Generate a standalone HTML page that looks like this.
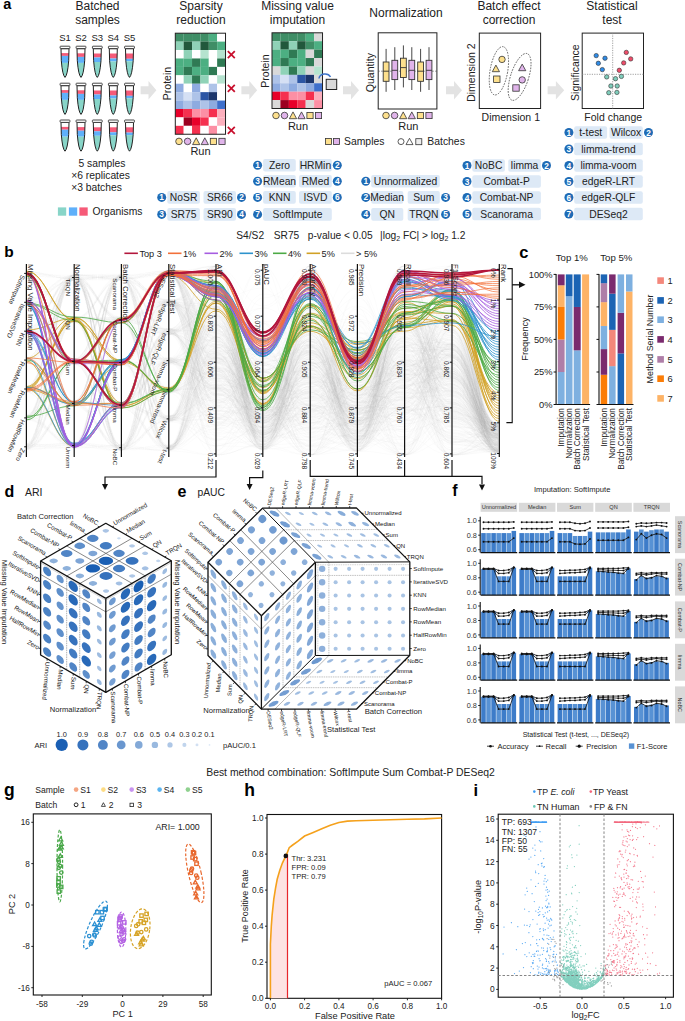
<!DOCTYPE html>
<html><head><meta charset="utf-8"><style>
html,body{margin:0;padding:0;background:#fff;width:685px;height:1021px;overflow:hidden}
svg{display:block}
text{font-family:"Liberation Sans",sans-serif}
</style></head><body>
<svg width="685" height="1021" viewBox="0 0 685 1021">
<text x="3.2" y="9.2" font-size="14.5" text-anchor="start" font-weight="bold" fill="#000" >a</text>
<text x="97.5" y="9.6" font-size="12" text-anchor="middle" font-weight="normal" fill="#222" >Batched</text>
<text x="97.5" y="23.6" font-size="12" text-anchor="middle" font-weight="normal" fill="#222" >samples</text>
<text x="201.0" y="9.6" font-size="12" text-anchor="middle" font-weight="normal" fill="#222" >Sparsity</text>
<text x="201.0" y="23.6" font-size="12" text-anchor="middle" font-weight="normal" fill="#222" >reduction</text>
<text x="297.5" y="9.6" font-size="12" text-anchor="middle" font-weight="normal" fill="#222" >Missing value</text>
<text x="297.5" y="23.6" font-size="12" text-anchor="middle" font-weight="normal" fill="#222" >imputation</text>
<text x="509.0" y="9.6" font-size="12" text-anchor="middle" font-weight="normal" fill="#222" >Batch effect</text>
<text x="509.0" y="23.6" font-size="12" text-anchor="middle" font-weight="normal" fill="#222" >correction</text>
<text x="612.0" y="9.6" font-size="12" text-anchor="middle" font-weight="normal" fill="#222" >Statistical</text>
<text x="612.0" y="23.6" font-size="12" text-anchor="middle" font-weight="normal" fill="#222" >test</text>
<text x="406.0" y="17.0" font-size="12" text-anchor="middle" font-weight="normal" fill="#222" >Normalization</text>
<text x="65.0" y="41.0" font-size="9.5" text-anchor="middle" font-weight="normal" fill="#222" >S1</text>
<text x="81.0" y="41.0" font-size="9.5" text-anchor="middle" font-weight="normal" fill="#222" >S2</text>
<text x="97.3" y="41.0" font-size="9.5" text-anchor="middle" font-weight="normal" fill="#222" >S3</text>
<text x="113.3" y="41.0" font-size="9.5" text-anchor="middle" font-weight="normal" fill="#222" >S4</text>
<text x="129.5" y="41.0" font-size="9.5" text-anchor="middle" font-weight="normal" fill="#222" >S5</text>
<clipPath id="tc00"><path d="M61.0,48.7 L61.3,60.7 Q62.5,75.4 65.0,77.4 Q67.5,75.4 68.7,60.7 L69.0,48.7 Z"/></clipPath>
<g clip-path="url(#tc00)"><rect x="60" y="53.1" width="10" height="2.8" fill="#f65a78"/><rect x="60" y="55.9" width="10" height="7.0" fill="#5fb0fa"/><rect x="60" y="62.9" width="10" height="20" fill="#88d5c8"/></g>
<path d="M61.0,48.7 L61.3,60.7 Q62.5,75.4 65.0,77.4 Q67.5,75.4 68.7,60.7 L69.0,48.7 Z" fill="none" stroke="#222" stroke-width="1"/>
<rect x="60.1" y="46.2" width="9.8" height="2.4" rx="0.6" fill="#fff" stroke="#333" stroke-width="0.9"/>
<clipPath id="tc01"><path d="M77.0,48.7 L77.3,60.7 Q78.5,75.4 81.0,77.4 Q83.5,75.4 84.7,60.7 L85.0,48.7 Z"/></clipPath>
<g clip-path="url(#tc01)"><rect x="76" y="53.3" width="10" height="3.6" fill="#f65a78"/><rect x="76" y="56.9" width="10" height="6.0" fill="#5fb0fa"/><rect x="76" y="62.9" width="10" height="20" fill="#88d5c8"/></g>
<path d="M77.0,48.7 L77.3,60.7 Q78.5,75.4 81.0,77.4 Q83.5,75.4 84.7,60.7 L85.0,48.7 Z" fill="none" stroke="#222" stroke-width="1"/>
<rect x="76.1" y="46.2" width="9.8" height="2.4" rx="0.6" fill="#fff" stroke="#333" stroke-width="0.9"/>
<clipPath id="tc02"><path d="M93.3,48.7 L93.6,60.7 Q94.8,75.4 97.3,77.4 Q99.8,75.4 101.0,60.7 L101.3,48.7 Z"/></clipPath>
<g clip-path="url(#tc02)"><rect x="92.3" y="53.5" width="10" height="4.0" fill="#f65a78"/><rect x="92.3" y="57.5" width="10" height="4.5" fill="#5fb0fa"/><rect x="92.3" y="62.0" width="10" height="20" fill="#88d5c8"/></g>
<path d="M93.3,48.7 L93.6,60.7 Q94.8,75.4 97.3,77.4 Q99.8,75.4 101.0,60.7 L101.3,48.7 Z" fill="none" stroke="#222" stroke-width="1"/>
<rect x="92.4" y="46.2" width="9.8" height="2.4" rx="0.6" fill="#fff" stroke="#333" stroke-width="0.9"/>
<clipPath id="tc03"><path d="M109.3,48.7 L109.6,60.7 Q110.8,75.4 113.3,77.4 Q115.8,75.4 117.0,60.7 L117.3,48.7 Z"/></clipPath>
<g clip-path="url(#tc03)"><rect x="108.3" y="53.5" width="10" height="5.0" fill="#f65a78"/><rect x="108.3" y="58.5" width="10" height="3.0" fill="#5fb0fa"/><rect x="108.3" y="61.5" width="10" height="20" fill="#88d5c8"/></g>
<path d="M109.3,48.7 L109.6,60.7 Q110.8,75.4 113.3,77.4 Q115.8,75.4 117.0,60.7 L117.3,48.7 Z" fill="none" stroke="#222" stroke-width="1"/>
<rect x="108.4" y="46.2" width="9.8" height="2.4" rx="0.6" fill="#fff" stroke="#333" stroke-width="0.9"/>
<clipPath id="tc04"><path d="M125.5,48.7 L125.8,60.7 Q127.0,75.4 129.5,77.4 Q132.0,75.4 133.2,60.7 L133.5,48.7 Z"/></clipPath>
<g clip-path="url(#tc04)"><rect x="124.5" y="53.5" width="10" height="5.3" fill="#f65a78"/><rect x="124.5" y="58.8" width="10" height="2.5" fill="#5fb0fa"/><rect x="124.5" y="61.3" width="10" height="20" fill="#88d5c8"/></g>
<path d="M125.5,48.7 L125.8,60.7 Q127.0,75.4 129.5,77.4 Q132.0,75.4 133.2,60.7 L133.5,48.7 Z" fill="none" stroke="#222" stroke-width="1"/>
<rect x="124.6" y="46.2" width="9.8" height="2.4" rx="0.6" fill="#fff" stroke="#333" stroke-width="0.9"/>
<clipPath id="tc10"><path d="M61.0,85.7 L61.3,97.7 Q62.5,112.4 65.0,114.4 Q67.5,112.4 68.7,97.7 L69.0,85.7 Z"/></clipPath>
<g clip-path="url(#tc10)"><rect x="60" y="90.1" width="10" height="2.8" fill="#f65a78"/><rect x="60" y="92.9" width="10" height="7.0" fill="#5fb0fa"/><rect x="60" y="99.9" width="10" height="20" fill="#88d5c8"/></g>
<path d="M61.0,85.7 L61.3,97.7 Q62.5,112.4 65.0,114.4 Q67.5,112.4 68.7,97.7 L69.0,85.7 Z" fill="none" stroke="#222" stroke-width="1"/>
<rect x="60.1" y="83.2" width="9.8" height="2.4" rx="0.6" fill="#fff" stroke="#333" stroke-width="0.9"/>
<clipPath id="tc11"><path d="M77.0,85.7 L77.3,97.7 Q78.5,112.4 81.0,114.4 Q83.5,112.4 84.7,97.7 L85.0,85.7 Z"/></clipPath>
<g clip-path="url(#tc11)"><rect x="76" y="90.3" width="10" height="3.6" fill="#f65a78"/><rect x="76" y="93.9" width="10" height="6.0" fill="#5fb0fa"/><rect x="76" y="99.9" width="10" height="20" fill="#88d5c8"/></g>
<path d="M77.0,85.7 L77.3,97.7 Q78.5,112.4 81.0,114.4 Q83.5,112.4 84.7,97.7 L85.0,85.7 Z" fill="none" stroke="#222" stroke-width="1"/>
<rect x="76.1" y="83.2" width="9.8" height="2.4" rx="0.6" fill="#fff" stroke="#333" stroke-width="0.9"/>
<clipPath id="tc12"><path d="M93.3,85.7 L93.6,97.7 Q94.8,112.4 97.3,114.4 Q99.8,112.4 101.0,97.7 L101.3,85.7 Z"/></clipPath>
<g clip-path="url(#tc12)"><rect x="92.3" y="90.5" width="10" height="4.0" fill="#f65a78"/><rect x="92.3" y="94.5" width="10" height="4.5" fill="#5fb0fa"/><rect x="92.3" y="99.0" width="10" height="20" fill="#88d5c8"/></g>
<path d="M93.3,85.7 L93.6,97.7 Q94.8,112.4 97.3,114.4 Q99.8,112.4 101.0,97.7 L101.3,85.7 Z" fill="none" stroke="#222" stroke-width="1"/>
<rect x="92.4" y="83.2" width="9.8" height="2.4" rx="0.6" fill="#fff" stroke="#333" stroke-width="0.9"/>
<clipPath id="tc13"><path d="M109.3,85.7 L109.6,97.7 Q110.8,112.4 113.3,114.4 Q115.8,112.4 117.0,97.7 L117.3,85.7 Z"/></clipPath>
<g clip-path="url(#tc13)"><rect x="108.3" y="90.5" width="10" height="5.0" fill="#f65a78"/><rect x="108.3" y="95.5" width="10" height="3.0" fill="#5fb0fa"/><rect x="108.3" y="98.5" width="10" height="20" fill="#88d5c8"/></g>
<path d="M109.3,85.7 L109.6,97.7 Q110.8,112.4 113.3,114.4 Q115.8,112.4 117.0,97.7 L117.3,85.7 Z" fill="none" stroke="#222" stroke-width="1"/>
<rect x="108.4" y="83.2" width="9.8" height="2.4" rx="0.6" fill="#fff" stroke="#333" stroke-width="0.9"/>
<clipPath id="tc14"><path d="M125.5,85.7 L125.8,97.7 Q127.0,112.4 129.5,114.4 Q132.0,112.4 133.2,97.7 L133.5,85.7 Z"/></clipPath>
<g clip-path="url(#tc14)"><rect x="124.5" y="90.5" width="10" height="5.3" fill="#f65a78"/><rect x="124.5" y="95.8" width="10" height="2.5" fill="#5fb0fa"/><rect x="124.5" y="98.3" width="10" height="20" fill="#88d5c8"/></g>
<path d="M125.5,85.7 L125.8,97.7 Q127.0,112.4 129.5,114.4 Q132.0,112.4 133.2,97.7 L133.5,85.7 Z" fill="none" stroke="#222" stroke-width="1"/>
<rect x="124.6" y="83.2" width="9.8" height="2.4" rx="0.6" fill="#fff" stroke="#333" stroke-width="0.9"/>
<clipPath id="tc20"><path d="M61.0,122.5 L61.3,134.5 Q62.5,149.2 65.0,151.2 Q67.5,149.2 68.7,134.5 L69.0,122.5 Z"/></clipPath>
<g clip-path="url(#tc20)"><rect x="60" y="126.9" width="10" height="2.8" fill="#f65a78"/><rect x="60" y="129.7" width="10" height="7.0" fill="#5fb0fa"/><rect x="60" y="136.7" width="10" height="20" fill="#88d5c8"/></g>
<path d="M61.0,122.5 L61.3,134.5 Q62.5,149.2 65.0,151.2 Q67.5,149.2 68.7,134.5 L69.0,122.5 Z" fill="none" stroke="#222" stroke-width="1"/>
<rect x="60.1" y="120.0" width="9.8" height="2.4" rx="0.6" fill="#fff" stroke="#333" stroke-width="0.9"/>
<clipPath id="tc21"><path d="M77.0,122.5 L77.3,134.5 Q78.5,149.2 81.0,151.2 Q83.5,149.2 84.7,134.5 L85.0,122.5 Z"/></clipPath>
<g clip-path="url(#tc21)"><rect x="76" y="127.1" width="10" height="3.6" fill="#f65a78"/><rect x="76" y="130.7" width="10" height="6.0" fill="#5fb0fa"/><rect x="76" y="136.7" width="10" height="20" fill="#88d5c8"/></g>
<path d="M77.0,122.5 L77.3,134.5 Q78.5,149.2 81.0,151.2 Q83.5,149.2 84.7,134.5 L85.0,122.5 Z" fill="none" stroke="#222" stroke-width="1"/>
<rect x="76.1" y="120.0" width="9.8" height="2.4" rx="0.6" fill="#fff" stroke="#333" stroke-width="0.9"/>
<clipPath id="tc22"><path d="M93.3,122.5 L93.6,134.5 Q94.8,149.2 97.3,151.2 Q99.8,149.2 101.0,134.5 L101.3,122.5 Z"/></clipPath>
<g clip-path="url(#tc22)"><rect x="92.3" y="127.3" width="10" height="4.0" fill="#f65a78"/><rect x="92.3" y="131.3" width="10" height="4.5" fill="#5fb0fa"/><rect x="92.3" y="135.8" width="10" height="20" fill="#88d5c8"/></g>
<path d="M93.3,122.5 L93.6,134.5 Q94.8,149.2 97.3,151.2 Q99.8,149.2 101.0,134.5 L101.3,122.5 Z" fill="none" stroke="#222" stroke-width="1"/>
<rect x="92.4" y="120.0" width="9.8" height="2.4" rx="0.6" fill="#fff" stroke="#333" stroke-width="0.9"/>
<clipPath id="tc23"><path d="M109.3,122.5 L109.6,134.5 Q110.8,149.2 113.3,151.2 Q115.8,149.2 117.0,134.5 L117.3,122.5 Z"/></clipPath>
<g clip-path="url(#tc23)"><rect x="108.3" y="127.3" width="10" height="5.0" fill="#f65a78"/><rect x="108.3" y="132.3" width="10" height="3.0" fill="#5fb0fa"/><rect x="108.3" y="135.3" width="10" height="20" fill="#88d5c8"/></g>
<path d="M109.3,122.5 L109.6,134.5 Q110.8,149.2 113.3,151.2 Q115.8,149.2 117.0,134.5 L117.3,122.5 Z" fill="none" stroke="#222" stroke-width="1"/>
<rect x="108.4" y="120.0" width="9.8" height="2.4" rx="0.6" fill="#fff" stroke="#333" stroke-width="0.9"/>
<clipPath id="tc24"><path d="M125.5,122.5 L125.8,134.5 Q127.0,149.2 129.5,151.2 Q132.0,149.2 133.2,134.5 L133.5,122.5 Z"/></clipPath>
<g clip-path="url(#tc24)"><rect x="124.5" y="127.3" width="10" height="5.3" fill="#f65a78"/><rect x="124.5" y="132.6" width="10" height="2.5" fill="#5fb0fa"/><rect x="124.5" y="135.1" width="10" height="20" fill="#88d5c8"/></g>
<path d="M125.5,122.5 L125.8,134.5 Q127.0,149.2 129.5,151.2 Q132.0,149.2 133.2,134.5 L133.5,122.5 Z" fill="none" stroke="#222" stroke-width="1"/>
<rect x="124.6" y="120.0" width="9.8" height="2.4" rx="0.6" fill="#fff" stroke="#333" stroke-width="0.9"/>
<text x="102.0" y="166.6" font-size="10.3" text-anchor="middle" font-weight="normal" fill="#222" >5 samples</text>
<text x="71.2" y="178.9" font-size="10.3" text-anchor="start" font-weight="normal" fill="#222" >×6 replicates</text>
<text x="71.2" y="191.2" font-size="10.3" text-anchor="start" font-weight="normal" fill="#222" >×3 batches</text>
<rect x="57.9" y="207.4" width="8.3" height="8.3" fill="#88d5c8"/>
<rect x="68.9" y="207.4" width="8.3" height="8.3" fill="#5fb0fa"/>
<rect x="79.4" y="207.4" width="8.3" height="8.3" fill="#f65a78"/>
<text x="92.6" y="215.3" font-size="10.3" text-anchor="start" font-weight="normal" fill="#222" >Organisms</text>
<path d="M140.6,86.2 L148.5,86.2 L148.5,81.0 L156.4,90.2 L148.5,99.5 L148.5,94.3 L140.6,94.3 Z" fill="#e3e3e3"/>
<path d="M241.4,86.2 L249.3,86.2 L249.3,81.0 L257.2,90.2 L249.3,99.5 L249.3,94.3 L241.4,94.3 Z" fill="#e3e3e3"/>
<path d="M343.0,86.2 L351.0,86.2 L351.0,81.0 L359.0,90.2 L351.0,99.5 L351.0,94.3 L343.0,94.3 Z" fill="#e3e3e3"/>
<path d="M446.0,86.2 L454.0,86.2 L454.0,81.0 L462.0,90.2 L454.0,99.5 L454.0,94.3 L446.0,94.3 Z" fill="#e3e3e3"/>
<path d="M547.6,86.2 L555.9,86.2 L555.9,81.0 L564.2,90.2 L555.9,99.5 L555.9,94.3 L547.6,94.3 Z" fill="#e3e3e3"/>
<rect x="175.30" y="33.20" width="8.42" height="8.47" fill="#3f8e66"/>
<rect x="183.67" y="33.20" width="8.42" height="8.47" fill="#3f8e66"/>
<rect x="192.04" y="33.20" width="8.42" height="8.47" fill="#3f8e66"/>
<rect x="200.41" y="33.20" width="8.42" height="8.47" fill="#3f8e66"/>
<rect x="208.78" y="33.20" width="8.42" height="8.47" fill="#4caf82"/>
<rect x="217.15" y="33.20" width="8.42" height="8.47" fill="#ffffff"/>
<rect x="175.30" y="41.62" width="8.42" height="8.47" fill="#8fd2b7"/>
<rect x="183.67" y="41.62" width="8.42" height="8.47" fill="#22583c"/>
<rect x="192.04" y="41.62" width="8.42" height="8.47" fill="#8fd2b7"/>
<rect x="200.41" y="41.62" width="8.42" height="8.47" fill="#22583c"/>
<rect x="208.78" y="41.62" width="8.42" height="8.47" fill="#3f8e66"/>
<rect x="217.15" y="41.62" width="8.42" height="8.47" fill="#4caf82"/>
<rect x="175.30" y="50.04" width="8.42" height="8.47" fill="#ffffff"/>
<rect x="183.67" y="50.04" width="8.42" height="8.47" fill="#8fd2b7"/>
<rect x="192.04" y="50.04" width="8.42" height="8.47" fill="#ffffff"/>
<rect x="200.41" y="50.04" width="8.42" height="8.47" fill="#b5e3cf"/>
<rect x="208.78" y="50.04" width="8.42" height="8.47" fill="#ffffff"/>
<rect x="217.15" y="50.04" width="8.42" height="8.47" fill="#b5e3cf"/>
<rect x="175.30" y="58.46" width="8.42" height="8.47" fill="#4caf82"/>
<rect x="183.67" y="58.46" width="8.42" height="8.47" fill="#4caf82"/>
<rect x="192.04" y="58.46" width="8.42" height="8.47" fill="#2f7a54"/>
<rect x="200.41" y="58.46" width="8.42" height="8.47" fill="#4caf82"/>
<rect x="208.78" y="58.46" width="8.42" height="8.47" fill="#ffffff"/>
<rect x="217.15" y="58.46" width="8.42" height="8.47" fill="#2f7a54"/>
<rect x="175.30" y="66.88" width="8.42" height="8.47" fill="#4caf82"/>
<rect x="183.67" y="66.88" width="8.42" height="8.47" fill="#2f7a54"/>
<rect x="192.04" y="66.88" width="8.42" height="8.47" fill="#4caf82"/>
<rect x="200.41" y="66.88" width="8.42" height="8.47" fill="#4caf82"/>
<rect x="208.78" y="66.88" width="8.42" height="8.47" fill="#2f7a54"/>
<rect x="217.15" y="66.88" width="8.42" height="8.47" fill="#ffffff"/>
<rect x="175.30" y="75.30" width="8.42" height="8.47" fill="#ffffff"/>
<rect x="183.67" y="75.30" width="8.42" height="8.47" fill="#8fd2b7"/>
<rect x="192.04" y="75.30" width="8.42" height="8.47" fill="#2f7a54"/>
<rect x="200.41" y="75.30" width="8.42" height="8.47" fill="#8fd2b7"/>
<rect x="208.78" y="75.30" width="8.42" height="8.47" fill="#ffffff"/>
<rect x="217.15" y="75.30" width="8.42" height="8.47" fill="#b5e3cf"/>
<rect x="175.30" y="83.72" width="8.42" height="8.47" fill="#8eabe0"/>
<rect x="183.67" y="83.72" width="8.42" height="8.47" fill="#ffffff"/>
<rect x="192.04" y="83.72" width="8.42" height="8.47" fill="#8eabe0"/>
<rect x="200.41" y="83.72" width="8.42" height="8.47" fill="#ffffff"/>
<rect x="208.78" y="83.72" width="8.42" height="8.47" fill="#aec3e8"/>
<rect x="217.15" y="83.72" width="8.42" height="8.47" fill="#ffffff"/>
<rect x="175.30" y="92.14" width="8.42" height="8.47" fill="#aec3e8"/>
<rect x="183.67" y="92.14" width="8.42" height="8.47" fill="#d5e0f4"/>
<rect x="192.04" y="92.14" width="8.42" height="8.47" fill="#aec3e8"/>
<rect x="200.41" y="92.14" width="8.42" height="8.47" fill="#2c56a4"/>
<rect x="208.78" y="92.14" width="8.42" height="8.47" fill="#1c366c"/>
<rect x="217.15" y="92.14" width="8.42" height="8.47" fill="#ffffff"/>
<rect x="175.30" y="100.56" width="8.42" height="8.47" fill="#8eabe0"/>
<rect x="183.67" y="100.56" width="8.42" height="8.47" fill="#aec3e8"/>
<rect x="192.04" y="100.56" width="8.42" height="8.47" fill="#8eabe0"/>
<rect x="200.41" y="100.56" width="8.42" height="8.47" fill="#aec3e8"/>
<rect x="208.78" y="100.56" width="8.42" height="8.47" fill="#8eabe0"/>
<rect x="217.15" y="100.56" width="8.42" height="8.47" fill="#3e6fcb"/>
<rect x="175.30" y="108.98" width="8.42" height="8.47" fill="#e8002a"/>
<rect x="183.67" y="108.98" width="8.42" height="8.47" fill="#f5304f"/>
<rect x="192.04" y="108.98" width="8.42" height="8.47" fill="#fc8fa4"/>
<rect x="200.41" y="108.98" width="8.42" height="8.47" fill="#fc8fa4"/>
<rect x="208.78" y="108.98" width="8.42" height="8.47" fill="#f5304f"/>
<rect x="217.15" y="108.98" width="8.42" height="8.47" fill="#fcafbd"/>
<rect x="175.30" y="117.40" width="8.42" height="8.47" fill="#ffffff"/>
<rect x="183.67" y="117.40" width="8.42" height="8.47" fill="#9c0020"/>
<rect x="192.04" y="117.40" width="8.42" height="8.47" fill="#e8002a"/>
<rect x="200.41" y="117.40" width="8.42" height="8.47" fill="#f5304f"/>
<rect x="208.78" y="117.40" width="8.42" height="8.47" fill="#ffffff"/>
<rect x="217.15" y="117.40" width="8.42" height="8.47" fill="#fcafbd"/>
<rect x="175.30" y="125.82" width="8.42" height="8.47" fill="#f5304f"/>
<rect x="183.67" y="125.82" width="8.42" height="8.47" fill="#ffffff"/>
<rect x="192.04" y="125.82" width="8.42" height="8.47" fill="#f5304f"/>
<rect x="200.41" y="125.82" width="8.42" height="8.47" fill="#ffffff"/>
<rect x="208.78" y="125.82" width="8.42" height="8.47" fill="#fc8fa4"/>
<rect x="217.15" y="125.82" width="8.42" height="8.47" fill="#ffffff"/>
<rect x="175.30" y="33.20" width="50.22" height="101.04" fill="none" stroke="#222" stroke-width="1"/>
<path d="M227.8,51.1 L234.8,58.1 M227.8,58.1 L234.8,51.1" stroke="#c8102e" stroke-width="1.8"/>
<path d="M227.8,84.8 L234.8,91.8 M227.8,91.8 L234.8,84.8" stroke="#c8102e" stroke-width="1.8"/>
<path d="M227.8,126.9 L234.8,133.9 M227.8,133.9 L234.8,126.9" stroke="#c8102e" stroke-width="1.8"/>
<text x="168.5" y="83.5" font-size="10.5" text-anchor="middle" font-weight="normal" fill="#222" transform="rotate(-90 168.5 83.5)" dominant-baseline="middle">Protein</text>
<rect x="272.00" y="32.80" width="8.47" height="8.46" fill="#3f8e66"/>
<rect x="280.42" y="32.80" width="8.47" height="8.46" fill="#3f8e66"/>
<rect x="288.84" y="32.80" width="8.47" height="8.46" fill="#3f8e66"/>
<rect x="297.26" y="32.80" width="8.47" height="8.46" fill="#3f8e66"/>
<rect x="305.68" y="32.80" width="8.47" height="8.46" fill="#4caf82"/>
<rect x="314.10" y="32.80" width="8.47" height="8.46" fill="#d9d9d9"/>
<rect x="272.00" y="41.21" width="8.47" height="8.46" fill="#8fd2b7"/>
<rect x="280.42" y="41.21" width="8.47" height="8.46" fill="#22583c"/>
<rect x="288.84" y="41.21" width="8.47" height="8.46" fill="#8fd2b7"/>
<rect x="297.26" y="41.21" width="8.47" height="8.46" fill="#22583c"/>
<rect x="305.68" y="41.21" width="8.47" height="8.46" fill="#3f8e66"/>
<rect x="314.10" y="41.21" width="8.47" height="8.46" fill="#4caf82"/>
<rect x="272.00" y="49.62" width="8.47" height="8.46" fill="#4caf82"/>
<rect x="280.42" y="49.62" width="8.47" height="8.46" fill="#4caf82"/>
<rect x="288.84" y="49.62" width="8.47" height="8.46" fill="#2f7a54"/>
<rect x="297.26" y="49.62" width="8.47" height="8.46" fill="#4caf82"/>
<rect x="305.68" y="49.62" width="8.47" height="8.46" fill="#d9d9d9"/>
<rect x="314.10" y="49.62" width="8.47" height="8.46" fill="#2f7a54"/>
<rect x="272.00" y="58.03" width="8.47" height="8.46" fill="#4caf82"/>
<rect x="280.42" y="58.03" width="8.47" height="8.46" fill="#2f7a54"/>
<rect x="288.84" y="58.03" width="8.47" height="8.46" fill="#4caf82"/>
<rect x="297.26" y="58.03" width="8.47" height="8.46" fill="#4caf82"/>
<rect x="305.68" y="58.03" width="8.47" height="8.46" fill="#2f7a54"/>
<rect x="314.10" y="58.03" width="8.47" height="8.46" fill="#d9d9d9"/>
<rect x="272.00" y="66.44" width="8.47" height="8.46" fill="#d9d9d9"/>
<rect x="280.42" y="66.44" width="8.47" height="8.46" fill="#8fd2b7"/>
<rect x="288.84" y="66.44" width="8.47" height="8.46" fill="#2f7a54"/>
<rect x="297.26" y="66.44" width="8.47" height="8.46" fill="#8fd2b7"/>
<rect x="305.68" y="66.44" width="8.47" height="8.46" fill="#d9d9d9"/>
<rect x="314.10" y="66.44" width="8.47" height="8.46" fill="#b5e3cf"/>
<rect x="272.00" y="74.85" width="8.47" height="8.46" fill="#aec3e8"/>
<rect x="280.42" y="74.85" width="8.47" height="8.46" fill="#d5e0f4"/>
<rect x="288.84" y="74.85" width="8.47" height="8.46" fill="#aec3e8"/>
<rect x="297.26" y="74.85" width="8.47" height="8.46" fill="#2c56a4"/>
<rect x="305.68" y="74.85" width="8.47" height="8.46" fill="#1c366c"/>
<rect x="314.10" y="74.85" width="8.47" height="8.46" fill="#d9d9d9"/>
<rect x="272.00" y="83.26" width="8.47" height="8.46" fill="#8eabe0"/>
<rect x="280.42" y="83.26" width="8.47" height="8.46" fill="#aec3e8"/>
<rect x="288.84" y="83.26" width="8.47" height="8.46" fill="#8eabe0"/>
<rect x="297.26" y="83.26" width="8.47" height="8.46" fill="#aec3e8"/>
<rect x="305.68" y="83.26" width="8.47" height="8.46" fill="#8eabe0"/>
<rect x="314.10" y="83.26" width="8.47" height="8.46" fill="#3e6fcb"/>
<rect x="272.00" y="91.67" width="8.47" height="8.46" fill="#e8002a"/>
<rect x="280.42" y="91.67" width="8.47" height="8.46" fill="#f5304f"/>
<rect x="288.84" y="91.67" width="8.47" height="8.46" fill="#fc8fa4"/>
<rect x="297.26" y="91.67" width="8.47" height="8.46" fill="#fc8fa4"/>
<rect x="305.68" y="91.67" width="8.47" height="8.46" fill="#f5304f"/>
<rect x="314.10" y="91.67" width="8.47" height="8.46" fill="#fcafbd"/>
<rect x="272.00" y="100.08" width="8.47" height="8.46" fill="#d9d9d9"/>
<rect x="280.42" y="100.08" width="8.47" height="8.46" fill="#9c0020"/>
<rect x="288.84" y="100.08" width="8.47" height="8.46" fill="#e8002a"/>
<rect x="297.26" y="100.08" width="8.47" height="8.46" fill="#f5304f"/>
<rect x="305.68" y="100.08" width="8.47" height="8.46" fill="#d9d9d9"/>
<rect x="314.10" y="100.08" width="8.47" height="8.46" fill="#fc8fa4"/>
<rect x="272.00" y="32.80" width="50.52" height="75.69" fill="none" stroke="#222" stroke-width="1"/>
<text x="266.0" y="71.0" font-size="10.5" text-anchor="middle" font-weight="normal" fill="#222" transform="rotate(-90 266 71)" dominant-baseline="middle">Protein</text>
<path d="M319,78.5 A6,5 0 0 1 330.5,77" fill="none" stroke="#3d73c9" stroke-width="1.5"/>
<rect x="326.2" y="79.3" width="10.5" height="10.2" fill="#d9d9d9" stroke="#222" stroke-width="1"/>
<circle cx="179.0" cy="141.4" r="3.3" fill="#fde08d" stroke="#333" stroke-width="0.8"/>
<circle cx="187.6" cy="141.4" r="3.3" fill="#e0b4ea" stroke="#333" stroke-width="0.8"/>
<path d="M196.2,137.8 L199.8,144.6 L192.6,144.6 Z" fill="#fde08d" stroke="#333" stroke-width="0.8"/>
<path d="M204.8,137.8 L208.4,144.6 L201.2,144.6 Z" fill="#e0b4ea" stroke="#333" stroke-width="0.8"/>
<rect x="210.3" y="138.3" width="6.2" height="6.2" fill="#fde08d" stroke="#333" stroke-width="0.8"/>
<rect x="218.9" y="138.3" width="6.2" height="6.2" fill="#e0b4ea" stroke="#333" stroke-width="0.8"/>
<text x="200.5" y="155.0" font-size="11" text-anchor="middle" font-weight="normal" fill="#222" >Run</text>
<circle cx="276.0" cy="115.5" r="3.3" fill="#fde08d" stroke="#333" stroke-width="0.8"/>
<circle cx="284.5" cy="115.5" r="3.3" fill="#e0b4ea" stroke="#333" stroke-width="0.8"/>
<path d="M293.0,111.9 L296.6,118.7 L289.4,118.7 Z" fill="#fde08d" stroke="#333" stroke-width="0.8"/>
<path d="M301.5,111.9 L305.1,118.7 L297.9,118.7 Z" fill="#e0b4ea" stroke="#333" stroke-width="0.8"/>
<rect x="306.9" y="112.4" width="6.2" height="6.2" fill="#fde08d" stroke="#333" stroke-width="0.8"/>
<rect x="315.4" y="112.4" width="6.2" height="6.2" fill="#e0b4ea" stroke="#333" stroke-width="0.8"/>
<text x="298.0" y="129.5" font-size="11" text-anchor="middle" font-weight="normal" fill="#222" >Run</text>
<rect x="378.2" y="32.8" width="58.7" height="76.2" fill="#fff" stroke="#222" stroke-width="1"/>
<line x1="378.2" y1="71.2" x2="436.9" y2="71.2" stroke="#555" stroke-width="0.7" stroke-dasharray="1.5,1.5"/>
<text x="371.2" y="72.6" font-size="10.5" text-anchor="middle" font-weight="normal" fill="#222" transform="rotate(-90 371.2 72.6)" dominant-baseline="middle">Quantity</text>
<line x1="386.1" y1="48.9" x2="386.1" y2="91.8" stroke="#333" stroke-width="0.9"/>
<rect x="383.2" y="62" width="5.8" height="19.3" fill="#fde08d" stroke="#333" stroke-width="0.9"/>
<line x1="383.2" y1="71.2" x2="389.0" y2="71.2" stroke="#333" stroke-width="0.9"/>
<line x1="394.8" y1="47.2" x2="394.8" y2="90" stroke="#333" stroke-width="0.9"/>
<rect x="391.9" y="60.3" width="5.8" height="19.3" fill="#e0b4ea" stroke="#333" stroke-width="0.9"/>
<line x1="391.9" y1="70.3" x2="397.7" y2="70.3" stroke="#333" stroke-width="0.9"/>
<line x1="403.4" y1="45.4" x2="403.4" y2="87.4" stroke="#333" stroke-width="0.9"/>
<rect x="400.5" y="58.2" width="5.8" height="19.3" fill="#fde08d" stroke="#333" stroke-width="0.9"/>
<line x1="400.5" y1="67.6" x2="406.3" y2="67.6" stroke="#333" stroke-width="0.9"/>
<line x1="411.8" y1="47.2" x2="411.8" y2="90" stroke="#333" stroke-width="0.9"/>
<rect x="408.9" y="60.3" width="5.8" height="19.3" fill="#e0b4ea" stroke="#333" stroke-width="0.9"/>
<line x1="408.9" y1="70.3" x2="414.7" y2="70.3" stroke="#333" stroke-width="0.9"/>
<line x1="420.6" y1="48.9" x2="420.6" y2="91.8" stroke="#333" stroke-width="0.9"/>
<rect x="417.7" y="62" width="5.8" height="19.3" fill="#fde08d" stroke="#333" stroke-width="0.9"/>
<line x1="417.7" y1="71.2" x2="423.5" y2="71.2" stroke="#333" stroke-width="0.9"/>
<line x1="429" y1="47.2" x2="429" y2="90" stroke="#333" stroke-width="0.9"/>
<rect x="426.1" y="60.3" width="5.8" height="19.3" fill="#e0b4ea" stroke="#333" stroke-width="0.9"/>
<line x1="426.1" y1="70.3" x2="431.9" y2="70.3" stroke="#333" stroke-width="0.9"/>
<circle cx="386.0" cy="115.5" r="3.3" fill="#fde08d" stroke="#333" stroke-width="0.8"/>
<circle cx="394.6" cy="115.5" r="3.3" fill="#e0b4ea" stroke="#333" stroke-width="0.8"/>
<path d="M403.2,111.9 L406.8,118.7 L399.6,118.7 Z" fill="#fde08d" stroke="#333" stroke-width="0.8"/>
<path d="M411.8,111.9 L415.4,118.7 L408.2,118.7 Z" fill="#e0b4ea" stroke="#333" stroke-width="0.8"/>
<rect x="417.3" y="112.4" width="6.2" height="6.2" fill="#fde08d" stroke="#333" stroke-width="0.8"/>
<rect x="425.9" y="112.4" width="6.2" height="6.2" fill="#e0b4ea" stroke="#333" stroke-width="0.8"/>
<text x="408.3" y="129.5" font-size="11" text-anchor="middle" font-weight="normal" fill="#222" >Run</text>
<rect x="325.5" y="138.5" width="6" height="6" fill="#fde08d" stroke="#333" stroke-width="0.8"/>
<rect x="333.5" y="138.5" width="6" height="6" fill="#e0b4ea" stroke="#333" stroke-width="0.8"/>
<text x="344.0" y="144.9" font-size="10.4" text-anchor="start" font-weight="normal" fill="#222" >Samples</text>
<circle cx="401" cy="141.6" r="3" fill="#fff" stroke="#333" stroke-width="0.8"/>
<path d="M409.5,138.3 L413,144.6 L406,144.6 Z" fill="#fff" stroke="#333" stroke-width="0.8"/>
<rect x="415.8" y="138.7" width="6" height="6" fill="#eee" stroke="#333" stroke-width="0.8"/>
<text x="427.3" y="144.9" font-size="10.4" text-anchor="start" font-weight="normal" fill="#222" >Batches</text>
<rect x="479.3" y="33.1" width="61.3" height="75.4" fill="#fff" stroke="#222" stroke-width="1"/>
<ellipse cx="498.9" cy="70.8" rx="8.8" ry="24.5" transform="rotate(10 498.9 70.8)" fill="none" stroke="#333" stroke-width="0.7" stroke-dasharray="1.6,1.2"/>
<ellipse cx="519.6" cy="76.9" rx="9" ry="24.5" transform="rotate(18 519.6 76.9)" fill="none" stroke="#333" stroke-width="0.7" stroke-dasharray="1.6,1.2"/>
<circle cx="502" cy="59.4" r="3.2" fill="#fde08d" stroke="#333" stroke-width="0.8"/>
<path d="M495.9,65.1 L499.5,71.7 L492.3,71.7 Z" fill="#fde08d" stroke="#333" stroke-width="0.8"/>
<rect x="493.6" y="76.0" width="6.4" height="6.4" fill="#fde08d" stroke="#333" stroke-width="0.8"/>
<path d="M522.2,64.1 L525.8,70.7 L518.6,70.7 Z" fill="#e0b4ea" stroke="#333" stroke-width="0.8"/>
<circle cx="522.2" cy="79.9" r="3.2" fill="#e0b4ea" stroke="#333" stroke-width="0.8"/>
<rect x="512.8" y="84.8" width="6.4" height="6.4" fill="#e0b4ea" stroke="#333" stroke-width="0.8"/>
<text x="472.6" y="72.6" font-size="10.5" text-anchor="middle" font-weight="normal" fill="#222" transform="rotate(-90 472.6 72.6)" dominant-baseline="middle">Dimension 2</text>
<text x="510.8" y="121.3" font-size="10.5" text-anchor="middle" font-weight="normal" fill="#222" >Dimension 1</text>
<rect x="582.2" y="33.1" width="61.3" height="75.4" fill="#fff" stroke="#222" stroke-width="1"/>
<line x1="612.7" y1="33.1" x2="612.7" y2="108.5" stroke="#888" stroke-width="0.8" stroke-dasharray="1.2,1.2"/>
<line x1="582.2" y1="74.3" x2="643.5" y2="74.3" stroke="#888" stroke-width="0.8" stroke-dasharray="1.2,1.2"/>
<circle cx="596.2" cy="55.6" r="2.2" fill="#2f8be6" stroke="#333" stroke-width="0.6"/>
<circle cx="605" cy="58.2" r="2.2" fill="#2f8be6" stroke="#333" stroke-width="0.6"/>
<circle cx="598.3" cy="63.3" r="2.2" fill="#2f8be6" stroke="#333" stroke-width="0.6"/>
<circle cx="602.3" cy="69.6" r="2.2" fill="#2f8be6" stroke="#333" stroke-width="0.6"/>
<circle cx="626.3" cy="52.4" r="2.2" fill="#ee4d6a" stroke="#333" stroke-width="0.6"/>
<circle cx="630.7" cy="58.9" r="2.2" fill="#ee4d6a" stroke="#333" stroke-width="0.6"/>
<circle cx="623.7" cy="62.9" r="2.2" fill="#ee4d6a" stroke="#333" stroke-width="0.6"/>
<circle cx="619.3" cy="70.3" r="2.2" fill="#ee4d6a" stroke="#333" stroke-width="0.6"/>
<circle cx="606.7" cy="76.9" r="2.2" fill="#7fcdbb" stroke="#333" stroke-width="0.6"/>
<circle cx="615.5" cy="78.7" r="2.2" fill="#7fcdbb" stroke="#333" stroke-width="0.6"/>
<circle cx="621.4" cy="76.4" r="2.2" fill="#7fcdbb" stroke="#333" stroke-width="0.6"/>
<circle cx="610.9" cy="86" r="2.2" fill="#7fcdbb" stroke="#333" stroke-width="0.6"/>
<circle cx="617.2" cy="86" r="2.2" fill="#7fcdbb" stroke="#333" stroke-width="0.6"/>
<circle cx="608.8" cy="92.7" r="2.2" fill="#7fcdbb" stroke="#333" stroke-width="0.6"/>
<circle cx="616.9" cy="92.4" r="2.2" fill="#7fcdbb" stroke="#333" stroke-width="0.6"/>
<text x="575.9" y="72.6" font-size="10.5" text-anchor="middle" font-weight="normal" fill="#222" transform="rotate(-90 575.9 72.6)" dominant-baseline="middle">Significance</text>
<text x="613.2" y="120.7" font-size="10.5" text-anchor="middle" font-weight="normal" fill="#222" >Fold change</text>
<circle cx="161.7" cy="197.4" r="4.5" fill="#1f6bb5"/>
<text x="161.7" y="200.4" font-size="8.4" font-weight="bold" text-anchor="middle" fill="#fff">1</text>
<rect x="167.3" y="191.1" width="32.6" height="12.6" rx="2" fill="#dde9f6"/>
<text x="183.6" y="201.1" font-size="10.3" text-anchor="middle" font-weight="normal" fill="#222" >NoSR</text>
<rect x="203.5" y="191.1" width="32.5" height="12.6" rx="2" fill="#dde9f6"/>
<text x="219.8" y="201.1" font-size="10.3" text-anchor="middle" font-weight="normal" fill="#222" >SR66</text>
<circle cx="241.5" cy="197.4" r="4.5" fill="#1f6bb5"/>
<text x="241.5" y="200.4" font-size="8.4" font-weight="bold" text-anchor="middle" fill="#fff">2</text>
<circle cx="161.7" cy="214.4" r="4.5" fill="#1f6bb5"/>
<text x="161.7" y="217.4" font-size="8.4" font-weight="bold" text-anchor="middle" fill="#fff">3</text>
<rect x="167.3" y="208.1" width="32.6" height="12.6" rx="2" fill="#dde9f6"/>
<text x="183.6" y="218.1" font-size="10.3" text-anchor="middle" font-weight="normal" fill="#222" >SR75</text>
<rect x="203.5" y="208.1" width="32.5" height="12.6" rx="2" fill="#dde9f6"/>
<text x="219.8" y="218.1" font-size="10.3" text-anchor="middle" font-weight="normal" fill="#222" >SR90</text>
<circle cx="241.5" cy="214.4" r="4.5" fill="#1f6bb5"/>
<text x="241.5" y="217.4" font-size="8.4" font-weight="bold" text-anchor="middle" fill="#fff">4</text>
<circle cx="257.6" cy="165.3" r="4.5" fill="#1f6bb5"/>
<text x="257.6" y="168.3" font-size="8.4" font-weight="bold" text-anchor="middle" fill="#fff">1</text>
<rect x="263.1" y="159.0" width="32.7" height="12.6" rx="2" fill="#dde9f6"/>
<text x="279.5" y="169.0" font-size="10.3" text-anchor="middle" font-weight="normal" fill="#222" >Zero</text>
<rect x="299.0" y="159.0" width="32.8" height="12.6" rx="2" fill="#dde9f6"/>
<text x="315.4" y="169.0" font-size="10.3" text-anchor="middle" font-weight="normal" fill="#222" >HRMin</text>
<circle cx="337.3" cy="165.3" r="4.5" fill="#1f6bb5"/>
<text x="337.3" y="168.3" font-size="8.4" font-weight="bold" text-anchor="middle" fill="#fff">2</text>
<circle cx="257.6" cy="181.2" r="4.5" fill="#1f6bb5"/>
<text x="257.6" y="184.2" font-size="8.4" font-weight="bold" text-anchor="middle" fill="#fff">3</text>
<rect x="263.1" y="174.9" width="32.7" height="12.6" rx="2" fill="#dde9f6"/>
<text x="279.5" y="184.9" font-size="10.3" text-anchor="middle" font-weight="normal" fill="#222" >RMean</text>
<rect x="299.0" y="174.9" width="32.8" height="12.6" rx="2" fill="#dde9f6"/>
<text x="315.4" y="184.9" font-size="10.3" text-anchor="middle" font-weight="normal" fill="#222" >RMed</text>
<circle cx="337.3" cy="181.2" r="4.5" fill="#1f6bb5"/>
<text x="337.3" y="184.2" font-size="8.4" font-weight="bold" text-anchor="middle" fill="#fff">4</text>
<circle cx="257.6" cy="197.4" r="4.5" fill="#1f6bb5"/>
<text x="257.6" y="200.4" font-size="8.4" font-weight="bold" text-anchor="middle" fill="#fff">5</text>
<rect x="263.1" y="191.1" width="32.7" height="12.6" rx="2" fill="#dde9f6"/>
<text x="279.5" y="201.1" font-size="10.3" text-anchor="middle" font-weight="normal" fill="#222" >KNN</text>
<rect x="299.0" y="191.1" width="32.8" height="12.6" rx="2" fill="#dde9f6"/>
<text x="315.4" y="201.1" font-size="10.3" text-anchor="middle" font-weight="normal" fill="#222" >ISVD</text>
<circle cx="337.3" cy="197.4" r="4.5" fill="#1f6bb5"/>
<text x="337.3" y="200.4" font-size="8.4" font-weight="bold" text-anchor="middle" fill="#fff">6</text>
<circle cx="257.6" cy="214.4" r="4.5" fill="#1f6bb5"/>
<text x="257.6" y="217.4" font-size="8.4" font-weight="bold" text-anchor="middle" fill="#fff">7</text>
<rect x="263.1" y="208.1" width="68.7" height="12.6" rx="2" fill="#dde9f6"/>
<text x="297.5" y="218.1" font-size="10.3" text-anchor="middle" font-weight="normal" fill="#222" >SoftImpute</text>
<circle cx="365.8" cy="181.2" r="4.5" fill="#1f6bb5"/>
<text x="365.8" y="184.2" font-size="8.4" font-weight="bold" text-anchor="middle" fill="#fff">1</text>
<rect x="371.2" y="174.9" width="68.6" height="12.6" rx="2" fill="#dde9f6"/>
<text x="405.5" y="184.9" font-size="10.3" text-anchor="middle" font-weight="normal" fill="#222" >Unnormalized</text>
<circle cx="365.8" cy="197.4" r="4.5" fill="#1f6bb5"/>
<text x="365.8" y="200.4" font-size="8.4" font-weight="bold" text-anchor="middle" fill="#fff">2</text>
<rect x="371.2" y="191.1" width="32.1" height="12.6" rx="2" fill="#dde9f6"/>
<text x="387.2" y="201.1" font-size="10.3" text-anchor="middle" font-weight="normal" fill="#222" >Median</text>
<rect x="407.7" y="191.1" width="32.1" height="12.6" rx="2" fill="#dde9f6"/>
<text x="423.8" y="201.1" font-size="10.3" text-anchor="middle" font-weight="normal" fill="#222" >Sum</text>
<circle cx="445.6" cy="197.4" r="4.5" fill="#1f6bb5"/>
<text x="445.6" y="200.4" font-size="8.4" font-weight="bold" text-anchor="middle" fill="#fff">3</text>
<circle cx="365.8" cy="214.4" r="4.5" fill="#1f6bb5"/>
<text x="365.8" y="217.4" font-size="8.4" font-weight="bold" text-anchor="middle" fill="#fff">4</text>
<rect x="371.2" y="208.1" width="32.1" height="12.6" rx="2" fill="#dde9f6"/>
<text x="387.2" y="218.1" font-size="10.3" text-anchor="middle" font-weight="normal" fill="#222" >QN</text>
<rect x="407.7" y="208.1" width="32.1" height="12.6" rx="2" fill="#dde9f6"/>
<text x="423.8" y="218.1" font-size="10.3" text-anchor="middle" font-weight="normal" fill="#222" >TRQN</text>
<circle cx="445.6" cy="214.4" r="4.5" fill="#1f6bb5"/>
<text x="445.6" y="217.4" font-size="8.4" font-weight="bold" text-anchor="middle" fill="#fff">5</text>
<circle cx="467.0" cy="165.5" r="4.5" fill="#1f6bb5"/>
<text x="467.0" y="168.5" font-size="8.4" font-weight="bold" text-anchor="middle" fill="#fff">1</text>
<rect x="472.3" y="159.2" width="32.6" height="12.6" rx="2" fill="#dde9f6"/>
<text x="488.6" y="169.2" font-size="10.3" text-anchor="middle" font-weight="normal" fill="#222" >NoBC</text>
<rect x="508.3" y="159.2" width="32.6" height="12.6" rx="2" fill="#dde9f6"/>
<text x="524.6" y="169.2" font-size="10.3" text-anchor="middle" font-weight="normal" fill="#222" >limma</text>
<circle cx="546.5" cy="165.5" r="4.5" fill="#1f6bb5"/>
<text x="546.5" y="168.5" font-size="8.4" font-weight="bold" text-anchor="middle" fill="#fff">2</text>
<circle cx="467.0" cy="181.5" r="4.5" fill="#1f6bb5"/>
<text x="467.0" y="184.5" font-size="8.4" font-weight="bold" text-anchor="middle" fill="#fff">3</text>
<rect x="472.3" y="175.2" width="68.6" height="12.6" rx="2" fill="#dde9f6"/>
<text x="506.6" y="185.2" font-size="10.3" text-anchor="middle" font-weight="normal" fill="#222" >Combat-P</text>
<circle cx="467.0" cy="197.5" r="4.5" fill="#1f6bb5"/>
<text x="467.0" y="200.5" font-size="8.4" font-weight="bold" text-anchor="middle" fill="#fff">4</text>
<rect x="472.3" y="191.2" width="68.6" height="12.6" rx="2" fill="#dde9f6"/>
<text x="506.6" y="201.2" font-size="10.3" text-anchor="middle" font-weight="normal" fill="#222" >Combat-NP</text>
<circle cx="467.0" cy="214.0" r="4.5" fill="#1f6bb5"/>
<text x="467.0" y="217.0" font-size="8.4" font-weight="bold" text-anchor="middle" fill="#fff">5</text>
<rect x="472.3" y="207.7" width="68.6" height="12.6" rx="2" fill="#dde9f6"/>
<text x="506.6" y="217.7" font-size="10.3" text-anchor="middle" font-weight="normal" fill="#222" >Scanorama</text>
<circle cx="568.9" cy="132.5" r="4.5" fill="#1f6bb5"/>
<text x="568.9" y="135.5" font-size="8.4" font-weight="bold" text-anchor="middle" fill="#fff">1</text>
<rect x="574.2" y="126.2" width="32.9" height="12.6" rx="2" fill="#dde9f6"/>
<text x="590.7" y="136.2" font-size="10.3" text-anchor="middle" font-weight="normal" fill="#222" >t-test</text>
<rect x="609.5" y="126.2" width="33.3" height="12.6" rx="2" fill="#dde9f6"/>
<text x="626.1" y="136.2" font-size="10.3" text-anchor="middle" font-weight="normal" fill="#222" >Wilcox</text>
<circle cx="648.5" cy="132.5" r="4.5" fill="#1f6bb5"/>
<text x="648.5" y="135.5" font-size="8.4" font-weight="bold" text-anchor="middle" fill="#fff">2</text>
<circle cx="568.9" cy="149.0" r="4.5" fill="#1f6bb5"/>
<text x="568.9" y="152.0" font-size="8.4" font-weight="bold" text-anchor="middle" fill="#fff">3</text>
<rect x="574.2" y="142.7" width="68.6" height="12.6" rx="2" fill="#dde9f6"/>
<text x="608.5" y="152.7" font-size="10.3" text-anchor="middle" font-weight="normal" fill="#222" >limma-trend</text>
<circle cx="568.9" cy="165.5" r="4.5" fill="#1f6bb5"/>
<text x="568.9" y="168.5" font-size="8.4" font-weight="bold" text-anchor="middle" fill="#fff">4</text>
<rect x="574.2" y="159.2" width="68.6" height="12.6" rx="2" fill="#dde9f6"/>
<text x="608.5" y="169.2" font-size="10.3" text-anchor="middle" font-weight="normal" fill="#222" >limma-voom</text>
<circle cx="568.9" cy="181.5" r="4.5" fill="#1f6bb5"/>
<text x="568.9" y="184.5" font-size="8.4" font-weight="bold" text-anchor="middle" fill="#fff">5</text>
<rect x="574.2" y="175.2" width="68.6" height="12.6" rx="2" fill="#dde9f6"/>
<text x="608.5" y="185.2" font-size="10.3" text-anchor="middle" font-weight="normal" fill="#222" >edgeR-LRT</text>
<circle cx="568.9" cy="197.5" r="4.5" fill="#1f6bb5"/>
<text x="568.9" y="200.5" font-size="8.4" font-weight="bold" text-anchor="middle" fill="#fff">6</text>
<rect x="574.2" y="191.2" width="68.6" height="12.6" rx="2" fill="#dde9f6"/>
<text x="608.5" y="201.2" font-size="10.3" text-anchor="middle" font-weight="normal" fill="#222" >edgeR-QLF</text>
<circle cx="568.9" cy="214.0" r="4.5" fill="#1f6bb5"/>
<text x="568.9" y="217.0" font-size="8.4" font-weight="bold" text-anchor="middle" fill="#fff">7</text>
<rect x="574.2" y="207.7" width="68.6" height="12.6" rx="2" fill="#dde9f6"/>
<text x="608.5" y="217.7" font-size="10.3" text-anchor="middle" font-weight="normal" fill="#222" >DESeq2</text><text x="4.2" y="257.0" font-size="15.5" text-anchor="start" font-weight="bold" fill="#000" >b</text>
<text x="236.3" y="239.3" font-size="10.2" fill="#222">S4/S2<tspan x="273.8">SR75</tspan><tspan x="307.8">p-value &lt; 0.05</tspan><tspan x="380">|log</tspan><tspan font-size="7" dy="2">2</tspan><tspan dy="-2"> FC| &gt; log</tspan><tspan font-size="7" dy="2">2</tspan><tspan dy="-2"> 1.2</tspan></text>
<line x1="124.4" y1="253.3" x2="137.9" y2="253.3" stroke="#b3173c" stroke-width="1.6"/>
<text x="139.4" y="256.5" font-size="9.2" text-anchor="start" font-weight="normal" fill="#222" >Top 3</text>
<line x1="168" y1="253.3" x2="181.5" y2="253.3" stroke="#f2703a" stroke-width="1.6"/>
<text x="183.0" y="256.5" font-size="9.2" text-anchor="start" font-weight="normal" fill="#222" >1%</text>
<line x1="204.5" y1="253.3" x2="218.0" y2="253.3" stroke="#a65de0" stroke-width="1.6"/>
<text x="219.5" y="256.5" font-size="9.2" text-anchor="start" font-weight="normal" fill="#222" >2%</text>
<line x1="239.5" y1="253.3" x2="253.0" y2="253.3" stroke="#2e93cc" stroke-width="1.6"/>
<text x="254.5" y="256.5" font-size="9.2" text-anchor="start" font-weight="normal" fill="#222" >3%</text>
<line x1="273" y1="253.3" x2="286.5" y2="253.3" stroke="#4caa45" stroke-width="1.6"/>
<text x="288.0" y="256.5" font-size="9.2" text-anchor="start" font-weight="normal" fill="#222" >4%</text>
<line x1="306.6" y1="253.3" x2="320.1" y2="253.3" stroke="#d1a126" stroke-width="1.6"/>
<text x="321.6" y="256.5" font-size="9.2" text-anchor="start" font-weight="normal" fill="#222" >5%</text>
<line x1="341" y1="253.3" x2="354.5" y2="253.3" stroke="#dcdcdc" stroke-width="1.6"/>
<text x="356.0" y="256.5" font-size="9.2" text-anchor="start" font-weight="normal" fill="#222" >&gt; 5%</text>
<path d="M26 334c20 0 28 70 48 70c20 0 27 -125 47 -125c20 0 27 -7 47 -7M26 447c20 0 28 -127 48 -127c20 0 27 130 47 130c20 0 27 -60 47 -60M26 391c20 0 28 -74 48 -74c20 0 27 132 47 132c20 0 27 -120 47 -120M26 359c20 0 28 -38 48 -38c20 0 27 -4 47 -4c20 0 27 15 47 15M26 305c20 0 28 96 48 96c20 0 27 -122 47 -122c20 0 27 113 47 113M26 331c20 0 28 -56 48 -56c20 0 27 88 47 88c20 0 27 58 47 58M26 272c20 0 28 87 48 87c20 0 27 -40 47 -40c20 0 27 129 47 129M26 332c20 0 28 74 48 74c20 0 27 -89 47 -89c20 0 27 -16 47 -16M26 388c20 0 28 -67 48 -67c20 0 27 129 47 129c20 0 27 -30 47 -30M26 273c20 0 28 128 48 128c20 0 27 -121 47 -121c20 0 27 79 47 79M26 445c20 0 28 -44 48 -44c20 0 27 -36 47 -36c20 0 27 24 47 24M26 333c20 0 28 72 48 72c20 0 27 -85 47 -85c20 0 27 -15 47 -15M26 420c20 0 28 25 48 25c20 0 27 -126 47 -126c20 0 27 -16 47 -16M26 446c20 0 28 -128 48 -128c20 0 27 86 47 86c20 0 27 -128 47 -128M26 334c20 0 28 25 48 25c20 0 27 -83 47 -83c20 0 27 25 47 25M26 448c20 0 28 -43 48 -43c20 0 27 -85 47 -85c20 0 27 -18 47 -18M26 300c20 0 28 17 48 17c20 0 27 133 47 133c20 0 27 -1 47 -1M26 450c20 0 28 -172 48 -172c20 0 27 42 47 42c20 0 27 126 47 126M26 445c20 0 28 -81 48 -81c20 0 27 86 47 86c20 0 27 -61 47 -61M26 275c20 0 28 43 48 43c20 0 27 88 47 88c20 0 27 -132 47 -132M26 328c20 0 28 -50 48 -50c20 0 27 167 47 167c20 0 27 -172 47 -172M26 303c20 0 28 61 48 61c20 0 27 -42 47 -42c20 0 27 -20 47 -20M26 445c20 0 28 -86 48 -86c20 0 27 -36 47 -36c20 0 27 -19 47 -19M26 359c20 0 28 -40 48 -40c20 0 27 -40 47 -40c20 0 27 -7 47 -7M26 445c20 0 28 -170 48 -170c20 0 27 85 47 85c20 0 27 86 47 86M26 389c20 0 28 -30 48 -30c20 0 27 -80 47 -80c20 0 27 23 47 23M26 445c20 0 28 -168 48 -168c20 0 27 170 47 170c20 0 27 -115 47 -115M26 417c20 0 28 -99 48 -99c20 0 27 131 47 131c20 0 27 -118 47 -118M26 358c20 0 28 46 48 46c20 0 27 46 47 46c20 0 27 -87 47 -87M26 334c20 0 28 -17 48 -17c20 0 27 45 47 45c20 0 27 -91 47 -91M26 301c20 0 28 -25 48 -25c20 0 27 89 47 89c20 0 27 24 47 24M26 416c20 0 28 31 48 31c20 0 27 -171 47 -171c20 0 27 -5 47 -5M26 303c20 0 28 142 48 142c20 0 27 -81 47 -81c20 0 27 -5 47 -5M26 447c20 0 28 0 48 0c20 0 27 3 47 3c20 0 27 -5 47 -5M26 417c20 0 28 -140 48 -140c20 0 27 128 47 128c20 0 27 11 47 11M26 274c20 0 28 5 48 5c20 0 27 125 47 125c20 0 27 -129 47 -129M26 417c20 0 28 -139 48 -139c20 0 27 39 47 39c20 0 27 -16 47 -16M26 275c20 0 28 127 48 127c20 0 27 44 47 44c20 0 27 -86 47 -86M26 447c20 0 28 -41 48 -41c20 0 27 -3 47 -3c20 0 27 -103 47 -103M26 275c20 0 28 44 48 44c20 0 27 85 47 85c20 0 27 -105 47 -105M26 272c20 0 28 92 48 92c20 0 27 -84 47 -84c20 0 27 24 47 24M26 362c20 0 28 -86 48 -86c20 0 27 3 47 3c20 0 27 53 47 53M26 275c20 0 28 131 48 131c20 0 27 42 47 42c20 0 27 -32 47 -32M26 387c20 0 28 16 48 16c20 0 27 -42 47 -42c20 0 27 59 47 59M26 272c20 0 28 132 48 132c20 0 27 4 47 4c20 0 27 40 47 40M26 387c20 0 28 -108 48 -108c20 0 27 125 47 125c20 0 27 15 47 15M26 420c20 0 28 -103 48 -103c20 0 27 2 47 2c20 0 27 100 47 100M26 363c20 0 28 38 48 38c20 0 27 7 47 7c20 0 27 40 47 40M26 448c20 0 28 -47 48 -47c20 0 27 -127 47 -127c20 0 27 27 47 27M26 271c20 0 28 91 48 91c20 0 27 84 47 84c20 0 27 -116 47 -116M26 360c20 0 28 84 48 84c20 0 27 -38 47 -38c20 0 27 -77 47 -77M26 357c20 0 28 6 48 6c20 0 27 1 47 1c20 0 27 -65 47 -65M26 358c20 0 28 1 48 1c20 0 27 89 47 89c20 0 27 -143 47 -143M26 387c20 0 28 -108 48 -108c20 0 27 40 47 40c20 0 27 102 47 102M26 272c20 0 28 134 48 134c20 0 27 -44 47 -44c20 0 27 -92 47 -92M26 446c20 0 28 -45 48 -45c20 0 27 2 47 2c20 0 27 -11 47 -11M26 273c20 0 28 128 48 128c20 0 27 -125 47 -125c20 0 27 140 47 140M26 330c20 0 28 118 48 118c20 0 27 -174 47 -174c20 0 27 26 47 26M26 358c20 0 28 5 48 5c20 0 27 -42 47 -42c20 0 27 13 47 13M26 415c20 0 28 31 48 31c20 0 27 -123 47 -123c20 0 27 -47 47 -47M26 360c20 0 28 -39 48 -39c20 0 27 -42 47 -42c20 0 27 51 47 51M26 387c20 0 28 -110 48 -110c20 0 27 43 47 43c20 0 27 -17 47 -17M26 328c20 0 28 32 48 32c20 0 27 -85 47 -85c20 0 27 174 47 174M26 274c20 0 28 171 48 171c20 0 27 -168 47 -168c20 0 27 23 47 23M26 329c20 0 28 30 48 30c20 0 27 -80 47 -80c20 0 27 111 47 111M26 331c20 0 28 32 48 32c20 0 27 45 47 45c20 0 27 -75 47 -75M26 358c20 0 28 -81 48 -81c20 0 27 42 47 42c20 0 27 127 47 127M26 358c20 0 28 90 48 90c20 0 27 -2 47 -2c20 0 27 -116 47 -116M26 304c20 0 28 -24 48 -24c20 0 27 124 47 124c20 0 27 -12 47 -12M26 361c20 0 28 -40 48 -40c20 0 27 -1 47 -1c20 0 27 -47 47 -47M26 391c20 0 28 -112 48 -112c20 0 27 81 47 81c20 0 27 30 47 30M26 389c20 0 28 -114 48 -114c20 0 27 130 47 130c20 0 27 -43 47 -43M26 275c20 0 28 171 48 171c20 0 27 -171 47 -171c20 0 27 25 47 25M26 299c20 0 28 -19 48 -19c20 0 27 -5 47 -5c20 0 27 84 47 84M26 329c20 0 28 115 48 115c20 0 27 -41 47 -41c20 0 27 -10 47 -10M26 421c20 0 28 -57 48 -57c20 0 27 -42 47 -42c20 0 27 7 47 7M26 272c20 0 28 174 48 174c20 0 27 -39 47 -39c20 0 27 -77 47 -77M26 272c20 0 28 172 48 172c20 0 27 6 47 6c20 0 27 -117 47 -117M26 358c20 0 28 -83 48 -83c20 0 27 3 47 3c20 0 27 51 47 51M26 299c20 0 28 22 48 22c20 0 27 82 47 82c20 0 27 14 47 14M26 390c20 0 28 14 48 14c20 0 27 45 47 45c20 0 27 -149 47 -149M26 389c20 0 28 -72 48 -72c20 0 27 3 47 3c20 0 27 99 47 99M26 447c20 0 28 -4 48 -4c20 0 27 -36 47 -36c20 0 27 -49 47 -49M26 421c20 0 28 -58 48 -58c20 0 27 0 47 0c20 0 27 56 47 56M26 271c20 0 28 51 48 51c20 0 27 1 47 1c20 0 27 98 47 98M26 450c20 0 28 -47 48 -47c20 0 27 46 47 46c20 0 27 -4 47 -4M26 300c20 0 28 -25 48 -25c20 0 27 175 47 175c20 0 27 -116 47 -116M26 447c20 0 28 -87 48 -87c20 0 27 90 47 90c20 0 27 -175 47 -175M26 448c20 0 28 -169 48 -169c20 0 27 83 47 83c20 0 27 -62 47 -62M26 419c20 0 28 -56 48 -56c20 0 27 85 47 85c20 0 27 -1 47 -1M26 387c20 0 28 -109 48 -109c20 0 27 83 47 83c20 0 27 -88 47 -88M26 361c20 0 28 83 48 83c20 0 27 -125 47 -125c20 0 27 -14 47 -14M26 274c20 0 28 85 48 85c20 0 27 48 47 48c20 0 27 9 47 9M26 416c20 0 28 -15 48 -15c20 0 27 48 47 48c20 0 27 0 47 0M26 360c20 0 28 2 48 2c20 0 27 -43 47 -43c20 0 27 102 47 102M26 304c20 0 28 142 48 142c20 0 27 -128 47 -128c20 0 27 -17 47 -17M26 333c20 0 28 69 48 69c20 0 27 -124 47 -124c20 0 27 -6 47 -6M26 331c20 0 28 -13 48 -13c20 0 27 84 47 84c20 0 27 -97 47 -97M26 448c20 0 28 0 48 0c20 0 27 -127 47 -127c20 0 27 39 47 39M26 446c20 0 28 -45 48 -45c20 0 27 4 47 4c20 0 27 17 47 17M26 387c20 0 28 -67 48 -67c20 0 27 -41 47 -41c20 0 27 82 47 82M26 305c20 0 28 14 48 14c20 0 27 -40 47 -40c20 0 27 110 47 110M26 332c20 0 28 -56 48 -56c20 0 27 132 47 132c20 0 27 -15 47 -15M26 302c20 0 28 145 48 145c20 0 27 -128 47 -128c20 0 27 102 47 102M26 449c20 0 28 -86 48 -86c20 0 27 2 47 2c20 0 27 52 47 52M26 415c20 0 28 -56 48 -56c20 0 27 6 47 6c20 0 27 -94 47 -94M26 305c20 0 28 55 48 55c20 0 27 -82 47 -82c20 0 27 169 47 169M26 392c20 0 28 -113 48 -113c20 0 27 170 47 170c20 0 27 -2 47 -2M26 359c20 0 28 -40 48 -40c20 0 27 126 47 126c20 0 27 -82 47 -82M26 418c20 0 28 -54 48 -54c20 0 27 -2 47 -2c20 0 27 54 47 54M26 273c20 0 28 132 48 132c20 0 27 -88 47 -88c20 0 27 101 47 101M26 331c20 0 28 71 48 71c20 0 27 -123 47 -123c20 0 27 52 47 52M26 272c20 0 28 91 48 91c20 0 27 -43 47 -43c20 0 27 96 47 96M26 272c20 0 28 132 48 132c20 0 27 -125 47 -125c20 0 27 111 47 111M26 361c20 0 28 -44 48 -44c20 0 27 5 47 5c20 0 27 40 47 40M26 329c20 0 28 -53 48 -53c20 0 27 129 47 129c20 0 27 -13 47 -13M26 358c20 0 28 46 48 46c20 0 27 -84 47 -84c20 0 27 41 47 41M26 444c20 0 28 -169 48 -169c20 0 27 1 47 1c20 0 27 112 47 112M26 272c20 0 28 175 48 175c20 0 27 -41 47 -41c20 0 27 -72 47 -72M26 333c20 0 28 -11 48 -11c20 0 27 84 47 84c20 0 27 -75 47 -75M26 420c20 0 28 -17 48 -17c20 0 27 5 47 5c20 0 27 42 47 42M26 421c20 0 28 -101 48 -101c20 0 27 43 47 43c20 0 27 -61 47 -61M26 358c20 0 28 -82 48 -82c20 0 27 46 47 46c20 0 27 129 47 129M26 389c20 0 28 13 48 13c20 0 27 -83 47 -83c20 0 27 -45 47 -45M26 446c20 0 28 -170 48 -170c20 0 27 172 47 172c20 0 27 -114 47 -114M26 332c20 0 28 29 48 29c20 0 27 89 47 89c20 0 27 -150 47 -150M26 330c20 0 28 113 48 113c20 0 27 -167 47 -167c20 0 27 174 47 174M26 447c20 0 28 -129 48 -129c20 0 27 -42 47 -42c20 0 27 26 47 26M26 447c20 0 28 -41 48 -41c20 0 27 -130 47 -130c20 0 27 112 47 112M26 416c20 0 28 -136 48 -136c20 0 27 80 47 80c20 0 27 32 47 32M26 301c20 0 28 -21 48 -21c20 0 27 83 47 83c20 0 27 -1 47 -1M26 305c20 0 28 -28 48 -28c20 0 27 45 47 45c20 0 27 -17 47 -17M26 362c20 0 28 -85 48 -85c20 0 27 84 47 84c20 0 27 -59 47 -59M26 445c20 0 28 -42 48 -42c20 0 27 -86 47 -86c20 0 27 75 47 75M26 274c20 0 28 46 48 46c20 0 27 40 47 40c20 0 27 86 47 86M26 275c20 0 28 84 48 84c20 0 27 -82 47 -82c20 0 27 112 47 112M26 301c20 0 28 16 48 16c20 0 27 3 47 3c20 0 27 -16 47 -16M26 390c20 0 28 -70 48 -70c20 0 27 -3 47 -3c20 0 27 103 47 103M26 358c20 0 28 48 48 48c20 0 27 -3 47 -3c20 0 27 15 47 15M26 392c20 0 28 51 48 51c20 0 27 -79 47 -79c20 0 27 86 47 86M26 418c20 0 28 25 48 25c20 0 27 3 47 3c20 0 27 -141 47 -141M26 419c20 0 28 -60 48 -60c20 0 27 90 47 90c20 0 27 -88 47 -88M26 391c20 0 28 -116 48 -116c20 0 27 132 47 132c20 0 27 -17 47 -17M26 361c20 0 28 87 48 87c20 0 27 -3 47 -3c20 0 27 -170 47 -170M26 446c20 0 28 -3 48 -3c20 0 27 3 47 3c20 0 27 -24 47 -24M26 390c20 0 28 -73 48 -73c20 0 27 90 47 90c20 0 27 -46 47 -46M26 332c20 0 28 -54 48 -54c20 0 27 82 47 82c20 0 27 -87 47 -87M26 391c20 0 28 -114 48 -114c20 0 27 173 47 173c20 0 27 -92 47 -92M26 447c20 0 28 -3 48 -3c20 0 27 -41 47 -41c20 0 27 15 47 15M26 388c20 0 28 57 48 57c20 0 27 -85 47 -85c20 0 27 -59 47 -59M26 391c20 0 28 13 48 13c20 0 27 43 47 43c20 0 27 -87 47 -87M26 303c20 0 28 143 48 143c20 0 27 -82 47 -82c20 0 27 23 47 23M26 362c20 0 28 -85 48 -85c20 0 27 171 47 171c20 0 27 -88 47 -88M26 418c20 0 28 -58 48 -58c20 0 27 45 47 45c20 0 27 -16 47 -16M26 302c20 0 28 102 48 102c20 0 27 -125 47 -125c20 0 27 51 47 51M26 272c20 0 28 130 48 130c20 0 27 47 47 47c20 0 27 -58 47 -58M26 363c20 0 28 -85 48 -85c20 0 27 -1 47 -1c20 0 27 112 47 112M26 388c20 0 28 59 48 59c20 0 27 -172 47 -172c20 0 27 56 47 56M26 391c20 0 28 13 48 13c20 0 27 42 47 42c20 0 27 -58 47 -58M26 415c20 0 28 -14 48 -14c20 0 27 -125 47 -125c20 0 27 143 47 143M26 388c20 0 28 58 48 58c20 0 27 -126 47 -126c20 0 27 41 47 41M26 361c20 0 28 -83 48 -83c20 0 27 169 47 169c20 0 27 -30 47 -30M26 388c20 0 28 -112 48 -112c20 0 27 130 47 130c20 0 27 -133 47 -133M26 447c20 0 28 -43 48 -43c20 0 27 4 47 4c20 0 27 -136 47 -136M26 300c20 0 28 19 48 19c20 0 27 -2 47 -2c20 0 27 14 47 14M26 332c20 0 28 70 48 70c20 0 27 -40 47 -40c20 0 27 -4 47 -4M26 303c20 0 28 103 48 103c20 0 27 -88 47 -88c20 0 27 12 47 12M26 416c20 0 28 -54 48 -54c20 0 27 44 47 44c20 0 27 -74 47 -74M26 420c20 0 28 -19 48 -19c20 0 27 45 47 45c20 0 27 -173 47 -173M26 333c20 0 28 27 48 27c20 0 27 0 47 0c20 0 27 -31 47 -31M26 305c20 0 28 12 48 12c20 0 27 48 47 48c20 0 27 -91 47 -91M26 390c20 0 28 -113 48 -113c20 0 27 169 47 169c20 0 27 -142 47 -142M26 361c20 0 28 3 48 3c20 0 27 83 47 83c20 0 27 -176 47 -176M26 416c20 0 28 -56 48 -56c20 0 27 4 47 4c20 0 27 -91 47 -91M26 363c20 0 28 84 48 84c20 0 27 -42 47 -42c20 0 27 15 47 15M26 447c20 0 28 -127 48 -127c20 0 27 0 47 0c20 0 27 -15 47 -15M26 359c20 0 28 -42 48 -42c20 0 27 86 47 86c20 0 27 15 47 15M26 449c20 0 28 -129 48 -129c20 0 27 87 47 87c20 0 27 -44 47 -44M26 417c20 0 28 -142 48 -142c20 0 27 130 47 130c20 0 27 -75 47 -75M26 418c20 0 28 -140 48 -140c20 0 27 127 47 127c20 0 27 43 47 43M26 300c20 0 28 -25 48 -25c20 0 27 132 47 132c20 0 27 -76 47 -76M26 388c20 0 28 -68 48 -68c20 0 27 41 47 41c20 0 27 -32 47 -32M26 417c20 0 28 -137 48 -137c20 0 27 125 47 125c20 0 27 12 47 12M26 276c20 0 28 127 48 127c20 0 27 -82 47 -82c20 0 27 -51 47 -51M26 329c20 0 28 -51 48 -51c20 0 27 44 47 44c20 0 27 -20 47 -20M26 363c20 0 28 -41 48 -41c20 0 27 126 47 126c20 0 27 2 47 2M26 301c20 0 28 61 48 61c20 0 27 -83 47 -83c20 0 27 24 47 24M26 389c20 0 28 -30 48 -30c20 0 27 -36 47 -36c20 0 27 -20 47 -20M26 389c20 0 28 57 48 57c20 0 27 -167 47 -167c20 0 27 111 47 111M26 274c20 0 28 169 48 169c20 0 27 -38 47 -38c20 0 27 -102 47 -102M26 392c20 0 28 10 48 10c20 0 27 -83 47 -83c20 0 27 -45 47 -45M26 448c20 0 28 -169 48 -169c20 0 27 -3 47 -3c20 0 27 115 47 115M26 271c20 0 28 47 48 47c20 0 27 3 47 3c20 0 27 -46 47 -46M26 333c20 0 28 73 48 73c20 0 27 44 47 44c20 0 27 -57 47 -57M26 275c20 0 28 0 48 0c20 0 27 175 47 175c20 0 27 -30 47 -30M26 330c20 0 28 -12 48 -12c20 0 27 2 47 2c20 0 27 -49 47 -49M26 359c20 0 28 -83 48 -83c20 0 27 169 47 169c20 0 27 -141 47 -141M26 305c20 0 28 -25 48 -25c20 0 27 0 47 0c20 0 27 168 47 168M26 272c20 0 28 91 48 91c20 0 27 87 47 87c20 0 27 -149 47 -149M26 334c20 0 28 -12 48 -12c20 0 27 -4 47 -4c20 0 27 -42 47 -42M26 417c20 0 28 29 48 29c20 0 27 -86 47 -86c20 0 27 -57 47 -57M26 449c20 0 28 -47 48 -47c20 0 27 -83 47 -83c20 0 27 13 47 13M26 333c20 0 28 -57 48 -57c20 0 27 4 47 4c20 0 27 107 47 107M26 274c20 0 28 2 48 2c20 0 27 89 47 89c20 0 27 -91 47 -91M26 333c20 0 28 112 48 112c20 0 27 -38 47 -38c20 0 27 -131 47 -131M26 301c20 0 28 146 48 146c20 0 27 -171 47 -171c20 0 27 55 47 55M26 333c20 0 28 72 48 72c20 0 27 -42 47 -42c20 0 27 30 47 30M26 420c20 0 28 -61 48 -61c20 0 27 -40 47 -40c20 0 27 -43 47 -43M26 416c20 0 28 -94 48 -94c20 0 27 -2 47 -2c20 0 27 13 47 13M26 333c20 0 28 -58 48 -58c20 0 27 0 47 0c20 0 27 146 47 146M26 445c20 0 28 -86 48 -86c20 0 27 45 47 45c20 0 27 -74 47 -74M26 449c20 0 28 -85 48 -85c20 0 27 -42 47 -42c20 0 27 7 47 7M26 276c20 0 28 46 48 46c20 0 27 38 47 38c20 0 27 90 47 90M26 271c20 0 28 88 48 88c20 0 27 1 47 1c20 0 27 -58 47 -58M26 387c20 0 28 -112 48 -112c20 0 27 173 47 173c20 0 27 -59 47 -59M26 302c20 0 28 -26 48 -26c20 0 27 170 47 170c20 0 27 -27 47 -27M26 304c20 0 28 59 48 59c20 0 27 -87 47 -87c20 0 27 0 47 0M26 360c20 0 28 84 48 84c20 0 27 -36 47 -36c20 0 27 42 47 42M26 445c20 0 28 -169 48 -169c20 0 27 174 47 174c20 0 27 -117 47 -117M26 415c20 0 28 29 48 29c20 0 27 -39 47 -39c20 0 27 -74 47 -74M26 448c20 0 28 -45 48 -45c20 0 27 -126 47 -126c20 0 27 111 47 111M26 334c20 0 28 72 48 72c20 0 27 -43 47 -43c20 0 27 -2 47 -2M26 416c20 0 28 -14 48 -14c20 0 27 -126 47 -126c20 0 27 57 47 57M26 388c20 0 28 -112 48 -112c20 0 27 89 47 89c20 0 27 52 47 52M26 416c20 0 28 -54 48 -54c20 0 27 42 47 42c20 0 27 -16 47 -16M26 446c20 0 28 0 48 0c20 0 27 -170 47 -170c20 0 27 87 47 87M26 360c20 0 28 87 48 87c20 0 27 -86 47 -86c20 0 27 88 47 88M26 271c20 0 28 132 48 132c20 0 27 44 47 44c20 0 27 -27 47 -27M26 273c20 0 28 128 48 128c20 0 27 -123 47 -123c20 0 27 139 47 139M26 444c20 0 28 -169 48 -169c20 0 27 4 47 4c20 0 27 24 47 24M26 387c20 0 28 18 48 18c20 0 27 -86 47 -86c20 0 27 -17 47 -17M26 388c20 0 28 17 48 17c20 0 27 -44 47 -44c20 0 27 86 47 86M26 418c20 0 28 25 48 25c20 0 27 -82 47 -82c20 0 27 58 47 58M26 446c20 0 28 -125 48 -125c20 0 27 127 47 127c20 0 27 -85 47 -85M26 275c20 0 28 127 48 127c20 0 27 47 47 47c20 0 27 -147 47 -147M26 302c20 0 28 99 48 99c20 0 27 -121 47 -121c20 0 27 79 47 79M26 304c20 0 28 59 48 59c20 0 27 86 47 86c20 0 27 -30 47 -30M26 363c20 0 28 -2 48 -2c20 0 27 0 47 0c20 0 27 30 47 30M26 420c20 0 28 26 48 26c20 0 27 -84 47 -84c20 0 27 -87 47 -87M26 272c20 0 28 130 48 130c20 0 27 -82 47 -82c20 0 27 9 47 9M26 360c20 0 28 3 48 3c20 0 27 -45 47 -45c20 0 27 129 47 129M26 271c20 0 28 172 48 172c20 0 27 -124 47 -124c20 0 27 128 47 128M26 449c20 0 28 -90 48 -90c20 0 27 -84 47 -84c20 0 27 25 47 25M26 334c20 0 28 27 48 27c20 0 27 -38 47 -38c20 0 27 -19 47 -19M26 303c20 0 28 14 48 14c20 0 27 1 47 1c20 0 27 16 47 16M26 303c20 0 28 144 48 144c20 0 27 -168 47 -168c20 0 27 -5 47 -5M26 361c20 0 28 -44 48 -44c20 0 27 90 47 90c20 0 27 -136 47 -136M26 303c20 0 28 -23 48 -23c20 0 27 122 47 122c20 0 27 -11 47 -11M26 274c20 0 28 88 48 88c20 0 27 44 47 44c20 0 27 13 47 13M26 302c20 0 28 142 48 142c20 0 27 4 47 4c20 0 27 -31 47 -31M26 305c20 0 28 143 48 143c20 0 27 -171 47 -171c20 0 27 170 47 170M26 446c20 0 28 2 48 2c20 0 27 -41 47 -41c20 0 27 -135 47 -135M26 387c20 0 28 -26 48 -26c20 0 27 45 47 45c20 0 27 -75 47 -75M26 415c20 0 28 -96 48 -96c20 0 27 46 47 46c20 0 27 -35 47 -35M26 450c20 0 28 -128 48 -128c20 0 27 -3 47 -3c20 0 27 -49 47 -49M26 390c20 0 28 56 48 56c20 0 27 -124 47 -124c20 0 27 10 47 10M26 363c20 0 28 -83 48 -83c20 0 27 125 47 125c20 0 27 17 47 17M26 419c20 0 28 -18 48 -18c20 0 27 -39 47 -39c20 0 27 -86 47 -86M26 421c20 0 28 -103 48 -103c20 0 27 127 47 127c20 0 27 -52 47 -52M26 330c20 0 28 115 48 115c20 0 27 -166 47 -166c20 0 27 55 47 55M26 388c20 0 28 17 48 17c20 0 27 -40 47 -40c20 0 27 -64 47 -64M26 331c20 0 28 71 48 71c20 0 27 -80 47 -80c20 0 27 68 47 68M26 391c20 0 28 14 48 14c20 0 27 -43 47 -43c20 0 27 59 47 59M26 388c20 0 28 60 48 60c20 0 27 -83 47 -83c20 0 27 -90 47 -90M26 305c20 0 28 -26 48 -26c20 0 27 128 47 128c20 0 27 43 47 43M26 388c20 0 28 -29 48 -29c20 0 27 5 47 5c20 0 27 -6 47 -6M26 420c20 0 28 -103 48 -103c20 0 27 3 47 3c20 0 27 14 47 14M26 391c20 0 28 -112 48 -112c20 0 27 171 47 171c20 0 27 -118 47 -118M26 386c20 0 28 -26 48 -26c20 0 27 46 47 46c20 0 27 -104 47 -104M26 358c20 0 28 6 48 6c20 0 27 84 47 84c20 0 27 -145 47 -145M26 447c20 0 28 -44 48 -44c20 0 27 -39 47 -39c20 0 27 23 47 23M26 388c20 0 28 -29 48 -29c20 0 27 47 47 47c20 0 27 -46 47 -46M26 300c20 0 28 143 48 143c20 0 27 -121 47 -121c20 0 27 95 47 95M26 419c20 0 28 -144 48 -144c20 0 27 44 47 44c20 0 27 131 47 131M26 329c20 0 28 -8 48 -8c20 0 27 86 47 86c20 0 27 42 47 42M26 333c20 0 28 73 48 73c20 0 27 -84 47 -84c20 0 27 68 47 68M26 389c20 0 28 12 48 12c20 0 27 2 47 2c20 0 27 -132 47 -132M26 305c20 0 28 143 48 143c20 0 27 -86 47 -86c20 0 27 30 47 30M26 391c20 0 28 -72 48 -72c20 0 27 129 47 129c20 0 27 -28 47 -28M26 448c20 0 28 -127 48 -127c20 0 27 85 47 85c20 0 27 -45 47 -45M26 391c20 0 28 -71 48 -71c20 0 27 -44 47 -44c20 0 27 28 47 28M26 418c20 0 28 -16 48 -16c20 0 27 -82 47 -82c20 0 27 42 47 42M26 273c20 0 28 133 48 133c20 0 27 -131 47 -131c20 0 27 -1 47 -1M26 390c20 0 28 13 48 13c20 0 27 -125 47 -125c20 0 27 21 47 21M26 274c20 0 28 4 48 4c20 0 27 86 47 86c20 0 27 -89 47 -89M26 389c20 0 28 -26 48 -26c20 0 27 -88 47 -88c20 0 27 -4 47 -4M26 448c20 0 28 -168 48 -168c20 0 27 -1 47 -1c20 0 27 -5 47 -5M26 301c20 0 28 63 48 63c20 0 27 -88 47 -88c20 0 27 -5 47 -5M26 330c20 0 28 -13 48 -13c20 0 27 128 47 128c20 0 27 -142 47 -142M26 300c20 0 28 61 48 61c20 0 27 1 47 1c20 0 27 26 47 26M26 390c20 0 28 -112 48 -112c20 0 27 41 47 41c20 0 27 -45 47 -45M26 333c20 0 28 -14 48 -14c20 0 27 -44 47 -44c20 0 27 171 47 171M26 329c20 0 28 -51 48 -51c20 0 27 -2 47 -2c20 0 27 27 47 27M26 330c20 0 28 75 48 75c20 0 27 -85 47 -85c20 0 27 101 47 101M26 304c20 0 28 56 48 56c20 0 27 -81 47 -81c20 0 27 -3 47 -3M26 273c20 0 28 5 48 5c20 0 27 39 47 39c20 0 27 12 47 12M26 330c20 0 28 -10 48 -10c20 0 27 -40 47 -40c20 0 27 166 47 166M26 303c20 0 28 99 48 99c20 0 27 -127 47 -127c20 0 27 143 47 143M26 358c20 0 28 48 48 48c20 0 27 -87 47 -87c20 0 27 -48 47 -48M26 416c20 0 28 32 48 32c20 0 27 -45 47 -45c20 0 27 -42 47 -42M26 362c20 0 28 -45 48 -45c20 0 27 89 47 89c20 0 27 -135 47 -135M26 420c20 0 28 -142 48 -142c20 0 27 0 47 0c20 0 27 26 47 26M26 446c20 0 28 -125 48 -125c20 0 27 -43 47 -43c20 0 27 138 47 138M26 273c20 0 28 44 48 44c20 0 27 86 47 86c20 0 27 -43 47 -43M26 334c20 0 28 68 48 68c20 0 27 -42 47 -42c20 0 27 -59 47 -59M26 332c20 0 28 72 48 72c20 0 27 -1 47 -1c20 0 27 -100 47 -100M26 301c20 0 28 16 48 16c20 0 27 90 47 90c20 0 27 -73 47 -73M26 444c20 0 28 -164 48 -164c20 0 27 -4 47 -4c20 0 27 29 47 29M26 302c20 0 28 144 48 144c20 0 27 -81 47 -81c20 0 27 23 47 23M26 334c20 0 28 29 48 29c20 0 27 -84 47 -84c20 0 27 -5 47 -5M26 420c20 0 28 -14 48 -14c20 0 27 -83 47 -83c20 0 27 -47 47 -47M26 418c20 0 28 -59 48 -59c20 0 27 -38 47 -38c20 0 27 8 47 8M26 388c20 0 28 14 48 14c20 0 27 4 47 4c20 0 27 14 47 14M26 418c20 0 28 -99 48 -99c20 0 27 44 47 44c20 0 27 -59 47 -59M26 418c20 0 28 -143 48 -143c20 0 27 4 47 4c20 0 27 -5 47 -5M26 276c20 0 28 43 48 43c20 0 27 -42 47 -42c20 0 27 53 47 53M26 275c20 0 28 84 48 84c20 0 27 3 47 3c20 0 27 -4 47 -4M26 272c20 0 28 7 48 7c20 0 27 -4 47 -4c20 0 27 25 47 25M26 299c20 0 28 145 48 145c20 0 27 -40 47 -40c20 0 27 -72 47 -72M26 419c20 0 28 25 48 25c20 0 27 -126 47 -126c20 0 27 16 47 16M26 420c20 0 28 -59 48 -59c20 0 27 88 47 88c20 0 27 -174 47 -174M26 272c20 0 28 7 48 7c20 0 27 171 47 171c20 0 27 -30 47 -30M26 418c20 0 28 -16 48 -16c20 0 27 6 47 6c20 0 27 -46 47 -46M26 420c20 0 28 -103 48 -103c20 0 27 128 47 128c20 0 27 -83 47 -83M26 415c20 0 28 -140 48 -140c20 0 27 45 47 45c20 0 27 96 47 96M26 330c20 0 28 -11 48 -11c20 0 27 126 47 126c20 0 27 -111 47 -111M26 361c20 0 28 -40 48 -40c20 0 27 82 47 82c20 0 27 45 47 45M26 329c20 0 28 34 48 34c20 0 27 39 47 39c20 0 27 -127 47 -127M26 446c20 0 28 -82 48 -82c20 0 27 -2 47 -2c20 0 27 -31 47 -31M26 304c20 0 28 -24 48 -24c20 0 27 41 47 41c20 0 27 126 47 126M26 272c20 0 28 50 48 50c20 0 27 0 47 0c20 0 27 99 47 99M26 362c20 0 28 -41 48 -41c20 0 27 40 47 40c20 0 27 -90 47 -90M26 447c20 0 28 -45 48 -45c20 0 27 6 47 6c20 0 27 -76 47 -76M26 274c20 0 28 169 48 169c20 0 27 -38 47 -38c20 0 27 12 47 12M26 361c20 0 28 40 48 40c20 0 27 -82 47 -82c20 0 27 -48 47 -48M26 333c20 0 28 68 48 68c20 0 27 -121 47 -121c20 0 27 21 47 21M26 392c20 0 28 56 48 56c20 0 27 -130 47 -130c20 0 27 101 47 101M26 420c20 0 28 -100 48 -100c20 0 27 0 47 0c20 0 27 -20 47 -20M26 418c20 0 28 -139 48 -139c20 0 27 86 47 86c20 0 27 -61 47 -61M26 390c20 0 28 -111 48 -111c20 0 27 170 47 170c20 0 27 -115 47 -115M26 390c20 0 28 -72 48 -72c20 0 27 3 47 3c20 0 27 68 47 68M26 303c20 0 28 98 48 98c20 0 27 -81 47 -81c20 0 27 -47 47 -47M26 302c20 0 28 141 48 141c20 0 27 -125 47 -125c20 0 27 15 47 15M26 302c20 0 28 144 48 144c20 0 27 -167 47 -167c20 0 27 140 47 140M26 419c20 0 28 -99 48 -99c20 0 27 87 47 87c20 0 27 -17 47 -17M26 450c20 0 28 -6 48 -6c20 0 27 -39 47 -39c20 0 27 -74 47 -74M26 361c20 0 28 86 48 86c20 0 27 -87 47 -87c20 0 27 87 47 87M26 417c20 0 28 -141 48 -141c20 0 27 3 47 3c20 0 27 21 47 21M26 389c20 0 28 -110 48 -110c20 0 27 41 47 41c20 0 27 -20 47 -20M26 328c20 0 28 -53 48 -53c20 0 27 -1 47 -1c20 0 27 146 47 146M26 276c20 0 28 126 48 126c20 0 27 2 47 2c20 0 27 -102 47 -102M26 415c20 0 28 31 48 31c20 0 27 -167 47 -167c20 0 27 113 47 113M26 444c20 0 28 2 48 2c20 0 27 -43 47 -43c20 0 27 -44 47 -44M26 419c20 0 28 26 48 26c20 0 27 -41 47 -41c20 0 27 -41 47 -41M26 447c20 0 28 -167 48 -167c20 0 27 81 47 81c20 0 27 87 47 87M26 363c20 0 28 -88 48 -88c20 0 27 3 47 3c20 0 27 54 47 54M26 446c20 0 28 -87 48 -87c20 0 27 47 47 47c20 0 27 -136 47 -136M26 392c20 0 28 13 48 13c20 0 27 -43 47 -43c20 0 27 85 47 85M26 392c20 0 28 55 48 55c20 0 27 -128 47 -128c20 0 27 128 47 128M26 272c20 0 28 173 48 173c20 0 27 -166 47 -166c20 0 27 55 47 55M26 300c20 0 28 19 48 19c20 0 27 -1 47 -1c20 0 27 -46 47 -46M26 358c20 0 28 48 48 48c20 0 27 -42 47 -42c20 0 27 54 47 54M26 331c20 0 28 -9 48 -9c20 0 27 83 47 83c20 0 27 -73 47 -73M26 276c20 0 28 43 48 43c20 0 27 46 47 46c20 0 27 -4 47 -4M26 449c20 0 28 -88 48 -88c20 0 27 -41 47 -41c20 0 27 129 47 129M26 357c20 0 28 86 48 86c20 0 27 5 47 5c20 0 27 -173 47 -173M26 328c20 0 28 73 48 73c20 0 27 -40 47 -40c20 0 27 30 47 30M26 445c20 0 28 -123 48 -123c20 0 27 41 47 41c20 0 27 56 47 56M26 275c20 0 28 87 48 87c20 0 27 42 47 42c20 0 27 12 47 12M26 301c20 0 28 59 48 59c20 0 27 -42 47 -42c20 0 27 -18 47 -18M26 391c20 0 28 -115 48 -115c20 0 27 42 47 42c20 0 27 127 47 127M26 272c20 0 28 5 48 5c20 0 27 169 47 169c20 0 27 -172 47 -172M26 329c20 0 28 73 48 73c20 0 27 -84 47 -84c20 0 27 42 47 42M26 419c20 0 28 -143 48 -143c20 0 27 0 47 0c20 0 27 -3 47 -3M26 305c20 0 28 -26 48 -26c20 0 27 124 47 124c20 0 27 -45 47 -45M26 420c20 0 28 -145 48 -145c20 0 27 0 47 0c20 0 27 30 47 30M26 446c20 0 28 -166 48 -166c20 0 27 123 47 123c20 0 27 -130 47 -130M26 444c20 0 28 -84 48 -84c20 0 27 -40 47 -40c20 0 27 98 47 98M26 300c20 0 28 106 48 106c20 0 27 -85 47 -85c20 0 27 12 47 12M26 388c20 0 28 60 48 60c20 0 27 -1 47 -1c20 0 27 -26 47 -26M26 390c20 0 28 -70 48 -70c20 0 27 125 47 125c20 0 27 -172 47 -172M26 389c20 0 28 57 48 57c20 0 27 0 47 0c20 0 27 -83 47 -83M26 359c20 0 28 4 48 4c20 0 27 -41 47 -41c20 0 27 126 47 126M26 363c20 0 28 85 48 85c20 0 27 -84 47 -84c20 0 27 -63 47 -63M26 275c20 0 28 89 48 89c20 0 27 40 47 40c20 0 27 -103 47 -103M26 445c20 0 28 -168 48 -168c20 0 27 41 47 41c20 0 27 129 47 129M26 358c20 0 28 -79 48 -79c20 0 27 0 47 0c20 0 27 50 47 50M26 420c20 0 28 -102 48 -102c20 0 27 131 47 131c20 0 27 -120 47 -120M26 363c20 0 28 -83 48 -83c20 0 27 -4 47 -4c20 0 27 83 47 83M26 331c20 0 28 72 48 72c20 0 27 -128 47 -128c20 0 27 85 47 85M26 333c20 0 28 73 48 73c20 0 27 -130 47 -130c20 0 27 170 47 170M26 417c20 0 28 -53 48 -53c20 0 27 -46 47 -46c20 0 27 72 47 72M26 388c20 0 28 -110 48 -110c20 0 27 87 47 87c20 0 27 -33 47 -33M26 330c20 0 28 -55 48 -55c20 0 27 46 47 46c20 0 27 39 47 39M26 358c20 0 28 5 48 5c20 0 27 -86 47 -86c20 0 27 85 47 85M26 445c20 0 28 3 48 3c20 0 27 -85 47 -85c20 0 27 -59 47 -59M26 391c20 0 28 14 48 14c20 0 27 -42 47 -42c20 0 27 87 47 87M26 392c20 0 28 55 48 55c20 0 27 -83 47 -83c20 0 27 -93 47 -93M26 387c20 0 28 -69 48 -69c20 0 27 45 47 45c20 0 27 -62 47 -62M26 420c20 0 28 -98 48 -98c20 0 27 84 47 84c20 0 27 -74 47 -74M26 391c20 0 28 -72 48 -72c20 0 27 128 47 128c20 0 27 3 47 3M26 331c20 0 28 -14 48 -14c20 0 27 91 47 91c20 0 27 -77 47 -77M26 301c20 0 28 100 48 100c20 0 27 -82 47 -82c20 0 27 -17 47 -17M26 330c20 0 28 -53 48 -53c20 0 27 129 47 129c20 0 27 40 47 40M26 420c20 0 28 -102 48 -102c20 0 27 -39 47 -39c20 0 27 140 47 140M26 301c20 0 28 102 48 102c20 0 27 -86 47 -86c20 0 27 102 47 102M26 445c20 0 28 -165 48 -165c20 0 27 165 47 165c20 0 27 -86 47 -86M26 362c20 0 28 -41 48 -41c20 0 27 -3 47 -3c20 0 27 131 47 131M26 272c20 0 28 46 48 46c20 0 27 47 47 47c20 0 27 -63 47 -63M26 418c20 0 28 -138 48 -138c20 0 27 39 47 39c20 0 27 14 47 14M26 361c20 0 28 86 48 86c20 0 27 -43 47 -43c20 0 27 44 47 44M26 389c20 0 28 -114 48 -114c20 0 27 90 47 90c20 0 27 -1 47 -1M26 419c20 0 28 -102 48 -102c20 0 27 89 47 89c20 0 27 12 47 12M26 275c20 0 28 88 48 88c20 0 27 -45 47 -45c20 0 27 102 47 102M26 417c20 0 28 -142 48 -142c20 0 27 129 47 129c20 0 27 -44 47 -44M26 447c20 0 28 -169 48 -169c20 0 27 126 47 126c20 0 27 -104 47 -104M26 445c20 0 28 -2 48 -2c20 0 27 -168 47 -168c20 0 27 87 47 87M26 390c20 0 28 -111 48 -111c20 0 27 81 47 81c20 0 27 -2 47 -2M26 333c20 0 28 70 48 70c20 0 27 43 47 43c20 0 27 5 47 5M26 357c20 0 28 -37 48 -37c20 0 27 44 47 44c20 0 27 -34 47 -34M26 447c20 0 28 -87 48 -87c20 0 27 -84 47 -84c20 0 27 172 47 172M26 363c20 0 28 1 48 1c20 0 27 86 47 86c20 0 27 -145 47 -145M26 392c20 0 28 11 48 11c20 0 27 -127 47 -127c20 0 27 170 47 170M26 358c20 0 28 89 48 89c20 0 27 -85 47 -85c20 0 27 27 47 27M26 272c20 0 28 7 48 7c20 0 27 43 47 43c20 0 27 125 47 125M26 416c20 0 28 -141 48 -141c20 0 27 173 47 173c20 0 27 -88 47 -88M26 329c20 0 28 -10 48 -10c20 0 27 -39 47 -39c20 0 27 22 47 22M26 274c20 0 28 131 48 131c20 0 27 44 47 44c20 0 27 -177 47 -177M26 274c20 0 28 173 48 173c20 0 27 -42 47 -42c20 0 27 42 47 42M26 419c20 0 28 26 48 26c20 0 27 -123 47 -123c20 0 27 69 47 69M26 332c20 0 28 73 48 73c20 0 27 0 47 0c20 0 27 -43 47 -43M26 301c20 0 28 18 48 18c20 0 27 42 47 42c20 0 27 -27 47 -27M26 357c20 0 28 48 48 48c20 0 27 45 47 45c20 0 27 -91 47 -91M26 386c20 0 28 -108 48 -108c20 0 27 125 47 125c20 0 27 -69 47 -69M26 274c20 0 28 170 48 170c20 0 27 -38 47 -38c20 0 27 -45 47 -45M26 447c20 0 28 -172 48 -172c20 0 27 173 47 173c20 0 27 3 47 3M26 301c20 0 28 102 48 102c20 0 27 -40 47 -40c20 0 27 27 47 27M26 273c20 0 28 173 48 173c20 0 27 5 47 5c20 0 27 -60 47 -60M26 415c20 0 28 -98 48 -98c20 0 27 5 47 5c20 0 27 -18 47 -18M26 448c20 0 28 -172 48 -172c20 0 27 174 47 174c20 0 27 -121 47 -121M26 276c20 0 28 46 48 46c20 0 27 -45 47 -45c20 0 27 114 47 114M26 276c20 0 28 128 48 128c20 0 27 -84 47 -84c20 0 27 130 47 130M26 276c20 0 28 45 48 45c20 0 27 129 47 129c20 0 27 -116 47 -116M26 445c20 0 28 -1 48 -1c20 0 27 6 47 6c20 0 27 -149 47 -149M26 334c20 0 28 71 48 71c20 0 27 41 47 41c20 0 27 -175 47 -175M26 301c20 0 28 -21 48 -21c20 0 27 126 47 126c20 0 27 -136 47 -136M26 305c20 0 28 -29 48 -29c20 0 27 85 47 85c20 0 27 -90 47 -90M26 273c20 0 28 172 48 172c20 0 27 -41 47 -41c20 0 27 -73 47 -73M26 449c20 0 28 -88 48 -88c20 0 27 -83 47 -83c20 0 27 142 47 142M26 449c20 0 28 -4 48 -4c20 0 27 1 47 1c20 0 27 -114 47 -114M26 449c20 0 28 -44 48 -44c20 0 27 3 47 3c20 0 27 9 47 9M26 390c20 0 28 14 48 14c20 0 27 -42 47 -42c20 0 27 -62 47 -62M26 301c20 0 28 145 48 145c20 0 27 -42 47 -42c20 0 27 -44 47 -44M26 330c20 0 28 -50 48 -50c20 0 27 40 47 40c20 0 27 11 47 11M26 391c20 0 28 -30 48 -30c20 0 27 -41 47 -41c20 0 27 99 47 99M26 301c20 0 28 101 48 101c20 0 27 6 47 6c20 0 27 -75 47 -75M26 331c20 0 28 -53 48 -53c20 0 27 125 47 125c20 0 27 44 47 44M26 301c20 0 28 61 48 61c20 0 27 44 47 44c20 0 27 43 47 43M26 420c20 0 28 -59 48 -59c20 0 27 46 47 46c20 0 27 -17 47 -17M26 332c20 0 28 -12 48 -12c20 0 27 87 47 87c20 0 27 -16 47 -16M26 272c20 0 28 48 48 48c20 0 27 -1 47 -1c20 0 27 10 47 10M26 333c20 0 28 112 48 112c20 0 27 -169 47 -169c20 0 27 25 47 25M26 329c20 0 28 30 48 30c20 0 27 3 47 3c20 0 27 26 47 26M26 331c20 0 28 116 48 116c20 0 27 -1 47 -1c20 0 27 -86 47 -86M26 418c20 0 28 -98 48 -98c20 0 27 84 47 84c20 0 27 -44 47 -44M26 272c20 0 28 5 48 5c20 0 27 171 47 171c20 0 27 -143 47 -143M26 276c20 0 28 87 48 87c20 0 27 -40 47 -40c20 0 27 6 47 6M26 416c20 0 28 -139 48 -139c20 0 27 41 47 41c20 0 27 130 47 130M26 449c20 0 28 -47 48 -47c20 0 27 -41 47 -41c20 0 27 31 47 31M26 276c20 0 28 2 48 2c20 0 27 0 47 0c20 0 27 -5 47 -5M26 386c20 0 28 -67 48 -67c20 0 27 2 47 2c20 0 27 -20 47 -20M26 360c20 0 28 -82 48 -82c20 0 27 -1 47 -1c20 0 27 115 47 115M26 449c20 0 28 -1 48 -1c20 0 27 -44 47 -44c20 0 27 -132 47 -132M26 300c20 0 28 -24 48 -24c20 0 27 85 47 85c20 0 27 -88 47 -88M26 333c20 0 28 -16 48 -16c20 0 27 130 47 130c20 0 27 -88 47 -88M26 419c20 0 28 -57 48 -57c20 0 27 86 47 86c20 0 27 -143 47 -143M26 361c20 0 28 -84 48 -84c20 0 27 171 47 171c20 0 27 -59 47 -59M26 358c20 0 28 -81 48 -81c20 0 27 43 47 43c20 0 27 -15 47 -15M26 302c20 0 28 101 48 101c20 0 27 -127 47 -127c20 0 27 174 47 174M26 273c20 0 28 44 48 44c20 0 27 89 47 89c20 0 27 -44 47 -44M26 419c20 0 28 -141 48 -141c20 0 27 126 47 126c20 0 27 -12 47 -12M26 272c20 0 28 171 48 171c20 0 27 -81 47 -81c20 0 27 26 47 26M26 305c20 0 28 139 48 139c20 0 27 5 47 5c20 0 27 -87 47 -87M26 304c20 0 28 15 48 15c20 0 27 43 47 43c20 0 27 2 47 2M26 332c20 0 28 74 48 74c20 0 27 -88 47 -88c20 0 27 16 47 16M26 328c20 0 28 74 48 74c20 0 27 -42 47 -42c20 0 27 -85 47 -85M26 444c20 0 28 2 48 2c20 0 27 -168 47 -168c20 0 27 -7 47 -7M26 449c20 0 28 -48 48 -48c20 0 27 -40 47 -40c20 0 27 89 47 89M26 450c20 0 28 -90 48 -90c20 0 27 3 47 3c20 0 27 -58 47 -58M26 304c20 0 28 142 48 142c20 0 27 -126 47 -126c20 0 27 -46 47 -46M26 300c20 0 28 -25 48 -25c20 0 27 90 47 90c20 0 27 -91 47 -91M26 449c20 0 28 -129 48 -129c20 0 27 41 47 41c20 0 27 -59 47 -59M26 444c20 0 28 -82 48 -82c20 0 27 45 47 45c20 0 27 -132 47 -132M26 333c20 0 28 -55 48 -55c20 0 27 -3 47 -3c20 0 27 173 47 173M26 416c20 0 28 -13 48 -13c20 0 27 -127 47 -127c20 0 27 57 47 57M26 389c20 0 28 -28 48 -28c20 0 27 -39 47 -39c20 0 27 128 47 128M26 387c20 0 28 59 48 59c20 0 27 -124 47 -124c20 0 27 -48 47 -48M26 416c20 0 28 -97 48 -97c20 0 27 -1 47 -1c20 0 27 74 47 74M26 330c20 0 28 76 48 76c20 0 27 -130 47 -130c20 0 27 27 47 27M26 419c20 0 28 29 48 29c20 0 27 -131 47 -131c20 0 27 45 47 45M26 388c20 0 28 -70 48 -70c20 0 27 88 47 88c20 0 27 -43 47 -43M26 416c20 0 28 -15 48 -15c20 0 27 -124 47 -124c20 0 27 140 47 140M26 330c20 0 28 -52 48 -52c20 0 27 87 47 87c20 0 27 83 47 83M26 331c20 0 28 -54 48 -54c20 0 27 170 47 170c20 0 27 -26 47 -26M26 387c20 0 28 -109 48 -109c20 0 27 84 47 84c20 0 27 84 47 84M26 391c20 0 28 -114 48 -114c20 0 27 88 47 88c20 0 27 22 47 22M26 332c20 0 28 27 48 27c20 0 27 91 47 91c20 0 27 -87 47 -87M26 386c20 0 28 61 48 61c20 0 27 -44 47 -44c20 0 27 -74 47 -74M26 445c20 0 28 -123 48 -123c20 0 27 128 47 128c20 0 27 -61 47 -61M26 276c20 0 28 2 48 2c20 0 27 167 47 167c20 0 27 6 47 6M26 418c20 0 28 -100 48 -100c20 0 27 132 47 132c20 0 27 -33 47 -33M26 387c20 0 28 15 48 15c20 0 27 -124 47 -124c20 0 27 22 47 22M26 360c20 0 28 -42 48 -42c20 0 27 85 47 85c20 0 27 -129 47 -129M26 274c20 0 28 129 48 129c20 0 27 1 47 1c20 0 27 -101 47 -101M26 330c20 0 28 116 48 116c20 0 27 -128 47 -128c20 0 27 103 47 103M26 450c20 0 28 -175 48 -175c20 0 27 2 47 2c20 0 27 142 47 142M26 392c20 0 28 -74 48 -74c20 0 27 44 47 44c20 0 27 -61 47 -61M26 447c20 0 28 -169 48 -169c20 0 27 0 47 0c20 0 27 173 47 173M26 276c20 0 28 171 48 171c20 0 27 -127 47 -127c20 0 27 -16 47 -16M26 334c20 0 28 -59 48 -59c20 0 27 5 47 5c20 0 27 170 47 170" fill="none" stroke="#c0c0c0" stroke-opacity="0.06" stroke-width="0.5"/>
<path d="M169 272c20 0 27 133 47 133c20 0 27 22 47 22c20 0 27 -10 47 -10c20 0 27 20 47 20c20 0 27 -57 47 -57c20 0 27 -2 47 -2c20 0 27 58 47 58M169 390c20 0 27 -5 47 -5c20 0 27 53 47 53c20 0 27 -91 47 -91c20 0 27 94 47 94c20 0 27 -135 47 -135c20 0 27 91 47 91c20 0 27 44 47 44M169 329c20 0 27 12 47 12c20 0 27 40 47 40c20 0 27 -50 47 -50c20 0 27 73 47 73c20 0 27 -129 47 -129c20 0 27 80 47 80c20 0 27 82 47 82M169 332c20 0 27 74 47 74c20 0 27 -19 47 -19c20 0 27 -47 47 -47c20 0 27 -51 47 -51c20 0 27 109 47 109c20 0 27 4 47 4c20 0 27 44 47 44M169 392c20 0 27 -20 47 -20c20 0 27 32 47 32c20 0 27 -65 47 -65c20 0 27 56 47 56c20 0 27 -30 47 -30c20 0 27 -11 47 -11c20 0 27 72 47 72M169 421c20 0 27 -76 47 -76c20 0 27 52 47 52c20 0 27 -32 47 -32c20 0 27 76 47 76c20 0 27 -110 47 -110c20 0 27 46 47 46c20 0 27 50 47 50M169 448c20 0 27 -70 47 -70c20 0 27 24 47 24c20 0 27 -36 47 -36c20 0 27 54 47 54c20 0 27 -117 47 -117c20 0 27 91 47 91c20 0 27 51 47 51M169 301c20 0 27 59 47 59c20 0 27 27 47 27c20 0 27 -47 47 -47c20 0 27 87 47 87c20 0 27 -15 47 -15c20 0 27 -41 47 -41c20 0 27 63 47 63M169 420c20 0 27 26 47 26c20 0 27 -35 47 -35c20 0 27 -24 47 -24c20 0 27 -55 47 -55c20 0 27 43 47 43c20 0 27 -48 47 -48c20 0 27 108 47 108M169 359c20 0 27 -12 47 -12c20 0 27 88 47 88c20 0 27 -39 47 -39c20 0 27 56 47 56c20 0 27 -54 47 -54c20 0 27 -3 47 -3c20 0 27 29 47 29M169 389c20 0 27 29 47 29c20 0 27 -43 47 -43c20 0 27 45 47 45c20 0 27 29 47 29c20 0 27 -110 47 -110c20 0 27 33 47 33c20 0 27 54 47 54M169 305c20 0 27 25 47 25c20 0 27 115 47 115c20 0 27 -85 47 -85c20 0 27 88 47 88c20 0 27 -182 47 -182c20 0 27 82 47 82c20 0 27 102 47 102M169 303c20 0 27 59 47 59c20 0 27 40 47 40c20 0 27 -18 47 -18c20 0 27 -40 47 -40c20 0 27 111 47 111c20 0 27 -93 47 -93c20 0 27 86 47 86M169 276c20 0 27 92 47 92c20 0 27 22 47 22c20 0 27 1 47 1c20 0 27 -16 47 -16c20 0 27 -66 47 -66c20 0 27 129 47 129c20 0 27 7 47 7M169 301c20 0 27 -35 47 -35c20 0 27 167 47 167c20 0 27 -65 47 -65c20 0 27 82 47 82c20 0 27 -51 47 -51c20 0 27 -51 47 -51c20 0 27 95 47 95M169 302c20 0 27 40 47 40c20 0 27 90 47 90c20 0 27 6 47 6c20 0 27 -18 47 -18c20 0 27 -140 47 -140c20 0 27 107 47 107c20 0 27 39 47 39M169 449c20 0 27 -140 47 -140c20 0 27 93 47 93c20 0 27 -136 47 -136c20 0 27 163 47 163c20 0 27 -34 47 -34c20 0 27 22 47 22c20 0 27 7 47 7M169 446c20 0 27 -83 47 -83c20 0 27 78 47 78c20 0 27 -59 47 -59c20 0 27 1 47 1c20 0 27 -19 47 -19c20 0 27 -34 47 -34c20 0 27 110 47 110M169 389c20 0 27 12 47 12c20 0 27 17 47 17c20 0 27 -102 47 -102c20 0 27 121 47 121c20 0 27 -24 47 -24c20 0 27 -37 47 -37c20 0 27 53 47 53M169 274c20 0 27 56 47 56c20 0 27 61 47 61c20 0 27 -95 47 -95c20 0 27 120 47 120c20 0 27 -6 47 -6c20 0 27 -4 47 -4c20 0 27 25 47 25M169 273c20 0 27 41 47 41c20 0 27 94 47 94c20 0 27 -107 47 -107c20 0 27 144 47 144c20 0 27 -144 47 -144c20 0 27 85 47 85c20 0 27 52 47 52M169 302c20 0 27 22 47 22c20 0 27 96 47 96c20 0 27 -73 47 -73c20 0 27 49 47 49c20 0 27 -26 47 -26c20 0 27 37 47 37c20 0 27 20 47 20M169 304c20 0 27 129 47 129c20 0 27 -47 47 -47c20 0 27 19 47 19c20 0 27 -29 47 -29c20 0 27 -3 47 -3c20 0 27 66 47 66c20 0 27 15 47 15M169 272c20 0 27 15 47 15c20 0 27 141 47 141c20 0 27 -99 47 -99c20 0 27 75 47 75c20 0 27 -80 47 -80c20 0 27 131 47 131c20 0 27 -29 47 -29M169 446c20 0 27 -88 47 -88c20 0 27 -10 47 -10c20 0 27 62 47 62c20 0 27 -31 47 -31c20 0 27 29 47 29c20 0 27 -53 47 -53c20 0 27 85 47 85M169 302c20 0 27 148 47 148c20 0 27 -57 47 -57c20 0 27 -77 47 -77c20 0 27 55 47 55c20 0 27 74 47 74c20 0 27 -30 47 -30c20 0 27 10 47 10M169 332c20 0 27 91 47 91c20 0 27 4 47 4c20 0 27 28 47 28c20 0 27 -63 47 -63c20 0 27 -34 47 -34c20 0 27 40 47 40c20 0 27 54 47 54M169 331c20 0 27 58 47 58c20 0 27 56 47 56c20 0 27 -2 47 -2c20 0 27 0 47 0c20 0 27 -114 47 -114c20 0 27 32 47 32c20 0 27 77 47 77M169 363c20 0 27 -19 47 -19c20 0 27 70 47 70c20 0 27 -40 47 -40c20 0 27 38 47 38c20 0 27 8 47 8c20 0 27 -99 47 -99c20 0 27 106 47 106M169 271c20 0 27 133 47 133c20 0 27 -47 47 -47c20 0 27 -5 47 -5c20 0 27 57 47 57c20 0 27 -47 47 -47c20 0 27 45 47 45c20 0 27 30 47 30M169 389c20 0 27 57 47 57c20 0 27 -20 47 -20c20 0 27 -50 47 -50c20 0 27 39 47 39c20 0 27 -66 47 -66c20 0 27 37 47 37c20 0 27 46 47 46M169 271c20 0 27 45 47 45c20 0 27 105 47 105c20 0 27 -70 47 -70c20 0 27 21 47 21c20 0 27 83 47 83c20 0 27 -28 47 -28c20 0 27 22 47 22M169 359c20 0 27 -14 47 -14c20 0 27 27 47 27c20 0 27 80 47 80c20 0 27 -31 47 -31c20 0 27 -6 47 -6c20 0 27 -85 47 -85c20 0 27 116 47 116M169 445c20 0 27 -121 47 -121c20 0 27 35 47 35c20 0 27 -16 47 -16c20 0 27 -37 47 -37c20 0 27 41 47 41c20 0 27 8 47 8c20 0 27 69 47 69M169 416c20 0 27 -94 47 -94c20 0 27 120 47 120c20 0 27 -76 47 -76c20 0 27 20 47 20c20 0 27 69 47 69c20 0 27 -40 47 -40c20 0 27 36 47 36M169 275c20 0 27 87 47 87c20 0 27 -4 47 -4c20 0 27 20 47 20c20 0 27 -12 47 -12c20 0 27 -100 47 -100c20 0 27 125 47 125c20 0 27 34 47 34M169 301c20 0 27 14 47 14c20 0 27 66 47 66c20 0 27 -28 47 -28c20 0 27 77 47 77c20 0 27 -127 47 -127c20 0 27 73 47 73c20 0 27 77 47 77M169 360c20 0 27 65 47 65c20 0 27 -54 47 -54c20 0 27 38 47 38c20 0 27 -115 47 -115c20 0 27 75 47 75c20 0 27 -2 47 -2c20 0 27 70 47 70M169 300c20 0 27 118 47 118c20 0 27 -17 47 -17c20 0 27 -34 47 -34c20 0 27 29 47 29c20 0 27 -92 47 -92c20 0 27 28 47 28c20 0 27 100 47 100M169 299c20 0 27 7 47 7c20 0 27 141 47 141c20 0 27 -85 47 -85c20 0 27 59 47 59c20 0 27 -85 47 -85c20 0 27 67 47 67c20 0 27 46 47 46M169 304c20 0 27 81 47 81c20 0 27 39 47 39c20 0 27 -85 47 -85c20 0 27 70 47 70c20 0 27 18 47 18c20 0 27 -57 47 -57c20 0 27 64 47 64M169 332c20 0 27 94 47 94c20 0 27 -94 47 -94c20 0 27 2 47 2c20 0 27 98 47 98c20 0 27 -59 47 -59c20 0 27 -81 47 -81c20 0 27 144 47 144M169 416c20 0 27 -19 47 -19c20 0 27 30 47 30c20 0 27 -75 47 -75c20 0 27 78 47 78c20 0 27 -31 47 -31c20 0 27 -67 47 -67c20 0 27 119 47 119M169 420c20 0 27 -91 47 -91c20 0 27 75 47 75c20 0 27 -30 47 -30c20 0 27 9 47 9c20 0 27 -35 47 -35c20 0 27 2 47 2c20 0 27 93 47 93M169 448c20 0 27 -74 47 -74c20 0 27 48 47 48c20 0 27 -17 47 -17c20 0 27 17 47 17c20 0 27 -31 47 -31c20 0 27 -3 47 -3c20 0 27 43 47 43M169 419c20 0 27 -93 47 -93c20 0 27 89 47 89c20 0 27 -11 47 -11c20 0 27 30 47 30c20 0 27 -49 47 -49c20 0 27 -20 47 -20c20 0 27 74 47 74M169 419c20 0 27 20 47 20c20 0 27 -20 47 -20c20 0 27 -42 47 -42c20 0 27 66 47 66c20 0 27 -6 47 -6c20 0 27 -53 47 -53c20 0 27 67 47 67M169 448c20 0 27 -141 47 -141c20 0 27 131 47 131c20 0 27 -61 47 -61c20 0 27 33 47 33c20 0 27 27 47 27c20 0 27 18 47 18c20 0 27 -29 47 -29M169 301c20 0 27 111 47 111c20 0 27 0 47 0c20 0 27 -50 47 -50c20 0 27 60 47 60c20 0 27 -63 47 -63c20 0 27 75 47 75c20 0 27 11 47 11M169 330c20 0 27 20 47 20c20 0 27 95 47 95c20 0 27 -91 47 -91c20 0 27 35 47 35c20 0 27 41 47 41c20 0 27 -77 47 -77c20 0 27 97 47 97M169 329c20 0 27 58 47 58c20 0 27 -44 47 -44c20 0 27 16 47 16c20 0 27 73 47 73c20 0 27 -65 47 -65c20 0 27 50 47 50c20 0 27 17 47 17M169 299c20 0 27 33 47 33c20 0 27 15 47 15c20 0 27 71 47 71c20 0 27 5 47 5c20 0 27 -37 47 -37c20 0 27 57 47 57c20 0 27 -14 47 -14M169 305c20 0 27 -39 47 -39c20 0 27 173 47 173c20 0 27 -12 47 -12c20 0 27 -3 47 -3c20 0 27 -49 47 -49c20 0 27 -12 47 -12c20 0 27 61 47 61M169 421c20 0 27 -83 47 -83c20 0 27 -72 47 -72c20 0 27 141 47 141c20 0 27 23 47 23c20 0 27 -24 47 -24c20 0 27 49 47 49c20 0 27 -9 47 -9M169 270c20 0 27 77 47 77c20 0 27 53 47 53c20 0 27 -8 47 -8c20 0 27 51 47 51c20 0 27 -50 47 -50c20 0 27 -30 47 -30c20 0 27 71 47 71M169 392c20 0 27 -22 47 -22c20 0 27 31 47 31c20 0 27 -22 47 -22c20 0 27 64 47 64c20 0 27 -160 47 -160c20 0 27 131 47 131c20 0 27 33 47 33M169 416c20 0 27 -95 47 -95c20 0 27 97 47 97c20 0 27 -105 47 -105c20 0 27 11 47 11c20 0 27 116 47 116c20 0 27 -50 47 -50c20 0 27 54 47 54M169 300c20 0 27 44 47 44c20 0 27 46 47 46c20 0 27 -7 47 -7c20 0 27 -36 47 -36c20 0 27 92 47 92c20 0 27 -112 47 -112c20 0 27 100 47 100M169 334c20 0 27 -55 47 -55c20 0 27 148 47 148c20 0 27 -101 47 -101c20 0 27 85 47 85c20 0 27 -74 47 -74c20 0 27 50 47 50c20 0 27 49 47 49M169 276c20 0 27 77 47 77c20 0 27 74 47 74c20 0 27 -14 47 -14c20 0 27 -1 47 -1c20 0 27 -66 47 -66c20 0 27 -23 47 -23c20 0 27 107 47 107M169 330c20 0 27 -15 47 -15c20 0 27 113 47 113c20 0 27 -60 47 -60c20 0 27 44 47 44c20 0 27 -51 47 -51c20 0 27 43 47 43c20 0 27 24 47 24M169 303c20 0 27 93 47 93c20 0 27 18 47 18c20 0 27 -40 47 -40c20 0 27 77 47 77c20 0 27 -64 47 -64c20 0 27 -39 47 -39c20 0 27 89 47 89M169 449c20 0 27 -55 47 -55c20 0 27 33 47 33c20 0 27 -24 47 -24c20 0 27 0 47 0c20 0 27 -48 47 -48c20 0 27 93 47 93c20 0 27 4 47 4M169 300c20 0 27 68 47 68c20 0 27 82 47 82c20 0 27 -91 47 -91c20 0 27 -39 47 -39c20 0 27 77 47 77c20 0 27 -103 47 -103c20 0 27 142 47 142M169 390c20 0 27 -102 47 -102c20 0 27 109 47 109c20 0 27 -40 47 -40c20 0 27 65 47 65c20 0 27 -133 47 -133c20 0 27 67 47 67c20 0 27 79 47 79M169 333c20 0 27 57 47 57c20 0 27 22 47 22c20 0 27 34 47 34c20 0 27 -6 47 -6c20 0 27 -57 47 -57c20 0 27 -74 47 -74c20 0 27 126 47 126M169 446c20 0 27 -129 47 -129c20 0 27 108 47 108c20 0 27 -52 47 -52c20 0 27 48 47 48c20 0 27 -35 47 -35c20 0 27 -8 47 -8c20 0 27 70 47 70M169 330c20 0 27 -64 47 -64c20 0 27 167 47 167c20 0 27 -22 47 -22c20 0 27 -3 47 -3c20 0 27 -4 47 -4c20 0 27 -138 47 -138c20 0 27 163 47 163M169 392c20 0 27 -111 47 -111c20 0 27 92 47 92c20 0 27 -64 47 -64c20 0 27 66 47 66c20 0 27 32 47 32c20 0 27 30 47 30c20 0 27 -7 47 -7M169 273c20 0 27 38 47 38c20 0 27 133 47 133c20 0 27 -50 47 -50c20 0 27 26 47 26c20 0 27 -77 47 -77c20 0 27 -68 47 -68c20 0 27 149 47 149M169 390c20 0 27 11 47 11c20 0 27 -29 47 -29c20 0 27 -25 47 -25c20 0 27 64 47 64c20 0 27 -51 47 -51c20 0 27 55 47 55c20 0 27 19 47 19M169 362c20 0 27 2 47 2c20 0 27 26 47 26c20 0 27 2 47 2c20 0 27 -1 47 -1c20 0 27 -10 47 -10c20 0 27 4 47 4c20 0 27 51 47 51M169 300c20 0 27 47 47 47c20 0 27 8 47 8c20 0 27 0 47 0c20 0 27 96 47 96c20 0 27 -140 47 -140c20 0 27 58 47 58c20 0 27 83 47 83M169 359c20 0 27 26 47 26c20 0 27 -26 47 -26c20 0 27 -17 47 -17c20 0 27 22 47 22c20 0 27 13 47 13c20 0 27 77 47 77c20 0 27 -12 47 -12M169 393c20 0 27 -98 47 -98c20 0 27 146 47 146c20 0 27 -96 47 -96c20 0 27 78 47 78c20 0 27 -86 47 -86c20 0 27 55 47 55c20 0 27 44 47 44M169 329c20 0 27 -37 47 -37c20 0 27 143 47 143c20 0 27 -123 47 -123c20 0 27 46 47 46c20 0 27 -60 47 -60c20 0 27 52 47 52c20 0 27 100 47 100M169 330c20 0 27 84 47 84c20 0 27 32 47 32c20 0 27 -125 47 -125c20 0 27 52 47 52c20 0 27 -42 47 -42c20 0 27 49 47 49c20 0 27 66 47 66M169 333c20 0 27 21 47 21c20 0 27 57 47 57c20 0 27 -57 47 -57c20 0 27 17 47 17c20 0 27 -52 47 -52c20 0 27 72 47 72c20 0 27 33 47 33M169 329c20 0 27 6 47 6c20 0 27 84 47 84c20 0 27 -101 47 -101c20 0 27 94 47 94c20 0 27 -32 47 -32c20 0 27 50 47 50c20 0 27 8 47 8M169 417c20 0 27 -80 47 -80c20 0 27 75 47 75c20 0 27 2 47 2c20 0 27 -107 47 -107c20 0 27 140 47 140c20 0 27 -48 47 -48c20 0 27 52 47 52M169 300c20 0 27 71 47 71c20 0 27 79 47 79c20 0 27 -52 47 -52c20 0 27 48 47 48c20 0 27 -27 47 -27c20 0 27 34 47 34c20 0 27 -27 47 -27M169 419c20 0 27 -116 47 -116c20 0 27 69 47 69c20 0 27 16 47 16c20 0 27 18 47 18c20 0 27 -51 47 -51c20 0 27 28 47 28c20 0 27 68 47 68M169 358c20 0 27 -19 47 -19c20 0 27 83 47 83c20 0 27 -17 47 -17c20 0 27 46 47 46c20 0 27 -107 47 -107c20 0 27 8 47 8c20 0 27 99 47 99M169 419c20 0 27 -51 47 -51c20 0 27 17 47 17c20 0 27 -21 47 -21c20 0 27 2 47 2c20 0 27 28 47 28c20 0 27 -31 47 -31c20 0 27 87 47 87M169 421c20 0 27 -50 47 -50c20 0 27 28 47 28c20 0 27 -64 47 -64c20 0 27 82 47 82c20 0 27 10 47 10c20 0 27 -138 47 -138c20 0 27 164 47 164M169 445c20 0 27 -58 47 -58c20 0 27 52 47 52c20 0 27 -10 47 -10c20 0 27 -47 47 -47c20 0 27 -74 47 -74c20 0 27 100 47 100c20 0 27 33 47 33M169 334c20 0 27 18 47 18c20 0 27 85 47 85c20 0 27 -25 47 -25c20 0 27 -26 47 -26c20 0 27 -8 47 -8c20 0 27 -4 47 -4c20 0 27 50 47 50M169 275c20 0 27 83 47 83c20 0 27 5 47 5c20 0 27 -18 47 -18c20 0 27 77 47 77c20 0 27 -58 47 -58c20 0 27 17 47 17c20 0 27 71 47 71M169 300c20 0 27 56 47 56c20 0 27 57 47 57c20 0 27 -63 47 -63c20 0 27 45 47 45c20 0 27 3 47 3c20 0 27 -23 47 -23c20 0 27 57 47 57M169 447c20 0 27 -94 47 -94c20 0 27 0 47 0c20 0 27 70 47 70c20 0 27 15 47 15c20 0 27 -32 47 -32c20 0 27 -7 47 -7c20 0 27 25 47 25M169 273c20 0 27 64 47 64c20 0 27 24 47 24c20 0 27 48 47 48c20 0 27 25 47 25c20 0 27 -10 47 -10c20 0 27 -15 47 -15c20 0 27 40 47 40M169 305c20 0 27 53 47 53c20 0 27 59 47 59c20 0 27 24 47 24c20 0 27 -27 47 -27c20 0 27 -148 47 -148c20 0 27 112 47 112c20 0 27 62 47 62M169 416c20 0 27 -53 47 -53c20 0 27 79 47 79c20 0 27 -62 47 -62c20 0 27 27 47 27c20 0 27 1 47 1c20 0 27 -69 47 -69c20 0 27 96 47 96M169 449c20 0 27 -36 47 -36c20 0 27 22 47 22c20 0 27 -155 47 -155c20 0 27 156 47 156c20 0 27 -136 47 -136c20 0 27 88 47 88c20 0 27 45 47 45M169 421c20 0 27 -64 47 -64c20 0 27 57 47 57c20 0 27 -66 47 -66c20 0 27 15 47 15c20 0 27 13 47 13c20 0 27 -28 47 -28c20 0 27 80 47 80M169 301c20 0 27 154 47 154c20 0 27 -55 47 -55c20 0 27 4 47 4c20 0 27 -28 47 -28c20 0 27 -6 47 -6c20 0 27 24 47 24c20 0 27 34 47 34M169 272c20 0 27 121 47 121c20 0 27 16 47 16c20 0 27 46 47 46c20 0 27 -12 47 -12c20 0 27 -116 47 -116c20 0 27 55 47 55c20 0 27 71 47 71M169 305c20 0 27 -3 47 -3c20 0 27 117 47 117c20 0 27 -49 47 -49c20 0 27 19 47 19c20 0 27 -18 47 -18c20 0 27 70 47 70c20 0 27 9 47 9M169 360c20 0 27 -9 47 -9c20 0 27 14 47 14c20 0 27 31 47 31c20 0 27 29 47 29c20 0 27 -129 47 -129c20 0 27 116 47 116c20 0 27 16 47 16M169 422c20 0 27 -40 47 -40c20 0 27 -5 47 -5c20 0 27 1 47 1c20 0 27 15 47 15c20 0 27 -127 47 -127c20 0 27 112 47 112c20 0 27 46 47 46M169 361c20 0 27 -17 47 -17c20 0 27 41 47 41c20 0 27 -69 47 -69c20 0 27 49 47 49c20 0 27 -56 47 -56c20 0 27 55 47 55c20 0 27 88 47 88M169 389c20 0 27 0 47 0c20 0 27 46 47 46c20 0 27 -71 47 -71c20 0 27 82 47 82c20 0 27 -132 47 -132c20 0 27 79 47 79c20 0 27 52 47 52M169 393c20 0 27 62 47 62c20 0 27 -10 47 -10c20 0 27 -101 47 -101c20 0 27 100 47 100c20 0 27 -67 47 -67c20 0 27 -14 47 -14c20 0 27 85 47 85M169 421c20 0 27 -53 47 -53c20 0 27 27 47 27c20 0 27 51 47 51c20 0 27 4 47 4c20 0 27 -141 47 -141c20 0 27 -2 47 -2c20 0 27 131 47 131M169 417c20 0 27 10 47 10c20 0 27 22 47 22c20 0 27 -86 47 -86c20 0 27 45 47 45c20 0 27 -66 47 -66c20 0 27 77 47 77c20 0 27 17 47 17M169 271c20 0 27 47 47 47c20 0 27 113 47 113c20 0 27 -9 47 -9c20 0 27 4 47 4c20 0 27 -103 47 -103c20 0 27 96 47 96c20 0 27 24 47 24M169 447c20 0 27 -85 47 -85c20 0 27 38 47 38c20 0 27 26 47 26c20 0 27 -80 47 -80c20 0 27 22 47 22c20 0 27 -24 47 -24c20 0 27 107 47 107M169 447c20 0 27 -123 47 -123c20 0 27 125 47 125c20 0 27 -3 47 -3c20 0 27 -48 47 -48c20 0 27 -50 47 -50c20 0 27 2 47 2c20 0 27 77 47 77M169 363c20 0 27 -18 47 -18c20 0 27 66 47 66c20 0 27 -10 47 -10c20 0 27 -19 47 -19c20 0 27 -25 47 -25c20 0 27 -13 47 -13c20 0 27 89 47 89M169 416c20 0 27 -103 47 -103c20 0 27 78 47 78c20 0 27 40 47 40c20 0 27 6 47 6c20 0 27 -125 47 -125c20 0 27 -37 47 -37c20 0 27 158 47 158M169 418c20 0 27 -49 47 -49c20 0 27 63 47 63c20 0 27 -84 47 -84c20 0 27 58 47 58c20 0 27 -35 47 -35c20 0 27 -57 47 -57c20 0 27 137 47 137M169 331c20 0 27 -17 47 -17c20 0 27 134 47 134c20 0 27 7 47 7c20 0 27 -15 47 -15c20 0 27 -99 47 -99c20 0 27 54 47 54c20 0 27 43 47 43M169 416c20 0 27 -16 47 -16c20 0 27 49 47 49c20 0 27 -122 47 -122c20 0 27 105 47 105c20 0 27 -117 47 -117c20 0 27 35 47 35c20 0 27 76 47 76M169 390c20 0 27 -82 47 -82c20 0 27 90 47 90c20 0 27 -48 47 -48c20 0 27 26 47 26c20 0 27 -31 47 -31c20 0 27 -3 47 -3c20 0 27 102 47 102M169 362c20 0 27 49 47 49c20 0 27 -2 47 -2c20 0 27 -96 47 -96c20 0 27 57 47 57c20 0 27 5 47 5c20 0 27 -61 47 -61c20 0 27 117 47 117M169 392c20 0 27 18 47 18c20 0 27 16 47 16c20 0 27 -34 47 -34c20 0 27 53 47 53c20 0 27 -61 47 -61c20 0 27 -69 47 -69c20 0 27 136 47 136M169 361c20 0 27 38 47 38c20 0 27 20 47 20c20 0 27 1 47 1c20 0 27 -19 47 -19c20 0 27 -47 47 -47c20 0 27 19 47 19c20 0 27 71 47 71M169 388c20 0 27 -36 47 -36c20 0 27 63 47 63c20 0 27 29 47 29c20 0 27 -24 47 -24c20 0 27 -82 47 -82c20 0 27 -54 47 -54c20 0 27 162 47 162M169 334c20 0 27 32 47 32c20 0 27 79 47 79c20 0 27 10 47 10c20 0 27 -49 47 -49c20 0 27 -73 47 -73c20 0 27 -21 47 -21c20 0 27 123 47 123M169 331c20 0 27 -19 47 -19c20 0 27 111 47 111c20 0 27 -64 47 -64c20 0 27 63 47 63c20 0 27 -48 47 -48c20 0 27 -45 47 -45c20 0 27 114 47 114M169 450c20 0 27 -113 47 -113c20 0 27 74 47 74c20 0 27 -88 47 -88c20 0 27 69 47 69c20 0 27 -10 47 -10c20 0 27 -70 47 -70c20 0 27 138 47 138M169 302c20 0 27 29 47 29c20 0 27 51 47 51c20 0 27 53 47 53c20 0 27 -49 47 -49c20 0 27 -27 47 -27c20 0 27 14 47 14c20 0 27 58 47 58M169 451c20 0 27 -22 47 -22c20 0 27 -98 47 -98c20 0 27 56 47 56c20 0 27 -7 47 -7c20 0 27 -10 47 -10c20 0 27 -52 47 -52c20 0 27 122 47 122M169 274c20 0 27 51 47 51c20 0 27 117 47 117c20 0 27 -74 47 -74c20 0 27 -16 47 -16c20 0 27 22 47 22c20 0 27 -52 47 -52c20 0 27 104 47 104M169 334c20 0 27 -30 47 -30c20 0 27 137 47 137c20 0 27 -96 47 -96c20 0 27 86 47 86c20 0 27 -60 47 -60c20 0 27 26 47 26c20 0 27 48 47 48M169 300c20 0 27 99 47 99c20 0 27 50 47 50c20 0 27 -29 47 -29c20 0 27 -21 47 -21c20 0 27 -32 47 -32c20 0 27 -23 47 -23c20 0 27 98 47 98M169 450c20 0 27 -153 47 -153c20 0 27 147 47 147c20 0 27 -80 47 -80c20 0 27 -16 47 -16c20 0 27 -82 47 -82c20 0 27 153 47 153c20 0 27 28 47 28M169 302c20 0 27 65 47 65c20 0 27 80 47 80c20 0 27 -125 47 -125c20 0 27 61 47 61c20 0 27 -117 47 -117c20 0 27 111 47 111c20 0 27 74 47 74M169 388c20 0 27 53 47 53c20 0 27 -57 47 -57c20 0 27 -43 47 -43c20 0 27 109 47 109c20 0 27 -62 47 -62c20 0 27 -53 47 -53c20 0 27 95 47 95M169 392c20 0 27 -30 47 -30c20 0 27 73 47 73c20 0 27 -49 47 -49c20 0 27 -26 47 -26c20 0 27 -88 47 -88c20 0 27 -6 47 -6c20 0 27 159 47 159M169 362c20 0 27 24 47 24c20 0 27 34 47 34c20 0 27 -51 47 -51c20 0 27 52 47 52c20 0 27 -91 47 -91c20 0 27 43 47 43c20 0 27 57 47 57M169 305c20 0 27 69 47 69c20 0 27 -50 47 -50c20 0 27 109 47 109c20 0 27 -74 47 -74c20 0 27 36 47 36c20 0 27 13 47 13c20 0 27 18 47 18M169 302c20 0 27 36 47 36c20 0 27 90 47 90c20 0 27 -55 47 -55c20 0 27 59 47 59c20 0 27 -86 47 -86c20 0 27 -32 47 -32c20 0 27 113 47 113M169 392c20 0 27 -51 47 -51c20 0 27 80 47 80c20 0 27 -90 47 -90c20 0 27 118 47 118c20 0 27 -69 47 -69c20 0 27 -23 47 -23c20 0 27 96 47 96M169 446c20 0 27 -180 47 -180c20 0 27 57 47 57c20 0 27 132 47 132c20 0 27 -5 47 -5c20 0 27 -56 47 -56c20 0 27 -3 47 -3c20 0 27 60 47 60M169 389c20 0 27 -32 47 -32c20 0 27 90 47 90c20 0 27 -50 47 -50c20 0 27 -9 47 -9c20 0 27 -7 47 -7c20 0 27 33 47 33c20 0 27 37 47 37M169 304c20 0 27 57 47 57c20 0 27 68 47 68c20 0 27 -6 47 -6c20 0 27 -14 47 -14c20 0 27 -89 47 -89c20 0 27 51 47 51c20 0 27 58 47 58M169 420c20 0 27 -125 47 -125c20 0 27 107 47 107c20 0 27 45 47 45c20 0 27 -32 47 -32c20 0 27 -104 47 -104c20 0 27 133 47 133c20 0 27 6 47 6M169 418c20 0 27 -30 47 -30c20 0 27 -34 47 -34c20 0 27 -2 47 -2c20 0 27 73 47 73c20 0 27 -111 47 -111c20 0 27 100 47 100c20 0 27 9 47 9M169 450c20 0 27 -28 47 -28c20 0 27 -22 47 -22c20 0 27 10 47 10c20 0 27 -16 47 -16c20 0 27 -1 47 -1c20 0 27 -45 47 -45c20 0 27 78 47 78M169 305c20 0 27 55 47 55c20 0 27 56 47 56c20 0 27 -19 47 -19c20 0 27 28 47 28c20 0 27 -60 47 -60c20 0 27 -5 47 -5c20 0 27 66 47 66M169 361c20 0 27 -12 47 -12c20 0 27 76 47 76c20 0 27 -6 47 -6c20 0 27 -37 47 -37c20 0 27 3 47 3c20 0 27 -9 47 -9c20 0 27 62 47 62M169 390c20 0 27 -19 47 -19c20 0 27 55 47 55c20 0 27 -123 47 -123c20 0 27 105 47 105c20 0 27 0 47 0c20 0 27 34 47 34c20 0 27 10 47 10M169 275c20 0 27 62 47 62c20 0 27 78 47 78c20 0 27 -70 47 -70c20 0 27 52 47 52c20 0 27 53 47 53c20 0 27 -90 47 -90c20 0 27 91 47 91M169 422c20 0 27 -67 47 -67c20 0 27 37 47 37c20 0 27 -51 47 -51c20 0 27 69 47 69c20 0 27 -69 47 -69c20 0 27 26 47 26c20 0 27 69 47 69M169 361c20 0 27 28 47 28c20 0 27 -45 47 -45c20 0 27 35 47 35c20 0 27 62 47 62c20 0 27 -106 47 -106c20 0 27 8 47 8c20 0 27 101 47 101M169 273c20 0 27 117 47 117c20 0 27 46 47 46c20 0 27 -88 47 -88c20 0 27 23 47 23c20 0 27 38 47 38c20 0 27 2 47 2c20 0 27 42 47 42M169 358c20 0 27 22 47 22c20 0 27 36 47 36c20 0 27 -77 47 -77c20 0 27 86 47 86c20 0 27 -64 47 -64c20 0 27 28 47 28c20 0 27 51 47 51M169 418c20 0 27 -33 47 -33c20 0 27 36 47 36c20 0 27 -133 47 -133c20 0 27 149 47 149c20 0 27 -33 47 -33c20 0 27 -26 47 -26c20 0 27 51 47 51M169 301c20 0 27 38 47 38c20 0 27 72 47 72c20 0 27 -18 47 -18c20 0 27 30 47 30c20 0 27 -53 47 -53c20 0 27 3 47 3c20 0 27 67 47 67M169 360c20 0 27 -1 47 -1c20 0 27 24 47 24c20 0 27 55 47 55c20 0 27 8 47 8c20 0 27 -38 47 -38c20 0 27 -57 47 -57c20 0 27 93 47 93M169 387c20 0 27 31 47 31c20 0 27 -66 47 -66c20 0 27 54 47 54c20 0 27 45 47 45c20 0 27 -139 47 -139c20 0 27 11 47 11c20 0 27 122 47 122M169 360c20 0 27 21 47 21c20 0 27 68 47 68c20 0 27 -58 47 -58c20 0 27 22 47 22c20 0 27 -71 47 -71c20 0 27 13 47 13c20 0 27 94 47 94M169 389c20 0 27 -69 47 -69c20 0 27 43 47 43c20 0 27 38 47 38c20 0 27 -6 47 -6c20 0 27 -65 47 -65c20 0 27 50 47 50c20 0 27 52 47 52M169 330c20 0 27 73 47 73c20 0 27 -40 47 -40c20 0 27 36 47 36c20 0 27 43 47 43c20 0 27 -176 47 -176c20 0 27 148 47 148c20 0 27 9 47 9M169 391c20 0 27 -114 47 -114c20 0 27 133 47 133c20 0 27 -47 47 -47c20 0 27 26 47 26c20 0 27 -43 47 -43c20 0 27 27 47 27c20 0 27 71 47 71M169 389c20 0 27 -88 47 -88c20 0 27 122 47 122c20 0 27 32 47 32c20 0 27 -109 47 -109c20 0 27 -40 47 -40c20 0 27 68 47 68c20 0 27 68 47 68M169 331c20 0 27 59 47 59c20 0 27 38 47 38c20 0 27 -28 47 -28c20 0 27 -26 47 -26c20 0 27 -27 47 -27c20 0 27 63 47 63c20 0 27 42 47 42M169 388c20 0 27 3 47 3c20 0 27 24 47 24c20 0 27 9 47 9c20 0 27 -1 47 -1c20 0 27 -12 47 -12c20 0 27 -5 47 -5c20 0 27 37 47 37M169 419c20 0 27 -25 47 -25c20 0 27 28 47 28c20 0 27 -46 47 -46c20 0 27 70 47 70c20 0 27 -55 47 -55c20 0 27 -16 47 -16c20 0 27 72 47 72M169 361c20 0 27 27 47 27c20 0 27 9 47 9c20 0 27 -38 47 -38c20 0 27 92 47 92c20 0 27 4 47 4c20 0 27 -35 47 -35c20 0 27 18 47 18M169 417c20 0 27 -64 47 -64c20 0 27 83 47 83c20 0 27 -128 47 -128c20 0 27 58 47 58c20 0 27 11 47 11c20 0 27 -12 47 -12c20 0 27 64 47 64M169 273c20 0 27 57 47 57c20 0 27 91 47 91c20 0 27 34 47 34c20 0 27 -41 47 -41c20 0 27 -27 47 -27c20 0 27 -48 47 -48c20 0 27 112 47 112M169 272c20 0 27 28 47 28c20 0 27 94 47 94c20 0 27 -17 47 -17c20 0 27 24 47 24c20 0 27 0 47 0c20 0 27 -68 47 -68c20 0 27 115 47 115M169 331c20 0 27 -2 47 -2c20 0 27 83 47 83c20 0 27 -14 47 -14c20 0 27 15 47 15c20 0 27 -127 47 -127c20 0 27 -9 47 -9c20 0 27 159 47 159M169 358c20 0 27 -24 47 -24c20 0 27 73 47 73c20 0 27 2 47 2c20 0 27 -35 47 -35c20 0 27 19 47 19c20 0 27 -3 47 -3c20 0 27 59 47 59M169 330c20 0 27 -27 47 -27c20 0 27 104 47 104c20 0 27 -70 47 -70c20 0 27 91 47 91c20 0 27 -101 47 -101c20 0 27 48 47 48c20 0 27 75 47 75M169 332c20 0 27 -21 47 -21c20 0 27 102 47 102c20 0 27 10 47 10c20 0 27 -42 47 -42c20 0 27 -31 47 -31c20 0 27 2 47 2c20 0 27 97 47 97M169 273c20 0 27 106 47 106c20 0 27 53 47 53c20 0 27 -39 47 -39c20 0 27 16 47 16c20 0 27 -62 47 -62c20 0 27 5 47 5c20 0 27 88 47 88M169 329c20 0 27 18 47 18c20 0 27 59 47 59c20 0 27 -117 47 -117c20 0 27 88 47 88c20 0 27 -1 47 -1c20 0 27 -98 47 -98c20 0 27 172 47 172M169 274c20 0 27 70 47 70c20 0 27 67 47 67c20 0 27 -17 47 -17c20 0 27 12 47 12c20 0 27 -68 47 -68c20 0 27 11 47 11c20 0 27 78 47 78M169 304c20 0 27 92 47 92c20 0 27 -21 47 -21c20 0 27 -65 47 -65c20 0 27 115 47 115c20 0 27 -5 47 -5c20 0 27 -71 47 -71c20 0 27 81 47 81M169 271c20 0 27 90 47 90c20 0 27 9 47 9c20 0 27 75 47 75c20 0 27 -64 47 -64c20 0 27 -87 47 -87c20 0 27 41 47 41c20 0 27 118 47 118M169 273c20 0 27 76 47 76c20 0 27 -83 47 -83c20 0 27 80 47 80c20 0 27 78 47 78c20 0 27 -110 47 -110c20 0 27 49 47 49c20 0 27 89 47 89M169 420c20 0 27 -114 47 -114c20 0 27 115 47 115c20 0 27 -30 47 -30c20 0 27 47 47 47c20 0 27 -77 47 -77c20 0 27 -4 47 -4c20 0 27 88 47 88M169 305c20 0 27 70 47 70c20 0 27 31 47 31c20 0 27 17 47 17c20 0 27 -18 47 -18c20 0 27 5 47 5c20 0 27 12 47 12c20 0 27 16 47 16M169 418c20 0 27 -92 47 -92c20 0 27 15 47 15c20 0 27 65 47 65c20 0 27 -14 47 -14c20 0 27 -78 47 -78c20 0 27 128 47 128c20 0 27 -2 47 -2M169 363c20 0 27 20 47 20c20 0 27 37 47 37c20 0 27 -70 47 -70c20 0 27 71 47 71c20 0 27 -23 47 -23c20 0 27 -14 47 -14c20 0 27 45 47 45M169 330c20 0 27 12 47 12c20 0 27 102 47 102c20 0 27 -178 47 -178c20 0 27 153 47 153c20 0 27 -142 47 -142c20 0 27 100 47 100c20 0 27 56 47 56M169 448c20 0 27 7 47 7c20 0 27 -11 47 -11c20 0 27 -113 47 -113c20 0 27 55 47 55c20 0 27 41 47 41c20 0 27 -83 47 -83c20 0 27 87 47 87M169 331c20 0 27 77 47 77c20 0 27 26 47 26c20 0 27 -10 47 -10c20 0 27 -27 47 -27c20 0 27 27 47 27c20 0 27 -11 47 -11c20 0 27 20 47 20M169 329c20 0 27 101 47 101c20 0 27 -31 47 -31c20 0 27 -29 47 -29c20 0 27 61 47 61c20 0 27 -1 47 -1c20 0 27 -9 47 -9c20 0 27 31 47 31M169 417c20 0 27 -80 47 -80c20 0 27 44 47 44c20 0 27 49 47 49c20 0 27 -22 47 -22c20 0 27 -20 47 -20c20 0 27 24 47 24c20 0 27 41 47 41M169 270c20 0 27 20 47 20c20 0 27 93 47 93c20 0 27 -38 47 -38c20 0 27 105 47 105c20 0 27 -75 47 -75c20 0 27 2 47 2c20 0 27 68 47 68M169 302c20 0 27 134 47 134c20 0 27 11 47 11c20 0 27 -103 47 -103c20 0 27 39 47 39c20 0 27 -84 47 -84c20 0 27 82 47 82c20 0 27 58 47 58M169 450c20 0 27 -102 47 -102c20 0 27 53 47 53c20 0 27 -63 47 -63c20 0 27 49 47 49c20 0 27 -69 47 -69c20 0 27 73 47 73c20 0 27 52 47 52M169 303c20 0 27 34 47 34c20 0 27 105 47 105c20 0 27 -95 47 -95c20 0 27 56 47 56c20 0 27 -88 47 -88c20 0 27 32 47 32c20 0 27 92 47 92M169 303c20 0 27 120 47 120c20 0 27 -44 47 -44c20 0 27 -9 47 -9c20 0 27 55 47 55c20 0 27 -102 47 -102c20 0 27 40 47 40c20 0 27 75 47 75M169 390c20 0 27 5 47 5c20 0 27 -12 47 -12c20 0 27 -5 47 -5c20 0 27 43 47 43c20 0 27 -120 47 -120c20 0 27 68 47 68c20 0 27 80 47 80M169 303c20 0 27 56 47 56c20 0 27 62 47 62c20 0 27 -48 47 -48c20 0 27 59 47 59c20 0 27 -68 47 -68c20 0 27 49 47 49c20 0 27 10 47 10M169 274c20 0 27 121 47 121c20 0 27 4 47 4c20 0 27 50 47 50c20 0 27 -57 47 -57c20 0 27 9 47 9c20 0 27 34 47 34c20 0 27 -1 47 -1M169 391c20 0 27 32 47 32c20 0 27 -1 47 -1c20 0 27 7 47 7c20 0 27 1 47 1c20 0 27 -19 47 -19c20 0 27 -8 47 -8c20 0 27 45 47 45M169 275c20 0 27 61 47 61c20 0 27 101 47 101c20 0 27 -45 47 -45c20 0 27 56 47 56c20 0 27 -78 47 -78c20 0 27 -27 47 -27c20 0 27 97 47 97M169 393c20 0 27 -35 47 -35c20 0 27 49 47 49c20 0 27 -46 47 -46c20 0 27 86 47 86c20 0 27 -29 47 -29c20 0 27 -50 47 -50c20 0 27 70 47 70M169 420c20 0 27 0 47 0c20 0 27 -90 47 -90c20 0 27 23 47 23c20 0 27 38 47 38c20 0 27 -15 47 -15c20 0 27 79 47 79c20 0 27 -16 47 -16M169 271c20 0 27 115 47 115c20 0 27 -16 47 -16c20 0 27 -25 47 -25c20 0 27 48 47 48c20 0 27 7 47 7c20 0 27 -45 47 -45c20 0 27 78 47 78M169 304c20 0 27 78 47 78c20 0 27 25 47 25c20 0 27 48 47 48c20 0 27 -75 47 -75c20 0 27 -61 47 -61c20 0 27 97 47 97c20 0 27 25 47 25M169 448c20 0 27 -111 47 -111c20 0 27 102 47 102c20 0 27 -48 47 -48c20 0 27 -42 47 -42c20 0 27 18 47 18c20 0 27 83 47 83c20 0 27 -23 47 -23M169 301c20 0 27 10 47 10c20 0 27 121 47 121c20 0 27 -24 47 -24c20 0 27 24 47 24c20 0 27 -138 47 -138c20 0 27 161 47 161c20 0 27 -17 47 -17M169 276c20 0 27 57 47 57c20 0 27 68 47 68c20 0 27 -92 47 -92c20 0 27 80 47 80c20 0 27 31 47 31c20 0 27 -76 47 -76c20 0 27 83 47 83M169 303c20 0 27 77 47 77c20 0 27 53 47 53c20 0 27 -167 47 -167c20 0 27 100 47 100c20 0 27 -60 47 -60c20 0 27 125 47 125c20 0 27 5 47 5M169 332c20 0 27 26 47 26c20 0 27 15 47 15c20 0 27 -2 47 -2c20 0 27 69 47 69c20 0 27 -28 47 -28c20 0 27 -28 47 -28c20 0 27 67 47 67M169 387c20 0 27 42 47 42c20 0 27 -24 47 -24c20 0 27 -99 47 -99c20 0 27 102 47 102c20 0 27 -8 47 -8c20 0 27 -29 47 -29c20 0 27 72 47 72M169 274c20 0 27 25 47 25c20 0 27 105 47 105c20 0 27 -42 47 -42c20 0 27 72 47 72c20 0 27 -87 47 -87c20 0 27 30 47 30c20 0 27 65 47 65M169 276c20 0 27 -10 47 -10c20 0 27 120 47 120c20 0 27 42 47 42c20 0 27 -5 47 -5c20 0 27 -70 47 -70c20 0 27 -23 47 -23c20 0 27 96 47 96M169 331c20 0 27 -34 47 -34c20 0 27 135 47 135c20 0 27 -124 47 -124c20 0 27 114 47 114c20 0 27 -98 47 -98c20 0 27 22 47 22c20 0 27 100 47 100M169 393c20 0 27 -73 47 -73c20 0 27 117 47 117c20 0 27 -171 47 -171c20 0 27 165 47 165c20 0 27 -66 47 -66c20 0 27 9 47 9c20 0 27 64 47 64M169 276c20 0 27 63 47 63c20 0 27 91 47 91c20 0 27 -89 47 -89c20 0 27 100 47 100c20 0 27 -74 47 -74c20 0 27 -31 47 -31c20 0 27 106 47 106M169 333c20 0 27 28 47 28c20 0 27 -67 47 -67c20 0 27 12 47 12c20 0 27 145 47 145c20 0 27 -141 47 -141c20 0 27 127 47 127c20 0 27 0 47 0M169 421c20 0 27 -85 47 -85c20 0 27 69 47 69c20 0 27 -29 47 -29c20 0 27 18 47 18c20 0 27 6 47 6c20 0 27 -54 47 -54c20 0 27 97 47 97M169 330c20 0 27 29 47 29c20 0 27 12 47 12c20 0 27 -44 47 -44c20 0 27 -59 47 -59c20 0 27 106 47 106c20 0 27 53 47 53c20 0 27 1 47 1M169 329c20 0 27 117 47 117c20 0 27 1 47 1c20 0 27 -77 47 -77c20 0 27 29 47 29c20 0 27 -133 47 -133c20 0 27 32 47 32c20 0 27 132 47 132M169 450c20 0 27 -58 47 -58c20 0 27 -42 47 -42c20 0 27 58 47 58c20 0 27 42 47 42c20 0 27 -66 47 -66c20 0 27 -11 47 -11c20 0 27 80 47 80M169 302c20 0 27 16 47 16c20 0 27 98 47 98c20 0 27 -88 47 -88c20 0 27 55 47 55c20 0 27 -59 47 -59c20 0 27 71 47 71c20 0 27 56 47 56M169 389c20 0 27 -27 47 -27c20 0 27 81 47 81c20 0 27 -34 47 -34c20 0 27 40 47 40c20 0 27 -71 47 -71c20 0 27 -24 47 -24c20 0 27 84 47 84M169 419c20 0 27 -9 47 -9c20 0 27 37 47 37c20 0 27 -17 47 -17c20 0 27 -105 47 -105c20 0 27 130 47 130c20 0 27 -29 47 -29c20 0 27 23 47 23M169 276c20 0 27 84 47 84c20 0 27 74 47 74c20 0 27 -37 47 -37c20 0 27 -88 47 -88c20 0 27 46 47 46c20 0 27 55 47 55c20 0 27 14 47 14M169 450c20 0 27 -100 47 -100c20 0 27 43 47 43c20 0 27 -66 47 -66c20 0 27 110 47 110c20 0 27 -28 47 -28c20 0 27 23 47 23c20 0 27 18 47 18M169 333c20 0 27 5 47 5c20 0 27 -56 47 -56c20 0 27 118 47 118c20 0 27 -27 47 -27c20 0 27 47 47 47c20 0 27 -17 47 -17c20 0 27 21 47 21M169 331c20 0 27 -21 47 -21c20 0 27 111 47 111c20 0 27 -82 47 -82c20 0 27 59 47 59c20 0 27 -72 47 -72c20 0 27 91 47 91c20 0 27 18 47 18M169 388c20 0 27 -78 47 -78c20 0 27 53 47 53c20 0 27 79 47 79c20 0 27 -37 47 -37c20 0 27 -103 47 -103c20 0 27 -20 47 -20c20 0 27 165 47 165M169 361c20 0 27 11 47 11c20 0 27 78 47 78c20 0 27 -78 47 -78c20 0 27 23 47 23c20 0 27 -26 47 -26c20 0 27 27 47 27c20 0 27 38 47 38M169 333c20 0 27 32 47 32c20 0 27 59 47 59c20 0 27 -35 47 -35c20 0 27 25 47 25c20 0 27 -17 47 -17c20 0 27 -2 47 -2c20 0 27 53 47 53M169 417c20 0 27 -110 47 -110c20 0 27 76 47 76c20 0 27 12 47 12c20 0 27 -7 47 -7c20 0 27 -2 47 -2c20 0 27 -15 47 -15c20 0 27 67 47 67M169 388c20 0 27 -47 47 -47c20 0 27 101 47 101c20 0 27 -41 47 -41c20 0 27 -35 47 -35c20 0 27 -13 47 -13c20 0 27 56 47 56c20 0 27 21 47 21M169 363c20 0 27 -28 47 -28c20 0 27 22 47 22c20 0 27 76 47 76c20 0 27 -27 47 -27c20 0 27 -56 47 -56c20 0 27 29 47 29c20 0 27 67 47 67M169 449c20 0 27 -68 47 -68c20 0 27 53 47 53c20 0 27 6 47 6c20 0 27 -5 47 -5c20 0 27 -126 47 -126c20 0 27 109 47 109c20 0 27 15 47 15M169 420c20 0 27 -5 47 -5c20 0 27 23 47 23c20 0 27 -117 47 -117c20 0 27 115 47 115c20 0 27 -48 47 -48c20 0 27 -57 47 -57c20 0 27 107 47 107M169 417c20 0 27 -151 47 -151c20 0 27 152 47 152c20 0 27 -59 47 -59c20 0 27 41 47 41c20 0 27 -82 47 -82c20 0 27 84 47 84c20 0 27 24 47 24M169 303c20 0 27 116 47 116c20 0 27 3 47 3c20 0 27 -65 47 -65c20 0 27 28 47 28c20 0 27 47 47 47c20 0 27 -39 47 -39c20 0 27 43 47 43M169 302c20 0 27 153 47 153c20 0 27 -11 47 -11c20 0 27 -79 47 -79c20 0 27 41 47 41c20 0 27 -61 47 -61c20 0 27 57 47 57c20 0 27 48 47 48M169 447c20 0 27 -144 47 -144c20 0 27 120 47 120c20 0 27 -61 47 -61c20 0 27 60 47 60c20 0 27 -43 47 -43c20 0 27 54 47 54c20 0 27 19 47 19M169 419c20 0 27 -27 47 -27c20 0 27 43 47 43c20 0 27 -110 47 -110c20 0 27 114 47 114c20 0 27 -120 47 -120c20 0 27 35 47 35c20 0 27 77 47 77M169 363c20 0 27 -95 47 -95c20 0 27 144 47 144c20 0 27 3 47 3c20 0 27 14 47 14c20 0 27 -79 47 -79c20 0 27 9 47 9c20 0 27 91 47 91M169 302c20 0 27 22 47 22c20 0 27 53 47 53c20 0 27 -16 47 -16c20 0 27 51 47 51c20 0 27 -37 47 -37c20 0 27 -26 47 -26c20 0 27 102 47 102M169 359c20 0 27 31 47 31c20 0 27 -14 47 -14c20 0 27 -50 47 -50c20 0 27 104 47 104c20 0 27 7 47 7c20 0 27 -142 47 -142c20 0 27 132 47 132M169 419c20 0 27 -8 47 -8c20 0 27 -61 47 -61c20 0 27 -19 47 -19c20 0 27 18 47 18c20 0 27 63 47 63c20 0 27 24 47 24c20 0 27 17 47 17M169 391c20 0 27 -28 47 -28c20 0 27 57 47 57c20 0 27 -34 47 -34c20 0 27 17 47 17c20 0 27 -54 47 -54c20 0 27 28 47 28c20 0 27 57 47 57M169 275c20 0 27 -9 47 -9c20 0 27 181 47 181c20 0 27 -34 47 -34c20 0 27 1 47 1c20 0 27 -10 47 -10c20 0 27 -80 47 -80c20 0 27 116 47 116M169 329c20 0 27 -63 47 -63c20 0 27 100 47 100c20 0 27 -56 47 -56c20 0 27 22 47 22c20 0 27 19 47 19c20 0 27 7 47 7c20 0 27 75 47 75M169 447c20 0 27 -40 47 -40c20 0 27 13 47 13c20 0 27 -3 47 -3c20 0 27 -8 47 -8c20 0 27 -33 47 -33c20 0 27 -65 47 -65c20 0 27 126 47 126M169 447c20 0 27 -139 47 -139c20 0 27 85 47 85c20 0 27 -9 47 -9c20 0 27 37 47 37c20 0 27 -19 47 -19c20 0 27 -47 47 -47c20 0 27 94 47 94M169 300c20 0 27 -1 47 -1c20 0 27 149 47 149c20 0 27 -41 47 -41c20 0 27 0 47 0c20 0 27 -15 47 -15c20 0 27 26 47 26c20 0 27 21 47 21M169 304c20 0 27 18 47 18c20 0 27 119 47 119c20 0 27 -53 47 -53c20 0 27 48 47 48c20 0 27 8 47 8c20 0 27 -48 47 -48c20 0 27 49 47 49M169 334c20 0 27 -35 47 -35c20 0 27 116 47 116c20 0 27 0 47 0c20 0 27 -13 47 -13c20 0 27 12 47 12c20 0 27 2 47 2c20 0 27 14 47 14M169 274c20 0 27 94 47 94c20 0 27 80 47 80c20 0 27 -129 47 -129c20 0 27 71 47 71c20 0 27 -12 47 -12c20 0 27 -46 47 -46c20 0 27 116 47 116M169 271c20 0 27 86 47 86c20 0 27 4 47 4c20 0 27 -2 47 -2c20 0 27 62 47 62c20 0 27 -76 47 -76c20 0 27 46 47 46c20 0 27 38 47 38M169 391c20 0 27 27 47 27c20 0 27 -18 47 -18c20 0 27 -50 47 -50c20 0 27 72 47 72c20 0 27 -130 47 -130c20 0 27 16 47 16c20 0 27 139 47 139M169 419c20 0 27 -68 47 -68c20 0 27 15 47 15c20 0 27 -1 47 -1c20 0 27 68 47 68c20 0 27 -159 47 -159c20 0 27 113 47 113c20 0 27 57 47 57M169 417c20 0 27 16 47 16c20 0 27 -2 47 -2c20 0 27 -62 47 -62c20 0 27 -32 47 -32c20 0 27 27 47 27c20 0 27 36 47 36c20 0 27 37 47 37M169 447c20 0 27 -146 47 -146c20 0 27 81 47 81c20 0 27 -36 47 -36c20 0 27 57 47 57c20 0 27 -9 47 -9c20 0 27 -34 47 -34c20 0 27 84 47 84M169 272c20 0 27 -5 47 -5c20 0 27 101 47 101c20 0 27 39 47 39c20 0 27 -2 47 -2c20 0 27 -81 47 -81c20 0 27 66 47 66c20 0 27 38 47 38M169 331c20 0 27 53 47 53c20 0 27 64 47 64c20 0 27 -43 47 -43c20 0 27 8 47 8c20 0 27 -89 47 -89c20 0 27 38 47 38c20 0 27 68 47 68M169 330c20 0 27 -24 47 -24c20 0 27 63 47 63c20 0 27 85 47 85c20 0 27 -105 47 -105c20 0 27 -5 47 -5c20 0 27 63 47 63c20 0 27 43 47 43M169 270c20 0 27 134 47 134c20 0 27 -72 47 -72c20 0 27 -41 47 -41c20 0 27 130 47 130c20 0 27 -61 47 -61c20 0 27 52 47 52c20 0 27 14 47 14M169 332c20 0 27 79 47 79c20 0 27 4 47 4c20 0 27 -149 47 -149c20 0 27 134 47 134c20 0 27 -88 47 -88c20 0 27 109 47 109c20 0 27 22 47 22M169 422c20 0 27 13 47 13c20 0 27 -22 47 -22c20 0 27 -66 47 -66c20 0 27 35 47 35c20 0 27 -101 47 -101c20 0 27 113 47 113c20 0 27 57 47 57M169 276c20 0 27 99 47 99c20 0 27 56 47 56c20 0 27 -111 47 -111c20 0 27 91 47 91c20 0 27 -3 47 -3c20 0 27 -25 47 -25c20 0 27 63 47 63M169 393c20 0 27 -86 47 -86c20 0 27 63 47 63c20 0 27 -20 47 -20c20 0 27 49 47 49c20 0 27 38 47 38c20 0 27 -83 47 -83c20 0 27 90 47 90M169 334c20 0 27 46 47 46c20 0 27 -25 47 -25c20 0 27 51 47 51c20 0 27 27 47 27c20 0 27 -148 47 -148c20 0 27 76 47 76c20 0 27 90 47 90M169 301c20 0 27 94 47 94c20 0 27 16 47 16c20 0 27 -116 47 -116c20 0 27 62 47 62c20 0 27 -59 47 -59c20 0 27 111 47 111c20 0 27 25 47 25M169 390c20 0 27 -2 47 -2c20 0 27 -5 47 -5c20 0 27 -6 47 -6c20 0 27 24 47 24c20 0 27 8 47 8c20 0 27 23 47 23c20 0 27 6 47 6M169 421c20 0 27 -102 47 -102c20 0 27 123 47 123c20 0 27 -96 47 -96c20 0 27 72 47 72c20 0 27 -56 47 -56c20 0 27 -5 47 -5c20 0 27 92 47 92M169 275c20 0 27 130 47 130c20 0 27 2 47 2c20 0 27 3 47 3c20 0 27 -58 47 -58c20 0 27 -19 47 -19c20 0 27 -64 47 -64c20 0 27 159 47 159M169 450c20 0 27 -119 47 -119c20 0 27 73 47 73c20 0 27 -20 47 -20c20 0 27 16 47 16c20 0 27 0 47 0c20 0 27 54 47 54c20 0 27 -15 47 -15M169 358c20 0 27 56 47 56c20 0 27 35 47 35c20 0 27 -75 47 -75c20 0 27 14 47 14c20 0 27 -10 47 -10c20 0 27 63 47 63c20 0 27 6 47 6M169 334c20 0 27 17 47 17c20 0 27 -3 47 -3c20 0 27 -33 47 -33c20 0 27 38 47 38c20 0 27 60 47 60c20 0 27 9 47 9c20 0 27 23 47 23M169 332c20 0 27 55 47 55c20 0 27 36 47 36c20 0 27 -90 47 -90c20 0 27 59 47 59c20 0 27 -17 47 -17c20 0 27 -17 47 -17c20 0 27 66 47 66M169 302c20 0 27 -36 47 -36c20 0 27 181 47 181c20 0 27 -128 47 -128c20 0 27 90 47 90c20 0 27 12 47 12c20 0 27 -40 47 -40c20 0 27 56 47 56M169 303c20 0 27 68 47 68c20 0 27 39 47 39c20 0 27 18 47 18c20 0 27 11 47 11c20 0 27 -87 47 -87c20 0 27 -13 47 -13c20 0 27 89 47 89M169 387c20 0 27 -118 47 -118c20 0 27 94 47 94c20 0 27 -49 47 -49c20 0 27 90 47 90c20 0 27 -32 47 -32c20 0 27 -12 47 -12c20 0 27 75 47 75M169 360c20 0 27 -34 47 -34c20 0 27 45 47 45c20 0 27 -40 47 -40c20 0 27 106 47 106c20 0 27 -58 47 -58c20 0 27 33 47 33c20 0 27 20 47 20M169 417c20 0 27 -68 47 -68c20 0 27 31 47 31c20 0 27 -46 47 -46c20 0 27 -36 47 -36c20 0 27 60 47 60c20 0 27 -92 47 -92c20 0 27 186 47 186M169 450c20 0 27 -106 47 -106c20 0 27 30 47 30c20 0 27 -8 47 -8c20 0 27 30 47 30c20 0 27 1 47 1c20 0 27 28 47 28c20 0 27 29 47 29M169 449c20 0 27 -88 47 -88c20 0 27 39 47 39c20 0 27 -3 47 -3c20 0 27 11 47 11c20 0 27 -5 47 -5c20 0 27 -68 47 -68c20 0 27 91 47 91M169 390c20 0 27 -66 47 -66c20 0 27 124 47 124c20 0 27 -78 47 -78c20 0 27 70 47 70c20 0 27 -14 47 -14c20 0 27 -94 47 -94c20 0 27 120 47 120M169 271c20 0 27 76 47 76c20 0 27 36 47 36c20 0 27 68 47 68c20 0 27 -18 47 -18c20 0 27 -52 47 -52c20 0 27 -14 47 -14c20 0 27 80 47 80M169 392c20 0 27 -101 47 -101c20 0 27 151 47 151c20 0 27 -63 47 -63c20 0 27 30 47 30c20 0 27 -8 47 -8c20 0 27 -56 47 -56c20 0 27 81 47 81M169 420c20 0 27 0 47 0c20 0 27 -18 47 -18c20 0 27 -97 47 -97c20 0 27 106 47 106c20 0 27 -31 47 -31c20 0 27 -31 47 -31c20 0 27 94 47 94M169 361c20 0 27 33 47 33c20 0 27 12 47 12c20 0 27 -87 47 -87c20 0 27 70 47 70c20 0 27 3 47 3c20 0 27 -112 47 -112c20 0 27 143 47 143M169 304c20 0 27 65 47 65c20 0 27 77 47 77c20 0 27 -70 47 -70c20 0 27 -62 47 -62c20 0 27 60 47 60c20 0 27 62 47 62c20 0 27 16 47 16M169 362c20 0 27 89 47 89c20 0 27 -91 47 -91c20 0 27 3 47 3c20 0 27 52 47 52c20 0 27 -45 47 -45c20 0 27 -25 47 -25c20 0 27 94 47 94M169 274c20 0 27 104 47 104c20 0 27 13 47 13c20 0 27 -65 47 -65c20 0 27 71 47 71c20 0 27 -31 47 -31c20 0 27 -13 47 -13c20 0 27 72 47 72M169 299c20 0 27 95 47 95c20 0 27 -32 47 -32c20 0 27 -14 47 -14c20 0 27 96 47 96c20 0 27 -104 47 -104c20 0 27 5 47 5c20 0 27 91 47 91M169 275c20 0 27 131 47 131c20 0 27 -43 47 -43c20 0 27 42 47 42c20 0 27 13 47 13c20 0 27 -86 47 -86c20 0 27 110 47 110c20 0 27 -14 47 -14M169 271c20 0 27 62 47 62c20 0 27 47 47 47c20 0 27 -59 47 -59c20 0 27 123 47 123c20 0 27 -141 47 -141c20 0 27 101 47 101c20 0 27 39 47 39M169 274c20 0 27 146 47 146c20 0 27 -61 47 -61c20 0 27 16 47 16c20 0 27 58 47 58c20 0 27 -104 47 -104c20 0 27 16 47 16c20 0 27 86 47 86M169 271c20 0 27 141 47 141c20 0 27 -76 47 -76c20 0 27 6 47 6c20 0 27 54 47 54c20 0 27 -96 47 -96c20 0 27 17 47 17c20 0 27 129 47 129M169 303c20 0 27 1 47 1c20 0 27 67 47 67c20 0 27 76 47 76c20 0 27 4 47 4c20 0 27 -88 47 -88c20 0 27 48 47 48c20 0 27 14 47 14M169 388c20 0 27 -63 47 -63c20 0 27 115 47 115c20 0 27 -7 47 -7c20 0 27 -10 47 -10c20 0 27 -59 47 -59c20 0 27 91 47 91c20 0 27 -3 47 -3M169 274c20 0 27 60 47 60c20 0 27 104 47 104c20 0 27 -10 47 -10c20 0 27 -3 47 -3c20 0 27 -88 47 -88c20 0 27 15 47 15c20 0 27 100 47 100M169 446c20 0 27 -98 47 -98c20 0 27 -40 47 -40c20 0 27 25 47 25c20 0 27 56 47 56c20 0 27 -67 47 -67c20 0 27 -2 47 -2c20 0 27 125 47 125M169 303c20 0 27 41 47 41c20 0 27 28 47 28c20 0 27 -94 47 -94c20 0 27 166 47 166c20 0 27 -36 47 -36c20 0 27 -62 47 -62c20 0 27 105 47 105M169 421c20 0 27 -34 47 -34c20 0 27 16 47 16c20 0 27 -46 47 -46c20 0 27 58 47 58c20 0 27 -122 47 -122c20 0 27 128 47 128c20 0 27 5 47 5M169 276c20 0 27 115 47 115c20 0 27 -9 47 -9c20 0 27 -69 47 -69c20 0 27 93 47 93c20 0 27 -34 47 -34c20 0 27 21 47 21c20 0 27 33 47 33M169 329c20 0 27 40 47 40c20 0 27 58 47 58c20 0 27 -15 47 -15c20 0 27 27 47 27c20 0 27 -84 47 -84c20 0 27 -9 47 -9c20 0 27 101 47 101M169 446c20 0 27 -84 47 -84c20 0 27 -39 47 -39c20 0 27 111 47 111c20 0 27 2 47 2c20 0 27 -12 47 -12c20 0 27 -104 47 -104c20 0 27 129 47 129M169 418c20 0 27 -88 47 -88c20 0 27 87 47 87c20 0 27 -98 47 -98c20 0 27 121 47 121c20 0 27 -31 47 -31c20 0 27 -3 47 -3c20 0 27 32 47 32M169 271c20 0 27 123 47 123c20 0 27 34 47 34c20 0 27 -162 47 -162c20 0 27 159 47 159c20 0 27 -83 47 -83c20 0 27 22 47 22c20 0 27 66 47 66M169 361c20 0 27 -4 47 -4c20 0 27 59 47 59c20 0 27 -25 47 -25c20 0 27 30 47 30c20 0 27 -27 47 -27c20 0 27 -6 47 -6c20 0 27 64 47 64M169 271c20 0 27 62 47 62c20 0 27 73 47 73c20 0 27 49 47 49c20 0 27 -121 47 -121c20 0 27 -5 47 -5c20 0 27 44 47 44c20 0 27 50 47 50M169 304c20 0 27 38 47 38c20 0 27 82 47 82c20 0 27 -83 47 -83c20 0 27 66 47 66c20 0 27 -14 47 -14c20 0 27 -49 47 -49c20 0 27 80 47 80M169 416c20 0 27 -58 47 -58c20 0 27 77 47 77c20 0 27 -88 47 -88c20 0 27 93 47 93c20 0 27 -50 47 -50c20 0 27 50 47 50c20 0 27 1 47 1M169 360c20 0 27 40 47 40c20 0 27 -22 47 -22c20 0 27 -23 47 -23c20 0 27 60 47 60c20 0 27 -28 47 -28c20 0 27 -33 47 -33c20 0 27 84 47 84M169 301c20 0 27 49 47 49c20 0 27 90 47 90c20 0 27 -89 47 -89c20 0 27 76 47 76c20 0 27 -67 47 -67c20 0 27 9 47 9c20 0 27 73 47 73M169 303c20 0 27 45 47 45c20 0 27 46 47 46c20 0 27 61 47 61c20 0 27 -118 47 -118c20 0 27 52 47 52c20 0 27 11 47 11c20 0 27 46 47 46M169 334c20 0 27 -26 47 -26c20 0 27 49 47 49c20 0 27 47 47 47c20 0 27 35 47 35c20 0 27 -31 47 -31c20 0 27 -54 47 -54c20 0 27 71 47 71M169 305c20 0 27 2 47 2c20 0 27 111 47 111c20 0 27 -1 47 -1c20 0 27 -54 47 -54c20 0 27 -37 47 -37c20 0 27 0 47 0c20 0 27 101 47 101M169 388c20 0 27 52 47 52c20 0 27 -44 47 -44c20 0 27 -52 47 -52c20 0 27 92 47 92c20 0 27 -90 47 -90c20 0 27 -8 47 -8c20 0 27 92 47 92M169 274c20 0 27 15 47 15c20 0 27 146 47 146c20 0 27 -63 47 -63c20 0 27 72 47 72c20 0 27 -158 47 -158c20 0 27 94 47 94c20 0 27 65 47 65M169 276c20 0 27 91 47 91c20 0 27 29 47 29c20 0 27 59 47 59c20 0 27 -34 47 -34c20 0 27 -52 47 -52c20 0 27 74 47 74c20 0 27 -9 47 -9M169 329c20 0 27 -63 47 -63c20 0 27 177 47 177c20 0 27 -121 47 -121c20 0 27 72 47 72c20 0 27 -88 47 -88c20 0 27 73 47 73c20 0 27 54 47 54M169 420c20 0 27 -42 47 -42c20 0 27 27 47 27c20 0 27 40 47 40c20 0 27 -17 47 -17c20 0 27 -31 47 -31c20 0 27 -82 47 -82c20 0 27 128 47 128M169 304c20 0 27 -20 47 -20c20 0 27 102 47 102c20 0 27 26 47 26c20 0 27 -17 47 -17c20 0 27 -32 47 -32c20 0 27 14 47 14c20 0 27 63 47 63M169 274c20 0 27 114 47 114c20 0 27 61 47 61c20 0 27 -86 47 -86c20 0 27 -5 47 -5c20 0 27 12 47 12c20 0 27 -1 47 -1c20 0 27 58 47 58M169 330c20 0 27 24 47 24c20 0 27 -16 47 -16c20 0 27 -19 47 -19c20 0 27 14 47 14c20 0 27 24 47 24c20 0 27 48 47 48c20 0 27 20 47 20M169 358c20 0 27 -92 47 -92c20 0 27 82 47 82c20 0 27 47 47 47c20 0 27 -37 47 -37c20 0 27 30 47 30c20 0 27 -58 47 -58c20 0 27 102 47 102M169 300c20 0 27 34 47 34c20 0 27 20 47 20c20 0 27 24 47 24c20 0 27 32 47 32c20 0 27 11 47 11c20 0 27 -14 47 -14c20 0 27 34 47 34M169 332c20 0 27 -17 47 -17c20 0 27 128 47 128c20 0 27 -43 47 -43c20 0 27 37 47 37c20 0 27 -18 47 -18c20 0 27 -41 47 -41c20 0 27 52 47 52M169 334c20 0 27 40 47 40c20 0 27 59 47 59c20 0 27 -17 47 -17c20 0 27 11 47 11c20 0 27 -108 47 -108c20 0 27 111 47 111c20 0 27 14 47 14M169 275c20 0 27 65 47 65c20 0 27 68 47 68c20 0 27 -53 47 -53c20 0 27 58 47 58c20 0 27 -21 47 -21c20 0 27 35 47 35c20 0 27 4 47 4M169 420c20 0 27 -141 47 -141c20 0 27 154 47 154c20 0 27 -50 47 -50c20 0 27 55 47 55c20 0 27 -122 47 -122c20 0 27 88 47 88c20 0 27 27 47 27M169 362c20 0 27 -41 47 -41c20 0 27 86 47 86c20 0 27 48 47 48c20 0 27 -64 47 -64c20 0 27 -48 47 -48c20 0 27 13 47 13c20 0 27 81 47 81M169 362c20 0 27 57 47 57c20 0 27 13 47 13c20 0 27 -22 47 -22c20 0 27 -29 47 -29c20 0 27 -54 47 -54c20 0 27 89 47 89c20 0 27 11 47 11M169 416c20 0 27 -32 47 -32c20 0 27 8 47 8c20 0 27 -8 47 -8c20 0 27 36 47 36c20 0 27 -21 47 -21c20 0 27 39 47 39c20 0 27 -2 47 -2M169 334c20 0 27 88 47 88c20 0 27 -4 47 -4c20 0 27 -72 47 -72c20 0 27 78 47 78c20 0 27 -28 47 -28c20 0 27 49 47 49c20 0 27 2 47 2M169 448c20 0 27 -90 47 -90c20 0 27 80 47 80c20 0 27 -150 47 -150c20 0 27 155 47 155c20 0 27 -129 47 -129c20 0 27 -48 47 -48c20 0 27 176 47 176M169 275c20 0 27 74 47 74c20 0 27 97 47 97c20 0 27 -71 47 -71c20 0 27 -5 47 -5c20 0 27 85 47 85c20 0 27 -151 47 -151c20 0 27 129 47 129M169 331c20 0 27 1 47 1c20 0 27 -11 47 -11c20 0 27 116 47 116c20 0 27 8 47 8c20 0 27 -82 47 -82c20 0 27 -70 47 -70c20 0 27 148 47 148M169 447c20 0 27 -132 47 -132c20 0 27 134 47 134c20 0 27 -115 47 -115c20 0 27 98 47 98c20 0 27 -67 47 -67c20 0 27 76 47 76c20 0 27 3 47 3M169 421c20 0 27 -155 47 -155c20 0 27 152 47 152c20 0 27 -25 47 -25c20 0 27 -52 47 -52c20 0 27 114 47 114c20 0 27 -99 47 -99c20 0 27 82 47 82M169 271c20 0 27 158 47 158c20 0 27 -57 47 -57c20 0 27 41 47 41c20 0 27 30 47 30c20 0 27 -127 47 -127c20 0 27 19 47 19c20 0 27 90 47 90M169 332c20 0 27 68 47 68c20 0 27 3 47 3c20 0 27 -50 47 -50c20 0 27 49 47 49c20 0 27 1 47 1c20 0 27 -96 47 -96c20 0 27 127 47 127M169 417c20 0 27 -47 47 -47c20 0 27 14 47 14c20 0 27 45 47 45c20 0 27 -16 47 -16c20 0 27 -5 47 -5c20 0 27 -88 47 -88c20 0 27 121 47 121M169 271c20 0 27 70 47 70c20 0 27 45 47 45c20 0 27 -17 47 -17c20 0 27 55 47 55c20 0 27 -45 47 -45c20 0 27 -68 47 -68c20 0 27 114 47 114M169 301c20 0 27 108 47 108c20 0 27 38 47 38c20 0 27 -25 47 -25c20 0 27 18 47 18c20 0 27 -80 47 -80c20 0 27 3 47 3c20 0 27 87 47 87M169 419c20 0 27 -59 47 -59c20 0 27 -21 47 -21c20 0 27 -35 47 -35c20 0 27 44 47 44c20 0 27 15 47 15c20 0 27 16 47 16c20 0 27 60 47 60M169 300c20 0 27 45 47 45c20 0 27 100 47 100c20 0 27 -30 47 -30c20 0 27 -32 47 -32c20 0 27 -52 47 -52c20 0 27 19 47 19c20 0 27 80 47 80M169 304c20 0 27 54 47 54c20 0 27 50 47 50c20 0 27 -66 47 -66c20 0 27 106 47 106c20 0 27 -174 47 -174c20 0 27 37 47 37c20 0 27 118 47 118M169 334c20 0 27 -27 47 -27c20 0 27 113 47 113c20 0 27 -53 47 -53c20 0 27 85 47 85c20 0 27 -23 47 -23c20 0 27 -125 47 -125c20 0 27 147 47 147M169 389c20 0 27 -30 47 -30c20 0 27 50 47 50c20 0 27 -31 47 -31c20 0 27 40 47 40c20 0 27 -117 47 -117c20 0 27 102 47 102c20 0 27 29 47 29M169 273c20 0 27 103 47 103c20 0 27 17 47 17c20 0 27 -127 47 -127c20 0 27 126 47 126c20 0 27 -126 47 -126c20 0 27 113 47 113c20 0 27 59 47 59M169 333c20 0 27 67 47 67c20 0 27 38 47 38c20 0 27 -97 47 -97c20 0 27 61 47 61c20 0 27 -88 47 -88c20 0 27 111 47 111c20 0 27 10 47 10M169 419c20 0 27 -135 47 -135c20 0 27 161 47 161c20 0 27 -123 47 -123c20 0 27 -3 47 -3c20 0 27 20 47 20c20 0 27 13 47 13c20 0 27 91 47 91M169 390c20 0 27 -20 47 -20c20 0 27 -17 47 -17c20 0 27 49 47 49c20 0 27 -13 47 -13c20 0 27 -53 47 -53c20 0 27 4 47 4c20 0 27 87 47 87M169 331c20 0 27 57 47 57c20 0 27 31 47 31c20 0 27 -151 47 -151c20 0 27 156 47 156c20 0 27 -101 47 -101c20 0 27 8 47 8c20 0 27 102 47 102M169 447c20 0 27 -157 47 -157c20 0 27 68 47 68c20 0 27 -23 47 -23c20 0 27 105 47 105c20 0 27 -126 47 -126c20 0 27 129 47 129c20 0 27 -15 47 -15M169 300c20 0 27 57 47 57c20 0 27 74 47 74c20 0 27 -67 47 -67c20 0 27 -9 47 -9c20 0 27 -15 47 -15c20 0 27 -67 47 -67c20 0 27 179 47 179M169 300c20 0 27 -18 47 -18c20 0 27 166 47 166c20 0 27 -134 47 -134c20 0 27 98 47 98c20 0 27 -60 47 -60c20 0 27 -9 47 -9c20 0 27 84 47 84M169 420c20 0 27 -40 47 -40c20 0 27 17 47 17c20 0 27 -4 47 -4c20 0 27 34 47 34c20 0 27 -142 47 -142c20 0 27 168 47 168c20 0 27 -24 47 -24M169 302c20 0 27 120 47 120c20 0 27 15 47 15c20 0 27 -45 47 -45c20 0 27 39 47 39c20 0 27 -2 47 -2c20 0 27 -109 47 -109c20 0 27 122 47 122M169 392c20 0 27 -81 47 -81c20 0 27 111 47 111c20 0 27 -7 47 -7c20 0 27 -18 47 -18c20 0 27 -63 47 -63c20 0 27 75 47 75c20 0 27 43 47 43M169 359c20 0 27 -36 47 -36c20 0 27 76 47 76c20 0 27 33 47 33c20 0 27 -24 47 -24c20 0 27 41 47 41c20 0 27 -112 47 -112c20 0 27 97 47 97M169 363c20 0 27 48 47 48c20 0 27 6 47 6c20 0 27 -65 47 -65c20 0 27 47 47 47c20 0 27 -52 47 -52c20 0 27 108 47 108c20 0 27 -7 47 -7M169 448c20 0 27 -80 47 -80c20 0 27 35 47 35c20 0 27 -84 47 -84c20 0 27 99 47 99c20 0 27 36 47 36c20 0 27 -110 47 -110c20 0 27 110 47 110M169 332c20 0 27 -66 47 -66c20 0 27 128 47 128c20 0 27 43 47 43c20 0 27 -39 47 -39c20 0 27 -6 47 -6c20 0 27 0 47 0c20 0 27 35 47 35M169 270c20 0 27 104 47 104c20 0 27 36 47 36c20 0 27 -8 47 -8c20 0 27 32 47 32c20 0 27 -67 47 -67c20 0 27 -27 47 -27c20 0 27 99 47 99M169 447c20 0 27 -120 47 -120c20 0 27 45 47 45c20 0 27 11 47 11c20 0 27 64 47 64c20 0 27 -40 47 -40c20 0 27 -107 47 -107c20 0 27 132 47 132M169 447c20 0 27 -92 47 -92c20 0 27 -6 47 -6c20 0 27 71 47 71c20 0 27 18 47 18c20 0 27 5 47 5c20 0 27 -27 47 -27c20 0 27 35 47 35M169 334c20 0 27 -66 47 -66c20 0 27 95 47 95c20 0 27 -39 47 -39c20 0 27 48 47 48c20 0 27 -70 47 -70c20 0 27 0 47 0c20 0 27 129 47 129M169 272c20 0 27 135 47 135c20 0 27 1 47 1c20 0 27 38 47 38c20 0 27 -13 47 -13c20 0 27 -115 47 -115c20 0 27 11 47 11c20 0 27 120 47 120M169 418c20 0 27 -93 47 -93c20 0 27 73 47 73c20 0 27 -57 47 -57c20 0 27 104 47 104c20 0 27 -88 47 -88c20 0 27 67 47 67c20 0 27 3 47 3M169 332c20 0 27 66 47 66c20 0 27 14 47 14c20 0 27 -2 47 -2c20 0 27 33 47 33c20 0 27 -95 47 -95c20 0 27 39 47 39c20 0 27 48 47 48M169 361c20 0 27 28 47 28c20 0 27 -24 47 -24c20 0 27 -16 47 -16c20 0 27 43 47 43c20 0 27 21 47 21c20 0 27 -56 47 -56c20 0 27 77 47 77M169 449c20 0 27 -81 47 -81c20 0 27 50 47 50c20 0 27 -34 47 -34c20 0 27 21 47 21c20 0 27 -65 47 -65c20 0 27 -38 47 -38c20 0 27 139 47 139M169 275c20 0 27 82 47 82c20 0 27 66 47 66c20 0 27 -58 47 -58c20 0 27 60 47 60c20 0 27 -42 47 -42c20 0 27 43 47 43c20 0 27 18 47 18M169 391c20 0 27 -78 47 -78c20 0 27 132 47 132c20 0 27 -89 47 -89c20 0 27 24 47 24c20 0 27 8 47 8c20 0 27 35 47 35c20 0 27 31 47 31M169 419c20 0 27 -116 47 -116c20 0 27 19 47 19c20 0 27 -10 47 -10c20 0 27 88 47 88c20 0 27 46 47 46c20 0 27 -41 47 -41c20 0 27 48 47 48M169 416c20 0 27 -46 47 -46c20 0 27 77 47 77c20 0 27 -127 47 -127c20 0 27 100 47 100c20 0 27 -96 47 -96c20 0 27 75 47 75c20 0 27 35 47 35M169 300c20 0 27 -14 47 -14c20 0 27 112 47 112c20 0 27 0 47 0c20 0 27 -6 47 -6c20 0 27 -89 47 -89c20 0 27 41 47 41c20 0 27 92 47 92M169 445c20 0 27 -57 47 -57c20 0 27 30 47 30c20 0 27 -35 47 -35c20 0 27 -44 47 -44c20 0 27 -24 47 -24c20 0 27 30 47 30c20 0 27 93 47 93M169 274c20 0 27 88 47 88c20 0 27 69 47 69c20 0 27 -26 47 -26c20 0 27 20 47 20c20 0 27 -4 47 -4c20 0 27 -17 47 -17c20 0 27 32 47 32M169 360c20 0 27 54 47 54c20 0 27 -10 47 -10c20 0 27 -58 47 -58c20 0 27 90 47 90c20 0 27 -51 47 -51c20 0 27 -9 47 -9c20 0 27 73 47 73M169 273c20 0 27 82 47 82c20 0 27 59 47 59c20 0 27 -71 47 -71c20 0 27 85 47 85c20 0 27 -58 47 -58c20 0 27 34 47 34c20 0 27 33 47 33M169 358c20 0 27 -58 47 -58c20 0 27 -12 47 -12c20 0 27 64 47 64c20 0 27 59 47 59c20 0 27 -68 47 -68c20 0 27 -1 47 -1c20 0 27 93 47 93M169 305c20 0 27 68 47 68c20 0 27 65 47 65c20 0 27 -120 47 -120c20 0 27 133 47 133c20 0 27 -65 47 -65c20 0 27 47 47 47c20 0 27 5 47 5M169 273c20 0 27 130 47 130c20 0 27 -13 47 -13c20 0 27 -39 47 -39c20 0 27 26 47 26c20 0 27 -2 47 -2c20 0 27 -7 47 -7c20 0 27 77 47 77M169 418c20 0 27 -22 47 -22c20 0 27 -37 47 -37c20 0 27 -59 47 -59c20 0 27 90 47 90c20 0 27 -2 47 -2c20 0 27 23 47 23c20 0 27 18 47 18M169 333c20 0 27 55 47 55c20 0 27 26 47 26c20 0 27 -46 47 -46c20 0 27 79 47 79c20 0 27 -42 47 -42c20 0 27 -24 47 -24c20 0 27 69 47 69M169 421c20 0 27 -36 47 -36c20 0 27 8 47 8c20 0 27 -34 47 -34c20 0 27 55 47 55c20 0 27 -58 47 -58c20 0 27 -9 47 -9c20 0 27 87 47 87M169 273c20 0 27 67 47 67c20 0 27 80 47 80c20 0 27 -85 47 -85c20 0 27 107 47 107c20 0 27 -72 47 -72c20 0 27 -70 47 -70c20 0 27 147 47 147M169 363c20 0 27 26 47 26c20 0 27 53 47 53c20 0 27 -101 47 -101c20 0 27 29 47 29c20 0 27 -23 47 -23c20 0 27 -66 47 -66c20 0 27 164 47 164M169 448c20 0 27 -96 47 -96c20 0 27 56 47 56c20 0 27 -44 47 -44c20 0 27 80 47 80c20 0 27 -128 47 -128c20 0 27 42 47 42c20 0 27 78 47 78M169 301c20 0 27 -17 47 -17c20 0 27 151 47 151c20 0 27 -67 47 -67c20 0 27 46 47 46c20 0 27 -27 47 -27c20 0 27 1 47 1c20 0 27 63 47 63M169 301c20 0 27 82 47 82c20 0 27 61 47 61c20 0 27 -54 47 -54c20 0 27 21 47 21c20 0 27 35 47 35c20 0 27 -117 47 -117c20 0 27 104 47 104M169 447c20 0 27 -21 47 -21c20 0 27 -57 47 -57c20 0 27 -41 47 -41c20 0 27 102 47 102c20 0 27 -102 47 -102c20 0 27 23 47 23c20 0 27 73 47 73M169 329c20 0 27 96 47 96c20 0 27 6 47 6c20 0 27 -45 47 -45c20 0 27 -10 47 -10c20 0 27 -49 47 -49c20 0 27 29 47 29c20 0 27 70 47 70M169 329c20 0 27 -23 47 -23c20 0 27 115 47 115c20 0 27 -39 47 -39c20 0 27 49 47 49c20 0 27 -107 47 -107c20 0 27 54 47 54c20 0 27 59 47 59M169 359c20 0 27 17 47 17c20 0 27 42 47 42c20 0 27 -85 47 -85c20 0 27 89 47 89c20 0 27 25 47 25c20 0 27 -58 47 -58c20 0 27 59 47 59M169 360c20 0 27 -28 47 -28c20 0 27 98 47 98c20 0 27 -101 47 -101c20 0 27 84 47 84c20 0 27 -25 47 -25c20 0 27 -25 47 -25c20 0 27 90 47 90M169 446c20 0 27 -71 47 -71c20 0 27 75 47 75c20 0 27 -44 47 -44c20 0 27 15 47 15c20 0 27 -115 47 -115c20 0 27 86 47 86c20 0 27 40 47 40M169 390c20 0 27 -97 47 -97c20 0 27 78 47 78c20 0 27 22 47 22c20 0 27 -60 47 -60c20 0 27 -1 47 -1c20 0 27 70 47 70c20 0 27 40 47 40M169 332c20 0 27 -16 47 -16c20 0 27 124 47 124c20 0 27 -111 47 -111c20 0 27 21 47 21c20 0 27 -17 47 -17c20 0 27 77 47 77c20 0 27 43 47 43M169 360c20 0 27 -6 47 -6c20 0 27 62 47 62c20 0 27 -54 47 -54c20 0 27 55 47 55c20 0 27 23 47 23c20 0 27 -111 47 -111c20 0 27 96 47 96M169 362c20 0 27 -23 47 -23c20 0 27 106 47 106c20 0 27 -62 47 -62c20 0 27 35 47 35c20 0 27 -36 47 -36c20 0 27 -61 47 -61c20 0 27 124 47 124M169 304c20 0 27 49 47 49c20 0 27 70 47 70c20 0 27 -59 47 -59c20 0 27 38 47 38c20 0 27 -1 47 -1c20 0 27 54 47 54c20 0 27 -8 47 -8M169 450c20 0 27 -152 47 -152c20 0 27 149 47 149c20 0 27 -69 47 -69c20 0 27 56 47 56c20 0 27 -55 47 -55c20 0 27 -16 47 -16c20 0 27 79 47 79M169 271c20 0 27 110 47 110c20 0 27 10 47 10c20 0 27 64 47 64c20 0 27 -15 47 -15c20 0 27 -168 47 -168c20 0 27 129 47 129c20 0 27 43 47 43M169 301c20 0 27 70 47 70c20 0 27 70 47 70c20 0 27 -87 47 -87c20 0 27 77 47 77c20 0 27 -49 47 -49c20 0 27 20 47 20c20 0 27 30 47 30M169 332c20 0 27 39 47 39c20 0 27 78 47 78c20 0 27 -88 47 -88c20 0 27 41 47 41c20 0 27 28 47 28c20 0 27 -81 47 -81c20 0 27 89 47 89M169 450c20 0 27 -44 47 -44c20 0 27 -70 47 -70c20 0 27 41 47 41c20 0 27 28 47 28c20 0 27 12 47 12c20 0 27 -62 47 -62c20 0 27 72 47 72M169 331c20 0 27 -6 47 -6c20 0 27 73 47 73c20 0 27 -83 47 -83c20 0 27 65 47 65c20 0 27 3 47 3c20 0 27 -81 47 -81c20 0 27 133 47 133M169 302c20 0 27 -26 47 -26c20 0 27 170 47 170c20 0 27 -53 47 -53c20 0 27 -32 47 -32c20 0 27 -56 47 -56c20 0 27 131 47 131c20 0 27 -10 47 -10M169 446c20 0 27 -94 47 -94c20 0 27 97 47 97c20 0 27 -69 47 -69c20 0 27 28 47 28c20 0 27 -17 47 -17c20 0 27 -71 47 -71c20 0 27 122 47 122M169 419c20 0 27 -148 47 -148c20 0 27 158 47 158c20 0 27 -70 47 -70c20 0 27 30 47 30c20 0 27 -12 47 -12c20 0 27 -28 47 -28c20 0 27 79 47 79M169 419c20 0 27 -45 47 -45c20 0 27 18 47 18c20 0 27 -69 47 -69c20 0 27 114 47 114c20 0 27 -171 47 -171c20 0 27 102 47 102c20 0 27 56 47 56M169 359c20 0 27 3 47 3c20 0 27 42 47 42c20 0 27 -39 47 -39c20 0 27 44 47 44c20 0 27 -114 47 -114c20 0 27 46 47 46c20 0 27 94 47 94M169 449c20 0 27 -25 47 -25c20 0 27 -36 47 -36c20 0 27 -8 47 -8c20 0 27 58 47 58c20 0 27 -78 47 -78c20 0 27 29 47 29c20 0 27 42 47 42M169 302c20 0 27 70 47 70c20 0 27 -8 47 -8c20 0 27 30 47 30c20 0 27 30 47 30c20 0 27 -19 47 -19c20 0 27 -33 47 -33c20 0 27 54 47 54M169 333c20 0 27 -66 47 -66c20 0 27 116 47 116c20 0 27 -43 47 -43c20 0 27 80 47 80c20 0 27 35 47 35c20 0 27 -37 47 -37c20 0 27 21 47 21M169 448c20 0 27 -57 47 -57c20 0 27 23 47 23c20 0 27 -75 47 -75c20 0 27 48 47 48c20 0 27 -90 47 -90c20 0 27 87 47 87c20 0 27 47 47 47M169 364c20 0 27 54 47 54c20 0 27 26 47 26c20 0 27 -132 47 -132c20 0 27 55 47 55c20 0 27 -33 47 -33c20 0 27 40 47 40c20 0 27 58 47 58M169 418c20 0 27 -116 47 -116c20 0 27 89 47 89c20 0 27 -53 47 -53c20 0 27 109 47 109c20 0 27 -73 47 -73c20 0 27 2 47 2c20 0 27 49 47 49M169 420c20 0 27 -27 47 -27c20 0 27 56 47 56c20 0 27 -61 47 -61c20 0 27 -67 47 -67c20 0 27 20 47 20c20 0 27 -31 47 -31c20 0 27 133 47 133M169 360c20 0 27 -35 47 -35c20 0 27 109 47 109c20 0 27 -25 47 -25c20 0 27 33 47 33c20 0 27 -139 47 -139c20 0 27 -1 47 -1c20 0 27 133 47 133M169 300c20 0 27 8 47 8c20 0 27 94 47 94c20 0 27 -71 47 -71c20 0 27 59 47 59c20 0 27 -17 47 -17c20 0 27 19 47 19c20 0 27 39 47 39M169 362c20 0 27 17 47 17c20 0 27 -46 47 -46c20 0 27 -34 47 -34c20 0 27 115 47 115c20 0 27 18 47 18c20 0 27 -14 47 -14c20 0 27 18 47 18M169 358c20 0 27 50 47 50c20 0 27 31 47 31c20 0 27 -122 47 -122c20 0 27 51 47 51c20 0 27 -72 47 -72c20 0 27 54 47 54c20 0 27 75 47 75M169 451c20 0 27 -185 47 -185c20 0 27 126 47 126c20 0 27 -85 47 -85c20 0 27 122 47 122c20 0 27 -75 47 -75c20 0 27 31 47 31c20 0 27 41 47 41M169 330c20 0 27 -9 47 -9c20 0 27 112 47 112c20 0 27 -96 47 -96c20 0 27 89 47 89c20 0 27 -77 47 -77c20 0 27 85 47 85c20 0 27 -8 47 -8M169 448c20 0 27 -101 47 -101c20 0 27 51 47 51c20 0 27 -109 47 -109c20 0 27 97 47 97c20 0 27 -47 47 -47c20 0 27 116 47 116c20 0 27 -4 47 -4M169 305c20 0 27 1 47 1c20 0 27 64 47 64c20 0 27 -17 47 -17c20 0 27 90 47 90c20 0 27 -63 47 -63c20 0 27 -31 47 -31c20 0 27 82 47 82M169 446c20 0 27 -155 47 -155c20 0 27 147 47 147c20 0 27 -73 47 -73c20 0 27 71 47 71c20 0 27 -30 47 -30c20 0 27 49 47 49c20 0 27 -20 47 -20M169 389c20 0 27 -70 47 -70c20 0 27 98 47 98c20 0 27 -13 47 -13c20 0 27 -8 47 -8c20 0 27 -69 47 -69c20 0 27 92 47 92c20 0 27 5 47 5M169 447c20 0 27 -80 47 -80c20 0 27 22 47 22c20 0 27 -36 47 -36c20 0 27 46 47 46c20 0 27 -10 47 -10c20 0 27 -102 47 -102c20 0 27 162 47 162M169 360c20 0 27 16 47 16c20 0 27 55 47 55c20 0 27 -68 47 -68c20 0 27 47 47 47c20 0 27 -24 47 -24c20 0 27 -49 47 -49c20 0 27 112 47 112M169 302c20 0 27 142 47 142c20 0 27 -3 47 -3c20 0 27 -72 47 -72c20 0 27 82 47 82c20 0 27 -56 47 -56c20 0 27 -33 47 -33c20 0 27 69 47 69M169 272c20 0 27 56 47 56c20 0 27 -20 47 -20c20 0 27 -32 47 -32c20 0 27 46 47 46c20 0 27 58 47 58c20 0 27 -25 47 -25c20 0 27 94 47 94M169 447c20 0 27 -52 47 -52c20 0 27 17 47 17c20 0 27 -57 47 -57c20 0 27 68 47 68c20 0 27 32 47 32c20 0 27 -16 47 -16c20 0 27 8 47 8M169 391c20 0 27 15 47 15c20 0 27 25 47 25c20 0 27 -74 47 -74c20 0 27 94 47 94c20 0 27 -93 47 -93c20 0 27 86 47 86c20 0 27 8 47 8M169 362c20 0 27 -16 47 -16c20 0 27 80 47 80c20 0 27 -116 47 -116c20 0 27 67 47 67c20 0 27 -16 47 -16c20 0 27 77 47 77c20 0 27 13 47 13M169 334c20 0 27 -54 47 -54c20 0 27 137 47 137c20 0 27 -66 47 -66c20 0 27 74 47 74c20 0 27 -35 47 -35c20 0 27 -25 47 -25c20 0 27 60 47 60M169 359c20 0 27 5 47 5c20 0 27 73 47 73c20 0 27 -102 47 -102c20 0 27 88 47 88c20 0 27 -98 47 -98c20 0 27 11 47 11c20 0 27 89 47 89M169 334c20 0 27 106 47 106c20 0 27 -8 47 -8c20 0 27 -8 47 -8c20 0 27 -67 47 -67c20 0 27 -55 47 -55c20 0 27 71 47 71c20 0 27 62 47 62M169 361c20 0 27 46 47 46c20 0 27 16 47 16c20 0 27 -90 47 -90c20 0 27 70 47 70c20 0 27 -62 47 -62c20 0 27 41 47 41c20 0 27 64 47 64M169 451c20 0 27 -95 47 -95c20 0 27 77 47 77c20 0 27 -15 47 -15c20 0 27 -27 47 -27c20 0 27 -50 47 -50c20 0 27 114 47 114c20 0 27 -6 47 -6M169 390c20 0 27 -63 47 -63c20 0 27 63 47 63c20 0 27 32 47 32c20 0 27 -4 47 -4c20 0 27 -3 47 -3c20 0 27 -75 47 -75c20 0 27 114 47 114M169 391c20 0 27 -68 47 -68c20 0 27 15 47 15c20 0 27 68 47 68c20 0 27 32 47 32c20 0 27 -92 47 -92c20 0 27 2 47 2c20 0 27 97 47 97M169 304c20 0 27 90 47 90c20 0 27 -22 47 -22c20 0 27 -27 47 -27c20 0 27 -57 47 -57c20 0 27 81 47 81c20 0 27 -61 47 -61c20 0 27 119 47 119M169 329c20 0 27 -56 47 -56c20 0 27 143 47 143c20 0 27 -10 47 -10c20 0 27 34 47 34c20 0 27 -122 47 -122c20 0 27 92 47 92c20 0 27 38 47 38M169 391c20 0 27 -37 47 -37c20 0 27 47 47 47c20 0 27 9 47 9c20 0 27 17 47 17c20 0 27 -10 47 -10c20 0 27 -71 47 -71c20 0 27 78 47 78M169 450c20 0 27 -73 47 -73c20 0 27 -54 47 -54c20 0 27 59 47 59c20 0 27 30 47 30c20 0 27 43 47 43c20 0 27 -84 47 -84c20 0 27 78 47 78M169 334c20 0 27 41 47 41c20 0 27 49 47 49c20 0 27 -66 47 -66c20 0 27 36 47 36c20 0 27 12 47 12c20 0 27 17 47 17c20 0 27 14 47 14M169 301c20 0 27 32 47 32c20 0 27 39 47 39c20 0 27 54 47 54c20 0 27 -46 47 -46c20 0 27 -16 47 -16c20 0 27 -32 47 -32c20 0 27 94 47 94M169 271c20 0 27 61 47 61c20 0 27 98 47 98c20 0 27 -32 47 -32c20 0 27 -80 47 -80c20 0 27 137 47 137c20 0 27 -81 47 -81c20 0 27 61 47 61M169 270c20 0 27 67 47 67c20 0 27 79 47 79c20 0 27 -29 47 -29c20 0 27 -27 47 -27c20 0 27 13 47 13c20 0 27 -57 47 -57c20 0 27 129 47 129M169 271c20 0 27 67 47 67c20 0 27 72 47 72c20 0 27 2 47 2c20 0 27 -25 47 -25c20 0 27 -76 47 -76c20 0 27 64 47 64c20 0 27 77 47 77M169 331c20 0 27 32 47 32c20 0 27 2 47 2c20 0 27 -29 47 -29c20 0 27 60 47 60c20 0 27 -34 47 -34c20 0 27 13 47 13c20 0 27 75 47 75M169 420c20 0 27 -6 47 -6c20 0 27 -1 47 -1c20 0 27 -62 47 -62c20 0 27 34 47 34c20 0 27 -38 47 -38c20 0 27 71 47 71c20 0 27 20 47 20M169 332c20 0 27 55 47 55c20 0 27 22 47 22c20 0 27 -29 47 -29c20 0 27 71 47 71c20 0 27 -38 47 -38c20 0 27 -111 47 -111c20 0 27 133 47 133M169 417c20 0 27 -39 47 -39c20 0 27 -13 47 -13c20 0 27 90 47 90c20 0 27 -91 47 -91c20 0 27 5 47 5c20 0 27 44 47 44c20 0 27 23 47 23M169 300c20 0 27 -4 47 -4c20 0 27 145 47 145c20 0 27 -175 47 -175c20 0 27 130 47 130c20 0 27 -76 47 -76c20 0 27 72 47 72c20 0 27 44 47 44M169 360c20 0 27 -54 47 -54c20 0 27 142 47 142c20 0 27 -21 47 -21c20 0 27 15 47 15c20 0 27 -78 47 -78c20 0 27 20 47 20c20 0 27 44 47 44M169 331c20 0 27 -30 47 -30c20 0 27 133 47 133c20 0 27 -48 47 -48c20 0 27 60 47 60c20 0 27 -124 47 -124c20 0 27 -12 47 -12c20 0 27 125 47 125M169 419c20 0 27 -51 47 -51c20 0 27 66 47 66c20 0 27 -105 47 -105c20 0 27 17 47 17c20 0 27 -52 47 -52c20 0 27 117 47 117c20 0 27 24 47 24M169 333c20 0 27 69 47 69c20 0 27 -17 47 -17c20 0 27 14 47 14c20 0 27 -41 47 -41c20 0 27 41 47 41c20 0 27 -14 47 -14c20 0 27 49 47 49M169 447c20 0 27 -23 47 -23c20 0 27 21 47 21c20 0 27 -133 47 -133c20 0 27 104 47 104c20 0 27 -97 47 -97c20 0 27 89 47 89c20 0 27 33 47 33M169 449c20 0 27 -78 47 -78c20 0 27 68 47 68c20 0 27 -30 47 -30c20 0 27 -16 47 -16c20 0 27 -32 47 -32c20 0 27 -51 47 -51c20 0 27 134 47 134M169 390c20 0 27 -3 47 -3c20 0 27 -89 47 -89c20 0 27 -21 47 -21c20 0 27 151 47 151c20 0 27 -108 47 -108c20 0 27 119 47 119c20 0 27 6 47 6M169 391c20 0 27 -21 47 -21c20 0 27 15 47 15c20 0 27 -74 47 -74c20 0 27 85 47 85c20 0 27 -22 47 -22c20 0 27 33 47 33c20 0 27 27 47 27M169 329c20 0 27 26 47 26c20 0 27 64 47 64c20 0 27 -21 47 -21c20 0 27 28 47 28c20 0 27 -105 47 -105c20 0 27 46 47 46c20 0 27 83 47 83M169 301c20 0 27 69 47 69c20 0 27 25 47 25c20 0 27 -17 47 -17c20 0 27 66 47 66c20 0 27 -62 47 -62c20 0 27 -45 47 -45c20 0 27 86 47 86M169 388c20 0 27 -33 47 -33c20 0 27 23 47 23c20 0 27 -44 47 -44c20 0 27 101 47 101c20 0 27 -160 47 -160c20 0 27 82 47 82c20 0 27 88 47 88M169 360c20 0 27 57 47 57c20 0 27 -52 47 -52c20 0 27 -11 47 -11c20 0 27 81 47 81c20 0 27 18 47 18c20 0 27 -125 47 -125c20 0 27 96 47 96M169 360c20 0 27 57 47 57c20 0 27 4 47 4c20 0 27 -44 47 -44c20 0 27 3 47 3c20 0 27 -35 47 -35c20 0 27 27 47 27c20 0 27 62 47 62M169 305c20 0 27 13 47 13c20 0 27 83 47 83c20 0 27 -5 47 -5c20 0 27 9 47 9c20 0 27 -67 47 -67c20 0 27 88 47 88c20 0 27 7 47 7M169 329c20 0 27 -26 47 -26c20 0 27 144 47 144c20 0 27 -60 47 -60c20 0 27 -2 47 -2c20 0 27 50 47 50c20 0 27 -77 47 -77c20 0 27 79 47 79M169 448c20 0 27 -120 47 -120c20 0 27 81 47 81c20 0 27 -20 47 -20c20 0 27 50 47 50c20 0 27 -120 47 -120c20 0 27 41 47 41c20 0 27 82 47 82M169 392c20 0 27 -26 47 -26c20 0 27 52 47 52c20 0 27 -36 47 -36c20 0 27 17 47 17c20 0 27 -67 47 -67c20 0 27 24 47 24c20 0 27 90 47 90M169 273c20 0 27 -7 47 -7c20 0 27 174 47 174c20 0 27 -88 47 -88c20 0 27 61 47 61c20 0 27 -9 47 -9c20 0 27 -57 47 -57c20 0 27 94 47 94M169 301c20 0 27 117 47 117c20 0 27 18 47 18c20 0 27 -82 47 -82c20 0 27 56 47 56c20 0 27 -97 47 -97c20 0 27 61 47 61c20 0 27 77 47 77M169 392c20 0 27 -39 47 -39c20 0 27 81 47 81c20 0 27 -82 47 -82c20 0 27 34 47 34c20 0 27 -54 47 -54c20 0 27 39 47 39c20 0 27 68 47 68M169 272c20 0 27 20 47 20c20 0 27 138 47 138c20 0 27 -146 47 -146c20 0 27 114 47 114c20 0 27 -98 47 -98c20 0 27 66 47 66c20 0 27 88 47 88M169 273c20 0 27 181 47 181c20 0 27 -31 47 -31c20 0 27 -145 47 -145c20 0 27 162 47 162c20 0 27 -106 47 -106c20 0 27 -33 47 -33c20 0 27 146 47 146M169 359c20 0 27 -51 47 -51c20 0 27 57 47 57c20 0 27 47 47 47c20 0 27 -116 47 -116c20 0 27 89 47 89c20 0 27 6 47 6c20 0 27 35 47 35M169 305c20 0 27 11 47 11c20 0 27 70 47 70c20 0 27 -61 47 -61c20 0 27 90 47 90c20 0 27 -52 47 -52c20 0 27 -52 47 -52c20 0 27 116 47 116M169 389c20 0 27 -73 47 -73c20 0 27 110 47 110c20 0 27 -37 47 -37c20 0 27 58 47 58c20 0 27 -8 47 -8c20 0 27 -61 47 -61c20 0 27 57 47 57M169 305c20 0 27 84 47 84c20 0 27 44 47 44c20 0 27 -102 47 -102c20 0 27 109 47 109c20 0 27 15 47 15c20 0 27 -51 47 -51c20 0 27 45 47 45M169 450c20 0 27 -84 47 -84c20 0 27 33 47 33c20 0 27 -78 47 -78c20 0 27 41 47 41c20 0 27 -26 47 -26c20 0 27 -42 47 -42c20 0 27 157 47 157M169 362c20 0 27 64 47 64c20 0 27 -12 47 -12c20 0 27 3 47 3c20 0 27 -33 47 -33c20 0 27 27 47 27c20 0 27 -39 47 -39c20 0 27 67 47 67M169 392c20 0 27 15 47 15c20 0 27 2 47 2c20 0 27 2 47 2c20 0 27 -39 47 -39c20 0 27 -106 47 -106c20 0 27 91 47 91c20 0 27 89 47 89M169 388c20 0 27 -120 47 -120c20 0 27 182 47 182c20 0 27 -118 47 -118c20 0 27 103 47 103c20 0 27 -47 47 -47c20 0 27 67 47 67c20 0 27 -15 47 -15M169 362c20 0 27 13 47 13c20 0 27 39 47 39c20 0 27 -135 47 -135c20 0 27 124 47 124c20 0 27 -26 47 -26c20 0 27 18 47 18c20 0 27 32 47 32M169 364c20 0 27 15 47 15c20 0 27 28 47 28c20 0 27 43 47 43c20 0 27 -32 47 -32c20 0 27 -77 47 -77c20 0 27 7 47 7c20 0 27 103 47 103M169 334c20 0 27 44 47 44c20 0 27 12 47 12c20 0 27 -40 47 -40c20 0 27 83 47 83c20 0 27 -162 47 -162c20 0 27 -3 47 -3c20 0 27 179 47 179M169 275c20 0 27 42 47 42c20 0 27 118 47 118c20 0 27 -65 47 -65c20 0 27 32 47 32c20 0 27 -51 47 -51c20 0 27 60 47 60c20 0 27 37 47 37M169 271c20 0 27 81 47 81c20 0 27 31 47 31c20 0 27 13 47 13c20 0 27 -16 47 -16c20 0 27 -54 47 -54c20 0 27 58 47 58c20 0 27 69 47 69M169 450c20 0 27 -158 47 -158c20 0 27 101 47 101c20 0 27 -11 47 -11c20 0 27 -5 47 -5c20 0 27 -38 47 -38c20 0 27 -41 47 -41c20 0 27 155 47 155M169 305c20 0 27 110 47 110c20 0 27 15 47 15c20 0 27 -77 47 -77c20 0 27 68 47 68c20 0 27 -155 47 -155c20 0 27 145 47 145c20 0 27 20 47 20M169 274c20 0 27 123 47 123c20 0 27 43 47 43c20 0 27 -94 47 -94c20 0 27 103 47 103c20 0 27 -39 47 -39c20 0 27 -54 47 -54c20 0 27 85 47 85M169 274c20 0 27 86 47 86c20 0 27 62 47 62c20 0 27 -76 47 -76c20 0 27 -7 47 -7c20 0 27 12 47 12c20 0 27 -1 47 -1c20 0 27 94 47 94M169 302c20 0 27 26 47 26c20 0 27 110 47 110c20 0 27 -76 47 -76c20 0 27 59 47 59c20 0 27 -78 47 -78c20 0 27 57 47 57c20 0 27 34 47 34M169 275c20 0 27 3 47 3c20 0 27 150 47 150c20 0 27 -78 47 -78c20 0 27 89 47 89c20 0 27 -80 47 -80c20 0 27 31 47 31c20 0 27 60 47 60M169 448c20 0 27 -60 47 -60c20 0 27 48 47 48c20 0 27 4 47 4c20 0 27 -22 47 -22c20 0 27 -62 47 -62c20 0 27 37 47 37c20 0 27 41 47 41M169 333c20 0 27 53 47 53c20 0 27 36 47 36c20 0 27 15 47 15c20 0 27 -17 47 -17c20 0 27 -134 47 -134c20 0 27 71 47 71c20 0 27 77 47 77M169 450c20 0 27 -143 47 -143c20 0 27 82 47 82c20 0 27 -45 47 -45c20 0 27 55 47 55c20 0 27 56 47 56c20 0 27 -59 47 -59c20 0 27 36 47 36M169 274c20 0 27 128 47 128c20 0 27 31 47 31c20 0 27 -124 47 -124c20 0 27 64 47 64c20 0 27 24 47 24c20 0 27 -27 47 -27c20 0 27 60 47 60M169 392c20 0 27 -34 47 -34c20 0 27 20 47 20c20 0 27 72 47 72c20 0 27 -20 47 -20c20 0 27 25 47 25c20 0 27 -82 47 -82c20 0 27 57 47 57M169 303c20 0 27 -3 47 -3c20 0 27 128 47 128c20 0 27 -39 47 -39c20 0 27 -6 47 -6c20 0 27 -17 47 -17c20 0 27 3 47 3c20 0 27 82 47 82M169 362c20 0 27 12 47 12c20 0 27 28 47 28c20 0 27 33 47 33c20 0 27 14 47 14c20 0 27 -64 47 -64c20 0 27 -9 47 -9c20 0 27 49 47 49M169 363c20 0 27 22 47 22c20 0 27 5 47 5c20 0 27 -56 47 -56c20 0 27 100 47 100c20 0 27 -111 47 -111c20 0 27 22 47 22c20 0 27 108 47 108M169 417c20 0 27 -151 47 -151c20 0 27 109 47 109c20 0 27 52 47 52c20 0 27 -106 47 -106c20 0 27 45 47 45c20 0 27 35 47 35c20 0 27 23 47 23M169 448c20 0 27 -124 47 -124c20 0 27 99 47 99c20 0 27 -60 47 -60c20 0 27 -2 47 -2c20 0 27 -14 47 -14c20 0 27 -27 47 -27c20 0 27 117 47 117M169 421c20 0 27 -2 47 -2c20 0 27 -43 47 -43c20 0 27 15 47 15c20 0 27 -3 47 -3c20 0 27 -10 47 -10c20 0 27 24 47 24c20 0 27 44 47 44M169 446c20 0 27 -68 47 -68c20 0 27 30 47 30c20 0 27 -4 47 -4c20 0 27 19 47 19c20 0 27 -74 47 -74c20 0 27 47 47 47c20 0 27 57 47 57M169 387c20 0 27 -121 47 -121c20 0 27 40 47 40c20 0 27 -40 47 -40c20 0 27 153 47 153c20 0 27 -59 47 -59c20 0 27 20 47 20c20 0 27 72 47 72M169 363c20 0 27 -12 47 -12c20 0 27 -3 47 -3c20 0 27 68 47 68c20 0 27 29 47 29c20 0 27 -49 47 -49c20 0 27 -38 47 -38c20 0 27 76 47 76M169 329c20 0 27 12 47 12c20 0 27 61 47 61c20 0 27 -21 47 -21c20 0 27 52 47 52c20 0 27 17 47 17c20 0 27 -81 47 -81c20 0 27 68 47 68M169 389c20 0 27 -12 47 -12c20 0 27 17 47 17c20 0 27 -18 47 -18c20 0 27 31 47 31c20 0 27 -95 47 -95c20 0 27 18 47 18c20 0 27 118 47 118M169 451c20 0 27 -123 47 -123c20 0 27 109 47 109c20 0 27 -118 47 -118c20 0 27 91 47 91c20 0 27 -53 47 -53c20 0 27 14 47 14c20 0 27 55 47 55M169 417c20 0 27 13 47 13c20 0 27 17 47 17c20 0 27 -112 47 -112c20 0 27 84 47 84c20 0 27 -6 47 -6c20 0 27 -37 47 -37c20 0 27 54 47 54M169 300c20 0 27 63 47 63c20 0 27 29 47 29c20 0 27 18 47 18c20 0 27 37 47 37c20 0 27 -110 47 -110c20 0 27 80 47 80c20 0 27 11 47 11M169 274c20 0 27 128 47 128c20 0 27 8 47 8c20 0 27 -58 47 -58c20 0 27 99 47 99c20 0 27 -86 47 -86c20 0 27 85 47 85c20 0 27 -1 47 -1M169 303c20 0 27 26 47 26c20 0 27 105 47 105c20 0 27 -119 47 -119c20 0 27 120 47 120c20 0 27 20 47 20c20 0 27 -173 47 -173c20 0 27 158 47 158M169 421c20 0 27 -32 47 -32c20 0 27 10 47 10c20 0 27 -85 47 -85c20 0 27 135 47 135c20 0 27 -82 47 -82c20 0 27 -21 47 -21c20 0 27 84 47 84M169 419c20 0 27 27 47 27c20 0 27 -19 47 -19c20 0 27 -102 47 -102c20 0 27 115 47 115c20 0 27 -133 47 -133c20 0 27 37 47 37c20 0 27 85 47 85M169 301c20 0 27 13 47 13c20 0 27 89 47 89c20 0 27 -39 47 -39c20 0 27 -16 47 -16c20 0 27 50 47 50c20 0 27 -27 47 -27c20 0 27 62 47 62M169 451c20 0 27 4 47 4c20 0 27 -27 47 -27c20 0 27 26 47 26c20 0 27 -21 47 -21c20 0 27 -74 47 -74c20 0 27 -31 47 -31c20 0 27 121 47 121M169 304c20 0 27 21 47 21c20 0 27 56 47 56c20 0 27 -25 47 -25c20 0 27 52 47 52c20 0 27 6 47 6c20 0 27 -70 47 -70c20 0 27 80 47 80M169 450c20 0 27 -183 47 -183c20 0 27 167 47 167c20 0 27 -52 47 -52c20 0 27 3 47 3c20 0 27 -14 47 -14c20 0 27 -18 47 -18c20 0 27 97 47 97" fill="none" stroke="#b8b8b8" stroke-opacity="0.075" stroke-width="0.5"/>
<path d="M26.4,386.6C46.5,386.6 54.1,321.4 74.2,321.4C94.0,321.4 101.6,361.9 121.4,361.9C141.3,361.9 148.9,387.9 168.8,387.9C188.6,387.9 196.2,291.7 216.0,291.7C235.7,291.7 243.1,378.1 262.8,378.1C282.7,378.1 290.3,331.3 310.2,331.3C330.0,331.3 337.6,362.8 357.4,362.8C377.2,362.8 384.8,327.8 404.6,327.8C424.5,327.8 432.1,320.5 452.0,320.5C471.9,320.5 479.4,393.0 499.3,393.0" fill="none" stroke="#d1a126" stroke-width="0.8"/>
<path d="M26.4,358.4C46.5,358.4 54.1,317.4 74.2,317.4C94.0,317.4 101.6,360.9 121.4,360.9C141.3,360.9 148.9,275.7 168.8,275.7C188.6,275.7 196.2,293.7 216.0,293.7C235.7,293.7 243.1,403.8 262.8,403.8C282.7,403.8 290.3,305.8 310.2,305.8C330.0,305.8 337.6,375.3 357.4,375.3C377.2,375.3 384.8,318.0 404.6,318.0C424.5,318.0 432.1,321.4 452.0,321.4C471.9,321.4 479.4,395.6 499.3,395.6" fill="none" stroke="#d1a126" stroke-width="0.8"/>
<path d="M26.4,390.0C46.5,390.0 54.1,320.8 74.2,320.8C94.0,320.8 101.6,408.0 121.4,408.0C141.3,408.0 148.9,391.0 168.8,391.0C188.6,391.0 196.2,303.1 216.0,303.1C235.7,303.1 243.1,404.6 262.8,404.6C282.7,404.6 290.3,304.4 310.2,304.4C330.0,304.4 337.6,342.9 357.4,342.9C377.2,342.9 384.8,331.1 404.6,331.1C424.5,331.1 432.1,301.9 452.0,301.9C471.9,301.9 479.4,398.1 499.3,398.1" fill="none" stroke="#d1a126" stroke-width="0.8"/>
<path d="M26.4,271.4C46.5,271.4 54.1,319.4 74.2,319.4C94.0,319.4 101.6,406.5 121.4,406.5C141.3,406.5 148.9,270.9 168.8,270.9C188.6,270.9 196.2,283.1 216.0,283.1C235.7,283.1 243.1,381.8 262.8,381.8C282.7,381.8 290.3,327.4 310.2,327.4C330.0,327.4 337.6,368.5 357.4,368.5C377.2,368.5 384.8,322.3 404.6,322.3C424.5,322.3 432.1,306.0 452.0,306.0C471.9,306.0 479.4,400.7 499.3,400.7" fill="none" stroke="#d1a126" stroke-width="0.8"/>
<path d="M26.4,387.8C46.5,387.8 54.1,320.2 74.2,320.2C94.0,320.2 101.6,405.9 121.4,405.9C141.3,405.9 148.9,389.5 168.8,389.5C188.6,389.5 196.2,310.9 216.0,310.9C235.7,310.9 243.1,392.0 262.8,392.0C282.7,392.0 290.3,326.2 310.2,326.2C330.0,326.2 337.6,352.9 357.4,352.9C377.2,352.9 384.8,308.2 404.6,308.2C424.5,308.2 432.1,301.5 452.0,301.5C471.9,301.5 479.4,403.3 499.3,403.3" fill="none" stroke="#d1a126" stroke-width="0.8"/>
<path d="M26.4,360.9C46.5,360.9 54.1,446.2 74.2,446.2C94.0,446.2 101.6,359.9 121.4,359.9C141.3,359.9 148.9,391.0 168.8,391.0C188.6,391.0 196.2,301.2 216.0,301.2C235.7,301.2 243.1,403.4 262.8,403.4C282.7,403.4 290.3,298.4 310.2,298.4C330.0,298.4 337.6,350.0 357.4,350.0C377.2,350.0 384.8,319.5 404.6,319.5C424.5,319.5 432.1,303.9 452.0,303.9C471.9,303.9 479.4,405.9 499.3,405.9" fill="none" stroke="#d1a126" stroke-width="0.8"/>
<path d="M26.4,388.9C46.5,388.9 54.1,446.4 74.2,446.4C94.0,446.4 101.6,402.9 121.4,402.9C141.3,402.9 148.9,272.5 168.8,272.5C188.6,272.5 196.2,291.7 216.0,291.7C235.7,291.7 243.1,378.6 262.8,378.6C282.7,378.6 290.3,325.5 310.2,325.5C330.0,325.5 337.6,378.9 357.4,378.9C377.2,378.9 384.8,317.7 404.6,317.7C424.5,317.7 432.1,290.1 452.0,290.1C471.9,290.1 479.4,408.4 499.3,408.4" fill="none" stroke="#d1a126" stroke-width="0.8"/>
<path d="M26.4,386.9C46.5,386.9 54.1,403.3 74.2,403.3C94.0,403.3 101.6,364.5 121.4,364.5C141.3,364.5 148.9,275.2 168.8,275.2C188.6,275.2 196.2,285.7 216.0,285.7C235.7,285.7 243.1,393.0 262.8,393.0C282.7,393.0 290.3,314.5 310.2,314.5C330.0,314.5 337.6,347.9 357.4,347.9C377.2,347.9 384.8,311.5 404.6,311.5C424.5,311.5 432.1,313.5 452.0,313.5C471.9,313.5 479.4,411.0 499.3,411.0" fill="none" stroke="#d1a126" stroke-width="0.8"/>
<path d="M26.4,389.6C46.5,389.6 54.1,403.7 74.2,403.7C94.0,403.7 101.6,403.3 121.4,403.3C141.3,403.3 148.9,275.0 168.8,275.0C188.6,275.0 196.2,309.2 216.0,309.2C235.7,309.2 243.1,380.3 262.8,380.3C282.7,380.3 290.3,322.8 310.2,322.8C330.0,322.8 337.6,350.6 357.4,350.6C377.2,350.6 384.8,312.5 404.6,312.5C424.5,312.5 432.1,297.6 452.0,297.6C471.9,297.6 479.4,413.6 499.3,413.6" fill="none" stroke="#d1a126" stroke-width="0.8"/>
<path d="M26.4,330.1C46.5,330.1 54.1,318.3 74.2,318.3C94.0,318.3 101.6,406.1 121.4,406.1C141.3,406.1 148.9,388.6 168.8,388.6C188.6,388.6 196.2,294.3 216.0,294.3C235.7,294.3 243.1,390.7 262.8,390.7C282.7,390.7 290.3,313.2 310.2,313.2C330.0,313.2 337.6,344.6 357.4,344.6C377.2,344.6 384.8,324.3 404.6,324.3C424.5,324.3 432.1,319.5 452.0,319.5C471.9,319.5 479.4,416.2 499.3,416.2" fill="none" stroke="#d1a126" stroke-width="0.8"/>
<path d="M26.4,389.0C46.5,389.0 54.1,318.0 74.2,318.0C94.0,318.0 101.6,360.4 121.4,360.4C141.3,360.4 148.9,389.6 168.8,389.6C188.6,389.6 196.2,302.8 216.0,302.8C235.7,302.8 243.1,387.6 262.8,387.6C282.7,387.6 290.3,318.5 310.2,318.5C330.0,318.5 337.6,390.9 357.4,390.9C377.2,390.9 384.8,302.3 404.6,302.3C424.5,302.3 432.1,325.3 452.0,325.3C471.9,325.3 479.4,418.7 499.3,418.7" fill="none" stroke="#d1a126" stroke-width="0.8"/>
<path d="M26.4,271.0C46.5,271.0 54.1,319.9 74.2,319.9C94.0,319.9 101.6,402.7 121.4,402.7C141.3,402.7 148.9,271.9 168.8,271.9C188.6,271.9 196.2,299.7 216.0,299.7C235.7,299.7 243.1,393.9 262.8,393.9C282.7,393.9 290.3,305.6 310.2,305.6C330.0,305.6 337.6,389.3 357.4,389.3C377.2,389.3 384.8,314.2 404.6,314.2C424.5,314.2 432.1,306.1 452.0,306.1C471.9,306.1 479.4,421.3 499.3,421.3" fill="none" stroke="#d1a126" stroke-width="0.8"/>
<path d="M26.4,275.9C46.5,275.9 54.1,362.8 74.2,362.8C94.0,362.8 101.6,322.7 121.4,322.7C141.3,322.7 148.9,271.8 168.8,271.8C188.6,271.8 196.2,294.8 216.0,294.8C235.7,294.8 243.1,391.3 262.8,391.3C282.7,391.3 290.3,295.4 310.2,295.4C330.0,295.4 337.6,381.1 357.4,381.1C377.2,381.1 384.8,304.4 404.6,304.4C424.5,304.4 432.1,313.4 452.0,313.4C471.9,313.4 479.4,362.5 499.3,362.5" fill="none" stroke="#4caa45" stroke-width="0.8"/>
<path d="M26.4,303.7C46.5,303.7 54.1,320.5 74.2,320.5C94.0,320.5 101.6,408.0 121.4,408.0C141.3,408.0 148.9,391.3 168.8,391.3C188.6,391.3 196.2,286.9 216.0,286.9C235.7,286.9 243.1,399.8 262.8,399.8C282.7,399.8 290.3,307.3 310.2,307.3C330.0,307.3 337.6,389.0 357.4,389.0C377.2,389.0 384.8,313.0 404.6,313.0C424.5,313.0 432.1,299.3 452.0,299.3C471.9,299.3 479.4,365.0 499.3,365.0" fill="none" stroke="#4caa45" stroke-width="0.8"/>
<path d="M26.4,274.2C46.5,274.2 54.1,361.7 74.2,361.7C94.0,361.7 101.6,403.9 121.4,403.9C141.3,403.9 148.9,389.7 168.8,389.7C188.6,389.7 196.2,281.8 216.0,281.8C235.7,281.8 243.1,381.4 262.8,381.4C282.7,381.4 290.3,305.0 310.2,305.0C330.0,305.0 337.6,359.4 357.4,359.4C377.2,359.4 384.8,315.0 404.6,315.0C424.5,315.0 432.1,306.2 452.0,306.2C471.9,306.2 479.4,367.6 499.3,367.6" fill="none" stroke="#4caa45" stroke-width="0.8"/>
<path d="M26.4,302.9C46.5,302.9 54.1,317.1 74.2,317.1C94.0,317.1 101.6,322.7 121.4,322.7C141.3,322.7 148.9,271.5 168.8,271.5C188.6,271.5 196.2,300.3 216.0,300.3C235.7,300.3 243.1,386.9 262.8,386.9C282.7,386.9 290.3,303.5 310.2,303.5C330.0,303.5 337.6,372.2 357.4,372.2C377.2,372.2 384.8,327.2 404.6,327.2C424.5,327.2 432.1,291.0 452.0,291.0C471.9,291.0 479.4,370.1 499.3,370.1" fill="none" stroke="#4caa45" stroke-width="0.8"/>
<path d="M26.4,419.9C46.5,419.9 54.1,361.0 74.2,361.0C94.0,361.0 101.6,360.3 121.4,360.3C141.3,360.3 148.9,389.5 168.8,389.5C188.6,389.5 196.2,295.0 216.0,295.0C235.7,295.0 243.1,410.6 262.8,410.6C282.7,410.6 290.3,313.9 310.2,313.9C330.0,313.9 337.6,371.7 357.4,371.7C377.2,371.7 384.8,327.5 404.6,327.5C424.5,327.5 432.1,298.4 452.0,298.4C471.9,298.4 479.4,372.6 499.3,372.6" fill="none" stroke="#4caa45" stroke-width="0.8"/>
<path d="M26.4,274.5C46.5,274.5 54.1,361.7 74.2,361.7C94.0,361.7 101.6,322.3 121.4,322.3C141.3,322.3 148.9,272.6 168.8,272.6C188.6,272.6 196.2,296.7 216.0,296.7C235.7,296.7 243.1,385.5 262.8,385.5C282.7,385.5 290.3,326.3 310.2,326.3C330.0,326.3 337.6,360.4 357.4,360.4C377.2,360.4 384.8,306.5 404.6,306.5C424.5,306.5 432.1,320.8 452.0,320.8C471.9,320.8 479.4,375.2 499.3,375.2" fill="none" stroke="#4caa45" stroke-width="0.8"/>
<path d="M26.4,417.8C46.5,417.8 54.1,361.4 74.2,361.4C94.0,361.4 101.6,322.6 121.4,322.6C141.3,322.6 148.9,391.3 168.8,391.3C188.6,391.3 196.2,282.0 216.0,282.0C235.7,282.0 243.1,390.3 262.8,390.3C282.7,390.3 290.3,320.2 310.2,320.2C330.0,320.2 337.6,377.6 357.4,377.6C377.2,377.6 384.8,326.1 404.6,326.1C424.5,326.1 432.1,289.7 452.0,289.7C471.9,289.7 479.4,377.7 499.3,377.7" fill="none" stroke="#4caa45" stroke-width="0.8"/>
<path d="M26.4,272.7C46.5,272.7 54.1,361.4 74.2,361.4C94.0,361.4 101.6,361.7 121.4,361.7C141.3,361.7 148.9,275.3 168.8,275.3C188.6,275.3 196.2,283.3 216.0,283.3C235.7,283.3 243.1,405.7 262.8,405.7C282.7,405.7 290.3,316.4 310.2,316.4C330.0,316.4 337.6,341.6 357.4,341.6C377.2,341.6 384.8,326.3 404.6,326.3C424.5,326.3 432.1,300.2 452.0,300.2C471.9,300.2 479.4,380.3 499.3,380.3" fill="none" stroke="#4caa45" stroke-width="0.8"/>
<path d="M26.4,301.1C46.5,301.1 54.1,361.5 74.2,361.5C94.0,361.5 101.6,407.3 121.4,407.3C141.3,407.3 148.9,273.7 168.8,273.7C188.6,273.7 196.2,281.3 216.0,281.3C235.7,281.3 243.1,407.3 262.8,407.3C282.7,407.3 290.3,292.4 310.2,292.4C330.0,292.4 337.6,354.0 357.4,354.0C377.2,354.0 384.8,301.2 404.6,301.2C424.5,301.2 432.1,305.5 452.0,305.5C471.9,305.5 479.4,382.8 499.3,382.8" fill="none" stroke="#4caa45" stroke-width="0.8"/>
<path d="M26.4,275.7C46.5,275.7 54.1,361.4 74.2,361.4C94.0,361.4 101.6,403.4 121.4,403.4C141.3,403.4 148.9,389.0 168.8,389.0C188.6,389.0 196.2,287.4 216.0,287.4C235.7,287.4 243.1,409.4 262.8,409.4C282.7,409.4 290.3,287.3 310.2,287.3C330.0,287.3 337.6,357.9 357.4,357.9C377.2,357.9 384.8,313.6 404.6,313.6C424.5,313.6 432.1,294.2 452.0,294.2C471.9,294.2 479.4,385.3 499.3,385.3" fill="none" stroke="#4caa45" stroke-width="0.8"/>
<path d="M26.4,359.8C46.5,359.8 54.1,404.9 74.2,404.9C94.0,404.9 101.6,317.7 121.4,317.7C141.3,317.7 148.9,392.2 168.8,392.2C188.6,392.2 196.2,285.6 216.0,285.6C235.7,285.6 243.1,407.2 262.8,407.2C282.7,407.2 290.3,292.5 310.2,292.5C330.0,292.5 337.6,357.7 357.4,357.7C377.2,357.7 384.8,308.3 404.6,308.3C424.5,308.3 432.1,300.2 452.0,300.2C471.9,300.2 479.4,387.9 499.3,387.9" fill="none" stroke="#4caa45" stroke-width="0.8"/>
<path d="M26.4,416.3C46.5,416.3 54.1,405.8 74.2,405.8C94.0,405.8 101.6,359.6 121.4,359.6C141.3,359.6 148.9,389.7 168.8,389.7C188.6,389.7 196.2,281.7 216.0,281.7C235.7,281.7 243.1,378.1 262.8,378.1C282.7,378.1 290.3,329.8 310.2,329.8C330.0,329.8 337.6,350.0 357.4,350.0C377.2,350.0 384.8,324.1 404.6,324.1C424.5,324.1 432.1,289.2 452.0,289.2C471.9,289.2 479.4,390.4 499.3,390.4" fill="none" stroke="#4caa45" stroke-width="0.8"/>
<path d="M26.4,357.8C46.5,357.8 54.1,446.3 74.2,446.3C94.0,446.3 101.6,407.9 121.4,407.9C141.3,407.9 148.9,271.2 168.8,271.2C188.6,271.2 196.2,296.9 216.0,296.9C235.7,296.9 243.1,354.4 262.8,354.4C282.7,354.4 290.3,279.0 310.2,279.0C330.0,279.0 337.6,360.3 357.4,360.3C377.2,360.3 384.8,286.8 404.6,286.8C424.5,286.8 432.1,298.2 452.0,298.2C471.9,298.2 479.4,331.7 499.3,331.7" fill="none" stroke="#2e93cc" stroke-width="0.8"/>
<path d="M26.4,387.0C46.5,387.0 54.1,404.5 74.2,404.5C94.0,404.5 101.6,361.9 121.4,361.9C141.3,361.9 148.9,271.0 168.8,271.0C188.6,271.0 196.2,289.5 216.0,289.5C235.7,289.5 243.1,350.7 262.8,350.7C282.7,350.7 290.3,299.2 310.2,299.2C330.0,299.2 337.6,374.1 357.4,374.1C377.2,374.1 384.8,296.6 404.6,296.6C424.5,296.6 432.1,281.4 452.0,281.4C471.9,281.4 479.4,334.2 499.3,334.2" fill="none" stroke="#2e93cc" stroke-width="0.8"/>
<path d="M26.4,304.6C46.5,304.6 54.1,446.0 74.2,446.0C94.0,446.0 101.6,360.8 121.4,360.8C141.3,360.8 148.9,270.7 168.8,270.7C188.6,270.7 196.2,287.3 216.0,287.3C235.7,287.3 243.1,353.4 262.8,353.4C282.7,353.4 290.3,292.6 310.2,292.6C330.0,292.6 337.6,344.0 357.4,344.0C377.2,344.0 384.8,325.4 404.6,325.4C424.5,325.4 432.1,322.9 452.0,322.9C471.9,322.9 479.4,336.8 499.3,336.8" fill="none" stroke="#2e93cc" stroke-width="0.8"/>
<path d="M26.4,332.7C46.5,332.7 54.1,445.8 74.2,445.8C94.0,445.8 101.6,364.5 121.4,364.5C141.3,364.5 148.9,273.7 168.8,273.7C188.6,273.7 196.2,295.4 216.0,295.4C235.7,295.4 243.1,353.4 262.8,353.4C282.7,353.4 290.3,288.4 310.2,288.4C330.0,288.4 337.6,348.4 357.4,348.4C377.2,348.4 384.8,280.6 404.6,280.6C424.5,280.6 432.1,295.6 452.0,295.6C471.9,295.6 479.4,339.4 499.3,339.4" fill="none" stroke="#2e93cc" stroke-width="0.8"/>
<path d="M26.4,332.4C46.5,332.4 54.1,402.3 74.2,402.3C94.0,402.3 101.6,405.4 121.4,405.4C141.3,405.4 148.9,273.1 168.8,273.1C188.6,273.1 196.2,285.6 216.0,285.6C235.7,285.6 243.1,356.2 262.8,356.2C282.7,356.2 290.3,277.7 310.2,277.7C330.0,277.7 337.6,358.5 357.4,358.5C377.2,358.5 384.8,276.4 404.6,276.4C424.5,276.4 432.1,296.3 452.0,296.3C471.9,296.3 479.4,341.9 499.3,341.9" fill="none" stroke="#2e93cc" stroke-width="0.8"/>
<path d="M26.4,302.7C46.5,302.7 54.1,446.2 74.2,446.2C94.0,446.2 101.6,359.8 121.4,359.8C141.3,359.8 148.9,273.6 168.8,273.6C188.6,273.6 196.2,285.2 216.0,285.2C235.7,285.2 243.1,341.0 262.8,341.0C282.7,341.0 290.3,296.9 310.2,296.9C330.0,296.9 337.6,352.8 357.4,352.8C377.2,352.8 384.8,288.3 404.6,288.3C424.5,288.3 432.1,291.5 452.0,291.5C471.9,291.5 479.4,344.5 499.3,344.5" fill="none" stroke="#2e93cc" stroke-width="0.8"/>
<path d="M26.4,304.4C46.5,304.4 54.1,444.4 74.2,444.4C94.0,444.4 101.6,402.9 121.4,402.9C141.3,402.9 148.9,273.4 168.8,273.4C188.6,273.4 196.2,288.8 216.0,288.8C235.7,288.8 243.1,353.3 262.8,353.3C282.7,353.3 290.3,288.0 310.2,288.0C330.0,288.0 337.6,355.7 357.4,355.7C377.2,355.7 384.8,281.3 404.6,281.3C424.5,281.3 432.1,300.6 452.0,300.6C471.9,300.6 479.4,347.1 499.3,347.1" fill="none" stroke="#2e93cc" stroke-width="0.8"/>
<path d="M26.4,387.7C46.5,387.7 54.1,445.9 74.2,445.9C94.0,445.9 101.6,359.6 121.4,359.6C141.3,359.6 148.9,272.4 168.8,272.4C188.6,272.4 196.2,292.5 216.0,292.5C235.7,292.5 243.1,351.7 262.8,351.7C282.7,351.7 290.3,279.8 310.2,279.8C330.0,279.8 337.6,355.9 357.4,355.9C377.2,355.9 384.8,294.7 404.6,294.7C424.5,294.7 432.1,296.4 452.0,296.4C471.9,296.4 479.4,349.6 499.3,349.6" fill="none" stroke="#2e93cc" stroke-width="0.8"/>
<path d="M26.4,329.3C46.5,329.3 54.1,444.3 74.2,444.3C94.0,444.3 101.6,361.3 121.4,361.3C141.3,361.3 148.9,275.3 168.8,275.3C188.6,275.3 196.2,294.4 216.0,294.4C235.7,294.4 243.1,356.4 262.8,356.4C282.7,356.4 290.3,287.3 310.2,287.3C330.0,287.3 337.6,360.5 357.4,360.5C377.2,360.5 384.8,282.0 404.6,282.0C424.5,282.0 432.1,290.5 452.0,290.5C471.9,290.5 479.4,352.2 499.3,352.2" fill="none" stroke="#2e93cc" stroke-width="0.8"/>
<path d="M26.4,301.8C46.5,301.8 54.1,402.8 74.2,402.8C94.0,402.8 101.6,360.0 121.4,360.0C141.3,360.0 148.9,273.2 168.8,273.2C188.6,273.2 196.2,293.1 216.0,293.1C235.7,293.1 243.1,356.5 262.8,356.5C282.7,356.5 290.3,294.3 310.2,294.3C330.0,294.3 337.6,347.6 357.4,347.6C377.2,347.6 384.8,275.8 404.6,275.8C424.5,275.8 432.1,296.9 452.0,296.9C471.9,296.9 479.4,354.8 499.3,354.8" fill="none" stroke="#2e93cc" stroke-width="0.8"/>
<path d="M26.4,332.0C46.5,332.0 54.1,443.2 74.2,443.2C94.0,443.2 101.6,404.8 121.4,404.8C141.3,404.8 148.9,273.7 168.8,273.7C188.6,273.7 196.2,285.8 216.0,285.8C235.7,285.8 243.1,340.5 262.8,340.5C282.7,340.5 290.3,297.7 310.2,297.7C330.0,297.7 337.6,361.3 357.4,361.3C377.2,361.3 384.8,279.1 404.6,279.1C424.5,279.1 432.1,297.1 452.0,297.1C471.9,297.1 479.4,357.3 499.3,357.3" fill="none" stroke="#2e93cc" stroke-width="0.8"/>
<path d="M26.4,330.0C46.5,330.0 54.1,402.7 74.2,402.7C94.0,402.7 101.6,360.6 121.4,360.6C141.3,360.6 148.9,270.7 168.8,270.7C188.6,270.7 196.2,286.1 216.0,286.1C235.7,286.1 243.1,349.1 262.8,349.1C282.7,349.1 290.3,298.9 310.2,298.9C330.0,298.9 337.6,363.5 357.4,363.5C377.2,363.5 384.8,296.9 404.6,296.9C424.5,296.9 432.1,280.8 452.0,280.8C471.9,280.8 479.4,359.9 499.3,359.9" fill="none" stroke="#2e93cc" stroke-width="0.8"/>
<path d="M26.4,301.4C46.5,301.4 54.1,363.6 74.2,363.6C94.0,363.6 101.6,363.8 121.4,363.8C141.3,363.8 148.9,275.2 168.8,275.2C188.6,275.2 196.2,296.1 216.0,296.1C235.7,296.1 243.1,336.6 262.8,336.6C282.7,336.6 290.3,292.9 310.2,292.9C330.0,292.9 337.6,366.5 357.4,366.5C377.2,366.5 384.8,294.3 404.6,294.3C424.5,294.3 432.1,287.8 452.0,287.8C471.9,287.8 479.4,300.8 499.3,300.8" fill="none" stroke="#a65de0" stroke-width="0.8"/>
<path d="M26.4,272.5C46.5,272.5 54.1,446.9 74.2,446.9C94.0,446.9 101.6,406.5 121.4,406.5C141.3,406.5 148.9,273.2 168.8,273.2C188.6,273.2 196.2,288.5 216.0,288.5C235.7,288.5 243.1,348.9 262.8,348.9C282.7,348.9 290.3,289.0 310.2,289.0C330.0,289.0 337.6,365.5 357.4,365.5C377.2,365.5 384.8,277.2 404.6,277.2C424.5,277.2 432.1,286.1 452.0,286.1C471.9,286.1 479.4,303.4 499.3,303.4" fill="none" stroke="#a65de0" stroke-width="0.8"/>
<path d="M26.4,300.9C46.5,300.9 54.1,444.5 74.2,444.5C94.0,444.5 101.6,363.4 121.4,363.4C141.3,363.4 148.9,274.5 168.8,274.5C188.6,274.5 196.2,291.1 216.0,291.1C235.7,291.1 243.1,336.2 262.8,336.2C282.7,336.2 290.3,293.0 310.2,293.0C330.0,293.0 337.6,367.6 357.4,367.6C377.2,367.6 384.8,272.8 404.6,272.8C424.5,272.8 432.1,278.3 452.0,278.3C471.9,278.3 479.4,305.9 499.3,305.9" fill="none" stroke="#a65de0" stroke-width="0.8"/>
<path d="M26.4,304.1C46.5,304.1 54.1,359.2 74.2,359.2C94.0,359.2 101.6,407.8 121.4,407.8C141.3,407.8 148.9,273.1 168.8,273.1C188.6,273.1 196.2,294.3 216.0,294.3C235.7,294.3 243.1,346.0 262.8,346.0C282.7,346.0 290.3,276.4 310.2,276.4C330.0,276.4 337.6,368.3 357.4,368.3C377.2,368.3 384.8,273.4 404.6,273.4C424.5,273.4 432.1,283.4 452.0,283.4C471.9,283.4 479.4,308.5 499.3,308.5" fill="none" stroke="#a65de0" stroke-width="0.8"/>
<path d="M26.4,273.7C46.5,273.7 54.1,447.2 74.2,447.2C94.0,447.2 101.6,362.5 121.4,362.5C141.3,362.5 148.9,275.4 168.8,275.4C188.6,275.4 196.2,294.2 216.0,294.2C235.7,294.2 243.1,349.2 262.8,349.2C282.7,349.2 290.3,281.2 310.2,281.2C330.0,281.2 337.6,363.1 357.4,363.1C377.2,363.1 384.8,283.2 404.6,283.2C424.5,283.2 432.1,277.7 452.0,277.7C471.9,277.7 479.4,311.1 499.3,311.1" fill="none" stroke="#a65de0" stroke-width="0.8"/>
<path d="M26.4,329.5C46.5,329.5 54.1,444.4 74.2,444.4C94.0,444.4 101.6,320.8 121.4,320.8C141.3,320.8 148.9,272.2 168.8,272.2C188.6,272.2 196.2,296.8 216.0,296.8C235.7,296.8 243.1,352.5 262.8,352.5C282.7,352.5 290.3,292.3 310.2,292.3C330.0,292.3 337.6,362.7 357.4,362.7C377.2,362.7 384.8,270.3 404.6,270.3C424.5,270.3 432.1,284.9 452.0,284.9C471.9,284.9 479.4,313.7 499.3,313.7" fill="none" stroke="#a65de0" stroke-width="0.8"/>
<path d="M26.4,300.2C46.5,300.2 54.1,446.4 74.2,446.4C94.0,446.4 101.6,362.1 121.4,362.1C141.3,362.1 148.9,271.0 168.8,271.0C188.6,271.0 196.2,289.1 216.0,289.1C235.7,289.1 243.1,349.4 262.8,349.4C282.7,349.4 290.3,284.8 310.2,284.8C330.0,284.8 337.6,366.0 357.4,366.0C377.2,366.0 384.8,276.7 404.6,276.7C424.5,276.7 432.1,281.4 452.0,281.4C471.9,281.4 479.4,316.2 499.3,316.2" fill="none" stroke="#a65de0" stroke-width="0.8"/>
<path d="M26.4,272.6C46.5,272.6 54.1,447.5 74.2,447.5C94.0,447.5 101.6,361.2 121.4,361.2C141.3,361.2 148.9,271.2 168.8,271.2C188.6,271.2 196.2,289.1 216.0,289.1C235.7,289.1 243.1,336.6 262.8,336.6C282.7,336.6 290.3,284.0 310.2,284.0C330.0,284.0 337.6,371.5 357.4,371.5C377.2,371.5 384.8,289.8 404.6,289.8C424.5,289.8 432.1,284.7 452.0,284.7C471.9,284.7 479.4,318.8 499.3,318.8" fill="none" stroke="#a65de0" stroke-width="0.8"/>
<path d="M26.4,333.0C46.5,333.0 54.1,446.6 74.2,446.6C94.0,446.6 101.6,407.2 121.4,407.2C141.3,407.2 148.9,274.1 168.8,274.1C188.6,274.1 196.2,294.8 216.0,294.8C235.7,294.8 243.1,339.5 262.8,339.5C282.7,339.5 290.3,295.7 310.2,295.7C330.0,295.7 337.6,363.7 357.4,363.7C377.2,363.7 384.8,279.6 404.6,279.6C424.5,279.6 432.1,294.9 452.0,294.9C471.9,294.9 479.4,321.4 499.3,321.4" fill="none" stroke="#a65de0" stroke-width="0.8"/>
<path d="M26.4,333.2C46.5,333.2 54.1,360.1 74.2,360.1C94.0,360.1 101.6,406.0 121.4,406.0C141.3,406.0 148.9,273.2 168.8,273.2C188.6,273.2 196.2,286.2 216.0,286.2C235.7,286.2 243.1,350.1 262.8,350.1C282.7,350.1 290.3,284.0 310.2,284.0C330.0,284.0 337.6,372.0 357.4,372.0C377.2,372.0 384.8,270.4 404.6,270.4C424.5,270.4 432.1,289.8 452.0,289.8C471.9,289.8 479.4,324.0 499.3,324.0" fill="none" stroke="#a65de0" stroke-width="0.8"/>
<path d="M26.4,300.1C46.5,300.1 54.1,445.6 74.2,445.6C94.0,445.6 101.6,403.0 121.4,403.0C141.3,403.0 148.9,274.8 168.8,274.8C188.6,274.8 196.2,296.4 216.0,296.4C235.7,296.4 243.1,354.9 262.8,354.9C282.7,354.9 290.3,289.2 310.2,289.2C330.0,289.2 337.6,366.6 357.4,366.6C377.2,366.6 384.8,291.4 404.6,291.4C424.5,291.4 432.1,295.4 452.0,295.4C471.9,295.4 479.4,326.5 499.3,326.5" fill="none" stroke="#a65de0" stroke-width="0.8"/>
<path d="M26.4,300.7C46.5,300.7 54.1,359.3 74.2,359.3C94.0,359.3 101.6,364.7 121.4,364.7C141.3,364.7 148.9,272.2 168.8,272.2C188.6,272.2 196.2,299.9 216.0,299.9C235.7,299.9 243.1,336.2 262.8,336.2C282.7,336.2 290.3,273.5 310.2,273.5C330.0,273.5 337.6,363.9 357.4,363.9C377.2,363.9 384.8,272.0 404.6,272.0C424.5,272.0 432.1,298.8 452.0,298.8C471.9,298.8 479.4,329.1 499.3,329.1" fill="none" stroke="#a65de0" stroke-width="0.8"/>
<path d="M26.4,362.6C46.5,362.6 54.1,405.3 74.2,405.3C94.0,405.3 101.6,403.4 121.4,403.4C141.3,403.4 148.9,273.4 168.8,273.4C188.6,273.4 196.2,294.6 216.0,294.6C235.7,294.6 243.1,344.4 262.8,344.4C282.7,344.4 290.3,284.4 310.2,284.4C330.0,284.4 337.6,367.0 357.4,367.0C377.2,367.0 384.8,300.0 404.6,300.0C424.5,300.0 432.1,276.9 452.0,276.9C471.9,276.9 479.4,275.1 499.3,275.1" fill="none" stroke="#f2703a" stroke-width="0.7"/>
<path d="M26.4,274.9C46.5,274.9 54.1,359.2 74.2,359.2C94.0,359.2 101.6,365.1 121.4,365.1C141.3,365.1 148.9,275.0 168.8,275.0C188.6,275.0 196.2,291.1 216.0,291.1C235.7,291.1 243.1,351.6 262.8,351.6C282.7,351.6 290.3,282.1 310.2,282.1C330.0,282.1 337.6,369.7 357.4,369.7C377.2,369.7 384.8,286.1 404.6,286.1C424.5,286.1 432.1,274.6 452.0,274.6C471.9,274.6 479.4,277.2 499.3,277.2" fill="none" stroke="#f2703a" stroke-width="0.7"/>
<path d="M26.4,388.7C46.5,388.7 54.1,360.6 74.2,360.6C94.0,360.6 101.6,407.2 121.4,407.2C141.3,407.2 148.9,275.5 168.8,275.5C188.6,275.5 196.2,275.7 216.0,275.7C235.7,275.7 243.1,337.3 262.8,337.3C282.7,337.3 290.3,282.1 310.2,282.1C330.0,282.1 337.6,361.6 357.4,361.6C377.2,361.6 384.8,292.2 404.6,292.2C424.5,292.2 432.1,272.9 452.0,272.9C471.9,272.9 479.4,279.3 499.3,279.3" fill="none" stroke="#f2703a" stroke-width="0.7"/>
<path d="M26.4,358.5C46.5,358.5 54.1,405.6 74.2,405.6C94.0,405.6 101.6,318.8 121.4,318.8C141.3,318.8 148.9,272.1 168.8,272.1C188.6,272.1 196.2,290.1 216.0,290.1C235.7,290.1 243.1,342.0 262.8,342.0C282.7,342.0 290.3,285.6 310.2,285.6C330.0,285.6 337.6,360.7 357.4,360.7C377.2,360.7 384.8,284.8 404.6,284.8C424.5,284.8 432.1,285.4 452.0,285.4C471.9,285.4 479.4,281.4 499.3,281.4" fill="none" stroke="#f2703a" stroke-width="0.7"/>
<path d="M26.4,388.6C46.5,388.6 54.1,401.6 74.2,401.6C94.0,401.6 101.6,319.0 121.4,319.0C141.3,319.0 148.9,275.1 168.8,275.1C188.6,275.1 196.2,292.6 216.0,292.6C235.7,292.6 243.1,339.0 262.8,339.0C282.7,339.0 290.3,288.5 310.2,288.5C330.0,288.5 337.6,368.8 357.4,368.8C377.2,368.8 384.8,295.4 404.6,295.4C424.5,295.4 432.1,283.1 452.0,283.1C471.9,283.1 479.4,283.6 499.3,283.6" fill="none" stroke="#f2703a" stroke-width="0.7"/>
<path d="M26.4,358.0C46.5,358.0 54.1,362.4 74.2,362.4C94.0,362.4 101.6,364.7 121.4,364.7C141.3,364.7 148.9,274.4 168.8,274.4C188.6,274.4 196.2,295.5 216.0,295.5C235.7,295.5 243.1,343.1 262.8,343.1C282.7,343.1 290.3,290.5 310.2,290.5C330.0,290.5 337.6,357.9 357.4,357.9C377.2,357.9 384.8,274.1 404.6,274.1C424.5,274.1 432.1,281.6 452.0,281.6C471.9,281.6 479.4,285.7 499.3,285.7" fill="none" stroke="#f2703a" stroke-width="0.7"/>
<path d="M26.4,275.2C46.5,275.2 54.1,402.6 74.2,402.6C94.0,402.6 101.6,408.0 121.4,408.0C141.3,408.0 148.9,271.7 168.8,271.7C188.6,271.7 196.2,273.9 216.0,273.9C235.7,273.9 243.1,346.7 262.8,346.7C282.7,346.7 290.3,281.2 310.2,281.2C330.0,281.2 337.6,371.3 357.4,371.3C377.2,371.3 384.8,298.9 404.6,298.9C424.5,298.9 432.1,293.0 452.0,293.0C471.9,293.0 479.4,287.8 499.3,287.8" fill="none" stroke="#f2703a" stroke-width="0.7"/>
<path d="M26.4,304.0C46.5,304.0 54.1,363.3 74.2,363.3C94.0,363.3 101.6,322.8 121.4,322.8C141.3,322.8 148.9,273.8 168.8,273.8C188.6,273.8 196.2,288.6 216.0,288.6C235.7,288.6 243.1,342.4 262.8,342.4C282.7,342.4 290.3,279.3 310.2,279.3C330.0,279.3 337.6,358.3 357.4,358.3C377.2,358.3 384.8,287.3 404.6,287.3C424.5,287.3 432.1,278.6 452.0,278.6C471.9,278.6 479.4,289.9 499.3,289.9" fill="none" stroke="#f2703a" stroke-width="0.7"/>
<path d="M26.4,272.3C46.5,272.3 54.1,361.9 74.2,361.9C94.0,361.9 101.6,364.5 121.4,364.5C141.3,364.5 148.9,270.9 168.8,270.9C188.6,270.9 196.2,272.2 216.0,272.2C235.7,272.2 243.1,349.2 262.8,349.2C282.7,349.2 290.3,273.4 310.2,273.4C330.0,273.4 337.6,368.3 357.4,368.3C377.2,368.3 384.8,273.6 404.6,273.6C424.5,273.6 432.1,275.7 452.0,275.7C471.9,275.7 479.4,292.1 499.3,292.1" fill="none" stroke="#f2703a" stroke-width="0.7"/>
<path d="M26.4,301.7C46.5,301.7 54.1,402.0 74.2,402.0C94.0,402.0 101.6,318.3 121.4,318.3C141.3,318.3 148.9,270.9 168.8,270.9C188.6,270.9 196.2,272.5 216.0,272.5C235.7,272.5 243.1,347.0 262.8,347.0C282.7,347.0 290.3,280.9 310.2,280.9C330.0,280.9 337.6,357.8 357.4,357.8C377.2,357.8 384.8,285.2 404.6,285.2C424.5,285.2 432.1,294.6 452.0,294.6C471.9,294.6 479.4,294.2 499.3,294.2" fill="none" stroke="#f2703a" stroke-width="0.7"/>
<path d="M26.4,390.0C46.5,390.0 54.1,361.1 74.2,361.1C94.0,361.1 101.6,405.4 121.4,405.4C141.3,405.4 148.9,275.1 168.8,275.1C188.6,275.1 196.2,287.4 216.0,287.4C235.7,287.4 243.1,340.9 262.8,340.9C282.7,340.9 290.3,276.3 310.2,276.3C330.0,276.3 337.6,359.0 357.4,359.0C377.2,359.0 384.8,298.1 404.6,298.1C424.5,298.1 432.1,292.2 452.0,292.2C471.9,292.2 479.4,296.3 499.3,296.3" fill="none" stroke="#f2703a" stroke-width="0.7"/>
<path d="M26.4,391.2C46.5,391.2 54.1,361.8 74.2,361.8C94.0,361.8 101.6,320.1 121.4,320.1C141.3,320.1 148.9,274.4 168.8,274.4C188.6,274.4 196.2,274.9 216.0,274.9C235.7,274.9 243.1,344.6 262.8,344.6C282.7,344.6 290.3,270.4 310.2,270.4C330.0,270.4 337.6,356.3 357.4,356.3C377.2,356.3 384.8,276.6 404.6,276.6C424.5,276.6 432.1,287.7 452.0,287.7C471.9,287.7 479.4,298.4 499.3,298.4" fill="none" stroke="#f2703a" stroke-width="0.7"/>
<path d="M26.4,273.4C46.5,273.4 54.1,361.5 74.2,361.5C94.0,361.5 101.6,362.5 121.4,362.5C141.3,362.5 148.9,273.2 168.8,273.2C188.6,273.2 196.2,270.5 216.0,270.5C235.7,270.5 243.1,333.0 262.8,333.0C282.7,333.0 290.3,274.0 310.2,274.0C330.0,274.0 337.6,362.0 357.4,362.0C377.2,362.0 384.8,271.0 404.6,271.0C424.5,271.0 432.1,273.0 452.0,273.0C471.9,273.0 479.4,270.0 499.3,270.0" fill="none" stroke="#b3173c" stroke-width="1.7"/>
<path d="M26.4,331.2C46.5,331.2 54.1,361.5 74.2,361.5C94.0,361.5 101.6,319.9 121.4,319.9C141.3,319.9 148.9,273.2 168.8,273.2C188.6,273.2 196.2,271.0 216.0,271.0C235.7,271.0 243.1,336.0 262.8,336.0C282.7,336.0 290.3,276.0 310.2,276.0C330.0,276.0 337.6,364.0 357.4,364.0C377.2,364.0 384.8,273.0 404.6,273.0C424.5,273.0 432.1,275.0 452.0,275.0C471.9,275.0 479.4,270.0 499.3,270.0" fill="none" stroke="#b3173c" stroke-width="1.7"/>
<path d="M26.4,273.4C46.5,273.4 54.1,361.5 74.2,361.5C94.0,361.5 101.6,405.1 121.4,405.1C141.3,405.1 148.9,273.2 168.8,273.2C188.6,273.2 196.2,272.0 216.0,272.0C235.7,272.0 243.1,332.0 262.8,332.0C282.7,332.0 290.3,277.0 310.2,277.0C330.0,277.0 337.6,361.0 357.4,361.0C377.2,361.0 384.8,275.0 404.6,275.0C424.5,275.0 432.1,277.0 452.0,277.0C471.9,277.0 479.4,270.0 499.3,270.0" fill="none" stroke="#b3173c" stroke-width="1.7"/>
<line x1="26.4" y1="264.0" x2="26.4" y2="457.0" stroke="#111" stroke-width="1.2"/>
<line x1="74.2" y1="264.0" x2="74.2" y2="457.0" stroke="#111" stroke-width="1.2"/>
<line x1="121.4" y1="264.0" x2="121.4" y2="457.0" stroke="#111" stroke-width="1.2"/>
<line x1="168.8" y1="264.0" x2="168.8" y2="457.0" stroke="#111" stroke-width="1.2"/>
<line x1="216.0" y1="264.0" x2="216.0" y2="457.0" stroke="#111" stroke-width="1.2"/>
<line x1="262.8" y1="264.0" x2="262.8" y2="457.0" stroke="#111" stroke-width="1.2"/>
<line x1="310.2" y1="264.0" x2="310.2" y2="457.0" stroke="#111" stroke-width="1.2"/>
<line x1="357.4" y1="264.0" x2="357.4" y2="457.0" stroke="#111" stroke-width="1.2"/>
<line x1="404.6" y1="264.0" x2="404.6" y2="457.0" stroke="#111" stroke-width="1.2"/>
<line x1="452.0" y1="264.0" x2="452.0" y2="457.0" stroke="#111" stroke-width="1.2"/>
<line x1="499.3" y1="264.0" x2="499.3" y2="457.0" stroke="#111" stroke-width="1.2"/>
<text x="27.6" y="264.0" font-size="7.8" fill="#222" transform="rotate(90 27.6 264.0)">Missing Value Imputation</text>
<text x="75.4" y="264.0" font-size="7.8" fill="#222" transform="rotate(90 75.4 264.0)">Normalization</text>
<text x="122.6" y="264.0" font-size="7.8" fill="#222" transform="rotate(90 122.6 264.0)">Batch Correction</text>
<text x="170.0" y="264.0" font-size="7.8" fill="#222" transform="rotate(90 170.0 264.0)">Statistical Test</text>
<text x="217.2" y="264.0" font-size="7.8" fill="#222" transform="rotate(90 217.2 264.0)">ARI</text>
<text x="264.0" y="264.0" font-size="7.8" fill="#222" transform="rotate(90 264.0 264.0)">pAUC</text>
<text x="311.4" y="264.0" font-size="7.8" fill="#222" transform="rotate(90 311.4 264.0)">Accuracy</text>
<text x="358.6" y="264.0" font-size="7.8" fill="#222" transform="rotate(90 358.6 264.0)">Precision</text>
<text x="405.8" y="264.0" font-size="7.8" fill="#222" transform="rotate(90 405.8 264.0)">Recall</text>
<text x="453.2" y="264.0" font-size="7.8" fill="#222" transform="rotate(90 453.2 264.0)">F1-Score</text>
<text x="500.5" y="264.0" font-size="7.8" fill="#222" transform="rotate(90 500.5 264.0)">Rank</text>
<line x1="24.2" y1="273.4" x2="26.4" y2="273.4" stroke="#111" stroke-width="1"/>
<text x="20.9" y="274.4" font-size="6.5" fill="#222" transform="rotate(113 20.9 274.4)">SoftImpute</text>
<line x1="24.2" y1="302.3" x2="26.4" y2="302.3" stroke="#111" stroke-width="1"/>
<text x="20.9" y="303.3" font-size="6.5" fill="#222" transform="rotate(113 20.9 303.3)">IterativeSVD</text>
<line x1="24.2" y1="331.2" x2="26.4" y2="331.2" stroke="#111" stroke-width="1"/>
<text x="20.9" y="332.2" font-size="6.5" fill="#222" transform="rotate(113 20.9 332.2)">KNN</text>
<line x1="24.2" y1="360.1" x2="26.4" y2="360.1" stroke="#111" stroke-width="1"/>
<text x="20.9" y="361.1" font-size="6.5" fill="#222" transform="rotate(113 20.9 361.1)">RowMedian</text>
<line x1="24.2" y1="389.0" x2="26.4" y2="389.0" stroke="#111" stroke-width="1"/>
<text x="20.9" y="390.0" font-size="6.5" fill="#222" transform="rotate(113 20.9 390.0)">RowMean</text>
<line x1="24.2" y1="417.9" x2="26.4" y2="417.9" stroke="#111" stroke-width="1"/>
<text x="20.9" y="418.9" font-size="6.5" fill="#222" transform="rotate(113 20.9 418.9)">HalfRowMin</text>
<line x1="24.2" y1="446.8" x2="26.4" y2="446.8" stroke="#111" stroke-width="1"/>
<text x="20.9" y="447.8" font-size="6.5" fill="#222" transform="rotate(113 20.9 447.8)">Zero</text>
<line x1="72.0" y1="277.5" x2="74.2" y2="277.5" stroke="#111" stroke-width="1"/>
<text x="65.6" y="278.5" font-size="6.2" fill="#222" transform="rotate(90 65.6 278.5)">TRQN</text>
<line x1="72.0" y1="319.5" x2="74.2" y2="319.5" stroke="#111" stroke-width="1"/>
<text x="65.6" y="320.5" font-size="6.2" fill="#222" transform="rotate(90 65.6 320.5)">QN</text>
<line x1="72.0" y1="361.5" x2="74.2" y2="361.5" stroke="#111" stroke-width="1"/>
<text x="65.6" y="362.5" font-size="6.2" fill="#222" transform="rotate(90 65.6 362.5)">Sum</text>
<line x1="72.0" y1="403.5" x2="74.2" y2="403.5" stroke="#111" stroke-width="1"/>
<text x="65.6" y="404.5" font-size="6.2" fill="#222" transform="rotate(90 65.6 404.5)">Median</text>
<line x1="72.0" y1="445.5" x2="74.2" y2="445.5" stroke="#111" stroke-width="1"/>
<text x="65.6" y="446.5" font-size="6.2" fill="#222" transform="rotate(90 65.6 446.5)">Unnorm</text>
<line x1="119.2" y1="277.3" x2="121.4" y2="277.3" stroke="#111" stroke-width="1"/>
<text x="112.8" y="278.3" font-size="6.2" fill="#222" transform="rotate(90 112.8 278.3)">Scanorama</text>
<line x1="119.2" y1="319.9" x2="121.4" y2="319.9" stroke="#111" stroke-width="1"/>
<text x="112.8" y="320.9" font-size="6.2" fill="#222" transform="rotate(90 112.8 320.9)">Combat-NP</text>
<line x1="119.2" y1="362.5" x2="121.4" y2="362.5" stroke="#111" stroke-width="1"/>
<text x="112.8" y="363.5" font-size="6.2" fill="#222" transform="rotate(90 112.8 363.5)">Combat-P</text>
<line x1="119.2" y1="405.1" x2="121.4" y2="405.1" stroke="#111" stroke-width="1"/>
<text x="112.8" y="406.1" font-size="6.2" fill="#222" transform="rotate(90 112.8 406.1)">limma</text>
<line x1="119.2" y1="447.7" x2="121.4" y2="447.7" stroke="#111" stroke-width="1"/>
<text x="112.8" y="448.7" font-size="6.2" fill="#222" transform="rotate(90 112.8 448.7)">NoBC</text>
<line x1="166.6" y1="273.2" x2="168.8" y2="273.2" stroke="#111" stroke-width="1"/>
<text x="163.3" y="274.2" font-size="6.5" fill="#222" transform="rotate(113 163.3 274.2)">DESeq2</text>
<line x1="166.6" y1="302.3" x2="168.8" y2="302.3" stroke="#111" stroke-width="1"/>
<text x="163.3" y="303.3" font-size="6.5" fill="#222" transform="rotate(113 163.3 303.3)">edgeR-LRT</text>
<line x1="166.6" y1="331.5" x2="168.8" y2="331.5" stroke="#111" stroke-width="1"/>
<text x="163.3" y="332.5" font-size="6.5" fill="#222" transform="rotate(113 163.3 332.5)">edgeR-QLF</text>
<line x1="166.6" y1="360.6" x2="168.8" y2="360.6" stroke="#111" stroke-width="1"/>
<text x="163.3" y="361.6" font-size="6.5" fill="#222" transform="rotate(113 163.3 361.6)">limma-voom</text>
<line x1="166.6" y1="389.8" x2="168.8" y2="389.8" stroke="#111" stroke-width="1"/>
<text x="163.3" y="390.8" font-size="6.5" fill="#222" transform="rotate(113 163.3 390.8)">limma-trend</text>
<line x1="166.6" y1="418.9" x2="168.8" y2="418.9" stroke="#111" stroke-width="1"/>
<text x="163.3" y="419.9" font-size="6.5" fill="#222" transform="rotate(113 163.3 419.9)">Wilcox</text>
<line x1="166.6" y1="448.1" x2="168.8" y2="448.1" stroke="#111" stroke-width="1"/>
<text x="163.3" y="449.1" font-size="6.5" fill="#222" transform="rotate(113 163.3 449.1)">t-test</text>
<line x1="213.8" y1="270.2" x2="216.0" y2="270.2" stroke="#111" stroke-width="1"/>
<text x="208.0" y="269.0" font-size="6.6" fill="#222" transform="rotate(90 208.0 269.0)">1.000</text>
<line x1="213.8" y1="316.2" x2="216.0" y2="316.2" stroke="#111" stroke-width="1"/>
<text x="208.0" y="315.0" font-size="6.6" fill="#222" transform="rotate(90 208.0 315.0)">0.803</text>
<line x1="213.8" y1="362.2" x2="216.0" y2="362.2" stroke="#111" stroke-width="1"/>
<text x="208.0" y="361.0" font-size="6.6" fill="#222" transform="rotate(90 208.0 361.0)">0.606</text>
<line x1="213.8" y1="407.9" x2="216.0" y2="407.9" stroke="#111" stroke-width="1"/>
<text x="208.0" y="406.7" font-size="6.6" fill="#222" transform="rotate(90 208.0 406.7)">0.409</text>
<line x1="213.8" y1="453.9" x2="216.0" y2="453.9" stroke="#111" stroke-width="1"/>
<text x="208.0" y="452.7" font-size="6.6" fill="#222" transform="rotate(90 208.0 452.7)">0.212</text>
<line x1="260.6" y1="270.2" x2="262.8" y2="270.2" stroke="#111" stroke-width="1"/>
<text x="254.8" y="269.0" font-size="6.6" fill="#222" transform="rotate(90 254.8 269.0)">0.075</text>
<line x1="260.6" y1="316.2" x2="262.8" y2="316.2" stroke="#111" stroke-width="1"/>
<text x="254.8" y="315.0" font-size="6.6" fill="#222" transform="rotate(90 254.8 315.0)">0.070</text>
<line x1="260.6" y1="362.2" x2="262.8" y2="362.2" stroke="#111" stroke-width="1"/>
<text x="254.8" y="361.0" font-size="6.6" fill="#222" transform="rotate(90 254.8 361.0)">0.064</text>
<line x1="260.6" y1="407.9" x2="262.8" y2="407.9" stroke="#111" stroke-width="1"/>
<text x="254.8" y="406.7" font-size="6.6" fill="#222" transform="rotate(90 254.8 406.7)">0.054</text>
<line x1="260.6" y1="453.9" x2="262.8" y2="453.9" stroke="#111" stroke-width="1"/>
<text x="254.8" y="452.7" font-size="6.6" fill="#222" transform="rotate(90 254.8 452.7)">0.029</text>
<line x1="308.0" y1="270.2" x2="310.2" y2="270.2" stroke="#111" stroke-width="1"/>
<text x="302.2" y="269.0" font-size="6.6" fill="#222" transform="rotate(90 302.2 269.0)">0.930</text>
<line x1="308.0" y1="316.2" x2="310.2" y2="316.2" stroke="#111" stroke-width="1"/>
<text x="302.2" y="315.0" font-size="6.6" fill="#222" transform="rotate(90 302.2 315.0)">0.924</text>
<line x1="308.0" y1="362.2" x2="310.2" y2="362.2" stroke="#111" stroke-width="1"/>
<text x="302.2" y="361.0" font-size="6.6" fill="#222" transform="rotate(90 302.2 361.0)">0.905</text>
<line x1="308.0" y1="407.9" x2="310.2" y2="407.9" stroke="#111" stroke-width="1"/>
<text x="302.2" y="406.7" font-size="6.6" fill="#222" transform="rotate(90 302.2 406.7)">0.884</text>
<line x1="308.0" y1="453.9" x2="310.2" y2="453.9" stroke="#111" stroke-width="1"/>
<text x="302.2" y="452.7" font-size="6.6" fill="#222" transform="rotate(90 302.2 452.7)">0.798</text>
<line x1="355.2" y1="270.2" x2="357.4" y2="270.2" stroke="#111" stroke-width="1"/>
<text x="349.4" y="269.0" font-size="6.6" fill="#222" transform="rotate(90 349.4 269.0)">0.985</text>
<line x1="355.2" y1="316.2" x2="357.4" y2="316.2" stroke="#111" stroke-width="1"/>
<text x="349.4" y="315.0" font-size="6.6" fill="#222" transform="rotate(90 349.4 315.0)">0.972</text>
<line x1="355.2" y1="362.2" x2="357.4" y2="362.2" stroke="#111" stroke-width="1"/>
<text x="349.4" y="361.0" font-size="6.6" fill="#222" transform="rotate(90 349.4 361.0)">0.928</text>
<line x1="355.2" y1="407.9" x2="357.4" y2="407.9" stroke="#111" stroke-width="1"/>
<text x="349.4" y="406.7" font-size="6.6" fill="#222" transform="rotate(90 349.4 406.7)">0.879</text>
<line x1="355.2" y1="453.9" x2="357.4" y2="453.9" stroke="#111" stroke-width="1"/>
<text x="349.4" y="452.7" font-size="6.6" fill="#222" transform="rotate(90 349.4 452.7)">0.745</text>
<line x1="402.4" y1="270.2" x2="404.6" y2="270.2" stroke="#111" stroke-width="1"/>
<text x="396.6" y="269.0" font-size="6.6" fill="#222" transform="rotate(90 396.6 269.0)">0.989</text>
<line x1="402.4" y1="316.2" x2="404.6" y2="316.2" stroke="#111" stroke-width="1"/>
<text x="396.6" y="315.0" font-size="6.6" fill="#222" transform="rotate(90 396.6 315.0)">0.955</text>
<line x1="402.4" y1="362.2" x2="404.6" y2="362.2" stroke="#111" stroke-width="1"/>
<text x="396.6" y="361.0" font-size="6.6" fill="#222" transform="rotate(90 396.6 361.0)">0.834</text>
<line x1="402.4" y1="407.9" x2="404.6" y2="407.9" stroke="#111" stroke-width="1"/>
<text x="396.6" y="406.7" font-size="6.6" fill="#222" transform="rotate(90 396.6 406.7)">0.760</text>
<line x1="402.4" y1="453.9" x2="404.6" y2="453.9" stroke="#111" stroke-width="1"/>
<text x="396.6" y="452.7" font-size="6.6" fill="#222" transform="rotate(90 396.6 452.7)">0.434</text>
<line x1="449.8" y1="270.2" x2="452.0" y2="270.2" stroke="#111" stroke-width="1"/>
<text x="444.0" y="269.0" font-size="6.6" fill="#222" transform="rotate(90 444.0 269.0)">0.936</text>
<line x1="449.8" y1="316.2" x2="452.0" y2="316.2" stroke="#111" stroke-width="1"/>
<text x="444.0" y="315.0" font-size="6.6" fill="#222" transform="rotate(90 444.0 315.0)">0.907</text>
<line x1="449.8" y1="362.2" x2="452.0" y2="362.2" stroke="#111" stroke-width="1"/>
<text x="444.0" y="361.0" font-size="6.6" fill="#222" transform="rotate(90 444.0 361.0)">0.862</text>
<line x1="449.8" y1="407.9" x2="452.0" y2="407.9" stroke="#111" stroke-width="1"/>
<text x="444.0" y="406.7" font-size="6.6" fill="#222" transform="rotate(90 444.0 406.7)">0.785</text>
<line x1="449.8" y1="453.9" x2="452.0" y2="453.9" stroke="#111" stroke-width="1"/>
<text x="444.0" y="452.7" font-size="6.6" fill="#222" transform="rotate(90 444.0 452.7)">0.604</text>
<line x1="497.1" y1="269.3" x2="499.3" y2="269.3" stroke="#111" stroke-width="1"/>
<text x="491.3" y="268.1" font-size="6.6" fill="#222" transform="rotate(90 491.3 268.1)">0%</text>
<line x1="497.1" y1="300.0" x2="499.3" y2="300.0" stroke="#111" stroke-width="1"/>
<text x="491.3" y="298.8" font-size="6.6" fill="#222" transform="rotate(90 491.3 298.8)">1%</text>
<line x1="497.1" y1="330.7" x2="499.3" y2="330.7" stroke="#111" stroke-width="1"/>
<text x="491.3" y="329.5" font-size="6.6" fill="#222" transform="rotate(90 491.3 329.5)">2%</text>
<line x1="497.1" y1="361.4" x2="499.3" y2="361.4" stroke="#111" stroke-width="1"/>
<text x="491.3" y="360.2" font-size="6.6" fill="#222" transform="rotate(90 491.3 360.2)">3%</text>
<line x1="497.1" y1="392.1" x2="499.3" y2="392.1" stroke="#111" stroke-width="1"/>
<text x="491.3" y="390.9" font-size="6.6" fill="#222" transform="rotate(90 491.3 390.9)">4%</text>
<line x1="497.1" y1="422.8" x2="499.3" y2="422.8" stroke="#111" stroke-width="1"/>
<text x="491.3" y="421.6" font-size="6.6" fill="#222" transform="rotate(90 491.3 421.6)">5%</text>
<line x1="497.1" y1="453.5" x2="499.3" y2="453.5" stroke="#111" stroke-width="1"/>
<text x="491.3" y="452.3" font-size="6.6" fill="#222" transform="rotate(90 491.3 452.3)">100%</text>
<polyline points="216.0,460.0 216.0,477.0 105.0,477.0 105.0,484.0" fill="none" stroke="#111" stroke-width="1.2"/>
<path d="M102,484 L108,484 L105,490 Z" fill="#111"/>
<polyline points="262.8,470.5 262.8,477.6 249.6,477.6 249.6,484.0" fill="none" stroke="#111" stroke-width="1.2"/>
<path d="M246.6,484 L252.6,484 L249.6,490 Z" fill="#111"/>
<polyline points="310.2,460.0 310.2,476.3 482.0,476.3 482.0,484.0" fill="none" stroke="#111" stroke-width="1.2"/>
<path d="M479,484.4 L485,484.4 L482,490.4 Z" fill="#111"/>
<polyline points="357.4,460.0 357.4,476.3" fill="none" stroke="#111" stroke-width="1.2"/>
<polyline points="404.6,460.0 404.6,476.3" fill="none" stroke="#111" stroke-width="1.2"/>
<polyline points="452.0,460.0 452.0,476.3" fill="none" stroke="#111" stroke-width="1.2"/>
<polyline points="507.4,268.6 512.2,268.6 512.2,422.6 506.4,422.6" fill="none" stroke="#111" stroke-width="1.1"/>
<polyline points="506.3,299.2 512.2,299.2" fill="none" stroke="#111" stroke-width="1.1"/>
<polyline points="512.1,284.8 520.0,284.8" fill="none" stroke="#111" stroke-width="1.3"/>
<path d="M519,281.6 L525.5,284.8 L519,288 Z" fill="#111"/><text x="519.2" y="258.3" font-size="16.5" text-anchor="start" font-weight="bold" fill="#000" >c</text>
<text x="571.8" y="261.4" font-size="9.6" text-anchor="middle" font-weight="normal" fill="#222" >Top 1%</text>
<rect x="557.8" y="371.98" width="6.8" height="32.57" fill="#7eb0e0"/>
<rect x="557.8" y="339.45" width="6.8" height="32.58" fill="#ae7ea8"/>
<rect x="557.8" y="306.92" width="6.8" height="32.58" fill="#fb7d07"/>
<rect x="557.8" y="285.24" width="6.8" height="21.74" fill="#fdb366"/>
<rect x="557.8" y="274.40" width="6.8" height="10.89" fill="#7a2a6e"/>
<rect x="565.8" y="296.09" width="6.7" height="108.46" fill="#7eb0e0"/>
<rect x="565.8" y="274.40" width="6.7" height="21.74" fill="#1c64b4"/>
<rect x="573.7" y="350.29" width="7.0" height="54.26" fill="#7eb0e0"/>
<rect x="573.7" y="306.92" width="7.0" height="43.41" fill="#7a2a6e"/>
<rect x="573.7" y="274.40" width="7.0" height="32.57" fill="#1c64b4"/>
<rect x="582.1" y="274.40" width="7.0" height="130.15" fill="#fdb366"/>
<line x1="556.1" y1="273.9" x2="556.1" y2="404.5" stroke="#111" stroke-width="1.1"/>
<line x1="556.1" y1="404.5" x2="590.1" y2="404.5" stroke="#111" stroke-width="1.1"/>
<line x1="553.6" y1="404.5" x2="556.1" y2="404.5" stroke="#111" stroke-width="1"/>
<line x1="553.6" y1="372.0" x2="556.1" y2="372.0" stroke="#111" stroke-width="1"/>
<line x1="553.6" y1="339.4" x2="556.1" y2="339.4" stroke="#111" stroke-width="1"/>
<line x1="553.6" y1="306.9" x2="556.1" y2="306.9" stroke="#111" stroke-width="1"/>
<line x1="553.6" y1="274.4" x2="556.1" y2="274.4" stroke="#111" stroke-width="1"/>
<text x="564.2" y="408" font-size="8.3" fill="#222" text-anchor="end" transform="rotate(-90 564.2 408)">Imputation</text>
<text x="572.1" y="408" font-size="8.3" fill="#222" text-anchor="end" transform="rotate(-90 572.1 408)">Normalization</text>
<text x="580.2" y="408" font-size="8.3" fill="#222" text-anchor="end" transform="rotate(-90 580.2 408)">Batch Correction</text>
<text x="588.6" y="408" font-size="8.3" fill="#222" text-anchor="end" transform="rotate(-90 588.6 408)">Statistical Test</text>
<text x="616.3" y="261.4" font-size="9.6" text-anchor="middle" font-weight="normal" fill="#222" >Top 5%</text>
<rect x="600.7" y="374.71" width="6.5" height="29.84" fill="#fb7d07"/>
<rect x="600.7" y="349.08" width="6.5" height="25.68" fill="#7a2a6e"/>
<rect x="600.7" y="325.92" width="6.5" height="23.21" fill="#7eb0e0"/>
<rect x="600.7" y="302.11" width="6.5" height="23.86" fill="#fdb366"/>
<rect x="600.7" y="283.12" width="6.5" height="19.04" fill="#ae7ea8"/>
<rect x="600.7" y="274.40" width="6.5" height="8.77" fill="#1c64b4"/>
<rect x="609.1" y="366.12" width="6.5" height="38.43" fill="#7eb0e0"/>
<rect x="609.1" y="329.82" width="6.5" height="36.35" fill="#f4877b"/>
<rect x="609.1" y="293.65" width="6.5" height="36.22" fill="#1c64b4"/>
<rect x="609.1" y="274.40" width="6.5" height="19.30" fill="#7a2a6e"/>
<rect x="617.6" y="353.37" width="6.5" height="51.18" fill="#1c64b4"/>
<rect x="617.6" y="312.78" width="6.5" height="40.64" fill="#7a2a6e"/>
<rect x="617.6" y="274.40" width="6.5" height="38.43" fill="#7eb0e0"/>
<rect x="626.0" y="291.44" width="6.5" height="113.11" fill="#fdb366"/>
<rect x="626.0" y="274.40" width="6.5" height="17.09" fill="#7eb0e0"/>
<line x1="599.0" y1="273.9" x2="599.0" y2="404.5" stroke="#111" stroke-width="1.1"/>
<line x1="599.0" y1="404.5" x2="633.5" y2="404.5" stroke="#111" stroke-width="1.1"/>
<line x1="596.5" y1="404.5" x2="599.0" y2="404.5" stroke="#111" stroke-width="1"/>
<line x1="596.5" y1="372.0" x2="599.0" y2="372.0" stroke="#111" stroke-width="1"/>
<line x1="596.5" y1="339.4" x2="599.0" y2="339.4" stroke="#111" stroke-width="1"/>
<line x1="596.5" y1="306.9" x2="599.0" y2="306.9" stroke="#111" stroke-width="1"/>
<line x1="596.5" y1="274.4" x2="599.0" y2="274.4" stroke="#111" stroke-width="1"/>
<text x="607.0" y="408" font-size="8.3" fill="#222" text-anchor="end" transform="rotate(-90 607.0 408)">Imputation</text>
<text x="615.4" y="408" font-size="8.3" fill="#222" text-anchor="end" transform="rotate(-90 615.4 408)">Normalization</text>
<text x="623.9" y="408" font-size="8.3" fill="#222" text-anchor="end" transform="rotate(-90 623.9 408)">Batch Correction</text>
<text x="632.2" y="408" font-size="8.3" fill="#222" text-anchor="end" transform="rotate(-90 632.2 408)">Statistical Test</text>
<text x="552.5" y="407.8" font-size="9.3" text-anchor="end" font-weight="normal" fill="#222" >0%</text>
<text x="552.5" y="375.3" font-size="9.3" text-anchor="end" font-weight="normal" fill="#222" >25%</text>
<text x="552.5" y="342.8" font-size="9.3" text-anchor="end" font-weight="normal" fill="#222" >50%</text>
<text x="552.5" y="310.2" font-size="9.3" text-anchor="end" font-weight="normal" fill="#222" >75%</text>
<text x="552.5" y="277.7" font-size="9.3" text-anchor="end" font-weight="normal" fill="#222" >100%</text>
<text x="527.5" y="339" font-size="9.2" fill="#222" text-anchor="middle" transform="rotate(-90 527.5 339)">Frequency</text>
<rect x="657.3" y="277.3" width="6.6" height="6.6" fill="#f4877b"/>
<text x="667.5" y="283.9" font-size="9.3" text-anchor="start" font-weight="normal" fill="#222" >1</text>
<rect x="657.3" y="297.1" width="6.6" height="6.6" fill="#1c64b4"/>
<text x="667.5" y="303.7" font-size="9.3" text-anchor="start" font-weight="normal" fill="#222" >2</text>
<rect x="657.3" y="316.4" width="6.6" height="6.6" fill="#7eb0e0"/>
<text x="667.5" y="323.0" font-size="9.3" text-anchor="start" font-weight="normal" fill="#222" >3</text>
<rect x="657.3" y="336.1" width="6.6" height="6.6" fill="#7a2a6e"/>
<text x="667.5" y="342.7" font-size="9.3" text-anchor="start" font-weight="normal" fill="#222" >4</text>
<rect x="657.3" y="356.1" width="6.6" height="6.6" fill="#ae7ea8"/>
<text x="667.5" y="362.7" font-size="9.3" text-anchor="start" font-weight="normal" fill="#222" >5</text>
<rect x="657.3" y="375.4" width="6.6" height="6.6" fill="#fb7d07"/>
<text x="667.5" y="382.0" font-size="9.3" text-anchor="start" font-weight="normal" fill="#222" >6</text>
<rect x="657.3" y="395.1" width="6.6" height="6.6" fill="#fdb366"/>
<text x="667.5" y="401.7" font-size="9.3" text-anchor="start" font-weight="normal" fill="#222" >7</text>
<text x="652.5" y="339" font-size="8.9" fill="#222" text-anchor="middle" transform="rotate(-90 652.5 339)">Method Serial Number</text><text x="4.4" y="497.3" font-size="16" text-anchor="start" font-weight="bold" fill="#000" >d</text>
<text x="25.0" y="495.8" font-size="10.5" text-anchor="start" font-weight="normal" fill="#222" >ARI</text>
<polygon points="105.80,523.30 171.30,560.80 105.80,598.40 40.60,561.00" fill="#fff" stroke="#111" stroke-width="0" stroke-linejoin="round"/>
<polygon points="40.60,561.00 105.80,598.40 105.80,692.40 40.60,655.00" fill="#fff" stroke="#111" stroke-width="0" stroke-linejoin="round"/>
<polygon points="105.80,598.40 171.30,560.80 171.30,654.80 105.80,692.40" fill="#fff" stroke="#111" stroke-width="0" stroke-linejoin="round"/>
<g transform="matrix(13.1000,7.5000,-13.0400,7.5400,105.800,523.300)"><circle cx="0.5" cy="0.5" r="0.164" fill="#aac4e5"/><circle cx="1.5" cy="0.5" r="0.098" fill="#cadbef"/><circle cx="2.5" cy="0.5" r="0.148" fill="#b2cae7"/><circle cx="3.5" cy="0.5" r="0.156" fill="#aec7e6"/><circle cx="4.5" cy="0.5" r="0.117" fill="#c1d5ed"/><circle cx="0.5" cy="1.5" r="0.312" fill="#5185c6"/><circle cx="1.5" cy="1.5" r="0.332" fill="#437cc2"/><circle cx="2.5" cy="1.5" r="0.312" fill="#5185c6"/><circle cx="3.5" cy="1.5" r="0.351" fill="#3672bd"/><circle cx="4.5" cy="1.5" r="0.176" fill="#a4c0e3"/><circle cx="0.5" cy="2.5" r="0.292" fill="#5e8fcb"/><circle cx="1.5" cy="2.5" r="0.242" fill="#7ea5d6"/><circle cx="2.5" cy="2.5" r="0.390" fill="#1a5fb4"/><circle cx="3.5" cy="2.5" r="0.332" fill="#437cc2"/><circle cx="4.5" cy="2.5" r="0.156" fill="#aec7e6"/><circle cx="0.5" cy="3.5" r="0.312" fill="#5185c6"/><circle cx="1.5" cy="3.5" r="0.242" fill="#7ea5d6"/><circle cx="2.5" cy="3.5" r="0.390" fill="#1a5fb4"/><circle cx="3.5" cy="3.5" r="0.351" fill="#3672bd"/><circle cx="4.5" cy="3.5" r="0.176" fill="#a4c0e3"/><circle cx="0.5" cy="4.5" r="0.215" fill="#8eb1db"/><circle cx="1.5" cy="4.5" r="0.215" fill="#8eb1db"/><circle cx="2.5" cy="4.5" r="0.215" fill="#8eb1db"/><circle cx="3.5" cy="4.5" r="0.215" fill="#8eb1db"/><circle cx="4.5" cy="4.5" r="0.156" fill="#aec7e6"/></g>
<line x1="132.00" y1="538.30" x2="66.80" y2="576.00" stroke="#555" stroke-width="0.7"/>
<line x1="79.72" y1="538.38" x2="145.22" y2="575.88" stroke="#555" stroke-width="0.7"/>
<line x1="145.10" y1="545.80" x2="79.90" y2="583.50" stroke="#555" stroke-width="0.7"/>
<line x1="66.68" y1="545.92" x2="132.18" y2="583.42" stroke="#555" stroke-width="0.7"/>
<g transform="matrix(13.0400,7.4800,0.0000,13.4286,40.600,561.000)"><circle cx="0.5" cy="0.5" r="0.312" fill="#4b82c4"/><circle cx="1.5" cy="0.5" r="0.274" fill="#6594cd"/><circle cx="2.5" cy="0.5" r="0.361" fill="#2869b8"/><circle cx="3.5" cy="0.5" r="0.304" fill="#5185c6"/><circle cx="4.5" cy="0.5" r="0.182" fill="#9ebce0"/><circle cx="0.5" cy="1.5" r="0.312" fill="#4b82c4"/><circle cx="1.5" cy="1.5" r="0.285" fill="#5e8fcb"/><circle cx="2.5" cy="1.5" r="0.361" fill="#2869b8"/><circle cx="3.5" cy="1.5" r="0.304" fill="#5185c6"/><circle cx="4.5" cy="1.5" r="0.190" fill="#99b9df"/><circle cx="0.5" cy="2.5" r="0.312" fill="#4b82c4"/><circle cx="1.5" cy="2.5" r="0.274" fill="#6594cd"/><circle cx="2.5" cy="2.5" r="0.342" fill="#3672bd"/><circle cx="3.5" cy="2.5" r="0.304" fill="#5185c6"/><circle cx="4.5" cy="2.5" r="0.190" fill="#99b9df"/><circle cx="0.5" cy="3.5" r="0.312" fill="#4b82c4"/><circle cx="1.5" cy="3.5" r="0.285" fill="#5e8fcb"/><circle cx="2.5" cy="3.5" r="0.342" fill="#3672bd"/><circle cx="3.5" cy="3.5" r="0.323" fill="#437cc2"/><circle cx="4.5" cy="3.5" r="0.182" fill="#9ebce0"/><circle cx="0.5" cy="4.5" r="0.296" fill="#5689c8"/><circle cx="1.5" cy="4.5" r="0.285" fill="#5e8fcb"/><circle cx="2.5" cy="4.5" r="0.342" fill="#3672bd"/><circle cx="3.5" cy="4.5" r="0.342" fill="#3672bd"/><circle cx="4.5" cy="4.5" r="0.182" fill="#9ebce0"/><circle cx="0.5" cy="5.5" r="0.312" fill="#4b82c4"/><circle cx="1.5" cy="5.5" r="0.285" fill="#5e8fcb"/><circle cx="2.5" cy="5.5" r="0.323" fill="#437cc2"/><circle cx="3.5" cy="5.5" r="0.361" fill="#2869b8"/><circle cx="4.5" cy="5.5" r="0.171" fill="#a4c0e3"/><circle cx="0.5" cy="6.5" r="0.312" fill="#4b82c4"/><circle cx="1.5" cy="6.5" r="0.285" fill="#5e8fcb"/><circle cx="2.5" cy="6.5" r="0.304" fill="#5185c6"/><circle cx="3.5" cy="6.5" r="0.285" fill="#5e8fcb"/><circle cx="4.5" cy="6.5" r="0.190" fill="#99b9df"/></g>
<line x1="66.68" y1="575.96" x2="66.68" y2="669.96" stroke="#888" stroke-width="0.65" stroke-dasharray="1.5,0.8"/>
<line x1="79.72" y1="583.44" x2="79.72" y2="677.44" stroke="#888" stroke-width="0.65" stroke-dasharray="1.5,0.8"/>
<line x1="40.60" y1="574.43" x2="105.80" y2="611.83" stroke="#666" stroke-width="0.7"/>
<line x1="40.60" y1="562.80" x2="105.80" y2="600.20" stroke="#aaa" stroke-width="0.5"/>
<g transform="matrix(13.1000,-7.5200,0.0000,13.4286,105.800,598.400)"><circle cx="0.5" cy="0.5" r="0.258" fill="#6f9bd1"/><circle cx="1.5" cy="0.5" r="0.361" fill="#2869b8"/><circle cx="2.5" cy="0.5" r="0.380" fill="#1a5fb4"/><circle cx="3.5" cy="0.5" r="0.323" fill="#437cc2"/><circle cx="4.5" cy="0.5" r="0.182" fill="#9ebce0"/><circle cx="0.5" cy="1.5" r="0.258" fill="#6f9bd1"/><circle cx="1.5" cy="1.5" r="0.361" fill="#2869b8"/><circle cx="2.5" cy="1.5" r="0.361" fill="#2869b8"/><circle cx="3.5" cy="1.5" r="0.342" fill="#3672bd"/><circle cx="4.5" cy="1.5" r="0.190" fill="#99b9df"/><circle cx="0.5" cy="2.5" r="0.258" fill="#6f9bd1"/><circle cx="1.5" cy="2.5" r="0.342" fill="#3672bd"/><circle cx="2.5" cy="2.5" r="0.342" fill="#3672bd"/><circle cx="3.5" cy="2.5" r="0.361" fill="#2869b8"/><circle cx="4.5" cy="2.5" r="0.182" fill="#9ebce0"/><circle cx="0.5" cy="3.5" r="0.258" fill="#6f9bd1"/><circle cx="1.5" cy="3.5" r="0.323" fill="#437cc2"/><circle cx="2.5" cy="3.5" r="0.342" fill="#3672bd"/><circle cx="3.5" cy="3.5" r="0.304" fill="#5185c6"/><circle cx="4.5" cy="3.5" r="0.190" fill="#99b9df"/><circle cx="0.5" cy="4.5" r="0.247" fill="#77a0d3"/><circle cx="1.5" cy="4.5" r="0.323" fill="#437cc2"/><circle cx="2.5" cy="4.5" r="0.323" fill="#437cc2"/><circle cx="3.5" cy="4.5" r="0.304" fill="#5185c6"/><circle cx="4.5" cy="4.5" r="0.190" fill="#99b9df"/><circle cx="0.5" cy="5.5" r="0.258" fill="#6f9bd1"/><circle cx="1.5" cy="5.5" r="0.304" fill="#5185c6"/><circle cx="2.5" cy="5.5" r="0.323" fill="#437cc2"/><circle cx="3.5" cy="5.5" r="0.342" fill="#3672bd"/><circle cx="4.5" cy="5.5" r="0.182" fill="#9ebce0"/><circle cx="0.5" cy="6.5" r="0.247" fill="#77a0d3"/><circle cx="1.5" cy="6.5" r="0.304" fill="#5185c6"/><circle cx="2.5" cy="6.5" r="0.304" fill="#5185c6"/><circle cx="3.5" cy="6.5" r="0.361" fill="#2869b8"/><circle cx="4.5" cy="6.5" r="0.190" fill="#99b9df"/></g>
<line x1="132.00" y1="583.36" x2="132.00" y2="677.36" stroke="#888" stroke-width="0.65" stroke-dasharray="1.5,0.8"/>
<line x1="145.10" y1="575.84" x2="145.10" y2="669.84" stroke="#888" stroke-width="0.65" stroke-dasharray="1.5,0.8"/>
<line x1="105.80" y1="611.83" x2="171.30" y2="574.23" stroke="#666" stroke-width="0.7"/>
<line x1="105.80" y1="600.20" x2="171.30" y2="562.60" stroke="#aaa" stroke-width="0.5"/>
<polygon points="105.80,523.30 171.30,560.80 171.30,654.80 105.80,692.40 40.60,655.00 40.60,561.00" fill="none" stroke="#111" stroke-width="1.3" stroke-linejoin="round"/>
<line x1="40.60" y1="561.00" x2="105.80" y2="598.40" stroke="#111" stroke-width="1.3"/>
<line x1="105.80" y1="598.40" x2="171.30" y2="560.80" stroke="#111" stroke-width="1.3"/>
<line x1="105.80" y1="598.40" x2="105.80" y2="692.40" stroke="#111" stroke-width="1.3"/>
<line x1="99.28" y1="527.07" x2="97.68" y2="526.07" stroke="#111" stroke-width="0.8"/>
<text x="96.8" y="525.3" font-size="6.2" text-anchor="end" fill="#111" transform="rotate(30.2 96.8 525.3)">NoBC</text>
<line x1="86.24" y1="534.61" x2="84.64" y2="533.61" stroke="#111" stroke-width="0.8"/>
<text x="83.7" y="532.8" font-size="6.2" text-anchor="end" fill="#111" transform="rotate(30.2 83.7 532.8)">limma</text>
<line x1="73.20" y1="542.15" x2="71.60" y2="541.15" stroke="#111" stroke-width="0.8"/>
<text x="70.7" y="540.4" font-size="6.2" text-anchor="end" fill="#111" transform="rotate(30.2 70.7 540.4)">Combat-P</text>
<line x1="60.16" y1="549.69" x2="58.56" y2="548.69" stroke="#111" stroke-width="0.8"/>
<text x="57.7" y="547.9" font-size="6.2" text-anchor="end" fill="#111" transform="rotate(30.2 57.7 547.9)">Combat-NP</text>
<line x1="47.12" y1="557.23" x2="45.52" y2="556.23" stroke="#111" stroke-width="0.8"/>
<text x="44.6" y="555.4" font-size="6.2" text-anchor="end" fill="#111" transform="rotate(30.2 44.6 555.4)">Scanorama</text>
<line x1="112.35" y1="527.05" x2="113.95" y2="526.05" stroke="#111" stroke-width="0.8"/>
<text x="114.8" y="525.5" font-size="6.2" text-anchor="start" fill="#111" transform="rotate(-30.2 114.8 525.5)">Unnormalized</text>
<line x1="125.45" y1="534.55" x2="127.05" y2="533.55" stroke="#111" stroke-width="0.8"/>
<text x="128.0" y="533.0" font-size="6.2" text-anchor="start" fill="#111" transform="rotate(-30.2 128.0 533.0)">Median</text>
<line x1="138.55" y1="542.05" x2="140.15" y2="541.05" stroke="#111" stroke-width="0.8"/>
<text x="141.1" y="540.5" font-size="6.2" text-anchor="start" fill="#111" transform="rotate(-30.2 141.1 540.5)">Sum</text>
<line x1="151.65" y1="549.55" x2="153.25" y2="548.55" stroke="#111" stroke-width="0.8"/>
<text x="154.2" y="548.0" font-size="6.2" text-anchor="start" fill="#111" transform="rotate(-30.2 154.2 548.0)">QN</text>
<line x1="164.75" y1="557.05" x2="166.35" y2="556.05" stroke="#111" stroke-width="0.8"/>
<text x="167.2" y="555.5" font-size="6.2" text-anchor="start" fill="#111" transform="rotate(-30.2 167.2 555.5)">TRQN</text>
<line x1="40.60" y1="567.71" x2="38.60" y2="567.71" stroke="#111" stroke-width="0.8"/>
<text x="37.8" y="569.2" font-size="6.2" text-anchor="end" fill="#111" transform="rotate(30.2 37.8 569.2)">SoftImpute</text>
<line x1="40.60" y1="581.14" x2="38.60" y2="581.14" stroke="#111" stroke-width="0.8"/>
<text x="37.8" y="582.6" font-size="6.2" text-anchor="end" fill="#111" transform="rotate(30.2 37.8 582.6)">IterativeSVD</text>
<line x1="40.60" y1="594.57" x2="38.60" y2="594.57" stroke="#111" stroke-width="0.8"/>
<text x="37.8" y="596.1" font-size="6.2" text-anchor="end" fill="#111" transform="rotate(30.2 37.8 596.1)">KNN</text>
<line x1="40.60" y1="608.00" x2="38.60" y2="608.00" stroke="#111" stroke-width="0.8"/>
<text x="37.8" y="609.5" font-size="6.2" text-anchor="end" fill="#111" transform="rotate(30.2 37.8 609.5)">RowMedian</text>
<line x1="40.60" y1="621.43" x2="38.60" y2="621.43" stroke="#111" stroke-width="0.8"/>
<text x="37.8" y="622.9" font-size="6.2" text-anchor="end" fill="#111" transform="rotate(30.2 37.8 622.9)">RowMean</text>
<line x1="40.60" y1="634.86" x2="38.60" y2="634.86" stroke="#111" stroke-width="0.8"/>
<text x="37.8" y="636.4" font-size="6.2" text-anchor="end" fill="#111" transform="rotate(30.2 37.8 636.4)">HalfRowMin</text>
<line x1="40.60" y1="648.29" x2="38.60" y2="648.29" stroke="#111" stroke-width="0.8"/>
<text x="37.8" y="649.8" font-size="6.2" text-anchor="end" fill="#111" transform="rotate(30.2 37.8 649.8)">Zero</text>
<line x1="47.12" y1="658.74" x2="47.12" y2="660.74" stroke="#111" stroke-width="0.8"/>
<text x="45.6" y="661.7" font-size="6.2" text-anchor="start" fill="#111" transform="rotate(95.0 45.6 661.7)">Unnormalized</text>
<line x1="60.16" y1="666.22" x2="60.16" y2="668.22" stroke="#111" stroke-width="0.8"/>
<text x="58.7" y="669.2" font-size="6.2" text-anchor="start" fill="#111" transform="rotate(95.0 58.7 669.2)">Median</text>
<line x1="73.20" y1="673.70" x2="73.20" y2="675.70" stroke="#111" stroke-width="0.8"/>
<text x="71.7" y="676.7" font-size="6.2" text-anchor="start" fill="#111" transform="rotate(95.0 71.7 676.7)">Sum</text>
<line x1="86.24" y1="681.18" x2="86.24" y2="683.18" stroke="#111" stroke-width="0.8"/>
<text x="84.7" y="684.2" font-size="6.2" text-anchor="start" fill="#111" transform="rotate(95.0 84.7 684.2)">QN</text>
<line x1="99.28" y1="688.66" x2="99.28" y2="690.66" stroke="#111" stroke-width="0.8"/>
<text x="97.8" y="691.7" font-size="6.2" text-anchor="start" fill="#111" transform="rotate(95.0 97.8 691.7)">TRQN</text>
<line x1="112.35" y1="688.64" x2="112.35" y2="690.64" stroke="#111" stroke-width="0.8"/>
<text x="110.8" y="691.6" font-size="6.2" text-anchor="start" fill="#111" transform="rotate(88.0 110.8 691.6)">Scanorama</text>
<line x1="125.45" y1="681.12" x2="125.45" y2="683.12" stroke="#111" stroke-width="0.8"/>
<text x="124.0" y="684.1" font-size="6.2" text-anchor="start" fill="#111" transform="rotate(88.0 124.0 684.1)">Combat-NP</text>
<line x1="138.55" y1="673.60" x2="138.55" y2="675.60" stroke="#111" stroke-width="0.8"/>
<text x="137.1" y="676.6" font-size="6.2" text-anchor="start" fill="#111" transform="rotate(88.0 137.1 676.6)">Combat-P</text>
<line x1="151.65" y1="666.08" x2="151.65" y2="668.08" stroke="#111" stroke-width="0.8"/>
<text x="150.2" y="669.1" font-size="6.2" text-anchor="start" fill="#111" transform="rotate(88.0 150.2 669.1)">limma</text>
<line x1="164.75" y1="658.56" x2="164.75" y2="660.56" stroke="#111" stroke-width="0.8"/>
<text x="163.2" y="661.6" font-size="6.2" text-anchor="start" fill="#111" transform="rotate(88.0 163.2 661.6)">NoBC</text>
<text x="17.0" y="519.4" font-size="7.6" text-anchor="start" font-weight="normal" fill="#222" >Batch Correction</text>
<text x="49.8" y="711.6" font-size="7.6" text-anchor="start" font-weight="normal" fill="#222" >Normalization</text>
<text x="1.8" y="602" font-size="7.6" fill="#222" text-anchor="middle" transform="rotate(90 1.8 602)">Missing Value Imputation</text>
<text x="174.8" y="602" font-size="7.6" fill="#222" text-anchor="middle" transform="rotate(90 174.8 602)">Missing Value Imputation</text>
<text x="34.5" y="747.8" font-size="7.6" text-anchor="start" font-weight="normal" fill="#222" >ARI</text>
<circle cx="61.7" cy="744.9" r="6.10" fill="#1a5fb4"/>
<text x="61.7" y="737.4" font-size="7.4" text-anchor="middle" font-weight="normal" fill="#222" >1.0</text>
<circle cx="82.9" cy="744.9" r="5.52" fill="#3672bd"/>
<text x="82.9" y="737.4" font-size="7.4" text-anchor="middle" font-weight="normal" fill="#222" >0.9</text>
<circle cx="102.9" cy="744.9" r="4.94" fill="#5185c6"/>
<text x="102.9" y="737.4" font-size="7.4" text-anchor="middle" font-weight="normal" fill="#222" >0.8</text>
<circle cx="121.2" cy="744.9" r="4.36" fill="#6a97cf"/>
<text x="121.2" y="737.4" font-size="7.4" text-anchor="middle" font-weight="normal" fill="#222" >0.7</text>
<circle cx="138.8" cy="744.9" r="3.78" fill="#83a9d7"/>
<text x="138.8" y="737.4" font-size="7.4" text-anchor="middle" font-weight="normal" fill="#222" >0.6</text>
<circle cx="154.9" cy="744.9" r="3.20" fill="#99b9df"/>
<text x="154.9" y="737.4" font-size="7.4" text-anchor="middle" font-weight="normal" fill="#222" >0.5</text>
<circle cx="170" cy="744.9" r="2.62" fill="#aec7e6"/>
<text x="170.0" y="737.4" font-size="7.4" text-anchor="middle" font-weight="normal" fill="#222" >0.4</text>
<circle cx="184.4" cy="744.9" r="2.04" fill="#c1d5ed"/>
<text x="184.4" y="737.4" font-size="7.4" text-anchor="middle" font-weight="normal" fill="#222" >0.3</text>
<circle cx="197" cy="744.9" r="1.46" fill="#d2e0f2"/>
<text x="197.0" y="737.4" font-size="7.4" text-anchor="middle" font-weight="normal" fill="#222" >0.2</text>
<circle cx="209.5" cy="744.9" r="0.88" fill="#dfeaf7"/>
<text x="209.5" y="737.4" font-size="7.4" text-anchor="middle" font-weight="normal" fill="#222" >0.1</text>
<text x="223.0" y="747.8" font-size="7.6" text-anchor="start" font-weight="normal" fill="#222" >pAUC/0.1</text><text x="177.6" y="496.7" font-size="16" text-anchor="start" font-weight="bold" fill="#000" >e</text>
<text x="197.5" y="495.8" font-size="10.3" text-anchor="start" font-weight="normal" fill="#222" >pAUC</text>
<polygon points="262.50,508.20 315.40,562.20 261.40,615.80 208.00,562.20" fill="#fff" stroke="#111" stroke-width="0" stroke-linejoin="round"/>
<polygon points="208.00,562.20 261.40,615.80 261.40,709.10 208.00,655.50" fill="#fff" stroke="#111" stroke-width="0" stroke-linejoin="round"/>
<polygon points="261.40,615.80 315.40,562.20 315.40,655.50 261.40,709.10" fill="#fff" stroke="#111" stroke-width="0" stroke-linejoin="round"/>
<polygon points="262.50,508.20 356.40,507.90 409.80,561.90 315.40,562.20" fill="#fff" stroke="#111" stroke-width="0" stroke-linejoin="round"/>
<polygon points="315.40,562.20 409.80,561.90 409.80,655.30 315.40,655.50" fill="#fff" stroke="#111" stroke-width="0" stroke-linejoin="round"/>
<polygon points="315.40,655.50 409.80,655.30 356.40,709.20 261.40,709.10" fill="#fff" stroke="#111" stroke-width="0" stroke-linejoin="round"/>
<g transform="matrix(10.5800,10.8000,-10.9000,10.8000,262.500,508.200)"><circle cx="0.5" cy="0.5" r="0.255" fill="#6c98cf"/><circle cx="1.5" cy="0.5" r="0.240" fill="#739dd2"/><circle cx="2.5" cy="0.5" r="0.255" fill="#6c98cf"/><circle cx="3.5" cy="0.5" r="0.216" fill="#7ea5d6"/><circle cx="4.5" cy="0.5" r="0.180" fill="#8eb0db"/><circle cx="0.5" cy="1.5" r="0.225" fill="#7aa2d4"/><circle cx="1.5" cy="1.5" r="0.216" fill="#7ea5d6"/><circle cx="2.5" cy="1.5" r="0.216" fill="#7ea5d6"/><circle cx="3.5" cy="1.5" r="0.180" fill="#8eb0db"/><circle cx="4.5" cy="1.5" r="0.174" fill="#90b2dc"/><circle cx="0.5" cy="2.5" r="0.216" fill="#7ea5d6"/><circle cx="1.5" cy="2.5" r="0.216" fill="#7ea5d6"/><circle cx="2.5" cy="2.5" r="0.216" fill="#7ea5d6"/><circle cx="3.5" cy="2.5" r="0.174" fill="#90b2dc"/><circle cx="4.5" cy="2.5" r="0.165" fill="#94b5dd"/><circle cx="0.5" cy="3.5" r="0.216" fill="#7ea5d6"/><circle cx="1.5" cy="3.5" r="0.216" fill="#7ea5d6"/><circle cx="2.5" cy="3.5" r="0.216" fill="#7ea5d6"/><circle cx="3.5" cy="3.5" r="0.174" fill="#90b2dc"/><circle cx="4.5" cy="3.5" r="0.165" fill="#94b5dd"/><circle cx="0.5" cy="4.5" r="0.216" fill="#7ea5d6"/><circle cx="1.5" cy="4.5" r="0.204" fill="#83a9d7"/><circle cx="2.5" cy="4.5" r="0.216" fill="#7ea5d6"/><circle cx="3.5" cy="4.5" r="0.165" fill="#94b5dd"/><circle cx="4.5" cy="4.5" r="0.165" fill="#94b5dd"/></g>
<line x1="283.66" y1="529.80" x2="229.16" y2="583.80" stroke="#555" stroke-width="0.7"/>
<line x1="240.70" y1="529.80" x2="293.60" y2="583.80" stroke="#555" stroke-width="0.7"/>
<line x1="294.24" y1="540.60" x2="239.74" y2="594.60" stroke="#555" stroke-width="0.7"/>
<line x1="229.80" y1="540.60" x2="282.70" y2="594.60" stroke="#555" stroke-width="0.7"/>
<g transform="matrix(10.6800,10.7200,0.0000,13.3286,208.000,562.200)"><circle cx="0.5" cy="0.5" r="0.273" fill="#8bafda"/><circle cx="1.5" cy="0.5" r="0.273" fill="#8bafda"/><circle cx="2.5" cy="0.5" r="0.264" fill="#8eb0db"/><circle cx="3.5" cy="0.5" r="0.220" fill="#9bb9df"/><circle cx="4.5" cy="0.5" r="0.198" fill="#a1bee1"/><circle cx="0.5" cy="1.5" r="0.273" fill="#8bafda"/><circle cx="1.5" cy="1.5" r="0.273" fill="#8bafda"/><circle cx="2.5" cy="1.5" r="0.264" fill="#8eb0db"/><circle cx="3.5" cy="1.5" r="0.220" fill="#9bb9df"/><circle cx="4.5" cy="1.5" r="0.198" fill="#a1bee1"/><circle cx="0.5" cy="2.5" r="0.273" fill="#8bafda"/><circle cx="1.5" cy="2.5" r="0.273" fill="#8bafda"/><circle cx="2.5" cy="2.5" r="0.264" fill="#8eb0db"/><circle cx="3.5" cy="2.5" r="0.220" fill="#9bb9df"/><circle cx="4.5" cy="2.5" r="0.198" fill="#a1bee1"/><circle cx="0.5" cy="3.5" r="0.273" fill="#8bafda"/><circle cx="1.5" cy="3.5" r="0.273" fill="#8bafda"/><circle cx="2.5" cy="3.5" r="0.264" fill="#8eb0db"/><circle cx="3.5" cy="3.5" r="0.220" fill="#9bb9df"/><circle cx="4.5" cy="3.5" r="0.198" fill="#a1bee1"/><circle cx="0.5" cy="4.5" r="0.273" fill="#8bafda"/><circle cx="1.5" cy="4.5" r="0.273" fill="#8bafda"/><circle cx="2.5" cy="4.5" r="0.264" fill="#8eb0db"/><circle cx="3.5" cy="4.5" r="0.220" fill="#9bb9df"/><circle cx="4.5" cy="4.5" r="0.198" fill="#a1bee1"/><circle cx="0.5" cy="5.5" r="0.273" fill="#8bafda"/><circle cx="1.5" cy="5.5" r="0.273" fill="#8bafda"/><circle cx="2.5" cy="5.5" r="0.264" fill="#8eb0db"/><circle cx="3.5" cy="5.5" r="0.220" fill="#9bb9df"/><circle cx="4.5" cy="5.5" r="0.198" fill="#a1bee1"/><circle cx="0.5" cy="6.5" r="0.273" fill="#8bafda"/><circle cx="1.5" cy="6.5" r="0.273" fill="#8bafda"/><circle cx="2.5" cy="6.5" r="0.264" fill="#8eb0db"/><circle cx="3.5" cy="6.5" r="0.220" fill="#9bb9df"/><circle cx="4.5" cy="6.5" r="0.198" fill="#a1bee1"/></g>
<line x1="229.36" y1="583.64" x2="229.36" y2="676.94" stroke="#999" stroke-width="0.6" stroke-dasharray="1.5,0.8"/>
<line x1="240.04" y1="594.36" x2="240.04" y2="687.66" stroke="#999" stroke-width="0.6" stroke-dasharray="1.5,0.8"/>
<line x1="208.00" y1="575.53" x2="261.40" y2="629.13" stroke="#888" stroke-width="0.6"/>
<g transform="matrix(10.8000,-10.7200,0.0000,13.3286,261.400,615.800)"><circle cx="0.5" cy="0.5" r="0.244" fill="#90b2dc"/><circle cx="1.5" cy="0.5" r="0.244" fill="#90b2dc"/><circle cx="2.5" cy="0.5" r="0.244" fill="#90b2dc"/><circle cx="3.5" cy="0.5" r="0.260" fill="#8bafda"/><circle cx="4.5" cy="0.5" r="0.294" fill="#81a7d7"/><circle cx="0.5" cy="1.5" r="0.244" fill="#90b2dc"/><circle cx="1.5" cy="1.5" r="0.244" fill="#90b2dc"/><circle cx="2.5" cy="1.5" r="0.244" fill="#90b2dc"/><circle cx="3.5" cy="1.5" r="0.260" fill="#8bafda"/><circle cx="4.5" cy="1.5" r="0.294" fill="#81a7d7"/><circle cx="0.5" cy="2.5" r="0.244" fill="#90b2dc"/><circle cx="1.5" cy="2.5" r="0.244" fill="#90b2dc"/><circle cx="2.5" cy="2.5" r="0.244" fill="#90b2dc"/><circle cx="3.5" cy="2.5" r="0.260" fill="#8bafda"/><circle cx="4.5" cy="2.5" r="0.294" fill="#81a7d7"/><circle cx="0.5" cy="3.5" r="0.244" fill="#90b2dc"/><circle cx="1.5" cy="3.5" r="0.244" fill="#90b2dc"/><circle cx="2.5" cy="3.5" r="0.244" fill="#90b2dc"/><circle cx="3.5" cy="3.5" r="0.260" fill="#8bafda"/><circle cx="4.5" cy="3.5" r="0.294" fill="#81a7d7"/><circle cx="0.5" cy="4.5" r="0.244" fill="#90b2dc"/><circle cx="1.5" cy="4.5" r="0.244" fill="#90b2dc"/><circle cx="2.5" cy="4.5" r="0.244" fill="#90b2dc"/><circle cx="3.5" cy="4.5" r="0.260" fill="#8bafda"/><circle cx="4.5" cy="4.5" r="0.294" fill="#81a7d7"/><circle cx="0.5" cy="5.5" r="0.244" fill="#90b2dc"/><circle cx="1.5" cy="5.5" r="0.244" fill="#90b2dc"/><circle cx="2.5" cy="5.5" r="0.244" fill="#90b2dc"/><circle cx="3.5" cy="5.5" r="0.260" fill="#8bafda"/><circle cx="4.5" cy="5.5" r="0.294" fill="#81a7d7"/><circle cx="0.5" cy="6.5" r="0.244" fill="#90b2dc"/><circle cx="1.5" cy="6.5" r="0.244" fill="#90b2dc"/><circle cx="2.5" cy="6.5" r="0.244" fill="#90b2dc"/><circle cx="3.5" cy="6.5" r="0.260" fill="#8bafda"/><circle cx="4.5" cy="6.5" r="0.294" fill="#81a7d7"/></g>
<line x1="283.00" y1="594.36" x2="283.00" y2="687.66" stroke="#999" stroke-width="0.6" stroke-dasharray="1.5,0.8"/>
<line x1="293.80" y1="583.64" x2="293.80" y2="676.94" stroke="#999" stroke-width="0.6" stroke-dasharray="1.5,0.8"/>
<line x1="261.40" y1="629.13" x2="315.40" y2="575.53" stroke="#888" stroke-width="0.6"/>
<g transform="matrix(13.4143,-0.0429,10.5800,10.8000,262.500,508.200)"><circle cx="0.5" cy="0.5" r="0.288" fill="#739dd2"/><circle cx="1.5" cy="0.5" r="0.162" fill="#a1bee1"/><circle cx="2.5" cy="0.5" r="0.144" fill="#a7c2e3"/><circle cx="3.5" cy="0.5" r="0.162" fill="#a1bee1"/><circle cx="4.5" cy="0.5" r="0.180" fill="#9bb9df"/><circle cx="5.5" cy="0.5" r="0.234" fill="#87acd9"/><circle cx="6.5" cy="0.5" r="0.216" fill="#8eb0db"/><circle cx="0.5" cy="1.5" r="0.288" fill="#739dd2"/><circle cx="1.5" cy="1.5" r="0.162" fill="#a1bee1"/><circle cx="2.5" cy="1.5" r="0.144" fill="#a7c2e3"/><circle cx="3.5" cy="1.5" r="0.162" fill="#a1bee1"/><circle cx="4.5" cy="1.5" r="0.180" fill="#9bb9df"/><circle cx="5.5" cy="1.5" r="0.216" fill="#8eb0db"/><circle cx="6.5" cy="1.5" r="0.198" fill="#94b5dd"/><circle cx="0.5" cy="2.5" r="0.270" fill="#7aa2d4"/><circle cx="1.5" cy="2.5" r="0.144" fill="#a7c2e3"/><circle cx="2.5" cy="2.5" r="0.144" fill="#a7c2e3"/><circle cx="3.5" cy="2.5" r="0.144" fill="#a7c2e3"/><circle cx="4.5" cy="2.5" r="0.162" fill="#a1bee1"/><circle cx="5.5" cy="2.5" r="0.162" fill="#a1bee1"/><circle cx="6.5" cy="2.5" r="0.162" fill="#a1bee1"/><circle cx="0.5" cy="3.5" r="0.270" fill="#7aa2d4"/><circle cx="1.5" cy="3.5" r="0.144" fill="#a7c2e3"/><circle cx="2.5" cy="3.5" r="0.144" fill="#a7c2e3"/><circle cx="3.5" cy="3.5" r="0.144" fill="#a7c2e3"/><circle cx="4.5" cy="3.5" r="0.162" fill="#a1bee1"/><circle cx="5.5" cy="3.5" r="0.162" fill="#a1bee1"/><circle cx="6.5" cy="3.5" r="0.162" fill="#a1bee1"/><circle cx="0.5" cy="4.5" r="0.270" fill="#7aa2d4"/><circle cx="1.5" cy="4.5" r="0.162" fill="#a1bee1"/><circle cx="2.5" cy="4.5" r="0.162" fill="#a1bee1"/><circle cx="3.5" cy="4.5" r="0.180" fill="#9bb9df"/><circle cx="4.5" cy="4.5" r="0.180" fill="#9bb9df"/><circle cx="5.5" cy="4.5" r="0.180" fill="#9bb9df"/><circle cx="6.5" cy="4.5" r="0.180" fill="#9bb9df"/></g>
<line x1="283.66" y1="529.80" x2="377.56" y2="529.50" stroke="#999" stroke-width="0.6" stroke-dasharray="1.5,0.8"/>
<line x1="294.24" y1="540.60" x2="388.14" y2="540.30" stroke="#999" stroke-width="0.6" stroke-dasharray="1.5,0.8"/>
<line x1="275.91" y1="508.16" x2="328.81" y2="562.16" stroke="#888" stroke-width="0.6"/>
<g transform="matrix(13.4857,0.0000,0.0000,13.3286,315.400,562.200)"><circle cx="0.5" cy="0.5" r="0.240" fill="#8eb0db"/><circle cx="1.5" cy="0.5" r="0.152" fill="#a9c4e4"/><circle cx="2.5" cy="0.5" r="0.152" fill="#a9c4e4"/><circle cx="3.5" cy="0.5" r="0.152" fill="#a9c4e4"/><circle cx="4.5" cy="0.5" r="0.152" fill="#a9c4e4"/><circle cx="5.5" cy="0.5" r="0.152" fill="#a9c4e4"/><circle cx="6.5" cy="0.5" r="0.152" fill="#a9c4e4"/><circle cx="0.5" cy="1.5" r="0.240" fill="#8eb0db"/><circle cx="1.5" cy="1.5" r="0.152" fill="#a9c4e4"/><circle cx="2.5" cy="1.5" r="0.152" fill="#a9c4e4"/><circle cx="3.5" cy="1.5" r="0.152" fill="#a9c4e4"/><circle cx="4.5" cy="1.5" r="0.152" fill="#a9c4e4"/><circle cx="5.5" cy="1.5" r="0.152" fill="#a9c4e4"/><circle cx="6.5" cy="1.5" r="0.152" fill="#a9c4e4"/><circle cx="0.5" cy="2.5" r="0.240" fill="#8eb0db"/><circle cx="1.5" cy="2.5" r="0.152" fill="#a9c4e4"/><circle cx="2.5" cy="2.5" r="0.152" fill="#a9c4e4"/><circle cx="3.5" cy="2.5" r="0.152" fill="#a9c4e4"/><circle cx="4.5" cy="2.5" r="0.152" fill="#a9c4e4"/><circle cx="5.5" cy="2.5" r="0.152" fill="#a9c4e4"/><circle cx="6.5" cy="2.5" r="0.152" fill="#a9c4e4"/><circle cx="0.5" cy="3.5" r="0.240" fill="#8eb0db"/><circle cx="1.5" cy="3.5" r="0.152" fill="#a9c4e4"/><circle cx="2.5" cy="3.5" r="0.152" fill="#a9c4e4"/><circle cx="3.5" cy="3.5" r="0.152" fill="#a9c4e4"/><circle cx="4.5" cy="3.5" r="0.152" fill="#a9c4e4"/><circle cx="5.5" cy="3.5" r="0.152" fill="#a9c4e4"/><circle cx="6.5" cy="3.5" r="0.152" fill="#a9c4e4"/><circle cx="0.5" cy="4.5" r="0.240" fill="#8eb0db"/><circle cx="1.5" cy="4.5" r="0.152" fill="#a9c4e4"/><circle cx="2.5" cy="4.5" r="0.152" fill="#a9c4e4"/><circle cx="3.5" cy="4.5" r="0.152" fill="#a9c4e4"/><circle cx="4.5" cy="4.5" r="0.152" fill="#a9c4e4"/><circle cx="5.5" cy="4.5" r="0.152" fill="#a9c4e4"/><circle cx="6.5" cy="4.5" r="0.152" fill="#a9c4e4"/><circle cx="0.5" cy="5.5" r="0.240" fill="#8eb0db"/><circle cx="1.5" cy="5.5" r="0.152" fill="#a9c4e4"/><circle cx="2.5" cy="5.5" r="0.152" fill="#a9c4e4"/><circle cx="3.5" cy="5.5" r="0.152" fill="#a9c4e4"/><circle cx="4.5" cy="5.5" r="0.152" fill="#a9c4e4"/><circle cx="5.5" cy="5.5" r="0.152" fill="#a9c4e4"/><circle cx="6.5" cy="5.5" r="0.152" fill="#a9c4e4"/><circle cx="0.5" cy="6.5" r="0.240" fill="#8eb0db"/><circle cx="1.5" cy="6.5" r="0.152" fill="#a9c4e4"/><circle cx="2.5" cy="6.5" r="0.152" fill="#a9c4e4"/><circle cx="3.5" cy="6.5" r="0.152" fill="#a9c4e4"/><circle cx="4.5" cy="6.5" r="0.152" fill="#a9c4e4"/><circle cx="5.5" cy="6.5" r="0.152" fill="#a9c4e4"/><circle cx="6.5" cy="6.5" r="0.152" fill="#a9c4e4"/></g>
<line x1="317.83" y1="562.20" x2="317.83" y2="655.50" stroke="#aaa" stroke-width="0.5" stroke-dasharray="1.5,0.8"/>
<line x1="328.89" y1="562.20" x2="328.89" y2="655.50" stroke="#999" stroke-width="0.6" stroke-dasharray="1.5,0.8"/>
<line x1="315.40" y1="564.87" x2="409.80" y2="564.57" stroke="#aaa" stroke-width="0.5" stroke-dasharray="1.5,0.8"/>
<line x1="315.40" y1="575.53" x2="409.80" y2="575.23" stroke="#999" stroke-width="0.6" stroke-dasharray="1.5,0.8"/>
<g transform="matrix(13.4857,0.0000,-10.8000,10.7200,315.400,655.500)"><circle cx="0.5" cy="0.5" r="0.306" fill="#6c98cf"/><circle cx="1.5" cy="0.5" r="0.180" fill="#9bb9df"/><circle cx="2.5" cy="0.5" r="0.162" fill="#a1bee1"/><circle cx="3.5" cy="0.5" r="0.162" fill="#a1bee1"/><circle cx="4.5" cy="0.5" r="0.180" fill="#9bb9df"/><circle cx="5.5" cy="0.5" r="0.180" fill="#9bb9df"/><circle cx="6.5" cy="0.5" r="0.180" fill="#9bb9df"/><circle cx="0.5" cy="1.5" r="0.288" fill="#739dd2"/><circle cx="1.5" cy="1.5" r="0.162" fill="#a1bee1"/><circle cx="2.5" cy="1.5" r="0.144" fill="#a7c2e3"/><circle cx="3.5" cy="1.5" r="0.144" fill="#a7c2e3"/><circle cx="4.5" cy="1.5" r="0.162" fill="#a1bee1"/><circle cx="5.5" cy="1.5" r="0.162" fill="#a1bee1"/><circle cx="6.5" cy="1.5" r="0.162" fill="#a1bee1"/><circle cx="0.5" cy="2.5" r="0.288" fill="#739dd2"/><circle cx="1.5" cy="2.5" r="0.144" fill="#a7c2e3"/><circle cx="2.5" cy="2.5" r="0.144" fill="#a7c2e3"/><circle cx="3.5" cy="2.5" r="0.144" fill="#a7c2e3"/><circle cx="4.5" cy="2.5" r="0.162" fill="#a1bee1"/><circle cx="5.5" cy="2.5" r="0.162" fill="#a1bee1"/><circle cx="6.5" cy="2.5" r="0.162" fill="#a1bee1"/><circle cx="0.5" cy="3.5" r="0.288" fill="#739dd2"/><circle cx="1.5" cy="3.5" r="0.162" fill="#a1bee1"/><circle cx="2.5" cy="3.5" r="0.162" fill="#a1bee1"/><circle cx="3.5" cy="3.5" r="0.162" fill="#a1bee1"/><circle cx="4.5" cy="3.5" r="0.180" fill="#9bb9df"/><circle cx="5.5" cy="3.5" r="0.180" fill="#9bb9df"/><circle cx="6.5" cy="3.5" r="0.180" fill="#9bb9df"/><circle cx="0.5" cy="4.5" r="0.288" fill="#739dd2"/><circle cx="1.5" cy="4.5" r="0.180" fill="#9bb9df"/><circle cx="2.5" cy="4.5" r="0.180" fill="#9bb9df"/><circle cx="3.5" cy="4.5" r="0.180" fill="#9bb9df"/><circle cx="4.5" cy="4.5" r="0.216" fill="#8eb0db"/><circle cx="5.5" cy="4.5" r="0.198" fill="#94b5dd"/><circle cx="6.5" cy="4.5" r="0.198" fill="#94b5dd"/></g>
<line x1="293.80" y1="676.94" x2="388.20" y2="676.94" stroke="#999" stroke-width="0.6" stroke-dasharray="1.5,0.8"/>
<line x1="283.00" y1="687.66" x2="377.40" y2="687.66" stroke="#999" stroke-width="0.6" stroke-dasharray="1.5,0.8"/>
<line x1="328.89" y1="655.50" x2="274.89" y2="709.10" stroke="#888" stroke-width="0.6"/>
<polygon points="262.50,508.20 356.40,507.90 409.80,561.90 409.80,655.30 356.40,709.20 261.40,709.10 208.00,655.50 208.00,562.20" fill="none" stroke="#111" stroke-width="1.3" stroke-linejoin="round"/>
<line x1="208.00" y1="562.20" x2="261.40" y2="615.80" stroke="#111" stroke-width="1.3"/>
<line x1="261.40" y1="615.80" x2="315.40" y2="562.20" stroke="#111" stroke-width="1.3"/>
<line x1="261.40" y1="615.80" x2="261.40" y2="709.10" stroke="#111" stroke-width="1.3"/>
<line x1="262.50" y1="508.20" x2="315.40" y2="562.20" stroke="#111" stroke-width="1.0"/>
<line x1="315.40" y1="562.20" x2="409.80" y2="561.90" stroke="#111" stroke-width="1.0"/>
<line x1="315.40" y1="562.20" x2="315.40" y2="655.50" stroke="#111" stroke-width="1.3"/>
<line x1="315.40" y1="655.50" x2="409.80" y2="655.30" stroke="#111" stroke-width="1.0"/>
<line x1="315.40" y1="655.50" x2="261.40" y2="709.10" stroke="#111" stroke-width="1.0"/>
<line x1="257.05" y1="513.60" x2="255.55" y2="512.10" stroke="#111" stroke-width="0.8"/>
<text x="254.9" y="511.6" font-size="6.0" text-anchor="end" fill="#111" transform="rotate(40.0 254.9 511.6)">NoBC</text>
<line x1="246.15" y1="524.40" x2="244.65" y2="522.90" stroke="#111" stroke-width="0.8"/>
<text x="244.0" y="522.4" font-size="6.0" text-anchor="end" fill="#111" transform="rotate(40.0 244.0 522.4)">limma</text>
<line x1="235.25" y1="535.20" x2="233.75" y2="533.70" stroke="#111" stroke-width="0.8"/>
<text x="233.1" y="533.2" font-size="6.0" text-anchor="end" fill="#111" transform="rotate(40.0 233.1 533.2)">Combat-P</text>
<line x1="224.35" y1="546.00" x2="222.85" y2="544.50" stroke="#111" stroke-width="0.8"/>
<text x="222.2" y="544.0" font-size="6.0" text-anchor="end" fill="#111" transform="rotate(40.0 222.2 544.0)">Combat-NP</text>
<line x1="213.45" y1="556.80" x2="211.95" y2="555.30" stroke="#111" stroke-width="0.8"/>
<text x="211.2" y="554.8" font-size="6.0" text-anchor="end" fill="#111" transform="rotate(40.0 211.2 554.8)">Scanorama</text>
<line x1="208.00" y1="568.86" x2="206.00" y2="568.86" stroke="#111" stroke-width="0.8"/>
<text x="205.2" y="570.1" font-size="5.8" text-anchor="end" fill="#111" transform="rotate(42.0 205.2 570.1)">SoftImpute</text>
<line x1="208.00" y1="582.19" x2="206.00" y2="582.19" stroke="#111" stroke-width="0.8"/>
<text x="205.2" y="583.4" font-size="5.8" text-anchor="end" fill="#111" transform="rotate(42.0 205.2 583.4)">IterativeSVD</text>
<line x1="208.00" y1="595.52" x2="206.00" y2="595.52" stroke="#111" stroke-width="0.8"/>
<text x="205.2" y="596.7" font-size="5.8" text-anchor="end" fill="#111" transform="rotate(42.0 205.2 596.7)">KNN</text>
<line x1="208.00" y1="608.85" x2="206.00" y2="608.85" stroke="#111" stroke-width="0.8"/>
<text x="205.2" y="610.1" font-size="5.8" text-anchor="end" fill="#111" transform="rotate(42.0 205.2 610.1)">RowMedian</text>
<line x1="208.00" y1="622.18" x2="206.00" y2="622.18" stroke="#111" stroke-width="0.8"/>
<text x="205.2" y="623.4" font-size="5.8" text-anchor="end" fill="#111" transform="rotate(42.0 205.2 623.4)">RowMean</text>
<line x1="208.00" y1="635.51" x2="206.00" y2="635.51" stroke="#111" stroke-width="0.8"/>
<text x="205.2" y="636.7" font-size="5.8" text-anchor="end" fill="#111" transform="rotate(42.0 205.2 636.7)">HalfRowMin</text>
<line x1="208.00" y1="648.84" x2="206.00" y2="648.84" stroke="#111" stroke-width="0.8"/>
<text x="205.2" y="650.0" font-size="5.8" text-anchor="end" fill="#111" transform="rotate(42.0 205.2 650.0)">Zero</text>
<line x1="213.34" y1="660.86" x2="211.84" y2="662.36" stroke="#111" stroke-width="0.8"/>
<text x="210.8" y="662.9" font-size="5.8" text-anchor="end" fill="#111" transform="rotate(-85.0 210.8 662.9)">Unnormalized</text>
<line x1="224.02" y1="671.58" x2="222.52" y2="673.08" stroke="#111" stroke-width="0.8"/>
<text x="221.5" y="673.6" font-size="5.8" text-anchor="end" fill="#111" transform="rotate(-85.0 221.5 673.6)">Median</text>
<line x1="234.70" y1="682.30" x2="233.20" y2="683.80" stroke="#111" stroke-width="0.8"/>
<text x="232.2" y="684.3" font-size="5.8" text-anchor="end" fill="#111" transform="rotate(-85.0 232.2 684.3)">Sum</text>
<line x1="245.38" y1="693.02" x2="243.88" y2="694.52" stroke="#111" stroke-width="0.8"/>
<text x="242.9" y="695.0" font-size="5.8" text-anchor="end" fill="#111" transform="rotate(-85.0 242.9 695.0)">QN</text>
<line x1="256.06" y1="703.74" x2="254.56" y2="705.24" stroke="#111" stroke-width="0.8"/>
<text x="253.6" y="705.7" font-size="5.8" text-anchor="end" fill="#111" transform="rotate(-85.0 253.6 705.7)">TRQN</text>
<line x1="269.21" y1="508.18" x2="269.21" y2="506.18" stroke="#111" stroke-width="0.8"/>
<text x="270.8" y="505.7" font-size="5.0" text-anchor="start" fill="#111" transform="rotate(-80.0 270.8 505.7)">DESeq2</text>
<line x1="268.11" y1="709.08" x2="268.11" y2="711.08" stroke="#111" stroke-width="0.8"/>
<text x="266.5" y="711.6" font-size="5.0" text-anchor="start" fill="#111" transform="rotate(80.0 266.5 711.6)">DESeq2</text>
<line x1="282.62" y1="508.14" x2="282.62" y2="506.14" stroke="#111" stroke-width="0.8"/>
<text x="284.2" y="505.6" font-size="5.0" text-anchor="start" fill="#111" transform="rotate(-80.0 284.2 505.6)">edgeR-LRT</text>
<line x1="281.52" y1="709.04" x2="281.52" y2="711.04" stroke="#111" stroke-width="0.8"/>
<text x="279.9" y="711.5" font-size="5.0" text-anchor="start" fill="#111" transform="rotate(80.0 279.9 711.5)">edgeR-LRT</text>
<line x1="296.04" y1="508.09" x2="296.04" y2="506.09" stroke="#111" stroke-width="0.8"/>
<text x="297.6" y="505.6" font-size="5.0" text-anchor="start" fill="#111" transform="rotate(-80.0 297.6 505.6)">edgeR-QLF</text>
<line x1="294.94" y1="708.99" x2="294.94" y2="710.99" stroke="#111" stroke-width="0.8"/>
<text x="293.3" y="711.5" font-size="5.0" text-anchor="start" fill="#111" transform="rotate(80.0 293.3 711.5)">edgeR-QLF</text>
<line x1="309.45" y1="508.05" x2="309.45" y2="506.05" stroke="#111" stroke-width="0.8"/>
<text x="311.1" y="505.5" font-size="5.0" text-anchor="start" fill="#111" transform="rotate(-80.0 311.1 505.5)">limma-voom</text>
<line x1="308.35" y1="708.95" x2="308.35" y2="710.95" stroke="#111" stroke-width="0.8"/>
<text x="306.7" y="711.4" font-size="5.0" text-anchor="start" fill="#111" transform="rotate(80.0 306.7 711.4)">limma-voom</text>
<line x1="322.86" y1="508.01" x2="322.86" y2="506.01" stroke="#111" stroke-width="0.8"/>
<text x="324.5" y="505.5" font-size="5.0" text-anchor="start" fill="#111" transform="rotate(-80.0 324.5 505.5)">limma-trend</text>
<line x1="321.76" y1="708.91" x2="321.76" y2="710.91" stroke="#111" stroke-width="0.8"/>
<text x="320.2" y="711.4" font-size="5.0" text-anchor="start" fill="#111" transform="rotate(80.0 320.2 711.4)">limma-trend</text>
<line x1="336.28" y1="507.96" x2="336.28" y2="505.96" stroke="#111" stroke-width="0.8"/>
<text x="337.9" y="505.5" font-size="5.0" text-anchor="start" fill="#111" transform="rotate(-80.0 337.9 505.5)">Wilcox</text>
<line x1="335.18" y1="708.86" x2="335.18" y2="710.86" stroke="#111" stroke-width="0.8"/>
<text x="333.6" y="711.4" font-size="5.0" text-anchor="start" fill="#111" transform="rotate(80.0 333.6 711.4)">Wilcox</text>
<line x1="349.69" y1="507.92" x2="349.69" y2="505.92" stroke="#111" stroke-width="0.8"/>
<text x="351.3" y="505.4" font-size="5.0" text-anchor="start" fill="#111" transform="rotate(-80.0 351.3 505.4)">t-test</text>
<line x1="348.59" y1="708.82" x2="348.59" y2="710.82" stroke="#111" stroke-width="0.8"/>
<text x="347.0" y="711.3" font-size="5.0" text-anchor="start" fill="#111" transform="rotate(80.0 347.0 711.3)">t-test</text>
<line x1="361.69" y1="513.30" x2="363.49" y2="513.30" stroke="#111" stroke-width="0.8"/>
<text x="364.5" y="515.3" font-size="6.0" text-anchor="start" font-weight="normal" fill="#111" >Unnormalized</text>
<line x1="372.27" y1="524.10" x2="374.07" y2="524.10" stroke="#111" stroke-width="0.8"/>
<text x="375.1" y="526.1" font-size="6.0" text-anchor="start" font-weight="normal" fill="#111" >Median</text>
<line x1="382.85" y1="534.90" x2="384.65" y2="534.90" stroke="#111" stroke-width="0.8"/>
<text x="385.6" y="536.9" font-size="6.0" text-anchor="start" font-weight="normal" fill="#111" >Sum</text>
<line x1="393.43" y1="545.70" x2="395.23" y2="545.70" stroke="#111" stroke-width="0.8"/>
<text x="396.2" y="547.7" font-size="6.0" text-anchor="start" font-weight="normal" fill="#111" >QN</text>
<line x1="404.01" y1="556.50" x2="405.81" y2="556.50" stroke="#111" stroke-width="0.8"/>
<text x="406.8" y="558.5" font-size="6.0" text-anchor="start" font-weight="normal" fill="#111" >TRQN</text>
<line x1="409.80" y1="568.56" x2="411.80" y2="568.56" stroke="#111" stroke-width="0.8"/>
<text x="413.3" y="570.8" font-size="6.2" text-anchor="start" font-weight="normal" fill="#222" >SoftImpute</text>
<line x1="409.80" y1="581.89" x2="411.80" y2="581.89" stroke="#111" stroke-width="0.8"/>
<text x="413.3" y="584.1" font-size="6.2" text-anchor="start" font-weight="normal" fill="#222" >IterativeSVD</text>
<line x1="409.80" y1="595.22" x2="411.80" y2="595.22" stroke="#111" stroke-width="0.8"/>
<text x="413.3" y="597.4" font-size="6.2" text-anchor="start" font-weight="normal" fill="#222" >KNN</text>
<line x1="409.80" y1="608.55" x2="411.80" y2="608.55" stroke="#111" stroke-width="0.8"/>
<text x="413.3" y="610.8" font-size="6.2" text-anchor="start" font-weight="normal" fill="#222" >RowMedian</text>
<line x1="409.80" y1="621.88" x2="411.80" y2="621.88" stroke="#111" stroke-width="0.8"/>
<text x="413.3" y="624.1" font-size="6.2" text-anchor="start" font-weight="normal" fill="#222" >RowMean</text>
<line x1="409.80" y1="635.21" x2="411.80" y2="635.21" stroke="#111" stroke-width="0.8"/>
<text x="413.3" y="637.4" font-size="6.2" text-anchor="start" font-weight="normal" fill="#222" >HalfRowMin</text>
<line x1="409.80" y1="648.54" x2="411.80" y2="648.54" stroke="#111" stroke-width="0.8"/>
<text x="413.3" y="650.7" font-size="6.2" text-anchor="start" font-weight="normal" fill="#222" >Zero</text>
<line x1="404.40" y1="660.66" x2="406.20" y2="660.66" stroke="#111" stroke-width="0.8"/>
<text x="407.2" y="662.7" font-size="6.0" text-anchor="start" font-weight="normal" fill="#111" >NoBC</text>
<line x1="393.60" y1="671.38" x2="395.40" y2="671.38" stroke="#111" stroke-width="0.8"/>
<text x="396.4" y="673.4" font-size="6.0" text-anchor="start" font-weight="normal" fill="#111" >limma</text>
<line x1="382.80" y1="682.10" x2="384.60" y2="682.10" stroke="#111" stroke-width="0.8"/>
<text x="385.6" y="684.1" font-size="6.0" text-anchor="start" font-weight="normal" fill="#111" >Combat-P</text>
<line x1="372.00" y1="692.82" x2="373.80" y2="692.82" stroke="#111" stroke-width="0.8"/>
<text x="374.8" y="694.8" font-size="6.0" text-anchor="start" font-weight="normal" fill="#111" >Combat-NP</text>
<line x1="361.20" y1="703.54" x2="363.00" y2="703.54" stroke="#111" stroke-width="0.8"/>
<text x="364.0" y="705.5" font-size="6.0" text-anchor="start" font-weight="normal" fill="#111" >Scanorama</text>
<text x="203.3" y="712.6" font-size="7.6" text-anchor="start" font-weight="normal" fill="#222" >Normalization</text>
<text x="364.7" y="714.0" font-size="7.7" text-anchor="start" font-weight="normal" fill="#222" >Batch Correction</text>
<text x="327.0" y="732.3" font-size="7.6" text-anchor="start" font-weight="normal" fill="#222" >Statistical Test</text><text x="452.3" y="495.6" font-size="16" text-anchor="start" font-weight="bold" fill="#000" >f</text>
<text x="572.2" y="491.6" font-size="7.6" text-anchor="middle" font-weight="normal" fill="#222" >Imputation: SoftImpute</text>
<rect x="480.6" y="502.8" width="36.6" height="9" fill="#d9d9d9"/>
<text x="498.9" y="509.4" font-size="5.6" text-anchor="middle" font-weight="normal" fill="#333" >Unnormalized</text>
<rect x="518.8" y="502.8" width="36.6" height="9" fill="#d9d9d9"/>
<text x="537.1" y="509.4" font-size="5.6" text-anchor="middle" font-weight="normal" fill="#333" >Median</text>
<rect x="557.0" y="502.8" width="36.4" height="9" fill="#d9d9d9"/>
<text x="575.2" y="509.4" font-size="5.6" text-anchor="middle" font-weight="normal" fill="#333" >Sum</text>
<rect x="595.2" y="502.8" width="36.6" height="9" fill="#d9d9d9"/>
<text x="613.5" y="509.4" font-size="5.6" text-anchor="middle" font-weight="normal" fill="#333" >QN</text>
<rect x="633.4" y="502.8" width="36.6" height="9" fill="#d9d9d9"/>
<text x="651.7" y="509.4" font-size="5.6" text-anchor="middle" font-weight="normal" fill="#333" >TRQN</text>
<rect x="481.20" y="533.08" width="4.56" height="19.51" fill="#3d7cc9"/>
<rect x="486.26" y="533.08" width="4.56" height="19.51" fill="#5892d4"/>
<rect x="491.31" y="533.08" width="4.56" height="19.51" fill="#3d7cc9"/>
<rect x="496.37" y="533.08" width="4.56" height="19.51" fill="#5892d4"/>
<rect x="501.43" y="533.08" width="4.56" height="19.51" fill="#3d7cc9"/>
<rect x="506.49" y="533.08" width="4.56" height="19.51" fill="#5892d4"/>
<rect x="511.54" y="530.91" width="4.56" height="21.67" fill="#3d7cc9"/>
<polyline points="483.5,522.2 488.5,522.2 493.6,522.2 498.6,522.2 503.7,522.2 508.8,522.2 513.8,521.9" fill="none" stroke="#111" stroke-width="0.8"/>
<circle cx="483.5" cy="522.2" r="0.95" fill="#111"/>
<circle cx="488.5" cy="522.2" r="0.95" fill="#111"/>
<circle cx="493.6" cy="522.2" r="0.95" fill="#111"/>
<circle cx="498.6" cy="522.2" r="0.95" fill="#111"/>
<circle cx="503.7" cy="522.2" r="0.95" fill="#111"/>
<circle cx="508.8" cy="522.2" r="0.95" fill="#111"/>
<circle cx="513.8" cy="521.9" r="0.95" fill="#111"/>
<polyline points="483.5,528.7 488.5,528.7 493.6,528.7 498.6,528.7 503.7,528.7 508.8,528.7 513.8,528.0" fill="none" stroke="#111" stroke-width="0.8"/>
<circle cx="483.5" cy="528.7" r="0.95" fill="#111"/>
<circle cx="488.5" cy="528.7" r="0.95" fill="#111"/>
<circle cx="493.6" cy="528.7" r="0.95" fill="#111"/>
<circle cx="498.6" cy="528.7" r="0.95" fill="#111"/>
<circle cx="503.7" cy="528.7" r="0.95" fill="#111"/>
<circle cx="508.8" cy="528.7" r="0.95" fill="#111"/>
<circle cx="513.8" cy="528.0" r="0.95" fill="#111"/>
<polyline points="483.5,541.8 488.5,541.8 493.6,541.8 498.6,541.8 503.7,541.8 508.8,541.8 513.8,538.1" fill="none" stroke="#111" stroke-width="0.8"/>
<circle cx="483.5" cy="541.8" r="0.95" fill="#111"/>
<circle cx="488.5" cy="541.8" r="0.95" fill="#111"/>
<circle cx="493.6" cy="541.8" r="0.95" fill="#111"/>
<circle cx="498.6" cy="541.8" r="0.95" fill="#111"/>
<circle cx="503.7" cy="541.8" r="0.95" fill="#111"/>
<circle cx="508.8" cy="541.8" r="0.95" fill="#111"/>
<circle cx="513.8" cy="538.1" r="0.95" fill="#111"/>
<line x1="480.6" y1="552.6" x2="517.2" y2="552.6" stroke="#111" stroke-width="1.2"/>
<rect x="519.40" y="533.08" width="4.56" height="19.51" fill="#3d7cc9"/>
<rect x="524.46" y="533.08" width="4.56" height="19.51" fill="#5892d4"/>
<rect x="529.51" y="533.08" width="4.56" height="19.51" fill="#3d7cc9"/>
<rect x="534.57" y="533.08" width="4.56" height="19.51" fill="#5892d4"/>
<rect x="539.63" y="533.08" width="4.56" height="19.51" fill="#3d7cc9"/>
<rect x="544.69" y="533.08" width="4.56" height="19.51" fill="#5892d4"/>
<rect x="549.74" y="530.91" width="4.56" height="21.67" fill="#3d7cc9"/>
<polyline points="521.7,522.2 526.7,522.2 531.8,522.2 536.8,522.2 541.9,522.2 547.0,522.2 552.0,521.9" fill="none" stroke="#111" stroke-width="0.8"/>
<circle cx="521.7" cy="522.2" r="0.95" fill="#111"/>
<circle cx="526.7" cy="522.2" r="0.95" fill="#111"/>
<circle cx="531.8" cy="522.2" r="0.95" fill="#111"/>
<circle cx="536.8" cy="522.2" r="0.95" fill="#111"/>
<circle cx="541.9" cy="522.2" r="0.95" fill="#111"/>
<circle cx="547.0" cy="522.2" r="0.95" fill="#111"/>
<circle cx="552.0" cy="521.9" r="0.95" fill="#111"/>
<polyline points="521.7,528.7 526.7,528.7 531.8,528.7 536.8,528.7 541.9,528.7 547.0,528.7 552.0,528.0" fill="none" stroke="#111" stroke-width="0.8"/>
<circle cx="521.7" cy="528.7" r="0.95" fill="#111"/>
<circle cx="526.7" cy="528.7" r="0.95" fill="#111"/>
<circle cx="531.8" cy="528.7" r="0.95" fill="#111"/>
<circle cx="536.8" cy="528.7" r="0.95" fill="#111"/>
<circle cx="541.9" cy="528.7" r="0.95" fill="#111"/>
<circle cx="547.0" cy="528.7" r="0.95" fill="#111"/>
<circle cx="552.0" cy="528.0" r="0.95" fill="#111"/>
<polyline points="521.7,541.8 526.7,541.8 531.8,541.8 536.8,541.8 541.9,541.8 547.0,541.8 552.0,538.1" fill="none" stroke="#111" stroke-width="0.8"/>
<circle cx="521.7" cy="541.8" r="0.95" fill="#111"/>
<circle cx="526.7" cy="541.8" r="0.95" fill="#111"/>
<circle cx="531.8" cy="541.8" r="0.95" fill="#111"/>
<circle cx="536.8" cy="541.8" r="0.95" fill="#111"/>
<circle cx="541.9" cy="541.8" r="0.95" fill="#111"/>
<circle cx="547.0" cy="541.8" r="0.95" fill="#111"/>
<circle cx="552.0" cy="538.1" r="0.95" fill="#111"/>
<line x1="518.8" y1="552.6" x2="555.4" y2="552.6" stroke="#111" stroke-width="1.2"/>
<rect x="557.60" y="533.08" width="4.53" height="19.51" fill="#3d7cc9"/>
<rect x="562.63" y="533.08" width="4.53" height="19.51" fill="#5892d4"/>
<rect x="567.66" y="533.08" width="4.53" height="19.51" fill="#3d7cc9"/>
<rect x="572.69" y="535.97" width="4.53" height="16.62" fill="#5892d4"/>
<rect x="577.71" y="535.97" width="4.53" height="16.62" fill="#3d7cc9"/>
<rect x="582.74" y="535.97" width="4.53" height="16.62" fill="#5892d4"/>
<rect x="587.77" y="531.64" width="4.53" height="20.95" fill="#3d7cc9"/>
<polyline points="559.9,522.2 564.9,522.2 569.9,522.2 575.0,523.3 580.0,523.7 585.0,523.3 590.0,521.5" fill="none" stroke="#111" stroke-width="0.8"/>
<circle cx="559.9" cy="522.2" r="0.95" fill="#111"/>
<circle cx="564.9" cy="522.2" r="0.95" fill="#111"/>
<circle cx="569.9" cy="522.2" r="0.95" fill="#111"/>
<circle cx="575.0" cy="523.3" r="0.95" fill="#111"/>
<circle cx="580.0" cy="523.7" r="0.95" fill="#111"/>
<circle cx="585.0" cy="523.3" r="0.95" fill="#111"/>
<circle cx="590.0" cy="521.5" r="0.95" fill="#111"/>
<polyline points="559.9,528.7 564.9,528.7 569.9,528.7 575.0,530.6 580.0,530.9 585.0,530.6 590.0,528.0" fill="none" stroke="#111" stroke-width="0.8"/>
<circle cx="559.9" cy="528.7" r="0.95" fill="#111"/>
<circle cx="564.9" cy="528.7" r="0.95" fill="#111"/>
<circle cx="569.9" cy="528.7" r="0.95" fill="#111"/>
<circle cx="575.0" cy="530.6" r="0.95" fill="#111"/>
<circle cx="580.0" cy="530.9" r="0.95" fill="#111"/>
<circle cx="585.0" cy="530.6" r="0.95" fill="#111"/>
<circle cx="590.0" cy="528.0" r="0.95" fill="#111"/>
<polyline points="559.9,541.8 564.9,541.8 569.9,541.8 575.0,543.9 580.0,544.3 585.0,543.9 590.0,538.9" fill="none" stroke="#111" stroke-width="0.8"/>
<circle cx="559.9" cy="541.8" r="0.95" fill="#111"/>
<circle cx="564.9" cy="541.8" r="0.95" fill="#111"/>
<circle cx="569.9" cy="541.8" r="0.95" fill="#111"/>
<circle cx="575.0" cy="543.9" r="0.95" fill="#111"/>
<circle cx="580.0" cy="544.3" r="0.95" fill="#111"/>
<circle cx="585.0" cy="543.9" r="0.95" fill="#111"/>
<circle cx="590.0" cy="538.9" r="0.95" fill="#111"/>
<line x1="557.0" y1="552.6" x2="593.4" y2="552.6" stroke="#111" stroke-width="1.2"/>
<rect x="595.80" y="532.36" width="4.56" height="20.23" fill="#3d7cc9"/>
<rect x="600.86" y="532.36" width="4.56" height="20.23" fill="#5892d4"/>
<rect x="605.91" y="532.36" width="4.56" height="20.23" fill="#3d7cc9"/>
<rect x="610.97" y="532.36" width="4.56" height="20.23" fill="#5892d4"/>
<rect x="616.03" y="532.36" width="4.56" height="20.23" fill="#3d7cc9"/>
<rect x="621.09" y="532.36" width="4.56" height="20.23" fill="#5892d4"/>
<rect x="626.14" y="529.47" width="4.56" height="23.12" fill="#3d7cc9"/>
<polyline points="598.1,521.9 603.1,521.9 608.2,521.9 613.2,521.9 618.3,521.9 623.4,521.9 628.4,521.5" fill="none" stroke="#111" stroke-width="0.8"/>
<circle cx="598.1" cy="521.9" r="0.95" fill="#111"/>
<circle cx="603.1" cy="521.9" r="0.95" fill="#111"/>
<circle cx="608.2" cy="521.9" r="0.95" fill="#111"/>
<circle cx="613.2" cy="521.9" r="0.95" fill="#111"/>
<circle cx="618.3" cy="521.9" r="0.95" fill="#111"/>
<circle cx="623.4" cy="521.9" r="0.95" fill="#111"/>
<circle cx="628.4" cy="521.5" r="0.95" fill="#111"/>
<polyline points="598.1,528.0 603.1,528.0 608.2,528.0 613.2,528.0 618.3,528.0 623.4,528.0 628.4,527.3" fill="none" stroke="#111" stroke-width="0.8"/>
<circle cx="598.1" cy="528.0" r="0.95" fill="#111"/>
<circle cx="603.1" cy="528.0" r="0.95" fill="#111"/>
<circle cx="608.2" cy="528.0" r="0.95" fill="#111"/>
<circle cx="613.2" cy="528.0" r="0.95" fill="#111"/>
<circle cx="618.3" cy="528.0" r="0.95" fill="#111"/>
<circle cx="623.4" cy="528.0" r="0.95" fill="#111"/>
<circle cx="628.4" cy="527.3" r="0.95" fill="#111"/>
<polyline points="598.1,540.3 603.1,540.3 608.2,540.3 613.2,540.3 618.3,540.3 623.4,540.3 628.4,537.4" fill="none" stroke="#111" stroke-width="0.8"/>
<circle cx="598.1" cy="540.3" r="0.95" fill="#111"/>
<circle cx="603.1" cy="540.3" r="0.95" fill="#111"/>
<circle cx="608.2" cy="540.3" r="0.95" fill="#111"/>
<circle cx="613.2" cy="540.3" r="0.95" fill="#111"/>
<circle cx="618.3" cy="540.3" r="0.95" fill="#111"/>
<circle cx="623.4" cy="540.3" r="0.95" fill="#111"/>
<circle cx="628.4" cy="537.4" r="0.95" fill="#111"/>
<line x1="595.2" y1="552.6" x2="631.8" y2="552.6" stroke="#111" stroke-width="1.2"/>
<rect x="634.00" y="531.64" width="4.56" height="20.95" fill="#3d7cc9"/>
<rect x="639.06" y="529.47" width="4.56" height="23.12" fill="#5892d4"/>
<rect x="644.11" y="531.64" width="4.56" height="20.95" fill="#3d7cc9"/>
<rect x="649.17" y="530.19" width="4.56" height="22.40" fill="#5892d4"/>
<rect x="654.23" y="529.47" width="4.56" height="23.12" fill="#3d7cc9"/>
<rect x="659.29" y="529.47" width="4.56" height="23.12" fill="#5892d4"/>
<rect x="664.34" y="531.64" width="4.56" height="20.95" fill="#3d7cc9"/>
<polyline points="636.3,523.7 641.3,523.0 646.4,523.3 651.5,523.0 656.5,522.6 661.6,522.6 666.6,523.0" fill="none" stroke="#111" stroke-width="0.8"/>
<circle cx="636.3" cy="523.7" r="0.95" fill="#111"/>
<circle cx="641.3" cy="523.0" r="0.95" fill="#111"/>
<circle cx="646.4" cy="523.3" r="0.95" fill="#111"/>
<circle cx="651.5" cy="523.0" r="0.95" fill="#111"/>
<circle cx="656.5" cy="522.6" r="0.95" fill="#111"/>
<circle cx="661.6" cy="522.6" r="0.95" fill="#111"/>
<circle cx="666.6" cy="523.0" r="0.95" fill="#111"/>
<polyline points="636.3,526.6 641.3,525.9 646.4,526.6 651.5,525.9 656.5,525.1 661.6,525.9 666.6,526.6" fill="none" stroke="#111" stroke-width="0.8"/>
<circle cx="636.3" cy="526.6" r="0.95" fill="#111"/>
<circle cx="641.3" cy="525.9" r="0.95" fill="#111"/>
<circle cx="646.4" cy="526.6" r="0.95" fill="#111"/>
<circle cx="651.5" cy="525.9" r="0.95" fill="#111"/>
<circle cx="656.5" cy="525.1" r="0.95" fill="#111"/>
<circle cx="661.6" cy="525.9" r="0.95" fill="#111"/>
<circle cx="666.6" cy="526.6" r="0.95" fill="#111"/>
<polyline points="636.3,539.6 641.3,533.8 646.4,538.1 651.5,535.2 656.5,533.8 661.6,534.5 666.6,538.1" fill="none" stroke="#111" stroke-width="0.8"/>
<circle cx="636.3" cy="539.6" r="0.95" fill="#111"/>
<circle cx="641.3" cy="533.8" r="0.95" fill="#111"/>
<circle cx="646.4" cy="538.1" r="0.95" fill="#111"/>
<circle cx="651.5" cy="535.2" r="0.95" fill="#111"/>
<circle cx="656.5" cy="533.8" r="0.95" fill="#111"/>
<circle cx="661.6" cy="534.5" r="0.95" fill="#111"/>
<circle cx="666.6" cy="538.1" r="0.95" fill="#111"/>
<line x1="633.4" y1="552.6" x2="670.0" y2="552.6" stroke="#111" stroke-width="1.2"/>
<line x1="480.2" y1="516.8" x2="480.2" y2="552.6" stroke="#111" stroke-width="1.1"/>
<line x1="478.2" y1="520.8" x2="480.2" y2="520.8" stroke="#111" stroke-width="0.9"/>
<text x="476.8" y="523.4" font-size="7.3" text-anchor="end" font-weight="normal" fill="#333" >1.0</text>
<line x1="478.2" y1="535.2" x2="480.2" y2="535.2" stroke="#111" stroke-width="0.9"/>
<text x="476.8" y="537.9" font-size="7.3" text-anchor="end" font-weight="normal" fill="#333" >0.8</text>
<line x1="478.2" y1="549.7" x2="480.2" y2="549.7" stroke="#111" stroke-width="0.9"/>
<text x="476.8" y="552.3" font-size="7.3" text-anchor="end" font-weight="normal" fill="#333" >0.6</text>
<rect x="675" y="516.2" width="12" height="36.9" fill="#d9d9d9"/>
<text x="678.3" y="534.6" font-size="5.4" fill="#333" text-anchor="middle" transform="rotate(90 678.3 534.6)">Scanorama</text>
<rect x="481.20" y="569.08" width="4.56" height="26.01" fill="#3d7cc9"/>
<rect x="486.26" y="569.08" width="4.56" height="26.01" fill="#5892d4"/>
<rect x="491.31" y="569.08" width="4.56" height="26.01" fill="#3d7cc9"/>
<rect x="496.37" y="576.30" width="4.56" height="18.78" fill="#5892d4"/>
<rect x="501.43" y="576.30" width="4.56" height="18.78" fill="#3d7cc9"/>
<rect x="506.49" y="576.30" width="4.56" height="18.78" fill="#5892d4"/>
<rect x="511.54" y="567.63" width="4.56" height="27.45" fill="#3d7cc9"/>
<polyline points="483.5,568.4 488.5,568.4 493.6,568.4 498.6,570.5 503.7,570.5 508.8,569.8 513.8,567.3" fill="none" stroke="#111" stroke-width="0.8"/>
<circle cx="483.5" cy="568.4" r="0.95" fill="#111"/>
<circle cx="488.5" cy="568.4" r="0.95" fill="#111"/>
<circle cx="493.6" cy="568.4" r="0.95" fill="#111"/>
<circle cx="498.6" cy="570.5" r="0.95" fill="#111"/>
<circle cx="503.7" cy="570.5" r="0.95" fill="#111"/>
<circle cx="508.8" cy="569.8" r="0.95" fill="#111"/>
<circle cx="513.8" cy="567.3" r="0.95" fill="#111"/>
<polyline points="483.5,569.1 488.5,569.1 493.6,569.1 498.6,573.4 503.7,573.4 508.8,572.7 513.8,567.6" fill="none" stroke="#111" stroke-width="0.8"/>
<circle cx="483.5" cy="569.1" r="0.95" fill="#111"/>
<circle cx="488.5" cy="569.1" r="0.95" fill="#111"/>
<circle cx="493.6" cy="569.1" r="0.95" fill="#111"/>
<circle cx="498.6" cy="573.4" r="0.95" fill="#111"/>
<circle cx="503.7" cy="573.4" r="0.95" fill="#111"/>
<circle cx="508.8" cy="572.7" r="0.95" fill="#111"/>
<circle cx="513.8" cy="567.6" r="0.95" fill="#111"/>
<polyline points="483.5,569.1 488.5,569.1 493.6,569.1 498.6,581.4 503.7,581.4 508.8,581.4 513.8,567.6" fill="none" stroke="#111" stroke-width="0.8"/>
<circle cx="483.5" cy="569.1" r="0.95" fill="#111"/>
<circle cx="488.5" cy="569.1" r="0.95" fill="#111"/>
<circle cx="493.6" cy="569.1" r="0.95" fill="#111"/>
<circle cx="498.6" cy="581.4" r="0.95" fill="#111"/>
<circle cx="503.7" cy="581.4" r="0.95" fill="#111"/>
<circle cx="508.8" cy="581.4" r="0.95" fill="#111"/>
<circle cx="513.8" cy="567.6" r="0.95" fill="#111"/>
<line x1="480.6" y1="595.1" x2="517.2" y2="595.1" stroke="#111" stroke-width="1.2"/>
<rect x="519.40" y="569.08" width="4.56" height="26.01" fill="#3d7cc9"/>
<rect x="524.46" y="569.08" width="4.56" height="26.01" fill="#5892d4"/>
<rect x="529.51" y="569.08" width="4.56" height="26.01" fill="#3d7cc9"/>
<rect x="534.57" y="576.30" width="4.56" height="18.78" fill="#5892d4"/>
<rect x="539.63" y="576.30" width="4.56" height="18.78" fill="#3d7cc9"/>
<rect x="544.69" y="576.30" width="4.56" height="18.78" fill="#5892d4"/>
<rect x="549.74" y="567.63" width="4.56" height="27.45" fill="#3d7cc9"/>
<polyline points="521.7,568.4 526.7,568.4 531.8,568.4 536.8,570.5 541.9,570.5 547.0,569.8 552.0,567.3" fill="none" stroke="#111" stroke-width="0.8"/>
<circle cx="521.7" cy="568.4" r="0.95" fill="#111"/>
<circle cx="526.7" cy="568.4" r="0.95" fill="#111"/>
<circle cx="531.8" cy="568.4" r="0.95" fill="#111"/>
<circle cx="536.8" cy="570.5" r="0.95" fill="#111"/>
<circle cx="541.9" cy="570.5" r="0.95" fill="#111"/>
<circle cx="547.0" cy="569.8" r="0.95" fill="#111"/>
<circle cx="552.0" cy="567.3" r="0.95" fill="#111"/>
<polyline points="521.7,569.1 526.7,569.1 531.8,569.1 536.8,573.4 541.9,573.4 547.0,572.7 552.0,567.6" fill="none" stroke="#111" stroke-width="0.8"/>
<circle cx="521.7" cy="569.1" r="0.95" fill="#111"/>
<circle cx="526.7" cy="569.1" r="0.95" fill="#111"/>
<circle cx="531.8" cy="569.1" r="0.95" fill="#111"/>
<circle cx="536.8" cy="573.4" r="0.95" fill="#111"/>
<circle cx="541.9" cy="573.4" r="0.95" fill="#111"/>
<circle cx="547.0" cy="572.7" r="0.95" fill="#111"/>
<circle cx="552.0" cy="567.6" r="0.95" fill="#111"/>
<polyline points="521.7,569.1 526.7,569.1 531.8,569.1 536.8,581.4 541.9,581.4 547.0,581.4 552.0,567.6" fill="none" stroke="#111" stroke-width="0.8"/>
<circle cx="521.7" cy="569.1" r="0.95" fill="#111"/>
<circle cx="526.7" cy="569.1" r="0.95" fill="#111"/>
<circle cx="531.8" cy="569.1" r="0.95" fill="#111"/>
<circle cx="536.8" cy="581.4" r="0.95" fill="#111"/>
<circle cx="541.9" cy="581.4" r="0.95" fill="#111"/>
<circle cx="547.0" cy="581.4" r="0.95" fill="#111"/>
<circle cx="552.0" cy="567.6" r="0.95" fill="#111"/>
<line x1="518.8" y1="595.1" x2="555.4" y2="595.1" stroke="#111" stroke-width="1.2"/>
<rect x="557.60" y="576.30" width="4.53" height="18.78" fill="#3d7cc9"/>
<rect x="562.63" y="576.30" width="4.53" height="18.78" fill="#5892d4"/>
<rect x="567.66" y="576.30" width="4.53" height="18.78" fill="#3d7cc9"/>
<rect x="572.69" y="576.30" width="4.53" height="18.78" fill="#5892d4"/>
<rect x="577.71" y="576.30" width="4.53" height="18.78" fill="#3d7cc9"/>
<rect x="582.74" y="576.30" width="4.53" height="18.78" fill="#5892d4"/>
<rect x="587.77" y="567.63" width="4.53" height="27.45" fill="#3d7cc9"/>
<polyline points="559.9,570.5 564.9,570.5 569.9,570.2 575.0,570.2 580.0,569.8 585.0,569.4 590.0,567.3" fill="none" stroke="#111" stroke-width="0.8"/>
<circle cx="559.9" cy="570.5" r="0.95" fill="#111"/>
<circle cx="564.9" cy="570.5" r="0.95" fill="#111"/>
<circle cx="569.9" cy="570.2" r="0.95" fill="#111"/>
<circle cx="575.0" cy="570.2" r="0.95" fill="#111"/>
<circle cx="580.0" cy="569.8" r="0.95" fill="#111"/>
<circle cx="585.0" cy="569.4" r="0.95" fill="#111"/>
<circle cx="590.0" cy="567.3" r="0.95" fill="#111"/>
<polyline points="559.9,573.4 564.9,573.1 569.9,572.7 575.0,572.7 580.0,572.3 585.0,572.0 590.0,567.6" fill="none" stroke="#111" stroke-width="0.8"/>
<circle cx="559.9" cy="573.4" r="0.95" fill="#111"/>
<circle cx="564.9" cy="573.1" r="0.95" fill="#111"/>
<circle cx="569.9" cy="572.7" r="0.95" fill="#111"/>
<circle cx="575.0" cy="572.7" r="0.95" fill="#111"/>
<circle cx="580.0" cy="572.3" r="0.95" fill="#111"/>
<circle cx="585.0" cy="572.0" r="0.95" fill="#111"/>
<circle cx="590.0" cy="567.6" r="0.95" fill="#111"/>
<polyline points="559.9,581.4 564.9,581.4 569.9,581.4 575.0,581.4 580.0,581.4 585.0,581.4 590.0,568.4" fill="none" stroke="#111" stroke-width="0.8"/>
<circle cx="559.9" cy="581.4" r="0.95" fill="#111"/>
<circle cx="564.9" cy="581.4" r="0.95" fill="#111"/>
<circle cx="569.9" cy="581.4" r="0.95" fill="#111"/>
<circle cx="575.0" cy="581.4" r="0.95" fill="#111"/>
<circle cx="580.0" cy="581.4" r="0.95" fill="#111"/>
<circle cx="585.0" cy="581.4" r="0.95" fill="#111"/>
<circle cx="590.0" cy="568.4" r="0.95" fill="#111"/>
<line x1="557.0" y1="595.1" x2="593.4" y2="595.1" stroke="#111" stroke-width="1.2"/>
<rect x="595.80" y="571.25" width="4.56" height="23.84" fill="#3d7cc9"/>
<rect x="600.86" y="571.25" width="4.56" height="23.84" fill="#5892d4"/>
<rect x="605.91" y="571.97" width="4.56" height="23.12" fill="#3d7cc9"/>
<rect x="610.97" y="571.97" width="4.56" height="23.12" fill="#5892d4"/>
<rect x="616.03" y="572.69" width="4.56" height="22.40" fill="#3d7cc9"/>
<rect x="621.09" y="573.41" width="4.56" height="21.67" fill="#5892d4"/>
<rect x="626.14" y="568.36" width="4.56" height="26.73" fill="#3d7cc9"/>
<polyline points="598.1,568.4 603.1,568.4 608.2,568.4 613.2,568.4 618.3,568.4 623.4,568.0 628.4,567.6" fill="none" stroke="#111" stroke-width="0.8"/>
<circle cx="598.1" cy="568.4" r="0.95" fill="#111"/>
<circle cx="603.1" cy="568.4" r="0.95" fill="#111"/>
<circle cx="608.2" cy="568.4" r="0.95" fill="#111"/>
<circle cx="613.2" cy="568.4" r="0.95" fill="#111"/>
<circle cx="618.3" cy="568.4" r="0.95" fill="#111"/>
<circle cx="623.4" cy="568.0" r="0.95" fill="#111"/>
<circle cx="628.4" cy="567.6" r="0.95" fill="#111"/>
<polyline points="598.1,569.8 603.1,569.8 608.2,570.2 613.2,570.2 618.3,570.5 623.4,570.5 628.4,568.7" fill="none" stroke="#111" stroke-width="0.8"/>
<circle cx="598.1" cy="569.8" r="0.95" fill="#111"/>
<circle cx="603.1" cy="569.8" r="0.95" fill="#111"/>
<circle cx="608.2" cy="570.2" r="0.95" fill="#111"/>
<circle cx="613.2" cy="570.2" r="0.95" fill="#111"/>
<circle cx="618.3" cy="570.5" r="0.95" fill="#111"/>
<circle cx="623.4" cy="570.5" r="0.95" fill="#111"/>
<circle cx="628.4" cy="568.7" r="0.95" fill="#111"/>
<polyline points="598.1,571.2 603.1,571.6 608.2,572.0 613.2,572.3 618.3,573.1 623.4,573.4 628.4,568.7" fill="none" stroke="#111" stroke-width="0.8"/>
<circle cx="598.1" cy="571.2" r="0.95" fill="#111"/>
<circle cx="603.1" cy="571.6" r="0.95" fill="#111"/>
<circle cx="608.2" cy="572.0" r="0.95" fill="#111"/>
<circle cx="613.2" cy="572.3" r="0.95" fill="#111"/>
<circle cx="618.3" cy="573.1" r="0.95" fill="#111"/>
<circle cx="623.4" cy="573.4" r="0.95" fill="#111"/>
<circle cx="628.4" cy="568.7" r="0.95" fill="#111"/>
<line x1="595.2" y1="595.1" x2="631.8" y2="595.1" stroke="#111" stroke-width="1.2"/>
<rect x="634.00" y="579.19" width="4.56" height="15.89" fill="#3d7cc9"/>
<rect x="639.06" y="576.30" width="4.56" height="18.78" fill="#5892d4"/>
<rect x="644.11" y="577.75" width="4.56" height="17.34" fill="#3d7cc9"/>
<rect x="649.17" y="577.03" width="4.56" height="18.06" fill="#5892d4"/>
<rect x="654.23" y="576.30" width="4.56" height="18.78" fill="#3d7cc9"/>
<rect x="659.29" y="576.30" width="4.56" height="18.78" fill="#5892d4"/>
<rect x="664.34" y="577.75" width="4.56" height="17.34" fill="#3d7cc9"/>
<polyline points="636.3,573.4 641.3,572.7 646.4,573.4 651.5,572.7 656.5,572.7 661.6,572.7 666.6,572.7" fill="none" stroke="#111" stroke-width="0.8"/>
<circle cx="636.3" cy="573.4" r="0.95" fill="#111"/>
<circle cx="641.3" cy="572.7" r="0.95" fill="#111"/>
<circle cx="646.4" cy="573.4" r="0.95" fill="#111"/>
<circle cx="651.5" cy="572.7" r="0.95" fill="#111"/>
<circle cx="656.5" cy="572.7" r="0.95" fill="#111"/>
<circle cx="661.6" cy="572.7" r="0.95" fill="#111"/>
<circle cx="666.6" cy="572.7" r="0.95" fill="#111"/>
<polyline points="636.3,574.9 641.3,574.1 646.4,574.9 651.5,574.1 656.5,573.4 661.6,574.1 666.6,574.1" fill="none" stroke="#111" stroke-width="0.8"/>
<circle cx="636.3" cy="574.9" r="0.95" fill="#111"/>
<circle cx="641.3" cy="574.1" r="0.95" fill="#111"/>
<circle cx="646.4" cy="574.9" r="0.95" fill="#111"/>
<circle cx="651.5" cy="574.1" r="0.95" fill="#111"/>
<circle cx="656.5" cy="573.4" r="0.95" fill="#111"/>
<circle cx="661.6" cy="574.1" r="0.95" fill="#111"/>
<circle cx="666.6" cy="574.1" r="0.95" fill="#111"/>
<polyline points="636.3,579.9 641.3,575.6 646.4,578.5 651.5,577.8 656.5,575.6 661.6,576.3 666.6,578.5" fill="none" stroke="#111" stroke-width="0.8"/>
<circle cx="636.3" cy="579.9" r="0.95" fill="#111"/>
<circle cx="641.3" cy="575.6" r="0.95" fill="#111"/>
<circle cx="646.4" cy="578.5" r="0.95" fill="#111"/>
<circle cx="651.5" cy="577.8" r="0.95" fill="#111"/>
<circle cx="656.5" cy="575.6" r="0.95" fill="#111"/>
<circle cx="661.6" cy="576.3" r="0.95" fill="#111"/>
<circle cx="666.6" cy="578.5" r="0.95" fill="#111"/>
<line x1="633.4" y1="595.1" x2="670.0" y2="595.1" stroke="#111" stroke-width="1.2"/>
<line x1="480.2" y1="559.3" x2="480.2" y2="595.1" stroke="#111" stroke-width="1.1"/>
<line x1="478.2" y1="563.3" x2="480.2" y2="563.3" stroke="#111" stroke-width="0.9"/>
<text x="476.8" y="565.9" font-size="7.3" text-anchor="end" font-weight="normal" fill="#333" >1.0</text>
<line x1="478.2" y1="577.8" x2="480.2" y2="577.8" stroke="#111" stroke-width="0.9"/>
<text x="476.8" y="580.4" font-size="7.3" text-anchor="end" font-weight="normal" fill="#333" >0.8</text>
<line x1="478.2" y1="592.2" x2="480.2" y2="592.2" stroke="#111" stroke-width="0.9"/>
<text x="476.8" y="594.8" font-size="7.3" text-anchor="end" font-weight="normal" fill="#333" >0.6</text>
<rect x="675" y="558.7" width="12" height="36.9" fill="#d9d9d9"/>
<text x="678.3" y="577.1" font-size="5.4" fill="#333" text-anchor="middle" transform="rotate(90 678.3 577.1)">Combat-NP</text>
<rect x="481.20" y="611.78" width="4.56" height="26.01" fill="#3d7cc9"/>
<rect x="486.26" y="611.78" width="4.56" height="26.01" fill="#5892d4"/>
<rect x="491.31" y="611.78" width="4.56" height="26.01" fill="#3d7cc9"/>
<rect x="496.37" y="619.00" width="4.56" height="18.78" fill="#5892d4"/>
<rect x="501.43" y="619.00" width="4.56" height="18.78" fill="#3d7cc9"/>
<rect x="506.49" y="619.00" width="4.56" height="18.78" fill="#5892d4"/>
<rect x="511.54" y="610.34" width="4.56" height="27.45" fill="#3d7cc9"/>
<polyline points="483.5,611.1 488.5,611.1 493.6,611.1 498.6,613.2 503.7,613.2 508.8,612.5 513.8,610.0" fill="none" stroke="#111" stroke-width="0.8"/>
<circle cx="483.5" cy="611.1" r="0.95" fill="#111"/>
<circle cx="488.5" cy="611.1" r="0.95" fill="#111"/>
<circle cx="493.6" cy="611.1" r="0.95" fill="#111"/>
<circle cx="498.6" cy="613.2" r="0.95" fill="#111"/>
<circle cx="503.7" cy="613.2" r="0.95" fill="#111"/>
<circle cx="508.8" cy="612.5" r="0.95" fill="#111"/>
<circle cx="513.8" cy="610.0" r="0.95" fill="#111"/>
<polyline points="483.5,611.8 488.5,611.8 493.6,611.8 498.6,616.1 503.7,616.1 508.8,615.4 513.8,610.3" fill="none" stroke="#111" stroke-width="0.8"/>
<circle cx="483.5" cy="611.8" r="0.95" fill="#111"/>
<circle cx="488.5" cy="611.8" r="0.95" fill="#111"/>
<circle cx="493.6" cy="611.8" r="0.95" fill="#111"/>
<circle cx="498.6" cy="616.1" r="0.95" fill="#111"/>
<circle cx="503.7" cy="616.1" r="0.95" fill="#111"/>
<circle cx="508.8" cy="615.4" r="0.95" fill="#111"/>
<circle cx="513.8" cy="610.3" r="0.95" fill="#111"/>
<polyline points="483.5,611.8 488.5,611.8 493.6,611.8 498.6,624.1 503.7,624.1 508.8,624.1 513.8,610.3" fill="none" stroke="#111" stroke-width="0.8"/>
<circle cx="483.5" cy="611.8" r="0.95" fill="#111"/>
<circle cx="488.5" cy="611.8" r="0.95" fill="#111"/>
<circle cx="493.6" cy="611.8" r="0.95" fill="#111"/>
<circle cx="498.6" cy="624.1" r="0.95" fill="#111"/>
<circle cx="503.7" cy="624.1" r="0.95" fill="#111"/>
<circle cx="508.8" cy="624.1" r="0.95" fill="#111"/>
<circle cx="513.8" cy="610.3" r="0.95" fill="#111"/>
<line x1="480.6" y1="637.8" x2="517.2" y2="637.8" stroke="#111" stroke-width="1.2"/>
<rect x="519.40" y="611.78" width="4.56" height="26.01" fill="#3d7cc9"/>
<rect x="524.46" y="611.78" width="4.56" height="26.01" fill="#5892d4"/>
<rect x="529.51" y="611.78" width="4.56" height="26.01" fill="#3d7cc9"/>
<rect x="534.57" y="619.00" width="4.56" height="18.78" fill="#5892d4"/>
<rect x="539.63" y="619.00" width="4.56" height="18.78" fill="#3d7cc9"/>
<rect x="544.69" y="619.00" width="4.56" height="18.78" fill="#5892d4"/>
<rect x="549.74" y="610.34" width="4.56" height="27.45" fill="#3d7cc9"/>
<polyline points="521.7,611.1 526.7,611.1 531.8,611.1 536.8,613.2 541.9,613.2 547.0,612.5 552.0,610.0" fill="none" stroke="#111" stroke-width="0.8"/>
<circle cx="521.7" cy="611.1" r="0.95" fill="#111"/>
<circle cx="526.7" cy="611.1" r="0.95" fill="#111"/>
<circle cx="531.8" cy="611.1" r="0.95" fill="#111"/>
<circle cx="536.8" cy="613.2" r="0.95" fill="#111"/>
<circle cx="541.9" cy="613.2" r="0.95" fill="#111"/>
<circle cx="547.0" cy="612.5" r="0.95" fill="#111"/>
<circle cx="552.0" cy="610.0" r="0.95" fill="#111"/>
<polyline points="521.7,611.8 526.7,611.8 531.8,611.8 536.8,616.1 541.9,616.1 547.0,615.4 552.0,610.3" fill="none" stroke="#111" stroke-width="0.8"/>
<circle cx="521.7" cy="611.8" r="0.95" fill="#111"/>
<circle cx="526.7" cy="611.8" r="0.95" fill="#111"/>
<circle cx="531.8" cy="611.8" r="0.95" fill="#111"/>
<circle cx="536.8" cy="616.1" r="0.95" fill="#111"/>
<circle cx="541.9" cy="616.1" r="0.95" fill="#111"/>
<circle cx="547.0" cy="615.4" r="0.95" fill="#111"/>
<circle cx="552.0" cy="610.3" r="0.95" fill="#111"/>
<polyline points="521.7,611.8 526.7,611.8 531.8,611.8 536.8,624.1 541.9,624.1 547.0,624.1 552.0,610.3" fill="none" stroke="#111" stroke-width="0.8"/>
<circle cx="521.7" cy="611.8" r="0.95" fill="#111"/>
<circle cx="526.7" cy="611.8" r="0.95" fill="#111"/>
<circle cx="531.8" cy="611.8" r="0.95" fill="#111"/>
<circle cx="536.8" cy="624.1" r="0.95" fill="#111"/>
<circle cx="541.9" cy="624.1" r="0.95" fill="#111"/>
<circle cx="547.0" cy="624.1" r="0.95" fill="#111"/>
<circle cx="552.0" cy="610.3" r="0.95" fill="#111"/>
<line x1="518.8" y1="637.8" x2="555.4" y2="637.8" stroke="#111" stroke-width="1.2"/>
<rect x="557.60" y="619.00" width="4.53" height="18.78" fill="#3d7cc9"/>
<rect x="562.63" y="619.00" width="4.53" height="18.78" fill="#5892d4"/>
<rect x="567.66" y="619.00" width="4.53" height="18.78" fill="#3d7cc9"/>
<rect x="572.69" y="619.00" width="4.53" height="18.78" fill="#5892d4"/>
<rect x="577.71" y="619.00" width="4.53" height="18.78" fill="#3d7cc9"/>
<rect x="582.74" y="619.00" width="4.53" height="18.78" fill="#5892d4"/>
<rect x="587.77" y="610.34" width="4.53" height="27.45" fill="#3d7cc9"/>
<polyline points="559.9,613.2 564.9,613.2 569.9,612.9 575.0,612.9 580.0,612.5 585.0,612.1 590.0,610.0" fill="none" stroke="#111" stroke-width="0.8"/>
<circle cx="559.9" cy="613.2" r="0.95" fill="#111"/>
<circle cx="564.9" cy="613.2" r="0.95" fill="#111"/>
<circle cx="569.9" cy="612.9" r="0.95" fill="#111"/>
<circle cx="575.0" cy="612.9" r="0.95" fill="#111"/>
<circle cx="580.0" cy="612.5" r="0.95" fill="#111"/>
<circle cx="585.0" cy="612.1" r="0.95" fill="#111"/>
<circle cx="590.0" cy="610.0" r="0.95" fill="#111"/>
<polyline points="559.9,616.1 564.9,615.8 569.9,615.4 575.0,615.4 580.0,615.0 585.0,614.7 590.0,610.3" fill="none" stroke="#111" stroke-width="0.8"/>
<circle cx="559.9" cy="616.1" r="0.95" fill="#111"/>
<circle cx="564.9" cy="615.8" r="0.95" fill="#111"/>
<circle cx="569.9" cy="615.4" r="0.95" fill="#111"/>
<circle cx="575.0" cy="615.4" r="0.95" fill="#111"/>
<circle cx="580.0" cy="615.0" r="0.95" fill="#111"/>
<circle cx="585.0" cy="614.7" r="0.95" fill="#111"/>
<circle cx="590.0" cy="610.3" r="0.95" fill="#111"/>
<polyline points="559.9,624.1 564.9,624.1 569.9,624.1 575.0,624.1 580.0,624.1 585.0,624.1 590.0,611.1" fill="none" stroke="#111" stroke-width="0.8"/>
<circle cx="559.9" cy="624.1" r="0.95" fill="#111"/>
<circle cx="564.9" cy="624.1" r="0.95" fill="#111"/>
<circle cx="569.9" cy="624.1" r="0.95" fill="#111"/>
<circle cx="575.0" cy="624.1" r="0.95" fill="#111"/>
<circle cx="580.0" cy="624.1" r="0.95" fill="#111"/>
<circle cx="585.0" cy="624.1" r="0.95" fill="#111"/>
<circle cx="590.0" cy="611.1" r="0.95" fill="#111"/>
<line x1="557.0" y1="637.8" x2="593.4" y2="637.8" stroke="#111" stroke-width="1.2"/>
<rect x="595.80" y="613.95" width="4.56" height="23.84" fill="#3d7cc9"/>
<rect x="600.86" y="613.95" width="4.56" height="23.84" fill="#5892d4"/>
<rect x="605.91" y="614.67" width="4.56" height="23.12" fill="#3d7cc9"/>
<rect x="610.97" y="614.67" width="4.56" height="23.12" fill="#5892d4"/>
<rect x="616.03" y="615.39" width="4.56" height="22.40" fill="#3d7cc9"/>
<rect x="621.09" y="616.12" width="4.56" height="21.67" fill="#5892d4"/>
<rect x="626.14" y="611.06" width="4.56" height="26.73" fill="#3d7cc9"/>
<polyline points="598.1,611.1 603.1,611.1 608.2,611.1 613.2,611.1 618.3,611.1 623.4,610.7 628.4,610.3" fill="none" stroke="#111" stroke-width="0.8"/>
<circle cx="598.1" cy="611.1" r="0.95" fill="#111"/>
<circle cx="603.1" cy="611.1" r="0.95" fill="#111"/>
<circle cx="608.2" cy="611.1" r="0.95" fill="#111"/>
<circle cx="613.2" cy="611.1" r="0.95" fill="#111"/>
<circle cx="618.3" cy="611.1" r="0.95" fill="#111"/>
<circle cx="623.4" cy="610.7" r="0.95" fill="#111"/>
<circle cx="628.4" cy="610.3" r="0.95" fill="#111"/>
<polyline points="598.1,612.5 603.1,612.5 608.2,612.9 613.2,612.9 618.3,613.2 623.4,613.2 628.4,611.4" fill="none" stroke="#111" stroke-width="0.8"/>
<circle cx="598.1" cy="612.5" r="0.95" fill="#111"/>
<circle cx="603.1" cy="612.5" r="0.95" fill="#111"/>
<circle cx="608.2" cy="612.9" r="0.95" fill="#111"/>
<circle cx="613.2" cy="612.9" r="0.95" fill="#111"/>
<circle cx="618.3" cy="613.2" r="0.95" fill="#111"/>
<circle cx="623.4" cy="613.2" r="0.95" fill="#111"/>
<circle cx="628.4" cy="611.4" r="0.95" fill="#111"/>
<polyline points="598.1,613.9 603.1,614.3 608.2,614.7 613.2,615.0 618.3,615.8 623.4,616.1 628.4,611.4" fill="none" stroke="#111" stroke-width="0.8"/>
<circle cx="598.1" cy="613.9" r="0.95" fill="#111"/>
<circle cx="603.1" cy="614.3" r="0.95" fill="#111"/>
<circle cx="608.2" cy="614.7" r="0.95" fill="#111"/>
<circle cx="613.2" cy="615.0" r="0.95" fill="#111"/>
<circle cx="618.3" cy="615.8" r="0.95" fill="#111"/>
<circle cx="623.4" cy="616.1" r="0.95" fill="#111"/>
<circle cx="628.4" cy="611.4" r="0.95" fill="#111"/>
<line x1="595.2" y1="637.8" x2="631.8" y2="637.8" stroke="#111" stroke-width="1.2"/>
<rect x="634.00" y="621.89" width="4.56" height="15.89" fill="#3d7cc9"/>
<rect x="639.06" y="619.00" width="4.56" height="18.78" fill="#5892d4"/>
<rect x="644.11" y="620.45" width="4.56" height="17.34" fill="#3d7cc9"/>
<rect x="649.17" y="619.73" width="4.56" height="18.06" fill="#5892d4"/>
<rect x="654.23" y="619.00" width="4.56" height="18.78" fill="#3d7cc9"/>
<rect x="659.29" y="619.00" width="4.56" height="18.78" fill="#5892d4"/>
<rect x="664.34" y="620.45" width="4.56" height="17.34" fill="#3d7cc9"/>
<polyline points="636.3,616.1 641.3,615.4 646.4,616.1 651.5,615.4 656.5,615.4 661.6,615.4 666.6,615.4" fill="none" stroke="#111" stroke-width="0.8"/>
<circle cx="636.3" cy="616.1" r="0.95" fill="#111"/>
<circle cx="641.3" cy="615.4" r="0.95" fill="#111"/>
<circle cx="646.4" cy="616.1" r="0.95" fill="#111"/>
<circle cx="651.5" cy="615.4" r="0.95" fill="#111"/>
<circle cx="656.5" cy="615.4" r="0.95" fill="#111"/>
<circle cx="661.6" cy="615.4" r="0.95" fill="#111"/>
<circle cx="666.6" cy="615.4" r="0.95" fill="#111"/>
<polyline points="636.3,617.6 641.3,616.8 646.4,617.6 651.5,616.8 656.5,616.1 661.6,616.8 666.6,616.8" fill="none" stroke="#111" stroke-width="0.8"/>
<circle cx="636.3" cy="617.6" r="0.95" fill="#111"/>
<circle cx="641.3" cy="616.8" r="0.95" fill="#111"/>
<circle cx="646.4" cy="617.6" r="0.95" fill="#111"/>
<circle cx="651.5" cy="616.8" r="0.95" fill="#111"/>
<circle cx="656.5" cy="616.1" r="0.95" fill="#111"/>
<circle cx="661.6" cy="616.8" r="0.95" fill="#111"/>
<circle cx="666.6" cy="616.8" r="0.95" fill="#111"/>
<polyline points="636.3,622.6 641.3,618.3 646.4,621.2 651.5,620.5 656.5,618.3 661.6,619.0 666.6,621.2" fill="none" stroke="#111" stroke-width="0.8"/>
<circle cx="636.3" cy="622.6" r="0.95" fill="#111"/>
<circle cx="641.3" cy="618.3" r="0.95" fill="#111"/>
<circle cx="646.4" cy="621.2" r="0.95" fill="#111"/>
<circle cx="651.5" cy="620.5" r="0.95" fill="#111"/>
<circle cx="656.5" cy="618.3" r="0.95" fill="#111"/>
<circle cx="661.6" cy="619.0" r="0.95" fill="#111"/>
<circle cx="666.6" cy="621.2" r="0.95" fill="#111"/>
<line x1="633.4" y1="637.8" x2="670.0" y2="637.8" stroke="#111" stroke-width="1.2"/>
<line x1="480.2" y1="602.0" x2="480.2" y2="637.8" stroke="#111" stroke-width="1.1"/>
<line x1="478.2" y1="606.0" x2="480.2" y2="606.0" stroke="#111" stroke-width="0.9"/>
<text x="476.8" y="608.6" font-size="7.3" text-anchor="end" font-weight="normal" fill="#333" >1.0</text>
<line x1="478.2" y1="620.5" x2="480.2" y2="620.5" stroke="#111" stroke-width="0.9"/>
<text x="476.8" y="623.1" font-size="7.3" text-anchor="end" font-weight="normal" fill="#333" >0.8</text>
<line x1="478.2" y1="634.9" x2="480.2" y2="634.9" stroke="#111" stroke-width="0.9"/>
<text x="476.8" y="637.5" font-size="7.3" text-anchor="end" font-weight="normal" fill="#333" >0.6</text>
<rect x="675" y="601.4" width="12" height="36.9" fill="#d9d9d9"/>
<text x="678.3" y="619.8" font-size="5.4" fill="#333" text-anchor="middle" transform="rotate(90 678.3 619.8)">Combat-P</text>
<rect x="481.20" y="654.18" width="4.56" height="26.01" fill="#3d7cc9"/>
<rect x="486.26" y="654.18" width="4.56" height="26.01" fill="#5892d4"/>
<rect x="491.31" y="654.18" width="4.56" height="26.01" fill="#3d7cc9"/>
<rect x="496.37" y="661.40" width="4.56" height="18.78" fill="#5892d4"/>
<rect x="501.43" y="661.40" width="4.56" height="18.78" fill="#3d7cc9"/>
<rect x="506.49" y="661.40" width="4.56" height="18.78" fill="#5892d4"/>
<rect x="511.54" y="652.74" width="4.56" height="27.45" fill="#3d7cc9"/>
<polyline points="483.5,653.5 488.5,653.5 493.6,653.5 498.6,655.6 503.7,655.6 508.8,654.9 513.8,652.4" fill="none" stroke="#111" stroke-width="0.8"/>
<circle cx="483.5" cy="653.5" r="0.95" fill="#111"/>
<circle cx="488.5" cy="653.5" r="0.95" fill="#111"/>
<circle cx="493.6" cy="653.5" r="0.95" fill="#111"/>
<circle cx="498.6" cy="655.6" r="0.95" fill="#111"/>
<circle cx="503.7" cy="655.6" r="0.95" fill="#111"/>
<circle cx="508.8" cy="654.9" r="0.95" fill="#111"/>
<circle cx="513.8" cy="652.4" r="0.95" fill="#111"/>
<polyline points="483.5,654.2 488.5,654.2 493.6,654.2 498.6,658.5 503.7,658.5 508.8,657.8 513.8,652.7" fill="none" stroke="#111" stroke-width="0.8"/>
<circle cx="483.5" cy="654.2" r="0.95" fill="#111"/>
<circle cx="488.5" cy="654.2" r="0.95" fill="#111"/>
<circle cx="493.6" cy="654.2" r="0.95" fill="#111"/>
<circle cx="498.6" cy="658.5" r="0.95" fill="#111"/>
<circle cx="503.7" cy="658.5" r="0.95" fill="#111"/>
<circle cx="508.8" cy="657.8" r="0.95" fill="#111"/>
<circle cx="513.8" cy="652.7" r="0.95" fill="#111"/>
<polyline points="483.5,654.2 488.5,654.2 493.6,654.2 498.6,666.5 503.7,666.5 508.8,666.5 513.8,652.7" fill="none" stroke="#111" stroke-width="0.8"/>
<circle cx="483.5" cy="654.2" r="0.95" fill="#111"/>
<circle cx="488.5" cy="654.2" r="0.95" fill="#111"/>
<circle cx="493.6" cy="654.2" r="0.95" fill="#111"/>
<circle cx="498.6" cy="666.5" r="0.95" fill="#111"/>
<circle cx="503.7" cy="666.5" r="0.95" fill="#111"/>
<circle cx="508.8" cy="666.5" r="0.95" fill="#111"/>
<circle cx="513.8" cy="652.7" r="0.95" fill="#111"/>
<line x1="480.6" y1="680.2" x2="517.2" y2="680.2" stroke="#111" stroke-width="1.2"/>
<rect x="519.40" y="654.18" width="4.56" height="26.01" fill="#3d7cc9"/>
<rect x="524.46" y="654.18" width="4.56" height="26.01" fill="#5892d4"/>
<rect x="529.51" y="654.18" width="4.56" height="26.01" fill="#3d7cc9"/>
<rect x="534.57" y="661.40" width="4.56" height="18.78" fill="#5892d4"/>
<rect x="539.63" y="661.40" width="4.56" height="18.78" fill="#3d7cc9"/>
<rect x="544.69" y="661.40" width="4.56" height="18.78" fill="#5892d4"/>
<rect x="549.74" y="652.74" width="4.56" height="27.45" fill="#3d7cc9"/>
<polyline points="521.7,653.5 526.7,653.5 531.8,653.5 536.8,655.6 541.9,655.6 547.0,654.9 552.0,652.4" fill="none" stroke="#111" stroke-width="0.8"/>
<circle cx="521.7" cy="653.5" r="0.95" fill="#111"/>
<circle cx="526.7" cy="653.5" r="0.95" fill="#111"/>
<circle cx="531.8" cy="653.5" r="0.95" fill="#111"/>
<circle cx="536.8" cy="655.6" r="0.95" fill="#111"/>
<circle cx="541.9" cy="655.6" r="0.95" fill="#111"/>
<circle cx="547.0" cy="654.9" r="0.95" fill="#111"/>
<circle cx="552.0" cy="652.4" r="0.95" fill="#111"/>
<polyline points="521.7,654.2 526.7,654.2 531.8,654.2 536.8,658.5 541.9,658.5 547.0,657.8 552.0,652.7" fill="none" stroke="#111" stroke-width="0.8"/>
<circle cx="521.7" cy="654.2" r="0.95" fill="#111"/>
<circle cx="526.7" cy="654.2" r="0.95" fill="#111"/>
<circle cx="531.8" cy="654.2" r="0.95" fill="#111"/>
<circle cx="536.8" cy="658.5" r="0.95" fill="#111"/>
<circle cx="541.9" cy="658.5" r="0.95" fill="#111"/>
<circle cx="547.0" cy="657.8" r="0.95" fill="#111"/>
<circle cx="552.0" cy="652.7" r="0.95" fill="#111"/>
<polyline points="521.7,654.2 526.7,654.2 531.8,654.2 536.8,666.5 541.9,666.5 547.0,666.5 552.0,652.7" fill="none" stroke="#111" stroke-width="0.8"/>
<circle cx="521.7" cy="654.2" r="0.95" fill="#111"/>
<circle cx="526.7" cy="654.2" r="0.95" fill="#111"/>
<circle cx="531.8" cy="654.2" r="0.95" fill="#111"/>
<circle cx="536.8" cy="666.5" r="0.95" fill="#111"/>
<circle cx="541.9" cy="666.5" r="0.95" fill="#111"/>
<circle cx="547.0" cy="666.5" r="0.95" fill="#111"/>
<circle cx="552.0" cy="652.7" r="0.95" fill="#111"/>
<line x1="518.8" y1="680.2" x2="555.4" y2="680.2" stroke="#111" stroke-width="1.2"/>
<rect x="557.60" y="661.40" width="4.53" height="18.78" fill="#3d7cc9"/>
<rect x="562.63" y="661.40" width="4.53" height="18.78" fill="#5892d4"/>
<rect x="567.66" y="661.40" width="4.53" height="18.78" fill="#3d7cc9"/>
<rect x="572.69" y="661.40" width="4.53" height="18.78" fill="#5892d4"/>
<rect x="577.71" y="661.40" width="4.53" height="18.78" fill="#3d7cc9"/>
<rect x="582.74" y="661.40" width="4.53" height="18.78" fill="#5892d4"/>
<rect x="587.77" y="652.74" width="4.53" height="27.45" fill="#3d7cc9"/>
<polyline points="559.9,655.6 564.9,655.6 569.9,655.3 575.0,655.3 580.0,654.9 585.0,654.5 590.0,652.4" fill="none" stroke="#111" stroke-width="0.8"/>
<circle cx="559.9" cy="655.6" r="0.95" fill="#111"/>
<circle cx="564.9" cy="655.6" r="0.95" fill="#111"/>
<circle cx="569.9" cy="655.3" r="0.95" fill="#111"/>
<circle cx="575.0" cy="655.3" r="0.95" fill="#111"/>
<circle cx="580.0" cy="654.9" r="0.95" fill="#111"/>
<circle cx="585.0" cy="654.5" r="0.95" fill="#111"/>
<circle cx="590.0" cy="652.4" r="0.95" fill="#111"/>
<polyline points="559.9,658.5 564.9,658.2 569.9,657.8 575.0,657.8 580.0,657.4 585.0,657.1 590.0,652.7" fill="none" stroke="#111" stroke-width="0.8"/>
<circle cx="559.9" cy="658.5" r="0.95" fill="#111"/>
<circle cx="564.9" cy="658.2" r="0.95" fill="#111"/>
<circle cx="569.9" cy="657.8" r="0.95" fill="#111"/>
<circle cx="575.0" cy="657.8" r="0.95" fill="#111"/>
<circle cx="580.0" cy="657.4" r="0.95" fill="#111"/>
<circle cx="585.0" cy="657.1" r="0.95" fill="#111"/>
<circle cx="590.0" cy="652.7" r="0.95" fill="#111"/>
<polyline points="559.9,666.5 564.9,666.5 569.9,666.5 575.0,666.5 580.0,666.5 585.0,666.5 590.0,653.5" fill="none" stroke="#111" stroke-width="0.8"/>
<circle cx="559.9" cy="666.5" r="0.95" fill="#111"/>
<circle cx="564.9" cy="666.5" r="0.95" fill="#111"/>
<circle cx="569.9" cy="666.5" r="0.95" fill="#111"/>
<circle cx="575.0" cy="666.5" r="0.95" fill="#111"/>
<circle cx="580.0" cy="666.5" r="0.95" fill="#111"/>
<circle cx="585.0" cy="666.5" r="0.95" fill="#111"/>
<circle cx="590.0" cy="653.5" r="0.95" fill="#111"/>
<line x1="557.0" y1="680.2" x2="593.4" y2="680.2" stroke="#111" stroke-width="1.2"/>
<rect x="595.80" y="656.35" width="4.56" height="23.84" fill="#3d7cc9"/>
<rect x="600.86" y="656.35" width="4.56" height="23.84" fill="#5892d4"/>
<rect x="605.91" y="657.07" width="4.56" height="23.12" fill="#3d7cc9"/>
<rect x="610.97" y="657.07" width="4.56" height="23.12" fill="#5892d4"/>
<rect x="616.03" y="657.79" width="4.56" height="22.40" fill="#3d7cc9"/>
<rect x="621.09" y="658.51" width="4.56" height="21.67" fill="#5892d4"/>
<rect x="626.14" y="653.46" width="4.56" height="26.73" fill="#3d7cc9"/>
<polyline points="598.1,653.5 603.1,653.5 608.2,653.5 613.2,653.5 618.3,653.5 623.4,653.1 628.4,652.7" fill="none" stroke="#111" stroke-width="0.8"/>
<circle cx="598.1" cy="653.5" r="0.95" fill="#111"/>
<circle cx="603.1" cy="653.5" r="0.95" fill="#111"/>
<circle cx="608.2" cy="653.5" r="0.95" fill="#111"/>
<circle cx="613.2" cy="653.5" r="0.95" fill="#111"/>
<circle cx="618.3" cy="653.5" r="0.95" fill="#111"/>
<circle cx="623.4" cy="653.1" r="0.95" fill="#111"/>
<circle cx="628.4" cy="652.7" r="0.95" fill="#111"/>
<polyline points="598.1,654.9 603.1,654.9 608.2,655.3 613.2,655.3 618.3,655.6 623.4,655.6 628.4,653.8" fill="none" stroke="#111" stroke-width="0.8"/>
<circle cx="598.1" cy="654.9" r="0.95" fill="#111"/>
<circle cx="603.1" cy="654.9" r="0.95" fill="#111"/>
<circle cx="608.2" cy="655.3" r="0.95" fill="#111"/>
<circle cx="613.2" cy="655.3" r="0.95" fill="#111"/>
<circle cx="618.3" cy="655.6" r="0.95" fill="#111"/>
<circle cx="623.4" cy="655.6" r="0.95" fill="#111"/>
<circle cx="628.4" cy="653.8" r="0.95" fill="#111"/>
<polyline points="598.1,656.3 603.1,656.7 608.2,657.1 613.2,657.4 618.3,658.2 623.4,658.5 628.4,653.8" fill="none" stroke="#111" stroke-width="0.8"/>
<circle cx="598.1" cy="656.3" r="0.95" fill="#111"/>
<circle cx="603.1" cy="656.7" r="0.95" fill="#111"/>
<circle cx="608.2" cy="657.1" r="0.95" fill="#111"/>
<circle cx="613.2" cy="657.4" r="0.95" fill="#111"/>
<circle cx="618.3" cy="658.2" r="0.95" fill="#111"/>
<circle cx="623.4" cy="658.5" r="0.95" fill="#111"/>
<circle cx="628.4" cy="653.8" r="0.95" fill="#111"/>
<line x1="595.2" y1="680.2" x2="631.8" y2="680.2" stroke="#111" stroke-width="1.2"/>
<rect x="634.00" y="664.29" width="4.56" height="15.89" fill="#3d7cc9"/>
<rect x="639.06" y="661.40" width="4.56" height="18.78" fill="#5892d4"/>
<rect x="644.11" y="662.85" width="4.56" height="17.34" fill="#3d7cc9"/>
<rect x="649.17" y="662.13" width="4.56" height="18.06" fill="#5892d4"/>
<rect x="654.23" y="661.40" width="4.56" height="18.78" fill="#3d7cc9"/>
<rect x="659.29" y="661.40" width="4.56" height="18.78" fill="#5892d4"/>
<rect x="664.34" y="662.85" width="4.56" height="17.34" fill="#3d7cc9"/>
<polyline points="636.3,658.5 641.3,657.8 646.4,658.5 651.5,657.8 656.5,657.8 661.6,657.8 666.6,657.8" fill="none" stroke="#111" stroke-width="0.8"/>
<circle cx="636.3" cy="658.5" r="0.95" fill="#111"/>
<circle cx="641.3" cy="657.8" r="0.95" fill="#111"/>
<circle cx="646.4" cy="658.5" r="0.95" fill="#111"/>
<circle cx="651.5" cy="657.8" r="0.95" fill="#111"/>
<circle cx="656.5" cy="657.8" r="0.95" fill="#111"/>
<circle cx="661.6" cy="657.8" r="0.95" fill="#111"/>
<circle cx="666.6" cy="657.8" r="0.95" fill="#111"/>
<polyline points="636.3,660.0 641.3,659.2 646.4,660.0 651.5,659.2 656.5,658.5 661.6,659.2 666.6,659.2" fill="none" stroke="#111" stroke-width="0.8"/>
<circle cx="636.3" cy="660.0" r="0.95" fill="#111"/>
<circle cx="641.3" cy="659.2" r="0.95" fill="#111"/>
<circle cx="646.4" cy="660.0" r="0.95" fill="#111"/>
<circle cx="651.5" cy="659.2" r="0.95" fill="#111"/>
<circle cx="656.5" cy="658.5" r="0.95" fill="#111"/>
<circle cx="661.6" cy="659.2" r="0.95" fill="#111"/>
<circle cx="666.6" cy="659.2" r="0.95" fill="#111"/>
<polyline points="636.3,665.0 641.3,660.7 646.4,663.6 651.5,662.9 656.5,660.7 661.6,661.4 666.6,663.6" fill="none" stroke="#111" stroke-width="0.8"/>
<circle cx="636.3" cy="665.0" r="0.95" fill="#111"/>
<circle cx="641.3" cy="660.7" r="0.95" fill="#111"/>
<circle cx="646.4" cy="663.6" r="0.95" fill="#111"/>
<circle cx="651.5" cy="662.9" r="0.95" fill="#111"/>
<circle cx="656.5" cy="660.7" r="0.95" fill="#111"/>
<circle cx="661.6" cy="661.4" r="0.95" fill="#111"/>
<circle cx="666.6" cy="663.6" r="0.95" fill="#111"/>
<line x1="633.4" y1="680.2" x2="670.0" y2="680.2" stroke="#111" stroke-width="1.2"/>
<line x1="480.2" y1="644.4" x2="480.2" y2="680.2" stroke="#111" stroke-width="1.1"/>
<line x1="478.2" y1="648.4" x2="480.2" y2="648.4" stroke="#111" stroke-width="0.9"/>
<text x="476.8" y="651.0" font-size="7.3" text-anchor="end" font-weight="normal" fill="#333" >1.0</text>
<line x1="478.2" y1="662.9" x2="480.2" y2="662.9" stroke="#111" stroke-width="0.9"/>
<text x="476.8" y="665.5" font-size="7.3" text-anchor="end" font-weight="normal" fill="#333" >0.8</text>
<line x1="478.2" y1="677.3" x2="480.2" y2="677.3" stroke="#111" stroke-width="0.9"/>
<text x="476.8" y="679.9" font-size="7.3" text-anchor="end" font-weight="normal" fill="#333" >0.6</text>
<rect x="675" y="643.8" width="12" height="36.9" fill="#d9d9d9"/>
<text x="678.3" y="662.2" font-size="5.4" fill="#333" text-anchor="middle" transform="rotate(90 678.3 662.2)">limma</text>
<rect x="481.20" y="696.78" width="4.56" height="26.01" fill="#3d7cc9"/>
<rect x="486.26" y="696.78" width="4.56" height="26.01" fill="#5892d4"/>
<rect x="491.31" y="696.78" width="4.56" height="26.01" fill="#3d7cc9"/>
<rect x="496.37" y="704.00" width="4.56" height="18.78" fill="#5892d4"/>
<rect x="501.43" y="704.00" width="4.56" height="18.78" fill="#3d7cc9"/>
<rect x="506.49" y="704.00" width="4.56" height="18.78" fill="#5892d4"/>
<rect x="511.54" y="695.34" width="4.56" height="27.45" fill="#3d7cc9"/>
<polyline points="483.5,696.1 488.5,696.1 493.6,696.1 498.6,698.2 503.7,698.2 508.8,697.5 513.8,695.0" fill="none" stroke="#111" stroke-width="0.8"/>
<circle cx="483.5" cy="696.1" r="0.95" fill="#111"/>
<circle cx="488.5" cy="696.1" r="0.95" fill="#111"/>
<circle cx="493.6" cy="696.1" r="0.95" fill="#111"/>
<circle cx="498.6" cy="698.2" r="0.95" fill="#111"/>
<circle cx="503.7" cy="698.2" r="0.95" fill="#111"/>
<circle cx="508.8" cy="697.5" r="0.95" fill="#111"/>
<circle cx="513.8" cy="695.0" r="0.95" fill="#111"/>
<polyline points="483.5,696.8 488.5,696.8 493.6,696.8 498.6,701.1 503.7,701.1 508.8,700.4 513.8,695.3" fill="none" stroke="#111" stroke-width="0.8"/>
<circle cx="483.5" cy="696.8" r="0.95" fill="#111"/>
<circle cx="488.5" cy="696.8" r="0.95" fill="#111"/>
<circle cx="493.6" cy="696.8" r="0.95" fill="#111"/>
<circle cx="498.6" cy="701.1" r="0.95" fill="#111"/>
<circle cx="503.7" cy="701.1" r="0.95" fill="#111"/>
<circle cx="508.8" cy="700.4" r="0.95" fill="#111"/>
<circle cx="513.8" cy="695.3" r="0.95" fill="#111"/>
<polyline points="483.5,696.8 488.5,696.8 493.6,696.8 498.6,709.1 503.7,709.1 508.8,709.1 513.8,695.3" fill="none" stroke="#111" stroke-width="0.8"/>
<circle cx="483.5" cy="696.8" r="0.95" fill="#111"/>
<circle cx="488.5" cy="696.8" r="0.95" fill="#111"/>
<circle cx="493.6" cy="696.8" r="0.95" fill="#111"/>
<circle cx="498.6" cy="709.1" r="0.95" fill="#111"/>
<circle cx="503.7" cy="709.1" r="0.95" fill="#111"/>
<circle cx="508.8" cy="709.1" r="0.95" fill="#111"/>
<circle cx="513.8" cy="695.3" r="0.95" fill="#111"/>
<line x1="480.6" y1="722.8" x2="517.2" y2="722.8" stroke="#111" stroke-width="1.2"/>
<rect x="519.40" y="696.78" width="4.56" height="26.01" fill="#3d7cc9"/>
<rect x="524.46" y="696.78" width="4.56" height="26.01" fill="#5892d4"/>
<rect x="529.51" y="696.78" width="4.56" height="26.01" fill="#3d7cc9"/>
<rect x="534.57" y="704.00" width="4.56" height="18.78" fill="#5892d4"/>
<rect x="539.63" y="704.00" width="4.56" height="18.78" fill="#3d7cc9"/>
<rect x="544.69" y="704.00" width="4.56" height="18.78" fill="#5892d4"/>
<rect x="549.74" y="695.34" width="4.56" height="27.45" fill="#3d7cc9"/>
<polyline points="521.7,696.1 526.7,696.1 531.8,696.1 536.8,698.2 541.9,698.2 547.0,697.5 552.0,695.0" fill="none" stroke="#111" stroke-width="0.8"/>
<circle cx="521.7" cy="696.1" r="0.95" fill="#111"/>
<circle cx="526.7" cy="696.1" r="0.95" fill="#111"/>
<circle cx="531.8" cy="696.1" r="0.95" fill="#111"/>
<circle cx="536.8" cy="698.2" r="0.95" fill="#111"/>
<circle cx="541.9" cy="698.2" r="0.95" fill="#111"/>
<circle cx="547.0" cy="697.5" r="0.95" fill="#111"/>
<circle cx="552.0" cy="695.0" r="0.95" fill="#111"/>
<polyline points="521.7,696.8 526.7,696.8 531.8,696.8 536.8,701.1 541.9,701.1 547.0,700.4 552.0,695.3" fill="none" stroke="#111" stroke-width="0.8"/>
<circle cx="521.7" cy="696.8" r="0.95" fill="#111"/>
<circle cx="526.7" cy="696.8" r="0.95" fill="#111"/>
<circle cx="531.8" cy="696.8" r="0.95" fill="#111"/>
<circle cx="536.8" cy="701.1" r="0.95" fill="#111"/>
<circle cx="541.9" cy="701.1" r="0.95" fill="#111"/>
<circle cx="547.0" cy="700.4" r="0.95" fill="#111"/>
<circle cx="552.0" cy="695.3" r="0.95" fill="#111"/>
<polyline points="521.7,696.8 526.7,696.8 531.8,696.8 536.8,709.1 541.9,709.1 547.0,709.1 552.0,695.3" fill="none" stroke="#111" stroke-width="0.8"/>
<circle cx="521.7" cy="696.8" r="0.95" fill="#111"/>
<circle cx="526.7" cy="696.8" r="0.95" fill="#111"/>
<circle cx="531.8" cy="696.8" r="0.95" fill="#111"/>
<circle cx="536.8" cy="709.1" r="0.95" fill="#111"/>
<circle cx="541.9" cy="709.1" r="0.95" fill="#111"/>
<circle cx="547.0" cy="709.1" r="0.95" fill="#111"/>
<circle cx="552.0" cy="695.3" r="0.95" fill="#111"/>
<line x1="518.8" y1="722.8" x2="555.4" y2="722.8" stroke="#111" stroke-width="1.2"/>
<rect x="557.60" y="704.00" width="4.53" height="18.78" fill="#3d7cc9"/>
<rect x="562.63" y="704.00" width="4.53" height="18.78" fill="#5892d4"/>
<rect x="567.66" y="704.00" width="4.53" height="18.78" fill="#3d7cc9"/>
<rect x="572.69" y="704.00" width="4.53" height="18.78" fill="#5892d4"/>
<rect x="577.71" y="704.00" width="4.53" height="18.78" fill="#3d7cc9"/>
<rect x="582.74" y="704.00" width="4.53" height="18.78" fill="#5892d4"/>
<rect x="587.77" y="695.34" width="4.53" height="27.45" fill="#3d7cc9"/>
<polyline points="559.9,698.2 564.9,698.2 569.9,697.9 575.0,697.9 580.0,697.5 585.0,697.1 590.0,695.0" fill="none" stroke="#111" stroke-width="0.8"/>
<circle cx="559.9" cy="698.2" r="0.95" fill="#111"/>
<circle cx="564.9" cy="698.2" r="0.95" fill="#111"/>
<circle cx="569.9" cy="697.9" r="0.95" fill="#111"/>
<circle cx="575.0" cy="697.9" r="0.95" fill="#111"/>
<circle cx="580.0" cy="697.5" r="0.95" fill="#111"/>
<circle cx="585.0" cy="697.1" r="0.95" fill="#111"/>
<circle cx="590.0" cy="695.0" r="0.95" fill="#111"/>
<polyline points="559.9,701.1 564.9,700.8 569.9,700.4 575.0,700.4 580.0,700.0 585.0,699.7 590.0,695.3" fill="none" stroke="#111" stroke-width="0.8"/>
<circle cx="559.9" cy="701.1" r="0.95" fill="#111"/>
<circle cx="564.9" cy="700.8" r="0.95" fill="#111"/>
<circle cx="569.9" cy="700.4" r="0.95" fill="#111"/>
<circle cx="575.0" cy="700.4" r="0.95" fill="#111"/>
<circle cx="580.0" cy="700.0" r="0.95" fill="#111"/>
<circle cx="585.0" cy="699.7" r="0.95" fill="#111"/>
<circle cx="590.0" cy="695.3" r="0.95" fill="#111"/>
<polyline points="559.9,709.1 564.9,709.1 569.9,709.1 575.0,709.1 580.0,709.1 585.0,709.1 590.0,696.1" fill="none" stroke="#111" stroke-width="0.8"/>
<circle cx="559.9" cy="709.1" r="0.95" fill="#111"/>
<circle cx="564.9" cy="709.1" r="0.95" fill="#111"/>
<circle cx="569.9" cy="709.1" r="0.95" fill="#111"/>
<circle cx="575.0" cy="709.1" r="0.95" fill="#111"/>
<circle cx="580.0" cy="709.1" r="0.95" fill="#111"/>
<circle cx="585.0" cy="709.1" r="0.95" fill="#111"/>
<circle cx="590.0" cy="696.1" r="0.95" fill="#111"/>
<line x1="557.0" y1="722.8" x2="593.4" y2="722.8" stroke="#111" stroke-width="1.2"/>
<rect x="595.80" y="698.95" width="4.56" height="23.84" fill="#3d7cc9"/>
<rect x="600.86" y="698.95" width="4.56" height="23.84" fill="#5892d4"/>
<rect x="605.91" y="699.67" width="4.56" height="23.12" fill="#3d7cc9"/>
<rect x="610.97" y="699.67" width="4.56" height="23.12" fill="#5892d4"/>
<rect x="616.03" y="700.39" width="4.56" height="22.40" fill="#3d7cc9"/>
<rect x="621.09" y="701.12" width="4.56" height="21.67" fill="#5892d4"/>
<rect x="626.14" y="696.06" width="4.56" height="26.73" fill="#3d7cc9"/>
<polyline points="598.1,696.1 603.1,696.1 608.2,696.1 613.2,696.1 618.3,696.1 623.4,695.7 628.4,695.3" fill="none" stroke="#111" stroke-width="0.8"/>
<circle cx="598.1" cy="696.1" r="0.95" fill="#111"/>
<circle cx="603.1" cy="696.1" r="0.95" fill="#111"/>
<circle cx="608.2" cy="696.1" r="0.95" fill="#111"/>
<circle cx="613.2" cy="696.1" r="0.95" fill="#111"/>
<circle cx="618.3" cy="696.1" r="0.95" fill="#111"/>
<circle cx="623.4" cy="695.7" r="0.95" fill="#111"/>
<circle cx="628.4" cy="695.3" r="0.95" fill="#111"/>
<polyline points="598.1,697.5 603.1,697.5 608.2,697.9 613.2,697.9 618.3,698.2 623.4,698.2 628.4,696.4" fill="none" stroke="#111" stroke-width="0.8"/>
<circle cx="598.1" cy="697.5" r="0.95" fill="#111"/>
<circle cx="603.1" cy="697.5" r="0.95" fill="#111"/>
<circle cx="608.2" cy="697.9" r="0.95" fill="#111"/>
<circle cx="613.2" cy="697.9" r="0.95" fill="#111"/>
<circle cx="618.3" cy="698.2" r="0.95" fill="#111"/>
<circle cx="623.4" cy="698.2" r="0.95" fill="#111"/>
<circle cx="628.4" cy="696.4" r="0.95" fill="#111"/>
<polyline points="598.1,698.9 603.1,699.3 608.2,699.7 613.2,700.0 618.3,700.8 623.4,701.1 628.4,696.4" fill="none" stroke="#111" stroke-width="0.8"/>
<circle cx="598.1" cy="698.9" r="0.95" fill="#111"/>
<circle cx="603.1" cy="699.3" r="0.95" fill="#111"/>
<circle cx="608.2" cy="699.7" r="0.95" fill="#111"/>
<circle cx="613.2" cy="700.0" r="0.95" fill="#111"/>
<circle cx="618.3" cy="700.8" r="0.95" fill="#111"/>
<circle cx="623.4" cy="701.1" r="0.95" fill="#111"/>
<circle cx="628.4" cy="696.4" r="0.95" fill="#111"/>
<line x1="595.2" y1="722.8" x2="631.8" y2="722.8" stroke="#111" stroke-width="1.2"/>
<rect x="634.00" y="706.89" width="4.56" height="15.89" fill="#3d7cc9"/>
<rect x="639.06" y="704.00" width="4.56" height="18.78" fill="#5892d4"/>
<rect x="644.11" y="705.45" width="4.56" height="17.34" fill="#3d7cc9"/>
<rect x="649.17" y="704.73" width="4.56" height="18.06" fill="#5892d4"/>
<rect x="654.23" y="704.00" width="4.56" height="18.78" fill="#3d7cc9"/>
<rect x="659.29" y="704.00" width="4.56" height="18.78" fill="#5892d4"/>
<rect x="664.34" y="705.45" width="4.56" height="17.34" fill="#3d7cc9"/>
<polyline points="636.3,701.1 641.3,700.4 646.4,701.1 651.5,700.4 656.5,700.4 661.6,700.4 666.6,700.4" fill="none" stroke="#111" stroke-width="0.8"/>
<circle cx="636.3" cy="701.1" r="0.95" fill="#111"/>
<circle cx="641.3" cy="700.4" r="0.95" fill="#111"/>
<circle cx="646.4" cy="701.1" r="0.95" fill="#111"/>
<circle cx="651.5" cy="700.4" r="0.95" fill="#111"/>
<circle cx="656.5" cy="700.4" r="0.95" fill="#111"/>
<circle cx="661.6" cy="700.4" r="0.95" fill="#111"/>
<circle cx="666.6" cy="700.4" r="0.95" fill="#111"/>
<polyline points="636.3,702.6 641.3,701.8 646.4,702.6 651.5,701.8 656.5,701.1 661.6,701.8 666.6,701.8" fill="none" stroke="#111" stroke-width="0.8"/>
<circle cx="636.3" cy="702.6" r="0.95" fill="#111"/>
<circle cx="641.3" cy="701.8" r="0.95" fill="#111"/>
<circle cx="646.4" cy="702.6" r="0.95" fill="#111"/>
<circle cx="651.5" cy="701.8" r="0.95" fill="#111"/>
<circle cx="656.5" cy="701.1" r="0.95" fill="#111"/>
<circle cx="661.6" cy="701.8" r="0.95" fill="#111"/>
<circle cx="666.6" cy="701.8" r="0.95" fill="#111"/>
<polyline points="636.3,707.6 641.3,703.3 646.4,706.2 651.5,705.5 656.5,703.3 661.6,704.0 666.6,706.2" fill="none" stroke="#111" stroke-width="0.8"/>
<circle cx="636.3" cy="707.6" r="0.95" fill="#111"/>
<circle cx="641.3" cy="703.3" r="0.95" fill="#111"/>
<circle cx="646.4" cy="706.2" r="0.95" fill="#111"/>
<circle cx="651.5" cy="705.5" r="0.95" fill="#111"/>
<circle cx="656.5" cy="703.3" r="0.95" fill="#111"/>
<circle cx="661.6" cy="704.0" r="0.95" fill="#111"/>
<circle cx="666.6" cy="706.2" r="0.95" fill="#111"/>
<line x1="633.4" y1="722.8" x2="670.0" y2="722.8" stroke="#111" stroke-width="1.2"/>
<line x1="480.2" y1="687.0" x2="480.2" y2="722.8" stroke="#111" stroke-width="1.1"/>
<line x1="478.2" y1="691.0" x2="480.2" y2="691.0" stroke="#111" stroke-width="0.9"/>
<text x="476.8" y="693.6" font-size="7.3" text-anchor="end" font-weight="normal" fill="#333" >1.0</text>
<line x1="478.2" y1="705.5" x2="480.2" y2="705.5" stroke="#111" stroke-width="0.9"/>
<text x="476.8" y="708.1" font-size="7.3" text-anchor="end" font-weight="normal" fill="#333" >0.8</text>
<line x1="478.2" y1="719.9" x2="480.2" y2="719.9" stroke="#111" stroke-width="0.9"/>
<text x="476.8" y="722.5" font-size="7.3" text-anchor="end" font-weight="normal" fill="#333" >0.6</text>
<rect x="675" y="686.4" width="12" height="36.9" fill="#d9d9d9"/>
<text x="678.3" y="704.8" font-size="5.4" fill="#333" text-anchor="middle" transform="rotate(90 678.3 704.8)">NoBC</text>
<text x="575.9" y="736.8" font-size="7.0" text-anchor="middle" font-weight="normal" fill="#222" >Statistical Test (t-test, ..., DESeq2)</text>
<line x1="487.0" y1="746.2" x2="494.0" y2="746.2" stroke="#111" stroke-width="0.8"/><circle cx="490.5" cy="746.2" r="1.3" fill="#111"/>
<text x="497.6" y="748.8" font-size="7.5" text-anchor="start" font-weight="normal" fill="#222" >Accuracy</text>
<line x1="536" y1="746.2" x2="543" y2="746.2" stroke="#111" stroke-width="0.8"/><circle cx="539.6" cy="746.2" r="0.9" fill="#111"/>
<text x="545.6" y="748.8" font-size="7.5" text-anchor="start" font-weight="normal" fill="#222" >Recall</text>
<line x1="575.7" y1="746.2" x2="582.7" y2="746.2" stroke="#111" stroke-width="0.8"/><circle cx="579.2" cy="746.2" r="1.6" fill="#111"/>
<text x="586.2" y="748.8" font-size="7.5" text-anchor="start" font-weight="normal" fill="#222" >Precision</text>
<rect x="628.9" y="743.4" width="5.4" height="5.4" fill="#5892d4"/>
<text x="636.7" y="748.8" font-size="7.5" text-anchor="start" font-weight="normal" fill="#222" >F1-Score</text><text x="350.5" y="775.5" font-size="10.4" text-anchor="middle" font-weight="normal" fill="#222" >Best method combination: SoftImpute Sum Combat-P DESeq2</text>
<text x="4.0" y="796.0" font-size="17.5" text-anchor="start" font-weight="bold" fill="#000" >g</text>
<text x="35.3" y="792.7" font-size="8.6" text-anchor="start" font-weight="normal" fill="#222" >Sample</text>
<circle cx="76.1" cy="789.6" r="2.3" fill="#f4a582"/>
<text x="80.3" y="792.7" font-size="8.6" text-anchor="start" font-weight="normal" fill="#222" >S1</text>
<circle cx="103.4" cy="789.6" r="2.3" fill="#fddc84"/>
<text x="107.6" y="792.7" font-size="8.6" text-anchor="start" font-weight="normal" fill="#222" >S2</text>
<circle cx="131.7" cy="789.6" r="2.3" fill="#c994f0"/>
<text x="135.9" y="792.7" font-size="8.6" text-anchor="start" font-weight="normal" fill="#222" >S3</text>
<circle cx="159.6" cy="789.6" r="2.3" fill="#5ab4f0"/>
<text x="163.8" y="792.7" font-size="8.6" text-anchor="start" font-weight="normal" fill="#222" >S4</text>
<circle cx="187.9" cy="789.6" r="2.3" fill="#8fd18f"/>
<text x="192.1" y="792.7" font-size="8.6" text-anchor="start" font-weight="normal" fill="#222" >S5</text>
<text x="35.3" y="807.8" font-size="8.6" text-anchor="start" font-weight="normal" fill="#222" >Batch</text>
<circle cx="76.1" cy="804.8" r="1.9" fill="none" stroke="#222" stroke-width="1"/>
<text x="80.8" y="807.8" font-size="8.6" text-anchor="start" font-weight="normal" fill="#222" >1</text>
<path d="M103.4,802.7 L105.4,806.4 L101.4,806.4 Z" fill="none" stroke="#222" stroke-width="0.8"/>
<text x="108.8" y="807.8" font-size="8.6" text-anchor="start" font-weight="normal" fill="#222" >2</text>
<rect x="130" y="803.2" width="3.4" height="3.4" fill="none" stroke="#222" stroke-width="0.8"/>
<text x="137.2" y="807.8" font-size="8.6" text-anchor="start" font-weight="normal" fill="#222" >3</text>
<rect x="33.3" y="813.9" width="178.0" height="181.10000000000002" fill="#fff" stroke="#111" stroke-width="1.1"/>
<line x1="31.299999999999997" y1="822.3" x2="33.3" y2="822.3" stroke="#111" stroke-width="0.9"/>
<text x="29.8" y="825.2" font-size="8.2" text-anchor="end" font-weight="normal" fill="#222" >16</text>
<line x1="31.299999999999997" y1="863.6" x2="33.3" y2="863.6" stroke="#111" stroke-width="0.9"/>
<text x="29.8" y="866.5" font-size="8.2" text-anchor="end" font-weight="normal" fill="#222" >8</text>
<line x1="31.299999999999997" y1="905.0" x2="33.3" y2="905.0" stroke="#111" stroke-width="0.9"/>
<text x="29.8" y="907.9" font-size="8.2" text-anchor="end" font-weight="normal" fill="#222" >0</text>
<line x1="31.299999999999997" y1="946.4" x2="33.3" y2="946.4" stroke="#111" stroke-width="0.9"/>
<text x="29.8" y="949.2" font-size="8.2" text-anchor="end" font-weight="normal" fill="#222" >-8</text>
<line x1="31.299999999999997" y1="987.7" x2="33.3" y2="987.7" stroke="#111" stroke-width="0.9"/>
<text x="29.8" y="990.6" font-size="8.2" text-anchor="end" font-weight="normal" fill="#222" >-16</text>
<line x1="42.0" y1="995.0" x2="42.0" y2="997.0" stroke="#111" stroke-width="0.9"/>
<text x="42.0" y="1006.8" font-size="8.2" text-anchor="middle" font-weight="normal" fill="#222" >-58</text>
<line x1="82.3" y1="995.0" x2="82.3" y2="997.0" stroke="#111" stroke-width="0.9"/>
<text x="82.3" y="1006.8" font-size="8.2" text-anchor="middle" font-weight="normal" fill="#222" >-29</text>
<line x1="122.6" y1="995.0" x2="122.6" y2="997.0" stroke="#111" stroke-width="0.9"/>
<text x="122.6" y="1006.8" font-size="8.2" text-anchor="middle" font-weight="normal" fill="#222" >0</text>
<line x1="162.9" y1="995.0" x2="162.9" y2="997.0" stroke="#111" stroke-width="0.9"/>
<text x="162.9" y="1006.8" font-size="8.2" text-anchor="middle" font-weight="normal" fill="#222" >29</text>
<line x1="203.2" y1="995.0" x2="203.2" y2="997.0" stroke="#111" stroke-width="0.9"/>
<text x="203.2" y="1006.8" font-size="8.2" text-anchor="middle" font-weight="normal" fill="#222" >58</text>
<text x="122.6" y="1017.2" font-size="9.2" text-anchor="middle" font-weight="normal" fill="#222" >PC 1</text>
<text x="14.5" y="904" font-size="9.2" fill="#222" text-anchor="middle" transform="rotate(-90 14.5 904)">PC 2</text>
<text x="199.7" y="830.3" font-size="8.8" text-anchor="end" font-weight="normal" fill="#222" >ARI= 1.000</text>
<ellipse cx="59.8" cy="865.8" rx="2.8" ry="36" transform="rotate(0 59.8 865.8)" fill="none" stroke="#4aa84a" stroke-width="1.2" stroke-dasharray="3,1.8"/>
<path d="M60.7,837.3 L62.7,840.8 L58.7,840.8 Z" fill="none" stroke="#4aa84a" stroke-width="1.3"/>
<path d="M61.4,841.8 L63.4,845.3 L59.4,845.3 Z" fill="none" stroke="#4aa84a" stroke-width="1.3"/>
<path d="M61.3,845.4 L63.3,848.9 L59.3,848.9 Z" fill="none" stroke="#4aa84a" stroke-width="1.3"/>
<path d="M59.7,846.5 L61.7,850.0 L57.7,850.0 Z" fill="none" stroke="#4aa84a" stroke-width="1.3"/>
<path d="M60.3,853.9 L62.3,857.4 L58.3,857.4 Z" fill="none" stroke="#4aa84a" stroke-width="1.3"/>
<circle cx="58.4" cy="859.7" r="1.7" fill="none" stroke="#4aa84a" stroke-width="1.3"/>
<circle cx="58.9" cy="861.8" r="1.7" fill="none" stroke="#4aa84a" stroke-width="1.3"/>
<circle cx="60.1" cy="866.0" r="1.7" fill="none" stroke="#4aa84a" stroke-width="1.3"/>
<circle cx="58.8" cy="867.8" r="1.7" fill="none" stroke="#4aa84a" stroke-width="1.3"/>
<circle cx="61.3" cy="872.6" r="1.7" fill="none" stroke="#4aa84a" stroke-width="1.3"/>
<rect x="56.9" y="876.6" width="3.4" height="3.4" fill="none" stroke="#4aa84a" stroke-width="1.3"/>
<rect x="56.8" y="880.6" width="3.4" height="3.4" fill="none" stroke="#4aa84a" stroke-width="1.3"/>
<rect x="56.7" y="883.8" width="3.4" height="3.4" fill="none" stroke="#4aa84a" stroke-width="1.3"/>
<rect x="59.5" y="885.2" width="3.4" height="3.4" fill="none" stroke="#4aa84a" stroke-width="1.3"/>
<rect x="57.1" y="889.9" width="3.4" height="3.4" fill="none" stroke="#4aa84a" stroke-width="1.3"/>
<ellipse cx="194.8" cy="873.3" rx="6.3" ry="30" transform="rotate(-13 194.8 873.3)" fill="none" stroke="#e8682e" stroke-width="1.2" stroke-dasharray="3,1.8"/>
<rect x="191.4" y="850.6" width="3.4" height="3.4" fill="none" stroke="#e8682e" stroke-width="1.3"/>
<rect x="192.3" y="851.4" width="3.4" height="3.4" fill="none" stroke="#e8682e" stroke-width="1.3"/>
<rect x="190.9" y="855.8" width="3.4" height="3.4" fill="none" stroke="#e8682e" stroke-width="1.3"/>
<rect x="193.5" y="857.4" width="3.4" height="3.4" fill="none" stroke="#e8682e" stroke-width="1.3"/>
<rect x="194.8" y="862.0" width="3.4" height="3.4" fill="none" stroke="#e8682e" stroke-width="1.3"/>
<circle cx="192.0" cy="868.7" r="1.7" fill="none" stroke="#e8682e" stroke-width="1.3"/>
<circle cx="191.3" cy="870.4" r="1.7" fill="none" stroke="#e8682e" stroke-width="1.3"/>
<circle cx="191.1" cy="873.0" r="1.7" fill="none" stroke="#e8682e" stroke-width="1.3"/>
<circle cx="196.2" cy="875.6" r="1.7" fill="none" stroke="#e8682e" stroke-width="1.3"/>
<circle cx="197.3" cy="877.7" r="1.7" fill="none" stroke="#e8682e" stroke-width="1.3"/>
<path d="M195.3,880.4 L197.3,883.9 L193.3,883.9 Z" fill="none" stroke="#e8682e" stroke-width="1.3"/>
<path d="M197.8,884.7 L199.8,888.2 L195.8,888.2 Z" fill="none" stroke="#e8682e" stroke-width="1.3"/>
<path d="M198.1,886.3 L200.1,889.8 L196.1,889.8 Z" fill="none" stroke="#e8682e" stroke-width="1.3"/>
<path d="M195.7,891.4 L197.7,894.9 L193.7,894.9 Z" fill="none" stroke="#e8682e" stroke-width="1.3"/>
<path d="M196.4,895.4 L198.4,898.9 L194.4,898.9 Z" fill="none" stroke="#e8682e" stroke-width="1.3"/>
<ellipse cx="95.5" cy="925" rx="6" ry="26" transform="rotate(24 95.5 925)" fill="none" stroke="#2c90d2" stroke-width="1.2" stroke-dasharray="3,1.8"/>
<rect x="103.9" y="907.3" width="3.4" height="3.4" fill="none" stroke="#2c90d2" stroke-width="1.3"/>
<rect x="103.2" y="907.8" width="3.4" height="3.4" fill="none" stroke="#2c90d2" stroke-width="1.3"/>
<rect x="100.2" y="910.5" width="3.4" height="3.4" fill="none" stroke="#2c90d2" stroke-width="1.3"/>
<rect x="95.6" y="910.5" width="3.4" height="3.4" fill="none" stroke="#2c90d2" stroke-width="1.3"/>
<rect x="100.8" y="916.3" width="3.4" height="3.4" fill="none" stroke="#2c90d2" stroke-width="1.3"/>
<path d="M99.9,917.9 L101.9,921.4 L97.9,921.4 Z" fill="none" stroke="#2c90d2" stroke-width="1.3"/>
<path d="M99.3,922.9 L101.3,926.4 L97.3,926.4 Z" fill="none" stroke="#2c90d2" stroke-width="1.3"/>
<path d="M94.6,922.0 L96.6,925.5 L92.6,925.5 Z" fill="none" stroke="#2c90d2" stroke-width="1.3"/>
<path d="M96.3,926.4 L98.3,929.9 L94.3,929.9 Z" fill="none" stroke="#2c90d2" stroke-width="1.3"/>
<path d="M95.5,927.8 L97.5,931.3 L93.5,931.3 Z" fill="none" stroke="#2c90d2" stroke-width="1.3"/>
<circle cx="94.3" cy="934.5" r="1.7" fill="none" stroke="#2c90d2" stroke-width="1.3"/>
<circle cx="94.7" cy="935.4" r="1.7" fill="none" stroke="#2c90d2" stroke-width="1.3"/>
<circle cx="89.2" cy="936.1" r="1.7" fill="none" stroke="#2c90d2" stroke-width="1.3"/>
<circle cx="91.6" cy="941.8" r="1.7" fill="none" stroke="#2c90d2" stroke-width="1.3"/>
<circle cx="90.8" cy="943.7" r="1.7" fill="none" stroke="#2c90d2" stroke-width="1.3"/>
<ellipse cx="121.6" cy="929.5" rx="4.2" ry="17.5" transform="rotate(0 121.6 929.5)" fill="none" stroke="#b463e3" stroke-width="1.2" stroke-dasharray="3,1.8"/>
<rect x="118.9" y="914.8" width="3.4" height="3.4" fill="none" stroke="#b463e3" stroke-width="1.3"/>
<rect x="118.1" y="916.3" width="3.4" height="3.4" fill="none" stroke="#b463e3" stroke-width="1.3"/>
<rect x="118.0" y="917.7" width="3.4" height="3.4" fill="none" stroke="#b463e3" stroke-width="1.3"/>
<rect x="122.6" y="920.7" width="3.4" height="3.4" fill="none" stroke="#b463e3" stroke-width="1.3"/>
<rect x="117.4" y="921.6" width="3.4" height="3.4" fill="none" stroke="#b463e3" stroke-width="1.3"/>
<path d="M121.8,924.6 L123.8,928.1 L119.8,928.1 Z" fill="none" stroke="#b463e3" stroke-width="1.3"/>
<path d="M120.2,925.4 L122.2,928.9 L118.2,928.9 Z" fill="none" stroke="#b463e3" stroke-width="1.3"/>
<path d="M123.4,927.6 L125.4,931.1 L121.4,931.1 Z" fill="none" stroke="#b463e3" stroke-width="1.3"/>
<path d="M121.2,929.2 L123.2,932.7 L119.2,932.7 Z" fill="none" stroke="#b463e3" stroke-width="1.3"/>
<path d="M123.9,930.3 L125.9,933.8 L121.9,933.8 Z" fill="none" stroke="#b463e3" stroke-width="1.3"/>
<circle cx="121.6" cy="934.2" r="1.7" fill="none" stroke="#b463e3" stroke-width="1.3"/>
<circle cx="119.6" cy="937.6" r="1.7" fill="none" stroke="#b463e3" stroke-width="1.3"/>
<circle cx="124.1" cy="939.3" r="1.7" fill="none" stroke="#b463e3" stroke-width="1.3"/>
<circle cx="123.2" cy="940.9" r="1.7" fill="none" stroke="#b463e3" stroke-width="1.3"/>
<circle cx="121.2" cy="941.8" r="1.7" fill="none" stroke="#b463e3" stroke-width="1.3"/>
<ellipse cx="140.2" cy="928.8" rx="9.5" ry="20" transform="rotate(8 140.2 928.8)" fill="none" stroke="#d6a326" stroke-width="1.2" stroke-dasharray="3,1.8"/>
<rect x="144.9" y="912.2" width="3.4" height="3.4" fill="none" stroke="#d6a326" stroke-width="1.3"/>
<rect x="139.8" y="913.9" width="3.4" height="3.4" fill="none" stroke="#d6a326" stroke-width="1.3"/>
<rect x="144.1" y="918.2" width="3.4" height="3.4" fill="none" stroke="#d6a326" stroke-width="1.3"/>
<rect x="139.0" y="919.6" width="3.4" height="3.4" fill="none" stroke="#d6a326" stroke-width="1.3"/>
<rect x="142.2" y="921.1" width="3.4" height="3.4" fill="none" stroke="#d6a326" stroke-width="1.3"/>
<circle cx="138.2" cy="924.2" r="1.7" fill="none" stroke="#d6a326" stroke-width="1.3"/>
<circle cx="136.2" cy="925.9" r="1.7" fill="none" stroke="#d6a326" stroke-width="1.3"/>
<circle cx="146.2" cy="929.4" r="1.7" fill="none" stroke="#d6a326" stroke-width="1.3"/>
<circle cx="141.3" cy="932.1" r="1.7" fill="none" stroke="#d6a326" stroke-width="1.3"/>
<circle cx="137.6" cy="932.7" r="1.7" fill="none" stroke="#d6a326" stroke-width="1.3"/>
<path d="M136.6,931.8 L138.6,935.3 L134.6,935.3 Z" fill="none" stroke="#d6a326" stroke-width="1.3"/>
<path d="M143.4,936.4 L145.4,939.9 L141.4,939.9 Z" fill="none" stroke="#d6a326" stroke-width="1.3"/>
<path d="M142.3,937.5 L144.3,941.0 L140.3,941.0 Z" fill="none" stroke="#d6a326" stroke-width="1.3"/>
<path d="M140.7,940.3 L142.7,943.8 L138.7,943.8 Z" fill="none" stroke="#d6a326" stroke-width="1.3"/>
<path d="M141.2,942.3 L143.2,945.8 L139.2,945.8 Z" fill="none" stroke="#d6a326" stroke-width="1.3"/><text x="244.3" y="796.4" font-size="17.5" text-anchor="start" font-weight="bold" fill="#000" >h</text>
<rect x="267.0" y="814.5" width="174.60000000000002" height="183.79999999999995" fill="#fff" stroke="#111" stroke-width="1.1"/>
<polygon points="270.4,998.3 270.4,998.3 270.4,944.2 271.3,926.2 272.1,915.4 273.8,899.1 275.5,888.3 277.2,879.3 279.8,870.3 282.4,863.1 285.0,857.7 286.7,854.1 287.5,850.5 287.5,998.3" fill="#fde3e3"/>
<line x1="287.5" y1="998.3" x2="287.5" y2="854.1" stroke="#e8262b" stroke-width="1.2"/>
<polyline points="270.4,998.3 270.4,944.2 271.3,926.2 272.1,915.4 273.8,899.1 275.5,888.3 277.2,879.3 279.8,870.3 282.4,863.1 285.0,857.7 286.7,854.1 289.2,847.7 292.7,845.0 297.8,841.4 304.6,836.0 313.2,832.4 321.8,828.8 330.3,825.2 338.9,822.5 347.4,821.1 356.0,820.7 373.1,820.2 390.2,819.8 407.4,819.3 424.5,818.9 441.6,818.0" fill="none" stroke="#f5a11c" stroke-width="1.6"/>
<circle cx="285.8" cy="855.9" r="2.3" fill="#111"/>
<line x1="265.0" y1="998.3" x2="267.0" y2="998.3" stroke="#111" stroke-width="0.9"/>
<text x="263.5" y="1001.2" font-size="8.2" text-anchor="end" font-weight="normal" fill="#222" >0.0</text>
<line x1="270.4" y1="998.3" x2="270.4" y2="1000.3" stroke="#111" stroke-width="0.9"/>
<text x="270.4" y="1009.0" font-size="8.2" text-anchor="middle" font-weight="normal" fill="#222" >0.0</text>
<line x1="265.0" y1="962.2" x2="267.0" y2="962.2" stroke="#111" stroke-width="0.9"/>
<text x="263.5" y="965.1" font-size="8.2" text-anchor="end" font-weight="normal" fill="#222" >0.2</text>
<line x1="304.6" y1="998.3" x2="304.6" y2="1000.3" stroke="#111" stroke-width="0.9"/>
<text x="304.6" y="1009.0" font-size="8.2" text-anchor="middle" font-weight="normal" fill="#222" >0.2</text>
<line x1="265.0" y1="926.2" x2="267.0" y2="926.2" stroke="#111" stroke-width="0.9"/>
<text x="263.5" y="929.1" font-size="8.2" text-anchor="end" font-weight="normal" fill="#222" >0.4</text>
<line x1="338.9" y1="998.3" x2="338.9" y2="1000.3" stroke="#111" stroke-width="0.9"/>
<text x="338.9" y="1009.0" font-size="8.2" text-anchor="middle" font-weight="normal" fill="#222" >0.4</text>
<line x1="265.0" y1="890.1" x2="267.0" y2="890.1" stroke="#111" stroke-width="0.9"/>
<text x="263.5" y="893.0" font-size="8.2" text-anchor="end" font-weight="normal" fill="#222" >0.6</text>
<line x1="373.1" y1="998.3" x2="373.1" y2="1000.3" stroke="#111" stroke-width="0.9"/>
<text x="373.1" y="1009.0" font-size="8.2" text-anchor="middle" font-weight="normal" fill="#222" >0.6</text>
<line x1="265.0" y1="854.1" x2="267.0" y2="854.1" stroke="#111" stroke-width="0.9"/>
<text x="263.5" y="857.0" font-size="8.2" text-anchor="end" font-weight="normal" fill="#222" >0.8</text>
<line x1="407.4" y1="998.3" x2="407.4" y2="1000.3" stroke="#111" stroke-width="0.9"/>
<text x="407.4" y="1009.0" font-size="8.2" text-anchor="middle" font-weight="normal" fill="#222" >0.8</text>
<line x1="265.0" y1="818.0" x2="267.0" y2="818.0" stroke="#111" stroke-width="0.9"/>
<text x="263.5" y="820.9" font-size="8.2" text-anchor="end" font-weight="normal" fill="#222" >1.0</text>
<line x1="441.6" y1="998.3" x2="441.6" y2="1000.3" stroke="#111" stroke-width="0.9"/>
<text x="441.6" y="1009.0" font-size="8.2" text-anchor="middle" font-weight="normal" fill="#222" >1.0</text>
<text x="355.0" y="1019.0" font-size="9.3" text-anchor="middle" font-weight="normal" fill="#222" >False Positive Rate</text>
<text x="247.5" y="906" font-size="9" fill="#222" text-anchor="middle" transform="rotate(-90 247.5 906)">True Positive Rate</text>
<text x="291.5" y="861.3" font-size="7.6" text-anchor="start" font-weight="normal" fill="#222" >Thr: 3.231</text>
<text x="291.5" y="870.0" font-size="7.6" text-anchor="start" font-weight="normal" fill="#222" >FPR: 0.09</text>
<text x="291.5" y="878.6" font-size="7.6" text-anchor="start" font-weight="normal" fill="#222" >TPR: 0.79</text>
<text x="432.2" y="986.0" font-size="7.6" text-anchor="end" font-weight="normal" fill="#222" >pAUC = 0.067</text><text x="473.6" y="795.8" font-size="16.5" text-anchor="start" font-weight="bold" fill="#000" >i</text>
<circle cx="534.3" cy="791.6" r="1.3" fill="#3d9bf2"/>
<text x="536.9" y="794.5" font-size="8.8" fill="#222">TP <tspan font-style="italic">E. coli</tspan></text>
<circle cx="590.8" cy="791.6" r="1.3" fill="#f2667c"/>
<text x="593.0" y="794.5" font-size="8.8" text-anchor="start" font-weight="normal" fill="#222" >TP Yeast</text>
<circle cx="534.3" cy="806.4" r="1.3" fill="#6cc7b3"/>
<text x="536.9" y="809.5" font-size="8.8" text-anchor="start" font-weight="normal" fill="#222" >TN Human</text>
<circle cx="590.8" cy="806.4" r="1.3" fill="#888"/>
<text x="594.0" y="809.5" font-size="8.8" text-anchor="start" font-weight="normal" fill="#222" >FP &amp; FN</text>
<rect x="498.2" y="814.2" width="175.2" height="183.0" fill="#fff" stroke="#111" stroke-width="1.1"/>
<path d="M559.4 978.1h0M606.9 964.6h0M601.1 965.6h0M563.0 984.6h0M561.2 973.7h0M556.7 976.6h0M554.5 979.3h0M602.6 980.1h0M607.4 964.6h0M554.8 968.7h0M555.4 969.5h0M561.0 976.4h0M563.4 978.0h0M563.4 966.4h0M549.8 958.0h0M610.1 982.8h0M557.1 977.7h0M562.5 966.9h0M549.4 972.7h0M561.0 980.5h0M561.3 972.3h0M557.9 977.1h0M600.9 968.3h0M601.1 980.8h0M555.0 941.7h0M601.1 981.1h0M562.0 974.7h0M547.1 938.5h0M611.5 964.1h0M561.3 965.2h0M561.7 963.6h0M553.9 939.3h0M548.7 944.2h0M554.6 974.7h0M611.4 961.9h0M554.7 980.7h0M608.0 984.4h0M605.5 967.9h0M605.8 973.3h0M602.4 973.8h0M548.5 971.8h0M556.9 968.2h0M604.1 970.1h0M604.0 972.7h0M559.1 985.5h0M556.2 973.4h0M555.0 961.8h0M553.7 965.5h0M553.6 957.3h0M611.4 985.9h0M563.5 965.1h0M603.2 976.8h0M552.9 979.2h0M605.4 968.6h0M558.8 975.5h0M604.6 981.5h0M552.2 939.4h0M611.3 964.1h0M556.1 943.3h0M563.0 979.2h0M563.1 973.2h0M608.5 967.1h0M550.0 970.1h0M555.4 956.7h0M602.2 974.5h0M550.0 955.9h0M603.1 968.9h0M607.6 982.7h0M554.0 976.7h0M605.8 975.8h0" stroke="#888" stroke-width="1.25" stroke-linecap="round" stroke-opacity="0.85"/>
<path d="M543.7 939.9h0M542.4 967.9h0M540.2 928.7h0M535.0 822.2h0M525.1 894.8h0M555.3 945.8h0M538.5 822.2h0M539.5 939.6h0M544.3 916.3h0M529.0 911.5h0M548.4 972.2h0M504.0 927.0h0M544.2 974.0h0M554.0 930.9h0M530.2 924.8h0M522.4 943.6h0M550.1 971.2h0M547.1 899.0h0M538.7 822.2h0M532.7 963.6h0M546.4 961.4h0M549.4 910.5h0M538.5 822.2h0M549.9 925.8h0M547.7 880.1h0M539.7 929.1h0M538.7 915.4h0M548.8 903.0h0M552.9 956.7h0M540.7 850.9h0M556.5 954.3h0M554.1 946.8h0M540.0 831.7h0M535.2 850.1h0M547.7 892.2h0M548.9 919.9h0M537.1 975.0h0M531.3 834.3h0M545.6 958.6h0M549.2 963.0h0M511.4 922.7h0M541.4 863.7h0M544.8 971.7h0M545.3 912.8h0M524.6 909.0h0M519.3 971.1h0M535.8 911.1h0M536.7 822.2h0M546.6 918.0h0M542.4 965.2h0M539.9 911.6h0M536.1 822.2h0M533.3 962.9h0M523.5 967.6h0M543.3 928.9h0M546.6 907.7h0M548.8 939.4h0M531.0 879.8h0M547.2 975.0h0M544.0 881.0h0M551.2 939.0h0M547.5 889.6h0M546.6 822.2h0M546.5 970.0h0M546.0 974.2h0M545.1 923.2h0M538.1 912.5h0M532.4 962.6h0M548.9 903.9h0M543.1 822.2h0M557.2 969.6h0M551.2 941.5h0M555.0 974.5h0M537.0 950.8h0M534.8 953.9h0M540.5 974.5h0M544.0 934.8h0M527.0 925.4h0M542.0 841.8h0M555.3 957.8h0M554.8 945.9h0M545.0 878.7h0M534.1 956.2h0M536.9 822.2h0M553.1 954.7h0M538.7 873.6h0M543.9 968.7h0M545.2 929.7h0M538.9 972.5h0M536.5 951.4h0M539.0 967.0h0M543.7 822.2h0M546.6 822.2h0M548.7 974.6h0M553.8 954.2h0M553.8 951.4h0M538.5 951.0h0M527.3 891.4h0M538.3 883.3h0M543.6 867.2h0M532.9 822.2h0M550.2 906.9h0M534.9 845.0h0M534.2 822.2h0M533.4 822.2h0M554.7 973.8h0M543.7 950.5h0M538.5 822.2h0M540.1 955.1h0M548.1 928.1h0M542.4 954.3h0M547.2 920.0h0M534.3 822.2h0M533.3 968.7h0M546.3 974.4h0M548.1 969.3h0M538.7 973.2h0M548.6 895.4h0M536.0 826.9h0M557.3 970.6h0M557.4 965.2h0M538.2 864.7h0M536.9 822.2h0M526.7 888.1h0M531.2 966.7h0M536.6 943.5h0M543.5 930.6h0M503.1 953.9h0M533.3 960.5h0M531.3 956.3h0M556.4 962.0h0M548.7 955.2h0M550.3 937.6h0M546.1 900.5h0M536.9 822.2h0M539.4 840.7h0M558.3 972.6h0M543.7 858.5h0M530.9 857.1h0M554.5 970.5h0M549.5 921.3h0M551.4 974.7h0M542.4 907.9h0M558.0 974.8h0M551.1 919.6h0M533.1 822.2h0M537.8 955.0h0M532.9 919.5h0M555.7 970.8h0M524.9 954.7h0M539.3 907.2h0M548.6 924.0h0M545.1 875.4h0M535.9 822.2h0M537.1 924.1h0M545.6 968.6h0M536.7 939.8h0M532.1 893.7h0M532.8 848.1h0M537.4 822.2h0M547.4 948.1h0M558.1 975.0h0M530.4 972.7h0M529.6 926.6h0M543.0 914.6h0M543.5 948.1h0M542.0 822.2h0M536.6 822.2h0M554.5 971.9h0M557.9 971.5h0M531.6 822.2h0M542.7 973.7h0M547.8 973.1h0M547.0 935.2h0M529.2 952.8h0M548.3 970.7h0M532.8 936.5h0M534.7 956.4h0M537.3 966.1h0M544.4 866.7h0M550.1 947.7h0M516.4 949.7h0M550.1 971.4h0M542.4 938.3h0M542.7 964.0h0M537.9 945.7h0M547.7 907.6h0M525.9 836.4h0M544.3 822.2h0M557.5 974.3h0M544.6 822.2h0M545.9 896.1h0M528.9 932.7h0M524.4 925.0h0M547.7 943.3h0M534.8 855.4h0M545.1 822.2h0M538.5 909.3h0M542.4 822.2h0M524.1 835.2h0M549.7 971.0h0M539.0 822.2h0M535.0 974.6h0M539.7 914.6h0M540.0 931.6h0M542.4 822.2h0M546.7 951.7h0M535.3 822.2h0M529.0 859.1h0M555.8 970.9h0M535.7 872.7h0M553.1 961.1h0M534.3 901.5h0M546.3 822.2h0M555.2 960.1h0M546.0 890.1h0M526.8 956.5h0M551.8 920.0h0M537.4 822.2h0M546.7 968.3h0M545.4 822.2h0M547.7 966.1h0M535.4 822.2h0M540.4 841.8h0M517.8 926.7h0M532.8 822.2h0M541.7 947.9h0M550.0 970.0h0M535.5 871.1h0M546.4 959.8h0M546.5 887.2h0M550.7 949.6h0M543.6 916.8h0M539.1 958.7h0M535.7 822.2h0M536.8 943.5h0M543.0 939.2h0M542.1 863.1h0M538.8 972.2h0M547.4 950.2h0M549.2 891.2h0M540.1 960.6h0M531.1 824.2h0M546.3 881.7h0M550.7 918.4h0M525.3 942.5h0M547.6 911.9h0M531.2 822.2h0M541.9 865.9h0M548.6 961.6h0M548.8 935.6h0M547.4 951.7h0M538.0 969.1h0M535.6 886.4h0M549.1 973.8h0M551.2 925.2h0M544.0 884.0h0M542.7 822.2h0M539.8 960.8h0M533.0 954.4h0M540.9 972.9h0M553.3 937.1h0M543.9 974.6h0M557.2 965.2h0M552.2 961.8h0M542.1 822.2h0M545.5 906.2h0M514.5 973.5h0M547.7 906.4h0M530.6 944.9h0" stroke="#3d9bf2" stroke-width="1.25" stroke-linecap="round" stroke-opacity="0.85"/>
<path d="M574.7 974.4h0M570.2 984.1h0M573.3 978.2h0M600.0 979.1h0M578.6 977.0h0M578.8 988.3h0M597.4 982.5h0M568.6 978.3h0M567.2 967.2h0M592.2 985.6h0M583.9 987.4h0M561.7 977.0h0M586.3 988.6h0M563.9 976.9h0M592.6 986.0h0M579.3 983.0h0M586.8 988.6h0M577.6 982.4h0M593.5 982.2h0M570.8 961.1h0M578.7 980.5h0M589.7 982.1h0M572.3 985.0h0M572.4 887.2h0M578.6 985.4h0M573.1 976.1h0M567.4 865.8h0M563.9 966.7h0M581.9 987.9h0M571.1 976.7h0M571.1 983.2h0M576.8 970.6h0M593.3 985.5h0M567.4 982.0h0M572.8 931.0h0M596.3 983.1h0M594.9 980.3h0M590.7 980.5h0M570.5 972.1h0M569.3 982.0h0M571.0 966.4h0M579.2 844.2h0M578.2 960.8h0M578.8 977.1h0M602.6 976.5h0M578.8 984.0h0M563.8 977.1h0M590.0 984.0h0M577.0 981.5h0M581.7 982.1h0M568.2 981.9h0M575.4 974.8h0M576.8 987.3h0M564.7 973.7h0M574.3 955.5h0M567.7 981.8h0M573.3 978.3h0M582.0 984.7h0M595.4 983.9h0M572.6 975.6h0M571.7 953.1h0M572.2 984.3h0M588.1 987.7h0M568.7 975.6h0M582.7 987.6h0M565.9 957.1h0M593.0 985.0h0M570.0 983.8h0M600.3 971.7h0M590.8 984.2h0M577.1 982.9h0M566.6 979.0h0M560.7 971.7h0M575.1 987.0h0M583.5 986.7h0M576.9 982.3h0M570.4 980.4h0M575.8 972.8h0M576.1 940.3h0M576.7 971.5h0M569.8 981.4h0M573.4 957.6h0M571.5 975.1h0M580.1 975.2h0M579.6 988.7h0M563.6 969.2h0M577.6 980.8h0M572.4 984.7h0M562.0 975.8h0M571.2 982.0h0M571.7 985.6h0M569.6 979.2h0M572.7 986.0h0M602.5 975.8h0M593.1 983.8h0M576.0 985.9h0M584.6 987.9h0M570.7 971.6h0M576.7 908.3h0M568.3 961.0h0M570.7 982.9h0M567.7 957.1h0M574.7 985.7h0M573.4 967.3h0M572.9 985.7h0M567.0 981.1h0M597.3 979.0h0M577.1 973.1h0M588.7 986.4h0M576.1 981.2h0M587.9 986.1h0M571.1 982.3h0M597.9 980.4h0M575.5 976.6h0M570.9 921.3h0M577.9 980.4h0M575.6 945.6h0M565.9 980.6h0M574.4 971.0h0M595.1 983.9h0M588.7 984.9h0M577.3 972.0h0M570.7 974.5h0M571.5 965.1h0M579.8 987.6h0M572.7 981.5h0M588.1 985.4h0M574.7 951.5h0M573.6 972.3h0M574.4 985.5h0M563.6 976.0h0M572.9 955.4h0M577.8 987.3h0M571.2 980.6h0M571.7 955.8h0M581.2 985.6h0M571.5 982.5h0M574.5 985.8h0M571.7 969.5h0M578.8 985.8h0M577.5 981.3h0M570.5 930.0h0M590.8 982.9h0M571.9 974.0h0M570.3 978.1h0M563.6 977.4h0M593.5 978.5h0M568.0 973.8h0M585.3 978.0h0M568.7 984.0h0M577.1 977.8h0M563.8 965.6h0M598.4 975.6h0M568.8 979.6h0M572.5 986.7h0M568.5 966.5h0M574.3 967.3h0M598.0 979.8h0M574.8 976.3h0M573.8 983.9h0M571.7 985.6h0M595.2 982.7h0M576.3 985.2h0M590.1 987.3h0M597.0 982.4h0M573.3 984.2h0M579.4 980.6h0M577.8 975.4h0M583.0 965.8h0M574.9 968.1h0M566.7 967.3h0M569.3 957.2h0M586.8 988.5h0M563.3 956.5h0M581.9 985.6h0M572.6 906.5h0M586.5 986.9h0M573.5 982.5h0M564.0 973.0h0M602.4 972.9h0M564.8 933.6h0M566.5 956.6h0M577.6 975.2h0M579.6 987.5h0M570.6 981.7h0M568.8 967.6h0M570.9 982.1h0M574.4 978.8h0M582.4 988.6h0M583.5 986.6h0M596.4 980.5h0M572.6 983.2h0M593.9 984.7h0M588.0 986.4h0M575.8 975.2h0M579.5 977.5h0M573.4 981.2h0M577.6 972.9h0M573.0 979.8h0M566.9 978.0h0M566.7 973.8h0M592.5 980.5h0M576.2 986.6h0M580.8 975.4h0M561.9 971.2h0M573.6 964.9h0M568.4 978.9h0M574.6 982.7h0M574.9 952.0h0M591.0 985.3h0M598.8 978.2h0M565.3 980.2h0M598.8 980.2h0M586.0 988.9h0M603.6 968.4h0M587.6 977.9h0M570.7 963.9h0M577.8 987.8h0M593.3 983.3h0M574.3 977.6h0M567.7 977.6h0M581.8 978.8h0M581.3 984.6h0M581.9 983.5h0M578.0 985.3h0M570.1 976.5h0M576.4 972.9h0M577.9 986.8h0M599.5 979.6h0M578.9 987.7h0M579.0 987.9h0M583.1 989.1h0M578.0 982.9h0M596.3 982.1h0M566.5 947.3h0M567.8 953.5h0M583.9 983.8h0M581.3 987.2h0M574.3 980.8h0M582.7 982.6h0M600.6 977.6h0M569.2 983.1h0M566.8 979.3h0M564.7 980.5h0M569.9 978.7h0M579.2 892.5h0M567.2 976.8h0M581.3 980.5h0M572.9 971.4h0M571.7 981.8h0M598.7 977.6h0M572.6 978.7h0M567.0 978.4h0M598.5 979.6h0M595.9 983.5h0M576.3 977.3h0M570.8 969.2h0M596.7 981.6h0M574.1 969.0h0M575.6 985.5h0M586.1 988.1h0M576.4 980.4h0M572.3 922.3h0M573.5 937.2h0M565.1 957.4h0M579.1 988.2h0M560.7 935.1h0M584.6 970.2h0M580.2 979.6h0M562.1 972.6h0M581.6 969.6h0M576.3 981.2h0M570.4 985.0h0M565.7 979.3h0M584.7 988.8h0M572.1 965.0h0M576.7 979.2h0M567.1 981.6h0M572.5 978.1h0M577.2 953.2h0M570.2 972.5h0M574.5 987.6h0M564.1 956.3h0M603.7 973.9h0M574.9 971.5h0M581.1 988.6h0M581.7 988.5h0M598.9 980.6h0M575.4 986.9h0M566.3 953.2h0M588.1 982.2h0M572.2 983.1h0M586.5 986.5h0M565.4 958.0h0M590.2 984.3h0M578.7 983.2h0M576.5 982.6h0M579.0 988.6h0M567.4 960.3h0M583.9 986.2h0M569.6 976.9h0M574.3 976.0h0M569.0 981.5h0M571.1 984.3h0M574.5 983.4h0M573.2 986.9h0M565.3 969.8h0M570.8 965.2h0M581.1 985.7h0M565.7 973.5h0M575.3 971.0h0M573.6 977.6h0M593.5 983.2h0M571.6 985.8h0M576.1 983.5h0M567.6 978.4h0M573.3 979.7h0M591.7 982.3h0M589.7 986.4h0M567.5 967.3h0M579.1 988.2h0M574.3 919.7h0M568.0 979.7h0M591.9 986.5h0M566.9 965.0h0M591.2 986.4h0M581.4 989.3h0M566.1 976.6h0M568.0 980.2h0M571.9 972.7h0M573.0 933.3h0M576.9 972.6h0M570.8 971.8h0M565.1 967.2h0M576.5 982.5h0M598.5 980.0h0M568.1 979.8h0M586.4 987.7h0M601.2 973.8h0M574.8 982.9h0M590.8 979.2h0M590.4 986.7h0M597.5 980.2h0M573.7 959.0h0M574.9 955.2h0M574.7 977.4h0M588.2 986.4h0M578.2 986.8h0M587.4 986.9h0M565.3 978.3h0M577.1 981.5h0M566.4 961.7h0M580.1 987.2h0M572.2 986.2h0M574.0 983.7h0M572.6 972.2h0M574.5 972.9h0M603.0 973.2h0M578.4 983.2h0M567.0 868.4h0M584.5 987.0h0M577.2 984.5h0M575.1 975.8h0M578.4 941.2h0M591.0 979.4h0M575.9 982.8h0M580.3 980.1h0M569.3 971.1h0M568.3 971.9h0M589.4 987.2h0M572.6 979.1h0M568.3 983.0h0M576.0 969.5h0M575.0 979.5h0M572.1 979.5h0M577.8 980.8h0M572.4 984.1h0M568.8 980.0h0M571.3 971.7h0M566.0 968.0h0M577.0 983.5h0M571.1 964.3h0M578.1 980.5h0M574.8 973.0h0M567.2 909.5h0M565.5 949.8h0M569.9 982.6h0M571.9 957.3h0M599.9 977.1h0M569.5 973.2h0M571.3 970.2h0M577.3 914.1h0M603.4 969.9h0M576.0 977.3h0M582.4 980.9h0M571.9 981.1h0M567.9 973.6h0M566.3 961.4h0M579.3 987.9h0M569.5 973.2h0M580.2 979.9h0M578.6 986.6h0M583.6 985.2h0M575.4 885.4h0M577.0 983.6h0M573.9 987.5h0M574.7 977.7h0M571.3 959.5h0M561.6 932.4h0M563.3 967.9h0M573.7 978.3h0M592.4 983.3h0M578.8 987.8h0M576.4 983.7h0M575.9 970.3h0M568.8 982.2h0M575.9 976.7h0M580.3 979.9h0M577.1 976.2h0M583.2 988.1h0M569.1 952.1h0M565.4 981.2h0M575.0 946.9h0M569.3 970.5h0M574.9 987.8h0M581.4 981.7h0M599.4 979.4h0M582.9 988.0h0M564.5 936.1h0M577.9 985.6h0M573.5 976.4h0M576.8 972.4h0M583.0 987.6h0M576.9 982.3h0M577.3 983.3h0M598.5 978.7h0M568.1 978.3h0M579.4 988.1h0M574.0 958.0h0M590.5 982.4h0M572.4 973.6h0M574.1 981.9h0M602.5 976.2h0M598.3 977.4h0M568.3 977.8h0M579.5 972.2h0M577.5 958.1h0M582.2 988.6h0M567.7 957.7h0M570.2 973.0h0M575.2 979.1h0M565.4 968.3h0M566.9 942.6h0M570.1 984.8h0M567.6 977.4h0M601.7 976.4h0M576.6 984.4h0M560.3 971.8h0M571.3 982.0h0M568.7 982.7h0M584.8 989.0h0M577.4 986.8h0M581.0 956.6h0M570.0 978.1h0M588.6 987.4h0M572.8 986.9h0M567.6 966.8h0M564.6 968.8h0M577.9 986.2h0M576.4 987.0h0M567.2 925.2h0M584.2 981.2h0M580.4 988.2h0M566.7 910.0h0M568.3 978.4h0M572.9 985.1h0M566.4 979.1h0M581.6 977.4h0M581.7 986.6h0M572.8 984.2h0M578.4 988.7h0M601.5 976.6h0M574.2 972.8h0M568.8 982.5h0M570.8 953.7h0M572.8 971.8h0M587.6 988.3h0M574.5 967.4h0M568.7 974.5h0M601.4 978.4h0M569.5 975.6h0M570.6 985.5h0M578.4 984.4h0M582.5 984.7h0M572.6 978.1h0M578.4 985.7h0M569.5 954.1h0M588.9 971.3h0M571.5 980.5h0M578.6 981.9h0M601.4 977.1h0M577.7 959.2h0M574.4 984.7h0M569.7 939.1h0M578.6 986.7h0M580.1 979.6h0M576.0 963.2h0M564.2 978.1h0M601.9 976.8h0M562.9 917.9h0M591.9 986.5h0M568.5 983.5h0M574.1 970.6h0M576.1 958.9h0M592.3 983.9h0M571.2 977.4h0M595.8 983.8h0M566.3 979.7h0M592.4 985.9h0M568.0 975.4h0M566.0 934.7h0M574.2 978.3h0M597.8 978.0h0M574.9 976.9h0M572.2 982.3h0M570.9 971.3h0M587.1 983.2h0M594.6 984.4h0M573.2 981.5h0M564.1 975.4h0M578.9 986.0h0M570.5 959.4h0M575.2 983.8h0M584.0 987.3h0M571.0 984.1h0M578.3 976.2h0M601.3 976.5h0M572.5 967.6h0M573.8 963.9h0M583.2 989.0h0M587.6 983.4h0M567.6 979.2h0M597.1 979.2h0M582.4 974.3h0M572.2 985.3h0M591.7 984.0h0M578.1 984.9h0M600.9 978.8h0M580.6 945.5h0M601.1 963.6h0M588.1 987.8h0M571.6 975.6h0M564.7 979.1h0M576.5 979.3h0M570.7 961.9h0M572.9 970.6h0M569.7 982.2h0M574.0 952.4h0M577.2 955.1h0M579.7 964.9h0M569.9 984.9h0M576.3 985.0h0M599.0 980.1h0M576.7 933.5h0M573.0 972.0h0M584.3 985.9h0M584.5 987.7h0M569.2 974.1h0M577.6 985.9h0M575.6 987.3h0M597.4 975.8h0M569.4 977.7h0M578.7 953.0h0M572.8 978.6h0M570.4 940.3h0M582.4 989.1h0M596.8 982.0h0M566.7 982.6h0M597.4 981.1h0M596.2 982.9h0M578.1 982.2h0M579.1 985.1h0M572.2 971.9h0M573.9 980.7h0M579.1 825.7h0M578.6 988.6h0M581.9 982.5h0M578.5 988.3h0M590.0 982.9h0M588.8 977.4h0M581.5 988.2h0M581.8 988.4h0M567.3 970.4h0M589.9 985.7h0M567.2 980.1h0M564.2 964.9h0M578.1 982.8h0M576.4 961.5h0M581.6 986.3h0M570.1 979.8h0M576.3 975.7h0M579.2 985.3h0M569.7 969.0h0M571.4 976.3h0M591.5 986.2h0M570.3 979.9h0M564.2 979.6h0M578.7 987.7h0M571.0 978.9h0M568.5 973.9h0M570.2 967.1h0M566.6 974.0h0M576.3 973.8h0M581.0 988.3h0M568.8 977.6h0M579.1 987.3h0M584.6 978.7h0M569.5 967.5h0M578.6 978.2h0M575.2 987.3h0M565.0 980.8h0M575.0 977.8h0M603.3 971.4h0M589.1 977.9h0M574.8 985.8h0M566.2 894.7h0M562.8 977.3h0M578.0 972.5h0M571.8 965.6h0M574.4 955.2h0M570.2 980.5h0M575.9 988.1h0M571.8 974.6h0M595.0 982.0h0M578.6 981.9h0M570.0 979.3h0M567.4 961.0h0M570.3 978.7h0M586.3 986.4h0M578.5 978.9h0M566.6 974.6h0M594.3 982.5h0M598.0 980.0h0M593.7 978.1h0M563.9 974.4h0M570.1 916.1h0M573.7 985.9h0M575.8 971.3h0M577.8 981.4h0M564.6 973.0h0M576.3 984.8h0M592.0 981.6h0M571.1 976.1h0M595.1 981.6h0M579.7 984.5h0M573.4 980.5h0M589.0 982.9h0M578.8 975.9h0M575.9 976.7h0M574.0 986.3h0M572.5 986.4h0M567.0 982.1h0M575.5 980.5h0M566.6 968.7h0M581.0 985.2h0M561.4 976.6h0M567.2 979.1h0M586.1 988.7h0M579.6 976.3h0M572.6 983.8h0M572.5 983.7h0M595.2 980.1h0M567.0 950.5h0M574.6 972.7h0M563.7 974.9h0M593.2 984.6h0M569.7 979.3h0M601.4 976.7h0M572.6 982.3h0M576.1 987.9h0M574.4 975.5h0M581.0 984.8h0M571.4 981.6h0M581.7 986.6h0M575.9 984.2h0M569.5 978.8h0M564.8 976.6h0M568.0 980.1h0M603.3 974.6h0M571.4 971.2h0M560.4 970.5h0M586.8 985.4h0M571.3 981.4h0M569.9 969.4h0M603.7 967.8h0M586.6 964.4h0M582.2 988.1h0M581.3 988.8h0M578.2 985.6h0M576.4 979.3h0M591.6 984.4h0M573.5 986.3h0M576.1 982.8h0M568.5 973.3h0M578.1 987.1h0M601.7 977.5h0M577.7 984.9h0M573.7 984.2h0M600.2 978.3h0M574.4 986.1h0M579.3 986.4h0M586.2 988.8h0M575.2 984.3h0M597.0 974.2h0M581.7 982.9h0M569.3 938.1h0M575.9 984.4h0M564.5 930.9h0M578.6 984.7h0M567.8 977.5h0M575.9 982.4h0M568.3 976.2h0M590.7 980.7h0M564.0 978.6h0M573.8 980.9h0M566.3 972.3h0M572.7 982.7h0M578.6 973.0h0M571.5 984.0h0M579.4 985.7h0M584.9 989.1h0M585.2 983.4h0M570.9 937.4h0M591.3 981.3h0M574.7 986.8h0M572.6 986.5h0M568.8 971.2h0M591.6 984.9h0M582.5 972.2h0M563.3 978.5h0M584.6 987.7h0M579.4 988.0h0M565.7 973.9h0M572.0 985.2h0M567.4 968.6h0M572.2 985.8h0M577.8 979.7h0M594.1 985.0h0M567.8 981.2h0M563.4 964.8h0M594.5 982.7h0M573.5 985.2h0M581.5 984.2h0M568.6 960.4h0M580.0 973.9h0M565.7 927.5h0M569.5 967.8h0M566.4 941.6h0M571.3 972.4h0M572.1 980.5h0M579.6 984.4h0M595.8 968.1h0M571.1 950.6h0M578.4 985.2h0M584.4 988.8h0M573.1 974.7h0M572.8 966.1h0M595.2 984.1h0M579.9 983.6h0M571.0 963.7h0M575.7 920.3h0M573.3 983.8h0M585.8 981.4h0M570.7 982.2h0M577.6 974.4h0M574.5 986.0h0M580.4 986.0h0M573.1 984.1h0M589.7 987.1h0M587.0 987.7h0M568.6 973.1h0M566.8 968.4h0M581.0 987.2h0M574.1 985.6h0M568.0 974.7h0M576.7 982.0h0M584.3 965.9h0M574.4 866.5h0M577.5 981.7h0M595.0 981.9h0M598.2 979.7h0M586.2 987.8h0M587.0 983.6h0M573.4 986.0h0M579.5 988.3h0M569.1 972.7h0M569.3 973.2h0M570.2 975.4h0M585.1 981.4h0M575.9 978.2h0M579.5 989.0h0M573.1 977.1h0M570.6 954.7h0M579.2 979.7h0M576.2 978.3h0M562.7 973.1h0M568.1 981.7h0M565.7 980.3h0M576.7 984.5h0M563.0 950.2h0M575.8 988.1h0M596.4 972.5h0M561.2 972.1h0M596.6 979.5h0M577.2 961.5h0M564.7 977.8h0M578.9 984.1h0M569.3 846.8h0M583.4 986.8h0M586.5 986.8h0M578.1 986.0h0M593.2 981.2h0M572.1 981.1h0M563.1 960.4h0M575.8 985.4h0M574.1 984.9h0M573.5 984.0h0M579.6 988.0h0M563.1 960.4h0M574.3 972.6h0M573.4 985.8h0M572.8 981.7h0M568.7 971.9h0M571.2 915.9h0M579.8 988.6h0M564.0 951.2h0M575.1 979.0h0M570.3 971.3h0M574.3 968.7h0M573.0 976.6h0M572.4 923.9h0M574.1 947.5h0M582.1 985.9h0M568.7 982.3h0M581.1 986.6h0M591.9 984.9h0M568.8 972.5h0M570.1 948.5h0M569.1 972.5h0M577.1 988.2h0M578.0 951.0h0M577.5 955.5h0M592.9 978.5h0M587.3 980.8h0M576.0 973.4h0M581.1 985.0h0M575.9 985.8h0M571.6 974.2h0M580.6 979.3h0M603.3 974.6h0M596.9 982.3h0M578.6 967.4h0M570.5 985.5h0M573.5 971.5h0M585.1 987.1h0M575.4 969.9h0M583.0 988.1h0M564.0 946.3h0M565.2 911.5h0M574.9 982.0h0M569.9 980.1h0M575.3 979.6h0M575.6 981.5h0M564.4 978.7h0M567.6 982.6h0M575.0 982.8h0M566.8 976.5h0M566.2 980.4h0M569.1 976.7h0M567.1 929.5h0M576.2 984.4h0M574.1 986.5h0M590.2 985.7h0M597.5 978.8h0M571.0 972.8h0M570.7 956.7h0M582.4 979.8h0M570.4 965.9h0M568.2 978.9h0M580.0 986.2h0M562.8 957.1h0M566.3 979.1h0M572.9 976.6h0M587.1 984.2h0M569.1 980.9h0M566.5 967.8h0M597.8 971.0h0M596.3 982.0h0M575.1 980.9h0M570.2 965.2h0M589.1 983.3h0M571.8 893.8h0M577.9 979.8h0M568.2 981.8h0M571.2 972.1h0M570.3 845.3h0M565.0 972.5h0M572.9 970.3h0M575.9 981.0h0M573.0 978.0h0M574.6 974.8h0M573.3 977.6h0M580.9 988.8h0M568.6 967.1h0M568.6 979.8h0M567.8 975.5h0M577.0 987.8h0M578.5 986.0h0M571.8 982.2h0M573.2 984.5h0M574.3 985.8h0M562.3 970.6h0M574.8 986.7h0M592.3 985.7h0M581.5 985.2h0M582.9 987.7h0M571.5 981.2h0M577.7 985.1h0M578.5 984.4h0M574.5 984.2h0M591.6 982.6h0M597.0 978.0h0M592.8 985.3h0M579.4 975.5h0M599.6 979.2h0M569.5 917.6h0M572.1 857.7h0M574.3 984.8h0M584.4 980.6h0M579.8 980.1h0M571.8 981.8h0M582.6 982.5h0M560.5 972.2h0M574.2 977.6h0M566.9 975.1h0M595.9 981.3h0M578.4 981.2h0M591.9 983.3h0M578.8 988.1h0M572.2 981.6h0M571.6 971.3h0M573.7 966.6h0M593.4 981.9h0M571.1 982.8h0M575.6 987.9h0M570.0 943.1h0M571.6 965.9h0M572.9 976.7h0M592.9 984.7h0M582.3 986.3h0M576.6 974.5h0M602.4 975.6h0M565.1 978.3h0M588.4 986.9h0M581.3 983.5h0M566.6 973.9h0M569.0 975.6h0M590.2 986.1h0M567.2 982.6h0M566.5 980.9h0M575.6 960.7h0M577.9 966.1h0M588.9 987.0h0M571.4 983.7h0M565.9 977.4h0M576.8 988.3h0M566.3 978.6h0M577.6 984.9h0M573.9 978.3h0M569.2 977.9h0M572.9 985.2h0M584.9 984.6h0M575.1 983.3h0M576.4 982.2h0M585.8 988.0h0M575.5 967.0h0M588.8 987.1h0M577.9 978.1h0M567.5 981.0h0M570.0 977.3h0M572.6 976.1h0M572.3 981.8h0M568.5 970.7h0M577.7 988.5h0M568.7 977.9h0M568.5 922.8h0M577.9 985.4h0M574.4 976.2h0M574.1 979.9h0M588.5 982.1h0M577.8 984.6h0M577.9 986.1h0M571.8 972.2h0M574.2 987.4h0M586.1 987.9h0M575.8 983.9h0M595.4 983.8h0M578.1 986.3h0M572.7 983.2h0M576.9 855.0h0M601.1 978.6h0M589.6 986.6h0M569.7 971.9h0M574.5 982.7h0M579.9 988.6h0M573.3 984.9h0M577.8 961.9h0M571.8 971.6h0M563.2 972.1h0M576.0 971.0h0M563.5 972.5h0M570.3 916.1h0M570.8 980.6h0M567.2 973.8h0M579.4 975.4h0M584.6 988.4h0M566.4 976.0h0M568.6 969.2h0M572.4 985.8h0M572.8 979.9h0M575.5 952.5h0M575.7 982.9h0M577.0 978.7h0M587.0 988.3h0M561.9 975.5h0M571.0 979.5h0M581.0 967.0h0M589.2 983.9h0M573.5 968.9h0M569.6 934.4h0M579.8 925.5h0M575.5 979.1h0M580.4 988.2h0M566.8 969.8h0M567.4 978.8h0M574.6 978.5h0M568.2 972.7h0M592.3 982.9h0M570.3 978.8h0M569.0 977.8h0M566.2 975.1h0M572.1 986.2h0M570.5 973.9h0M599.8 980.0h0M574.3 967.7h0M567.6 978.5h0M568.1 956.3h0M590.2 985.7h0M572.7 985.8h0M566.3 979.3h0M571.5 893.1h0M574.0 979.1h0M576.8 979.8h0M580.7 988.7h0M593.6 980.4h0M570.3 919.4h0M577.0 984.9h0M576.1 953.5h0M577.1 900.8h0M572.0 953.2h0M598.2 981.6h0M576.3 969.1h0M563.6 966.9h0M599.7 980.1h0M570.7 974.4h0M573.5 984.6h0M565.0 975.7h0M565.5 973.7h0M577.7 988.1h0M575.1 987.5h0M578.9 986.2h0M600.5 977.8h0M579.4 986.4h0M561.2 959.9h0M571.2 976.9h0M563.7 958.1h0M596.6 981.7h0M570.9 974.0h0M572.8 976.2h0M571.6 973.3h0M586.1 974.9h0M565.3 981.1h0M579.8 986.8h0M570.0 977.2h0M573.8 977.0h0M590.3 987.2h0M568.6 924.0h0M569.7 982.8h0M598.6 976.9h0M572.5 971.7h0M587.6 984.2h0M574.7 987.3h0M594.4 980.9h0M594.6 974.2h0M571.9 982.5h0M577.1 979.3h0M575.4 964.9h0M595.2 981.5h0M566.6 978.3h0M575.3 987.0h0M572.2 985.3h0M580.5 979.0h0M581.0 983.8h0M592.7 985.3h0M586.7 982.7h0M598.4 981.5h0M584.0 988.1h0M576.0 966.5h0M573.6 976.8h0M566.4 978.6h0M577.6 976.5h0M570.1 975.0h0M600.2 972.5h0M565.9 980.7h0M574.1 983.6h0M576.0 982.9h0M593.3 981.7h0M579.8 977.2h0M578.5 985.1h0M576.5 984.7h0M563.8 959.7h0M578.2 979.8h0M576.1 985.3h0M566.0 968.6h0M602.4 976.9h0M574.7 980.6h0M577.7 988.7h0M578.4 985.6h0M598.7 979.3h0M571.5 978.3h0M564.1 914.7h0M584.2 982.8h0M563.1 972.8h0M562.7 969.7h0M572.6 959.0h0M566.0 971.0h0M574.6 985.1h0M587.6 988.1h0M581.3 988.3h0M598.6 978.4h0M575.4 985.3h0M603.1 971.8h0M569.8 962.2h0M564.4 979.7h0M595.9 982.9h0M572.1 961.6h0M563.8 967.1h0M566.3 955.1h0M573.5 987.2h0M581.7 981.8h0M571.7 957.2h0M573.0 982.8h0M584.5 977.1h0M580.3 989.1h0M571.2 975.9h0M582.5 987.7h0M569.8 980.8h0M575.6 982.1h0M572.4 944.8h0M561.8 973.5h0M569.7 984.4h0M581.7 988.6h0M579.4 987.5h0M590.4 986.6h0M585.5 953.9h0M575.3 974.0h0M578.4 971.1h0M574.5 985.4h0M591.2 986.2h0M582.6 985.2h0M592.8 984.9h0M573.0 933.7h0M573.1 985.0h0M595.9 981.4h0M565.9 980.8h0M566.6 976.3h0M579.4 975.6h0M574.1 983.9h0M577.3 986.2h0M585.0 980.5h0M570.5 981.6h0M590.0 983.8h0M566.5 944.5h0M576.9 978.2h0M586.9 986.4h0M575.5 982.4h0M565.8 981.6h0M564.6 978.6h0M578.7 988.4h0M574.0 977.0h0M592.2 983.9h0M590.8 984.3h0M594.7 982.3h0M573.3 974.2h0M595.6 975.5h0M561.9 928.8h0M580.7 988.2h0M577.0 981.6h0M588.0 984.7h0M575.9 911.9h0M597.0 976.3h0M595.4 981.2h0M569.8 951.8h0M584.2 986.9h0M598.6 979.6h0M579.4 976.1h0M576.0 979.7h0M577.0 987.5h0M571.7 984.1h0M574.1 973.1h0M577.1 987.8h0M581.4 987.6h0M578.4 980.9h0M565.6 980.4h0M575.6 975.5h0M582.6 984.0h0M563.7 977.9h0M573.3 978.7h0M564.4 979.7h0M577.3 982.2h0M573.0 983.5h0M568.1 973.9h0M601.9 974.1h0M601.6 975.6h0M570.5 965.6h0M575.4 984.2h0M567.5 979.1h0M576.6 988.1h0M568.6 980.4h0M563.5 959.9h0M589.8 979.9h0M585.9 986.7h0M569.8 909.3h0M601.5 976.8h0M585.7 988.8h0M592.1 985.8h0M600.3 978.5h0M575.0 979.9h0M578.3 974.6h0M571.4 977.9h0M575.6 976.9h0M576.8 982.1h0M564.4 963.7h0M567.3 981.3h0M574.8 987.0h0M571.7 973.0h0M570.6 981.2h0M580.0 984.2h0M579.4 987.2h0M579.8 980.0h0M582.2 988.9h0M571.5 986.0h0M569.7 984.0h0M571.4 983.9h0M596.6 982.8h0M568.2 969.0h0M578.2 984.2h0M569.8 985.0h0M562.7 904.8h0M576.9 976.1h0M596.1 981.8h0M590.5 980.7h0M574.7 977.1h0M571.9 931.9h0M568.9 982.7h0M577.9 960.2h0M570.9 981.4h0M581.1 976.9h0M577.2 986.5h0M599.0 980.7h0M579.3 983.6h0M575.6 987.6h0M581.4 987.6h0M571.7 854.8h0M599.9 979.7h0M561.9 963.7h0M578.8 975.8h0M576.3 947.8h0M575.1 986.2h0M569.4 984.5h0M573.2 980.5h0M570.7 965.3h0M577.8 988.8h0M582.1 983.5h0M563.8 975.2h0M570.7 963.0h0M603.5 975.3h0M571.8 978.9h0M568.4 983.0h0M603.1 974.6h0M576.4 972.0h0M599.3 975.7h0M565.6 981.5h0M574.7 947.8h0M567.8 976.8h0M562.7 976.0h0M578.0 985.6h0M576.2 980.7h0M567.0 978.4h0M567.9 981.1h0M574.7 983.7h0M585.8 985.7h0M579.0 975.8h0M576.3 986.5h0M566.2 960.5h0M566.0 981.7h0M582.4 979.3h0M567.2 956.2h0M562.8 957.4h0M585.8 987.8h0M567.1 976.0h0M575.0 972.9h0M571.7 969.0h0M570.5 981.9h0M578.0 981.7h0M592.7 985.4h0M593.4 985.3h0M599.9 979.2h0M578.1 988.2h0M572.9 973.0h0M561.8 975.1h0M560.5 962.9h0M576.2 976.9h0M571.7 976.9h0M565.0 973.3h0M586.8 986.3h0M593.6 985.4h0M581.8 983.9h0M583.0 981.6h0M581.6 986.6h0M580.3 985.4h0M602.1 976.8h0M572.6 983.5h0M573.4 957.0h0M571.8 975.4h0M572.9 966.0h0M577.3 988.3h0M579.0 982.7h0M566.2 969.5h0M571.1 985.7h0" stroke="#6cc7b3" stroke-width="1.25" stroke-linecap="round" stroke-opacity="0.85"/>
<path d="M637.3 822.2h0M633.1 839.4h0M614.1 962.9h0M629.7 884.2h0M624.0 937.6h0M629.8 888.5h0M635.8 899.2h0M615.7 873.2h0M613.7 962.3h0M657.4 973.9h0M624.3 894.0h0M637.4 902.9h0M619.5 929.6h0M624.4 822.2h0M614.5 822.2h0M615.0 955.4h0M615.6 873.0h0M628.2 936.6h0M636.6 896.9h0M631.3 942.5h0M631.0 940.8h0M633.4 933.4h0M620.6 851.1h0M659.5 825.9h0M609.8 946.1h0M643.5 934.7h0M624.9 845.7h0M638.6 954.2h0M606.7 969.2h0M639.1 822.2h0M608.9 953.5h0M653.8 826.7h0M650.3 963.7h0M637.1 923.3h0M632.4 840.4h0M621.2 878.6h0M622.7 938.2h0M647.6 822.2h0M622.3 822.2h0M634.3 865.1h0M623.3 857.6h0M617.0 894.0h0M610.8 959.6h0M628.6 835.2h0M619.6 907.3h0M622.3 918.6h0M641.1 822.2h0M630.8 951.5h0M645.4 824.8h0M624.9 957.5h0M637.2 855.4h0M618.5 895.1h0M614.1 890.3h0M620.6 972.1h0M624.1 822.2h0M633.4 866.6h0M622.1 854.4h0M605.7 974.1h0M633.5 953.3h0M637.9 892.3h0M640.1 917.1h0M631.9 822.2h0M635.1 948.0h0M637.8 837.5h0M605.8 970.1h0M622.3 916.5h0M638.7 822.2h0M626.2 967.4h0M635.6 827.4h0M617.5 954.2h0M624.1 888.0h0M613.7 901.1h0M655.5 906.9h0M634.6 969.7h0M628.0 887.1h0M627.5 960.7h0M633.5 889.5h0M626.5 947.7h0M654.8 914.8h0M615.1 920.9h0M624.7 971.7h0M621.6 975.0h0M624.0 882.4h0M641.2 823.1h0M631.9 941.0h0M625.9 937.0h0M638.0 973.0h0M639.1 941.9h0M624.8 920.0h0M637.9 822.2h0M636.6 839.5h0M647.0 928.4h0M632.7 901.1h0M628.6 968.5h0M618.6 897.7h0M652.6 952.8h0M621.2 822.2h0M627.1 949.5h0M607.4 970.4h0M612.1 934.6h0M629.0 844.9h0M629.7 932.3h0M618.8 956.0h0M624.9 822.2h0M631.8 918.2h0M643.0 906.8h0M625.5 971.9h0M624.3 966.6h0M635.3 971.7h0M613.0 962.2h0M649.5 843.7h0M617.5 962.2h0M637.9 822.2h0M619.9 922.5h0M631.2 915.9h0M626.3 971.1h0M619.1 937.6h0M636.0 823.8h0M626.2 973.5h0M632.7 949.8h0M614.6 822.2h0M613.2 928.6h0M624.7 822.2h0M629.7 853.4h0M609.4 975.0h0M634.1 935.9h0M625.3 822.2h0M619.0 918.5h0M611.8 955.8h0M613.5 960.5h0M631.5 919.1h0M659.6 973.1h0M632.3 957.9h0M624.5 822.2h0M619.7 915.7h0M631.8 938.0h0M629.4 913.7h0M642.6 926.8h0M605.8 965.0h0M623.7 936.6h0M616.9 900.3h0M621.5 822.2h0M605.5 965.9h0M615.2 924.8h0M623.1 894.3h0M647.8 957.1h0M644.8 944.8h0M614.5 901.4h0M622.3 844.0h0M628.7 831.9h0M622.6 951.0h0M613.2 961.1h0M626.8 864.0h0M617.3 865.0h0M634.0 854.7h0M621.7 879.7h0M616.7 822.2h0M638.7 822.2h0M636.0 822.2h0M621.8 966.9h0M637.6 822.2h0M632.9 892.6h0M625.2 895.6h0M635.6 822.2h0M643.6 836.7h0M629.8 822.2h0M622.8 822.2h0M614.3 822.2h0M622.7 822.2h0M634.7 866.2h0M628.8 876.3h0M622.6 975.0h0M625.3 822.2h0M609.0 953.8h0M632.6 879.9h0M635.5 822.2h0M620.8 822.2h0M619.9 962.2h0M620.3 974.7h0M648.7 822.2h0M631.3 963.4h0M613.7 950.6h0M622.0 921.3h0M624.5 934.1h0M636.3 907.5h0M647.5 963.3h0M615.1 892.0h0M617.3 891.8h0M609.1 965.0h0M619.1 851.7h0M631.4 887.3h0M620.0 894.2h0M623.7 927.4h0M626.0 969.4h0M637.4 822.2h0M643.4 887.0h0M624.6 869.4h0M632.4 969.2h0M631.8 921.9h0M619.3 822.2h0M636.0 822.2h0M656.8 828.8h0M624.7 918.3h0M620.9 965.6h0M615.4 966.6h0M611.7 974.3h0M635.5 849.3h0M615.9 934.8h0M630.5 930.3h0M612.6 970.2h0M618.0 938.2h0M625.4 822.2h0M632.7 958.6h0M629.6 949.4h0M643.1 910.3h0M632.8 824.1h0M623.2 822.2h0M624.4 927.1h0M620.5 967.8h0M625.9 943.6h0M614.5 960.8h0M616.8 945.1h0M622.6 889.2h0M617.2 946.7h0M628.3 822.2h0M623.8 964.4h0M629.9 936.0h0M620.0 949.0h0M622.0 822.2h0M618.3 933.0h0M631.5 822.2h0M608.2 950.1h0M614.7 906.7h0M610.1 924.3h0M639.8 822.2h0M636.7 822.2h0M636.4 924.0h0M625.7 955.9h0M632.4 974.9h0M647.8 822.2h0M637.5 856.1h0M609.1 974.9h0M643.3 881.8h0M630.0 926.2h0M629.1 886.7h0M617.7 928.2h0M627.9 875.6h0M643.9 822.2h0M648.8 822.2h0M647.6 969.5h0M639.3 887.9h0M637.3 968.3h0M620.8 971.9h0M624.4 822.2h0M639.1 897.0h0M615.7 905.2h0M627.7 822.2h0M613.4 931.6h0M624.8 971.2h0M617.1 972.7h0M624.9 962.4h0M641.0 822.2h0M632.6 835.8h0M616.0 897.4h0M616.1 947.4h0M609.4 972.6h0M618.8 972.1h0M615.0 877.2h0M615.3 822.2h0M626.0 953.7h0M634.4 969.6h0M633.0 953.5h0M630.2 898.4h0M620.6 886.7h0M641.4 877.6h0M634.9 862.2h0M617.2 959.3h0M639.0 822.2h0M630.0 958.7h0M647.7 822.2h0M626.4 930.6h0M644.6 822.2h0M638.1 946.7h0M620.3 822.2h0M624.7 822.2h0M640.2 827.6h0M637.5 822.2h0M606.6 973.9h0M626.8 822.2h0M623.8 874.0h0M636.2 930.3h0M626.5 878.6h0M636.3 963.0h0M637.2 822.2h0M636.5 917.1h0M613.4 944.5h0M629.0 964.9h0M616.2 822.2h0M625.3 852.1h0M630.2 853.8h0M627.3 838.6h0M620.0 970.5h0M612.5 933.0h0M615.1 822.2h0M633.1 935.0h0M640.6 972.5h0M607.7 973.4h0M614.1 967.9h0M626.7 931.8h0M611.5 972.7h0M626.1 872.9h0M653.0 857.1h0M618.3 920.5h0M637.2 822.2h0M625.9 925.3h0M613.7 953.3h0M643.2 822.2h0M627.5 831.3h0M619.9 960.6h0M606.4 958.0h0M637.3 828.6h0M623.9 957.1h0M622.2 824.5h0M629.6 942.6h0M622.6 973.0h0M644.9 822.2h0M626.8 972.8h0M624.5 935.6h0M625.9 822.2h0M617.5 887.7h0M626.1 841.1h0M607.6 973.0h0M629.9 948.8h0M632.4 826.7h0M627.4 933.1h0M654.3 892.1h0M619.0 864.6h0M614.0 970.5h0M644.7 938.7h0M642.5 958.9h0M633.7 847.9h0M623.9 836.9h0M640.6 871.4h0M620.6 854.1h0M636.5 901.9h0M624.0 877.0h0M606.9 974.8h0M617.5 866.9h0M627.1 882.9h0M628.9 888.5h0M628.0 911.4h0M631.8 974.9h0M612.4 961.6h0M620.1 822.2h0M624.6 947.1h0M623.1 840.5h0M609.0 933.6h0M620.6 907.3h0M619.0 940.7h0M616.9 964.4h0M607.5 973.7h0M633.8 948.6h0M627.3 865.8h0M627.0 829.8h0M639.9 822.2h0M616.1 968.8h0M636.5 822.2h0M610.7 933.0h0M631.2 822.4h0M626.6 870.3h0M630.1 839.6h0M628.0 969.4h0M628.1 878.0h0M609.8 970.9h0M615.6 975.0h0M637.5 822.2h0M655.9 965.4h0M627.3 860.7h0M624.3 911.1h0M631.0 945.9h0M645.3 876.0h0M613.8 888.4h0M614.5 822.2h0M642.2 881.5h0M636.0 939.3h0M618.4 919.0h0M614.9 822.2h0M622.1 829.8h0M637.3 889.0h0M627.3 846.5h0M630.3 933.3h0M625.0 956.3h0M620.9 933.4h0M612.8 897.4h0M623.3 845.2h0M626.0 836.4h0M610.5 972.3h0M619.9 972.2h0M608.2 955.9h0M634.1 822.2h0M621.2 877.6h0M646.6 822.2h0M616.7 893.7h0M640.3 916.0h0M643.3 822.2h0M631.1 879.7h0M629.7 835.7h0M631.4 822.2h0M622.0 953.9h0M622.3 896.4h0M612.8 937.0h0M616.7 822.2h0M616.3 925.9h0M634.1 974.7h0M622.5 971.2h0M618.0 952.2h0M625.8 850.1h0M626.1 873.4h0M628.8 912.4h0M647.0 822.2h0M631.6 918.0h0M627.3 884.3h0M642.9 822.2h0M630.4 861.7h0M624.0 869.5h0M625.7 822.2h0M615.9 954.8h0M634.2 947.5h0M619.7 861.8h0M627.4 944.3h0M637.1 822.2h0M617.8 973.2h0M623.7 892.8h0M612.5 962.3h0M628.4 859.7h0M628.9 951.2h0M616.9 974.0h0M616.8 965.7h0M624.3 951.8h0M607.7 971.4h0M623.8 968.6h0M615.1 948.5h0M628.4 822.2h0M640.2 822.2h0M619.1 914.6h0M635.2 964.0h0M654.8 845.4h0M624.1 893.9h0M642.8 970.0h0M621.5 931.0h0M645.6 953.2h0M619.4 917.7h0M615.7 822.2h0M647.0 934.9h0M638.7 889.2h0M623.8 964.4h0M641.1 822.2h0M619.3 876.0h0M615.8 944.8h0M646.1 822.2h0M638.0 822.2h0M627.1 915.6h0M630.0 972.7h0M635.1 822.2h0M625.6 885.4h0M619.4 923.1h0M619.6 850.9h0M608.8 954.9h0M623.9 958.8h0M607.1 959.6h0M607.5 955.9h0M622.0 938.8h0M614.0 962.2h0M642.8 822.2h0M632.4 959.2h0M638.3 881.3h0M616.7 970.1h0M629.5 822.2h0M617.8 858.9h0M634.6 969.1h0M633.6 917.5h0M632.0 914.2h0M629.3 973.7h0M610.8 950.7h0M627.2 841.9h0M640.0 970.0h0M631.3 961.5h0M617.7 822.2h0M649.2 975.0h0M620.1 887.8h0M628.4 956.1h0M637.4 944.5h0M632.7 897.1h0M646.0 822.2h0M623.7 924.8h0M621.9 856.1h0M618.5 934.9h0M612.4 965.1h0M627.9 925.7h0M622.1 889.0h0M606.5 974.5h0M625.9 944.9h0M630.5 830.4h0M634.2 822.2h0M622.8 842.2h0M624.3 936.3h0M606.2 972.1h0M623.2 922.1h0M617.9 898.0h0M642.8 904.0h0" stroke="#f2667c" stroke-width="1.25" stroke-linecap="round" stroke-opacity="0.85"/>
<line x1="531.0" y1="822.2" x2="546.9" y2="822.2" stroke="#3d9bf2" stroke-width="1.5"/>
<line x1="614.2" y1="822.2" x2="642.2" y2="822.2" stroke="#f2667c" stroke-width="1.5"/>
<line x1="560.0" y1="814.2" x2="560.0" y2="997.2" stroke="#777" stroke-width="0.9" stroke-dasharray="2.5,1.8"/>
<line x1="604.0" y1="814.2" x2="604.0" y2="997.2" stroke="#777" stroke-width="0.9" stroke-dasharray="2.5,1.8"/>
<line x1="498.2" y1="975.5" x2="673.4" y2="975.5" stroke="#777" stroke-width="0.9" stroke-dasharray="2.5,1.8"/>
<line x1="496.2" y1="989.4" x2="498.2" y2="989.4" stroke="#111" stroke-width="0.9"/>
<text x="494.7" y="992.4" font-size="8.4" text-anchor="end" font-weight="normal" fill="#222" >0</text>
<line x1="496.2" y1="968.1" x2="498.2" y2="968.1" stroke="#111" stroke-width="0.9"/>
<text x="494.7" y="971.1" font-size="8.4" text-anchor="end" font-weight="normal" fill="#222" >2</text>
<line x1="496.2" y1="946.8" x2="498.2" y2="946.8" stroke="#111" stroke-width="0.9"/>
<text x="494.7" y="949.8" font-size="8.4" text-anchor="end" font-weight="normal" fill="#222" >4</text>
<line x1="496.2" y1="925.5" x2="498.2" y2="925.5" stroke="#111" stroke-width="0.9"/>
<text x="494.7" y="928.5" font-size="8.4" text-anchor="end" font-weight="normal" fill="#222" >6</text>
<line x1="496.2" y1="904.2" x2="498.2" y2="904.2" stroke="#111" stroke-width="0.9"/>
<text x="494.7" y="907.2" font-size="8.4" text-anchor="end" font-weight="normal" fill="#222" >8</text>
<line x1="496.2" y1="882.9" x2="498.2" y2="882.9" stroke="#111" stroke-width="0.9"/>
<text x="494.7" y="885.9" font-size="8.4" text-anchor="end" font-weight="normal" fill="#222" >10</text>
<line x1="496.2" y1="861.6" x2="498.2" y2="861.6" stroke="#111" stroke-width="0.9"/>
<text x="494.7" y="864.6" font-size="8.4" text-anchor="end" font-weight="normal" fill="#222" >12</text>
<line x1="496.2" y1="840.3" x2="498.2" y2="840.3" stroke="#111" stroke-width="0.9"/>
<text x="494.7" y="843.3" font-size="8.4" text-anchor="end" font-weight="normal" fill="#222" >14</text>
<line x1="496.2" y1="819.0" x2="498.2" y2="819.0" stroke="#111" stroke-width="0.9"/>
<text x="494.7" y="822.0" font-size="8.4" text-anchor="end" font-weight="normal" fill="#222" >16</text>
<line x1="540.2" y1="997.2" x2="540.2" y2="999.2" stroke="#111" stroke-width="0.9"/>
<text x="540.2" y="1008.8" font-size="8.4" text-anchor="middle" font-weight="normal" fill="#222" >-0.5</text>
<line x1="582.0" y1="997.2" x2="582.0" y2="999.2" stroke="#111" stroke-width="0.9"/>
<text x="582.0" y="1008.8" font-size="8.4" text-anchor="middle" font-weight="normal" fill="#222" >0.0</text>
<line x1="623.8" y1="997.2" x2="623.8" y2="999.2" stroke="#111" stroke-width="0.9"/>
<text x="623.8" y="1008.8" font-size="8.4" text-anchor="middle" font-weight="normal" fill="#222" >0.5</text>
<line x1="665.6" y1="997.2" x2="665.6" y2="999.2" stroke="#111" stroke-width="0.9"/>
<text x="665.6" y="1008.8" font-size="8.4" text-anchor="middle" font-weight="normal" fill="#222" >1.0</text>
<text x="585.6" y="1018.3" font-size="9.2" fill="#222" text-anchor="middle">log<tspan font-size="6.5" dy="2">2</tspan><tspan dy="-2">FC</tspan></text>
<text x="481.5" y="906.8" font-size="9.2" fill="#222" text-anchor="middle" transform="rotate(-90 481.5 906.8)">-log<tspan font-size="6.5" dy="2">10</tspan><tspan dy="-2">P-value</tspan></text>
<text x="501.8" y="825.4" font-size="8.6" text-anchor="start" font-weight="normal" fill="#222" >TP: 693</text>
<text x="501.8" y="834.5" font-size="8.6" text-anchor="start" font-weight="normal" fill="#222" >TN: 1307</text>
<text x="501.8" y="843.5" font-size="8.6" text-anchor="start" font-weight="normal" fill="#222" >FP: 50</text>
<text x="501.8" y="852.3" font-size="8.6" text-anchor="start" font-weight="normal" fill="#222" >FN: 55</text>
</svg></body></html>
